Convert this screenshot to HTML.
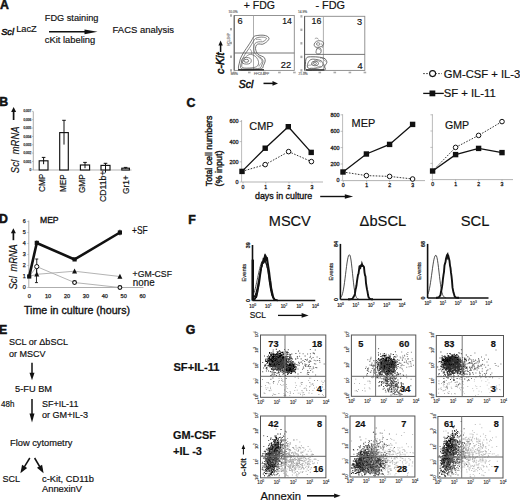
<!DOCTYPE html>
<html><head><meta charset="utf-8"><style>
html,body{margin:0;padding:0;background:#fff;}
svg{display:block;}
text{font-family:"Liberation Sans", sans-serif;}
</style></head><body>
<svg width="520" height="500" viewBox="0 0 520 500" font-family='"Liberation Sans", sans-serif' fill="#111">
<rect width="520" height="500" fill="#fff"/>
<text x="-0.1" y="8.6" font-size="12.3" font-weight="bold" stroke="#111" stroke-width="0.5">A</text>
<text x="1.2" y="34.5" font-size="9.6" font-style="italic" stroke="#111" stroke-width="0.5" textLength="12.8" lengthAdjust="spacingAndGlyphs">Scl</text>
<text x="16.2" y="32.0" font-size="9" stroke="#111" stroke-width="0.18" textLength="20.6" lengthAdjust="spacingAndGlyphs">LacZ</text>
<text x="44.8" y="20.9" font-size="9.2" stroke="#111" stroke-width="0.18" textLength="53.6" lengthAdjust="spacingAndGlyphs">FDG staining</text>
<line x1="49" y1="31.8" x2="85.0" y2="31.8" stroke="#111" stroke-width="1.4"/>
<path d="M97.5,31.8 L84.5,29.400000000000002 L84.5,34.2 Z" fill="#111" stroke="none" stroke-width="1"/>
<text x="44.8" y="42.5" font-size="9.2" stroke="#111" stroke-width="0.18" textLength="50.4" lengthAdjust="spacingAndGlyphs">cKit labeling</text>
<text x="112.6" y="33.0" font-size="9.3" stroke="#111" stroke-width="0.18" textLength="61.4" lengthAdjust="spacingAndGlyphs">FACS analysis</text>
<text x="243.8" y="8.6" font-size="10.6" stroke="#111" stroke-width="0.18" textLength="31.2" lengthAdjust="spacingAndGlyphs">+ FDG</text>
<text x="315.4" y="8.6" font-size="10.6" stroke="#111" stroke-width="0.18" textLength="29.6" lengthAdjust="spacingAndGlyphs">- FDG</text>
<rect x="234.2" y="15.5" width="60.10000000000002" height="54.900000000000006" fill="none" stroke="#888" stroke-width="0.9"/>
<line x1="234.2" y1="15.5" x2="234.2" y2="70.4" stroke="#555" stroke-width="0.9"/>
<line x1="253.5" y1="15.5" x2="253.5" y2="70.4" stroke="#999" stroke-width="0.8"/>
<line x1="234.2" y1="53.0" x2="294.3" y2="53.0" stroke="#666" stroke-width="0.9"/>
<rect x="230.0" y="69.2" width="2.0" height="2.4" fill="#aaa"/>
<rect x="233.0" y="71.7" width="2.6" height="1.6" fill="#aaa"/>
<rect x="230.0" y="55.5" width="2.0" height="2.4" fill="#aaa"/>
<rect x="248.0" y="71.7" width="2.6" height="1.6" fill="#aaa"/>
<rect x="230.0" y="41.8" width="2.0" height="2.4" fill="#aaa"/>
<rect x="263.1" y="71.7" width="2.6" height="1.6" fill="#aaa"/>
<rect x="230.0" y="28.0" width="2.0" height="2.4" fill="#aaa"/>
<rect x="278.1" y="71.7" width="2.6" height="1.6" fill="#aaa"/>
<rect x="230.0" y="14.3" width="2.0" height="2.4" fill="#aaa"/>
<rect x="293.1" y="71.7" width="2.6" height="1.6" fill="#aaa"/>
<rect x="304.6" y="16.3" width="60.19999999999999" height="54.10000000000001" fill="none" stroke="#888" stroke-width="0.9"/>
<line x1="304.6" y1="16.3" x2="304.6" y2="70.4" stroke="#555" stroke-width="0.9"/>
<line x1="323.4" y1="16.3" x2="323.4" y2="70.4" stroke="#999" stroke-width="0.8"/>
<line x1="304.6" y1="54.4" x2="364.8" y2="54.4" stroke="#666" stroke-width="0.9"/>
<rect x="300.40000000000003" y="69.2" width="2.0" height="2.4" fill="#aaa"/>
<rect x="303.4" y="71.7" width="2.6" height="1.6" fill="#aaa"/>
<rect x="300.40000000000003" y="55.7" width="2.0" height="2.4" fill="#aaa"/>
<rect x="318.5" y="71.7" width="2.6" height="1.6" fill="#aaa"/>
<rect x="300.40000000000003" y="42.1" width="2.0" height="2.4" fill="#aaa"/>
<rect x="333.5" y="71.7" width="2.6" height="1.6" fill="#aaa"/>
<rect x="300.40000000000003" y="28.6" width="2.0" height="2.4" fill="#aaa"/>
<rect x="348.6" y="71.7" width="2.6" height="1.6" fill="#aaa"/>
<rect x="300.40000000000003" y="15.1" width="2.0" height="2.4" fill="#aaa"/>
<rect x="363.6" y="71.7" width="2.6" height="1.6" fill="#aaa"/>
<text x="228.5" y="13.3" font-size="3.2" fill="#777" stroke="#777" stroke-width="0.18">10.0%</text>
<text x="230.8" y="74.5" font-size="3.2" fill="#777" stroke="#777" stroke-width="0.18">Ms%</text>
<text x="254" y="74.5" font-size="3.2" fill="#777" stroke="#777" stroke-width="0.18">FFC/LAPP</text>
<text x="298" y="13.3" font-size="3.2" fill="#777" stroke="#777" stroke-width="0.18">14.9%</text>
<text x="298.5" y="74.5" font-size="3.2" fill="#777" stroke="#777" stroke-width="0.18">21.0%</text>
<text transform="translate(229.8,46) rotate(-90)" font-size="3.2" fill="#777" stroke="#777" stroke-width="0.18">HCLSHP</text>
<text x="237.4" y="23.6" font-size="9.2" stroke="#111" stroke-width="0.18">6</text>
<text x="282.3" y="23.5" font-size="9.2" stroke="#111" stroke-width="0.18" textLength="9.6" lengthAdjust="spacingAndGlyphs">14</text>
<text x="280.7" y="68.2" font-size="9.2" stroke="#111" stroke-width="0.18" textLength="10.4" lengthAdjust="spacingAndGlyphs">22</text>
<text x="311.6" y="24.2" font-size="9.2" stroke="#111" stroke-width="0.18" textLength="9.8" lengthAdjust="spacingAndGlyphs">16</text>
<text x="357.0" y="24.6" font-size="9.2" stroke="#111" stroke-width="0.18">3</text>
<text x="357.5" y="68.9" font-size="9.2" stroke="#111" stroke-width="0.18">4</text>
<text transform="translate(224.3,74.0) rotate(-90)" font-size="10.2" font-style="italic" stroke="#111" stroke-width="0.55" textLength="21.5" lengthAdjust="spacingAndGlyphs">c-Kit</text>
<line x1="220.6" y1="52" x2="220.6" y2="45.0" stroke="#111" stroke-width="1.5"/>
<path d="M220.6,40.5 L218.4,45.5 L222.79999999999998,45.5 Z" fill="#111" stroke="none" stroke-width="1"/>
<text x="238.8" y="87.6" font-size="11" font-style="italic" stroke="#111" stroke-width="0.55" textLength="14.4" lengthAdjust="spacingAndGlyphs">Scl</text>
<line x1="263.5" y1="83.4" x2="273.0" y2="83.4" stroke="#111" stroke-width="1.5"/>
<path d="M278,83.4 L272.5,81.10000000000001 L272.5,85.7 Z" fill="#111" stroke="none" stroke-width="1"/>
<path d="M239.1,69.5 C237.4,68.2 239.2,64.1 239.6,62.0 C239.9,59.9 240.4,58.7 241.2,56.9 C242.0,55.1 243.5,52.8 244.6,51.0 C245.7,49.2 246.9,47.7 248.0,46.0 C249.1,44.3 250.3,42.4 251.3,40.9 C252.3,39.4 252.8,37.6 253.8,36.7 C254.8,35.8 255.6,35.8 257.2,35.5 C258.8,35.2 261.4,35.1 263.1,35.2 C264.8,35.3 266.3,35.8 267.3,36.3 C268.3,36.8 268.9,37.6 269.0,38.4 C269.1,39.2 268.3,40.2 267.7,40.9 C267.1,41.6 266.5,42.0 265.6,42.6 C264.7,43.2 263.4,44.1 262.3,44.3 C261.2,44.5 259.9,43.8 258.9,43.9 C257.9,44.0 257.0,44.3 256.4,45.1 C255.8,45.9 255.5,47.4 255.5,48.5 C255.5,49.6 256.0,50.8 256.4,51.8 C256.8,52.8 257.2,53.7 258.0,54.4 C258.8,55.1 260.3,55.5 261.4,56.0 C262.5,56.5 263.8,56.9 264.4,57.7 C265.0,58.6 265.3,59.8 265.2,61.1 C265.1,62.4 264.1,64.0 263.5,65.3 C262.9,66.6 263.6,67.9 261.4,68.7 C259.1,69.5 253.7,69.9 250.0,70.0 C246.3,70.1 240.8,70.8 239.1,69.5 Z" fill="none" stroke="#444" stroke-width="0.75"/>
<path d="M241.0,68.5 C239.6,67.4 241.1,63.9 241.5,62.0 C241.9,60.1 242.7,58.7 243.5,57.0 C244.3,55.3 245.4,53.7 246.5,52.0 C247.6,50.3 248.9,48.7 250.0,47.0 C251.1,45.3 252.1,43.4 253.0,42.0 C253.9,40.6 254.5,39.3 255.5,38.5 C256.5,37.7 257.7,37.5 259.0,37.3 C260.3,37.1 262.2,37.0 263.5,37.2 C264.8,37.4 266.2,37.8 266.5,38.3 C266.8,38.8 266.2,39.4 265.5,40.0 C264.8,40.6 263.7,41.5 262.5,41.8 C261.3,42.1 259.8,41.5 258.5,41.8 C257.2,42.1 255.8,42.5 255.0,43.5 C254.2,44.5 253.9,46.5 253.8,48.0 C253.7,49.5 254.0,51.2 254.5,52.5 C255.0,53.8 255.9,54.7 257.0,55.6 C258.1,56.5 260.0,56.9 261.0,57.8 C262.0,58.7 262.9,59.8 263.0,61.0 C263.1,62.2 262.4,63.8 261.8,65.0 C261.2,66.2 261.5,67.6 259.5,68.2 C257.5,68.8 253.1,68.8 250.0,68.8 C246.9,68.8 242.4,69.6 241.0,68.5 Z" fill="none" stroke="#555" stroke-width="0.7"/>
<path d="M242.3,67.5 C240.8,66.5 242.3,63.2 242.8,61.5 C243.3,59.8 244.4,58.4 245.5,57.2 C246.6,56.0 248.2,54.9 249.5,54.5 C250.8,54.1 251.8,54.5 253.0,55.0 C254.2,55.5 255.6,56.4 256.5,57.5 C257.4,58.6 258.3,60.1 258.5,61.5 C258.7,62.9 258.6,65.0 257.5,66.0 C256.4,67.0 254.5,67.5 252.0,67.8 C249.5,68.0 243.8,68.5 242.3,67.5 Z" fill="none" stroke="#555" stroke-width="0.7"/>
<ellipse cx="246.5" cy="60.8" rx="4.8" ry="3.3" fill="none" stroke="#555" stroke-width="0.7"/>
<ellipse cx="246.3" cy="60.8" rx="2.4" ry="1.5" fill="none" stroke="#444" stroke-width="0.7"/>
<path d="M238,69.8 L264,69.8" fill="none" stroke="#222" stroke-width="1.3"/>
<path d="M258.5,57.5 C260.5,58 262,59.5 262,61.5 C261.5,63.5 259.5,64.5 259,66.5 M250,49 C251.5,50.5 252,52.5 251.5,54 M256,39.5 C258,39 260,39.5 261.5,40" fill="none" stroke="#666" stroke-width="0.6"/>
<path d="M306.0,69.8 C304.4,68.6 305.4,65.0 305.5,63.0 C305.6,61.0 305.7,58.6 306.8,57.6 C307.9,56.6 309.9,56.9 312.0,56.8 C314.1,56.7 317.3,56.9 319.5,57.2 C321.7,57.5 323.8,57.9 325.0,58.8 C326.2,59.7 326.9,61.2 326.8,62.5 C326.7,63.8 324.8,65.3 324.5,66.5 C324.2,67.7 326.6,69.2 325.0,69.8 C323.4,70.4 318.2,70.2 315.0,70.2 C311.8,70.2 307.6,71.0 306.0,69.8 Z" fill="none" stroke="#333" stroke-width="0.75"/>
<path d="M308.0,68.0 C306.7,67.1 307.5,64.4 308.0,63.0 C308.5,61.6 309.5,60.1 311.0,59.5 C312.5,58.9 315.2,59.3 317.0,59.6 C318.8,59.9 321.1,60.4 322.0,61.5 C322.9,62.6 323.5,64.8 322.5,66.0 C321.5,67.2 318.4,68.1 316.0,68.4 C313.6,68.7 309.3,68.9 308.0,68.0 Z" fill="none" stroke="#444" stroke-width="0.7"/>
<ellipse cx="315" cy="63.5" rx="3.5" ry="2.3" fill="none" stroke="#444" stroke-width="0.7"/>
<ellipse cx="315" cy="63.5" rx="1.5" ry="1" fill="none" stroke="#444" stroke-width="0.6"/>
<path d="M314.2,44.0 C314.5,43.2 315.4,41.8 316.5,41.3 C317.6,40.8 319.3,40.5 320.5,40.8 C321.7,41.0 323.2,42.0 323.5,42.8 C323.8,43.6 323.2,45.1 322.5,45.8 C321.8,46.5 320.6,46.8 319.5,47.0 C318.4,47.2 316.8,47.5 316.0,47.3 C315.2,47.1 314.8,46.5 314.5,46.0 C314.2,45.5 313.9,44.8 314.2,44.0 Z" fill="none" stroke="#444" stroke-width="0.7"/>
<ellipse cx="318.2" cy="44" rx="1.8" ry="1.3" fill="none" stroke="#444" stroke-width="0.6"/>
<path d="M316.0,52.5 C315.9,51.6 316.5,49.2 317.2,48.5 C317.9,47.8 319.3,47.7 320.0,48.0 C320.7,48.3 321.1,49.6 321.2,50.5 C321.3,51.4 321.0,52.6 320.5,53.2 C320.0,53.8 318.8,54.1 318.0,54.0 C317.2,53.9 316.1,53.4 316.0,52.5 Z" fill="none" stroke="#444" stroke-width="0.7"/>
<path d="M306,69.8 L324,69.8" fill="none" stroke="#333" stroke-width="1.2"/>
<path d="M307,66.5 C309,64 310,66 312,64.5 C314,63 313,60.5 316,60.2 C318.5,60 319.5,62.5 321.5,62 M309.5,68.5 C311.5,67.5 313,68.8 315.5,67.8 C318,67 319,65.5 322,66.8 M320,58 C322.5,57.5 324,59.5 325.5,61.5 M323.5,64 C325,65 325.5,67.5 324,68.5" fill="none" stroke="#666" stroke-width="0.6"/>
<path d="M316,49.5 C317.5,48 319.5,48.5 320.5,50.5 M314.8,38.8 C316,37.5 318,38 318.5,39.5 M321,43.5 C322.5,44.5 323.5,46.5 322,48" fill="none" stroke="#666" stroke-width="0.6"/>
<text x="-0.7" y="106.2" font-size="12.3" font-weight="bold" stroke="#111" stroke-width="0.5">B</text>
<line x1="33.3" y1="111.5" x2="33.3" y2="170.2" stroke="#999" stroke-width="0.8"/>
<line x1="33.3" y1="170.0" x2="131.5" y2="170.0" stroke="#aaa" stroke-width="0.9"/>
<text x="31.4" y="170.9" font-size="3.2" text-anchor="end" fill="#444" stroke="#444" stroke-width="0.25">0</text>
<line x1="31.8" y1="169.8" x2="33.3" y2="169.8" stroke="#999" stroke-width="0.6"/>
<text x="31.4" y="162.55" font-size="3.2" text-anchor="end" fill="#444" stroke="#444" stroke-width="0.25">0.001</text>
<line x1="31.8" y1="161.45000000000002" x2="33.3" y2="161.45000000000002" stroke="#999" stroke-width="0.6"/>
<text x="31.4" y="154.20000000000002" font-size="3.2" text-anchor="end" fill="#444" stroke="#444" stroke-width="0.25">0.002</text>
<line x1="31.8" y1="153.10000000000002" x2="33.3" y2="153.10000000000002" stroke="#999" stroke-width="0.6"/>
<text x="31.4" y="145.85" font-size="3.2" text-anchor="end" fill="#444" stroke="#444" stroke-width="0.25">0.003</text>
<line x1="31.8" y1="144.75" x2="33.3" y2="144.75" stroke="#999" stroke-width="0.6"/>
<text x="31.4" y="137.5" font-size="3.2" text-anchor="end" fill="#444" stroke="#444" stroke-width="0.25">0.004</text>
<line x1="31.8" y1="136.4" x2="33.3" y2="136.4" stroke="#999" stroke-width="0.6"/>
<text x="31.4" y="129.15" font-size="3.2" text-anchor="end" fill="#444" stroke="#444" stroke-width="0.25">0.005</text>
<line x1="31.8" y1="128.05" x2="33.3" y2="128.05" stroke="#999" stroke-width="0.6"/>
<text x="31.4" y="120.80000000000001" font-size="3.2" text-anchor="end" fill="#444" stroke="#444" stroke-width="0.25">0.006</text>
<line x1="31.8" y1="119.70000000000002" x2="33.3" y2="119.70000000000002" stroke="#999" stroke-width="0.6"/>
<text x="31.4" y="112.45000000000002" font-size="3.2" text-anchor="end" fill="#444" stroke="#444" stroke-width="0.25">0.007</text>
<line x1="31.8" y1="111.35000000000002" x2="33.3" y2="111.35000000000002" stroke="#999" stroke-width="0.6"/>
<rect x="39.2" y="160.8" width="8.799999999999997" height="9.199999999999989" fill="#fff" stroke="#111" stroke-width="1.15"/>
<line x1="43.6" y1="157.4" x2="43.6" y2="164.2" stroke="#111" stroke-width="1.0"/>
<line x1="41.800000000000004" y1="157.4" x2="45.4" y2="157.4" stroke="#111" stroke-width="1.0"/>
<rect x="59.7" y="132.6" width="8.599999999999994" height="37.400000000000006" fill="#fff" stroke="#111" stroke-width="1.15"/>
<line x1="64.0" y1="120.3" x2="64.0" y2="144.6" stroke="#111" stroke-width="1.0"/>
<line x1="62.2" y1="120.3" x2="65.8" y2="120.3" stroke="#111" stroke-width="1.0"/>
<rect x="80.4" y="165.0" width="9.199999999999989" height="5.0" fill="#fff" stroke="#111" stroke-width="1.15"/>
<line x1="85.0" y1="162.4" x2="85.0" y2="168.2" stroke="#111" stroke-width="1.0"/>
<line x1="83.2" y1="162.4" x2="86.8" y2="162.4" stroke="#111" stroke-width="1.0"/>
<rect x="101.0" y="165.4" width="9.0" height="4.599999999999994" fill="#fff" stroke="#111" stroke-width="1.15"/>
<line x1="105.5" y1="163.3" x2="105.5" y2="172.6" stroke="#111" stroke-width="1.0"/>
<line x1="103.7" y1="163.3" x2="107.3" y2="163.3" stroke="#111" stroke-width="1.0"/>
<rect x="121.8" y="168.2" width="7.6000000000000085" height="1.8000000000000114" fill="#fff" stroke="#111" stroke-width="1.15"/>
<line x1="125.6" y1="167.4" x2="125.6" y2="168.6" stroke="#111" stroke-width="1.0"/>
<line x1="123.8" y1="167.4" x2="127.39999999999999" y2="167.4" stroke="#111" stroke-width="1.0"/>
<text transform="translate(19.3,173.2) rotate(-90)" font-size="10.8" font-style="italic" stroke="#111" stroke-width="0.18" textLength="13.2" lengthAdjust="spacingAndGlyphs">Scl</text>
<text transform="translate(19.3,154.2) rotate(-90)" font-size="10.5" font-style="italic" stroke="#111" stroke-width="0.18" textLength="27.6" lengthAdjust="spacingAndGlyphs">mRNA</text>
<line x1="13.6" y1="120.0" x2="13.6" y2="111.5" stroke="#111" stroke-width="1.7"/>
<path d="M13.6,107.0 L11.1,112.0 L16.1,112.0 Z" fill="#111" stroke="none" stroke-width="1"/>
<text transform="translate(44.9,173.8) rotate(-90)" font-size="8.3" text-anchor="end" stroke="#111" stroke-width="0.18" textLength="18.2" lengthAdjust="spacingAndGlyphs">CMP</text>
<text transform="translate(65.9,174.4) rotate(-90)" font-size="8.3" text-anchor="end" stroke="#111" stroke-width="0.18" textLength="17.6" lengthAdjust="spacingAndGlyphs">MEP</text>
<text transform="translate(85.3,174.4) rotate(-90)" font-size="8.3" text-anchor="end" stroke="#111" stroke-width="0.18" textLength="18.7" lengthAdjust="spacingAndGlyphs">GMP</text>
<text transform="translate(105.6,170.6) rotate(-90)" font-size="8.3" text-anchor="end" stroke="#111" stroke-width="0.18" textLength="31.4" lengthAdjust="spacingAndGlyphs">CD11b+</text>
<text transform="translate(129.0,175.3) rotate(-90)" font-size="8.3" text-anchor="end" stroke="#111" stroke-width="0.18" textLength="18.6" lengthAdjust="spacingAndGlyphs">Gr1+</text>
<text x="186.5" y="106.9" font-size="12.3" font-weight="bold" stroke="#111" stroke-width="0.5">C</text>
<text transform="translate(211.8,115.6) rotate(-90)" font-size="9.3" text-anchor="end" stroke="#111" stroke-width="0.4" textLength="70.6" lengthAdjust="spacingAndGlyphs">Total cell numbers</text>
<text transform="translate(222.2,150.4) rotate(-90)" font-size="9.3" text-anchor="end" stroke="#111" stroke-width="0.4" textLength="36.0" lengthAdjust="spacingAndGlyphs">(% input)</text>
<line x1="241.6" y1="120.0" x2="241.6" y2="182.0" stroke="#aaa" stroke-width="0.8"/>
<line x1="241.6" y1="182.0" x2="323" y2="182.0" stroke="#aaa" stroke-width="0.9"/>
<line x1="239.6" y1="121.4" x2="241.6" y2="121.4" stroke="#999" stroke-width="0.6"/>
<text x="238.4" y="123.30000000000001" font-size="5.4" text-anchor="end" fill="#222" stroke="#222" stroke-width="0.3">600</text>
<line x1="239.6" y1="141.6" x2="241.6" y2="141.6" stroke="#999" stroke-width="0.6"/>
<text x="238.4" y="143.5" font-size="5.4" text-anchor="end" fill="#222" stroke="#222" stroke-width="0.3">400</text>
<line x1="239.6" y1="161.8" x2="241.6" y2="161.8" stroke="#999" stroke-width="0.6"/>
<text x="238.4" y="163.70000000000002" font-size="5.4" text-anchor="end" fill="#222" stroke="#222" stroke-width="0.3">200</text>
<line x1="239.6" y1="182.0" x2="241.6" y2="182.0" stroke="#999" stroke-width="0.6"/>
<text x="238.4" y="183.9" font-size="5.4" text-anchor="end" fill="#222" stroke="#222" stroke-width="0.3">0</text>
<line x1="243" y1="182.0" x2="243" y2="183.5" stroke="#999" stroke-width="0.6"/>
<text x="243" y="188.6" font-size="5.2" text-anchor="middle" fill="#222" stroke="#222" stroke-width="0.3">0</text>
<line x1="265.8" y1="182.0" x2="265.8" y2="183.5" stroke="#999" stroke-width="0.6"/>
<text x="265.8" y="188.6" font-size="5.2" text-anchor="middle" fill="#222" stroke="#222" stroke-width="0.3">1</text>
<line x1="289" y1="182.0" x2="289" y2="183.5" stroke="#999" stroke-width="0.6"/>
<text x="289" y="188.6" font-size="5.2" text-anchor="middle" fill="#222" stroke="#222" stroke-width="0.3">2</text>
<line x1="312" y1="182.0" x2="312" y2="183.5" stroke="#999" stroke-width="0.6"/>
<text x="312" y="188.6" font-size="5.2" text-anchor="middle" fill="#222" stroke="#222" stroke-width="0.3">3</text>
<text x="249.3" y="130.4" font-size="11" stroke="#111" stroke-width="0.18" textLength="24.2" lengthAdjust="spacingAndGlyphs">CMP</text>
<path d="M242,171.4 L265.2,164.6 L288.6,151.6 L311.4,161.6" fill="none" stroke="#222" stroke-width="0.9" stroke-dasharray="1.6,1.4"/>
<path d="M242,171.4 L265.2,148.2 L288.3,126.7 L311.2,152.4" fill="none" stroke="#111" stroke-width="1.3"/>
<circle cx="265.2" cy="164.6" r="2.3" fill="#fff" stroke="#111" stroke-width="1.0"/>
<circle cx="288.6" cy="151.6" r="2.3" fill="#fff" stroke="#111" stroke-width="1.0"/>
<circle cx="311.4" cy="161.6" r="2.3" fill="#fff" stroke="#111" stroke-width="1.0"/>
<rect x="239.3" y="168.7" width="5.4" height="5.4" fill="#111"/>
<rect x="262.5" y="145.5" width="5.4" height="5.4" fill="#111"/>
<rect x="285.6" y="124.0" width="5.4" height="5.4" fill="#111"/>
<rect x="308.5" y="149.7" width="5.4" height="5.4" fill="#111"/>
<line x1="342.6" y1="114.2" x2="342.6" y2="180.6" stroke="#aaa" stroke-width="0.8"/>
<line x1="342.6" y1="180.6" x2="425" y2="180.6" stroke="#aaa" stroke-width="0.9"/>
<line x1="340.6" y1="114.8" x2="342.6" y2="114.8" stroke="#999" stroke-width="0.6"/>
<text x="339.40000000000003" y="116.7" font-size="5.4" text-anchor="end" fill="#222" stroke="#222" stroke-width="0.3">800</text>
<line x1="340.6" y1="131.3" x2="342.6" y2="131.3" stroke="#999" stroke-width="0.6"/>
<text x="339.40000000000003" y="133.20000000000002" font-size="5.4" text-anchor="end" fill="#222" stroke="#222" stroke-width="0.3">600</text>
<line x1="340.6" y1="147.6" x2="342.6" y2="147.6" stroke="#999" stroke-width="0.6"/>
<text x="339.40000000000003" y="149.5" font-size="5.4" text-anchor="end" fill="#222" stroke="#222" stroke-width="0.3">400</text>
<line x1="340.6" y1="164.0" x2="342.6" y2="164.0" stroke="#999" stroke-width="0.6"/>
<text x="339.40000000000003" y="165.9" font-size="5.4" text-anchor="end" fill="#222" stroke="#222" stroke-width="0.3">200</text>
<line x1="340.6" y1="180.4" x2="342.6" y2="180.4" stroke="#999" stroke-width="0.6"/>
<text x="339.40000000000003" y="182.3" font-size="5.4" text-anchor="end" fill="#222" stroke="#222" stroke-width="0.3">0</text>
<line x1="343.2" y1="180.6" x2="343.2" y2="182.1" stroke="#999" stroke-width="0.6"/>
<text x="343.2" y="187.2" font-size="5.2" text-anchor="middle" fill="#222" stroke="#222" stroke-width="0.3">0</text>
<line x1="366.6" y1="180.6" x2="366.6" y2="182.1" stroke="#999" stroke-width="0.6"/>
<text x="366.6" y="187.2" font-size="5.2" text-anchor="middle" fill="#222" stroke="#222" stroke-width="0.3">1</text>
<line x1="389.6" y1="180.6" x2="389.6" y2="182.1" stroke="#999" stroke-width="0.6"/>
<text x="389.6" y="187.2" font-size="5.2" text-anchor="middle" fill="#222" stroke="#222" stroke-width="0.3">2</text>
<line x1="412.6" y1="180.6" x2="412.6" y2="182.1" stroke="#999" stroke-width="0.6"/>
<text x="412.6" y="187.2" font-size="5.2" text-anchor="middle" fill="#222" stroke="#222" stroke-width="0.3">3</text>
<text x="351.6" y="126.8" font-size="11" stroke="#111" stroke-width="0.18" textLength="23.6" lengthAdjust="spacingAndGlyphs">MEP</text>
<path d="M343,172 L366.4,175.6 L389.6,176.4 L412.6,179" fill="none" stroke="#222" stroke-width="0.9" stroke-dasharray="1.6,1.4"/>
<path d="M343,172 L366.4,154 L389.6,144.4 L412.6,124.4" fill="none" stroke="#111" stroke-width="1.3"/>
<circle cx="366.4" cy="175.6" r="2.3" fill="#fff" stroke="#111" stroke-width="1.0"/>
<circle cx="389.6" cy="176.4" r="2.3" fill="#fff" stroke="#111" stroke-width="1.0"/>
<circle cx="412.6" cy="179" r="2.3" fill="#fff" stroke="#111" stroke-width="1.0"/>
<rect x="340.3" y="169.3" width="5.4" height="5.4" fill="#111"/>
<rect x="363.7" y="151.3" width="5.4" height="5.4" fill="#111"/>
<rect x="386.9" y="141.7" width="5.4" height="5.4" fill="#111"/>
<rect x="409.9" y="121.7" width="5.4" height="5.4" fill="#111"/>
<line x1="432.4" y1="114.2" x2="432.4" y2="179.6" stroke="#aaa" stroke-width="0.8"/>
<line x1="432.4" y1="179.6" x2="513" y2="179.6" stroke="#aaa" stroke-width="0.9"/>
<line x1="430.4" y1="114.8" x2="432.4" y2="114.8" stroke="#999" stroke-width="0.6"/>
<line x1="430.4" y1="131.0" x2="432.4" y2="131.0" stroke="#999" stroke-width="0.6"/>
<line x1="430.4" y1="147.4" x2="432.4" y2="147.4" stroke="#999" stroke-width="0.6"/>
<line x1="430.4" y1="163.4" x2="432.4" y2="163.4" stroke="#999" stroke-width="0.6"/>
<line x1="430.4" y1="179.6" x2="432.4" y2="179.6" stroke="#999" stroke-width="0.6"/>
<line x1="432.6" y1="179.6" x2="432.6" y2="181.1" stroke="#999" stroke-width="0.6"/>
<text x="432.6" y="186.2" font-size="5.2" text-anchor="middle" fill="#222" stroke="#222" stroke-width="0.3">0</text>
<line x1="455.6" y1="179.6" x2="455.6" y2="181.1" stroke="#999" stroke-width="0.6"/>
<text x="455.6" y="186.2" font-size="5.2" text-anchor="middle" fill="#222" stroke="#222" stroke-width="0.3">1</text>
<line x1="478.6" y1="179.6" x2="478.6" y2="181.1" stroke="#999" stroke-width="0.6"/>
<text x="478.6" y="186.2" font-size="5.2" text-anchor="middle" fill="#222" stroke="#222" stroke-width="0.3">2</text>
<line x1="502" y1="179.6" x2="502" y2="181.1" stroke="#999" stroke-width="0.6"/>
<text x="502" y="186.2" font-size="5.2" text-anchor="middle" fill="#222" stroke="#222" stroke-width="0.3">3</text>
<text x="444.9" y="129.2" font-size="11" stroke="#111" stroke-width="0.18" textLength="24.2" lengthAdjust="spacingAndGlyphs">GMP</text>
<path d="M432.6,171 L455.6,147.4 L478.6,135.4 L502,121.6" fill="none" stroke="#222" stroke-width="0.9" stroke-dasharray="1.6,1.4"/>
<path d="M432.6,171 L455.6,154.6 L478.6,148.4 L502,152.6" fill="none" stroke="#111" stroke-width="1.3"/>
<circle cx="455.6" cy="147.4" r="2.3" fill="#fff" stroke="#111" stroke-width="1.0"/>
<circle cx="478.6" cy="135.4" r="2.3" fill="#fff" stroke="#111" stroke-width="1.0"/>
<circle cx="502" cy="121.6" r="2.3" fill="#fff" stroke="#111" stroke-width="1.0"/>
<rect x="429.9" y="168.3" width="5.4" height="5.4" fill="#111"/>
<rect x="452.9" y="151.9" width="5.4" height="5.4" fill="#111"/>
<rect x="475.9" y="145.7" width="5.4" height="5.4" fill="#111"/>
<rect x="499.3" y="149.9" width="5.4" height="5.4" fill="#111"/>
<text x="255.0" y="198.6" font-size="9.4" stroke="#111" stroke-width="0.35" textLength="57.2" lengthAdjust="spacingAndGlyphs">days in culture</text>
<line x1="320.2" y1="196.5" x2="345.3" y2="196.5" stroke="#111" stroke-width="1.4"/>
<path d="M353.1,196.5 L344.8,194.2 L344.8,198.8 Z" fill="#111" stroke="none" stroke-width="1"/>
<path d="M423.2,73.6 L441.8,73.6" fill="none" stroke="#222" stroke-width="0.9" stroke-dasharray="1.6,1.4"/>
<circle cx="432.6" cy="73.6" r="3.0" fill="#fff" stroke="#111" stroke-width="1.1"/>
<text x="443.8" y="77.9" font-size="10.4" stroke="#111" stroke-width="0.18" textLength="76.5" lengthAdjust="spacingAndGlyphs">GM-CSF + IL-3</text>
<line x1="423.2" y1="93.4" x2="443.8" y2="93.4" stroke="#111" stroke-width="1.3"/>
<rect x="429.5" y="90.5" width="5.8" height="5.8" fill="#111"/>
<text x="443.8" y="97.0" font-size="10.4" stroke="#111" stroke-width="0.18" textLength="52.0" lengthAdjust="spacingAndGlyphs">SF + IL-11</text>
<text x="-0.9" y="222.8" font-size="12.3" font-weight="bold" stroke="#111" stroke-width="0.5">D</text>
<text x="40.0" y="223.4" font-size="9.4" stroke="#111" stroke-width="0.35" textLength="18.6" lengthAdjust="spacingAndGlyphs">MEP</text>
<line x1="28.8" y1="220.5" x2="28.8" y2="287.5" stroke="#999" stroke-width="0.8"/>
<line x1="28.8" y1="287.5" x2="143.5" y2="287.5" stroke="#999" stroke-width="0.8"/>
<text x="25.8" y="289.4" font-size="5.4" text-anchor="end" fill="#222" stroke="#222" stroke-width="0.25">0</text>
<line x1="27.3" y1="287.5" x2="28.8" y2="287.5" stroke="#999" stroke-width="0.6"/>
<text x="25.8" y="278.4" font-size="5.4" text-anchor="end" fill="#222" stroke="#222" stroke-width="0.25">1</text>
<line x1="27.3" y1="276.5" x2="28.8" y2="276.5" stroke="#999" stroke-width="0.6"/>
<text x="25.8" y="267.4" font-size="5.4" text-anchor="end" fill="#222" stroke="#222" stroke-width="0.25">2</text>
<line x1="27.3" y1="265.5" x2="28.8" y2="265.5" stroke="#999" stroke-width="0.6"/>
<text x="25.8" y="256.4" font-size="5.4" text-anchor="end" fill="#222" stroke="#222" stroke-width="0.25">3</text>
<line x1="27.3" y1="254.5" x2="28.8" y2="254.5" stroke="#999" stroke-width="0.6"/>
<text x="25.8" y="245.4" font-size="5.4" text-anchor="end" fill="#222" stroke="#222" stroke-width="0.25">4</text>
<line x1="27.3" y1="243.5" x2="28.8" y2="243.5" stroke="#999" stroke-width="0.6"/>
<text x="25.8" y="234.4" font-size="5.4" text-anchor="end" fill="#222" stroke="#222" stroke-width="0.25">5</text>
<line x1="27.3" y1="232.5" x2="28.8" y2="232.5" stroke="#999" stroke-width="0.6"/>
<text x="25.8" y="223.4" font-size="5.4" text-anchor="end" fill="#222" stroke="#222" stroke-width="0.25">6</text>
<line x1="27.3" y1="221.5" x2="28.8" y2="221.5" stroke="#999" stroke-width="0.6"/>
<text x="29.2" y="297.6" font-size="5.6" text-anchor="middle" fill="#222" stroke="#222" stroke-width="0.25">0</text>
<text x="48.099999999999994" y="297.6" font-size="5.6" text-anchor="middle" fill="#222" stroke="#222" stroke-width="0.25">10</text>
<text x="67.0" y="297.6" font-size="5.6" text-anchor="middle" fill="#222" stroke="#222" stroke-width="0.25">20</text>
<text x="85.89999999999999" y="297.6" font-size="5.6" text-anchor="middle" fill="#222" stroke="#222" stroke-width="0.25">30</text>
<text x="104.8" y="297.6" font-size="5.6" text-anchor="middle" fill="#222" stroke="#222" stroke-width="0.25">40</text>
<text x="123.7" y="297.6" font-size="5.6" text-anchor="middle" fill="#222" stroke="#222" stroke-width="0.25">50</text>
<text x="142.6" y="297.6" font-size="5.6" text-anchor="middle" fill="#222" stroke="#222" stroke-width="0.25">60</text>
<text transform="translate(17.0,289.6) rotate(-90)" font-size="10.6" font-style="italic" stroke="#111" stroke-width="0.18" textLength="13.4" lengthAdjust="spacingAndGlyphs">Scl</text>
<text transform="translate(17.0,271.4) rotate(-90)" font-size="10.4" font-style="italic" stroke="#111" stroke-width="0.18" textLength="27.0" lengthAdjust="spacingAndGlyphs">mRNA</text>
<line x1="13.4" y1="240.2" x2="13.4" y2="232.7" stroke="#111" stroke-width="1.7"/>
<path d="M13.4,228.2 L10.9,233.2 L15.9,233.2 Z" fill="#111" stroke="none" stroke-width="1"/>
<path d="M29.2,276.5 L36.76,266.6 L74.56,282.55 L119.92,287.5" fill="none" stroke="#aaa" stroke-width="0.9"/>
<path d="M29.2,276.5 L36.76,274.3 L74.56,271.22 L119.92,276.5" fill="none" stroke="#aaa" stroke-width="0.9"/>
<line x1="36.76" y1="259.0" x2="36.76" y2="274.0" stroke="#111" stroke-width="0.9"/>
<line x1="35.26" y1="259.0" x2="38.26" y2="259.0" stroke="#111" stroke-width="0.9"/>
<line x1="36.46" y1="269.0" x2="36.46" y2="282.6" stroke="#111" stroke-width="0.9"/>
<line x1="34.96" y1="282.6" x2="37.96" y2="282.6" stroke="#111" stroke-width="0.9"/>
<path d="M29.2,276.5 L36.76,242.95 L74.56,259.45 L119.92,232.5" fill="none" stroke="#111" stroke-width="2.6" stroke-linejoin="round"/>
<rect x="27.1" y="274.4" width="4.2" height="4.2" fill="#111"/>
<rect x="34.7" y="240.8" width="4.2" height="4.2" fill="#111"/>
<rect x="72.5" y="257.3" width="4.2" height="4.2" fill="#111"/>
<rect x="117.8" y="230.4" width="4.2" height="4.2" fill="#111"/>
<line x1="119.92" y1="229.7" x2="119.92" y2="235.3" stroke="#111" stroke-width="1.0"/>
<line x1="36.76" y1="240.54999999999998" x2="36.76" y2="245.35" stroke="#111" stroke-width="1.0"/>
<path d="M36.76,271.6 L39.3,276.6 L34.3,276.6 Z" fill="#111"/>
<path d="M74.56,268.5 L77.1,273.5 L72.1,273.5 Z" fill="#111"/>
<path d="M119.92,273.8 L122.4,278.8 L117.4,278.8 Z" fill="#111"/>
<circle cx="36.76" cy="266.6" r="2.1" fill="#fff" stroke="#111" stroke-width="1.0"/>
<circle cx="74.56" cy="282.55" r="1.9" fill="#fff" stroke="#111" stroke-width="1.1"/>
<circle cx="119.92" cy="287.5" r="1.9" fill="#fff" stroke="#111" stroke-width="1.1"/>
<text x="132.0" y="233.6" font-size="10.2" stroke="#111" stroke-width="0.18" textLength="15.6" lengthAdjust="spacingAndGlyphs">+SF</text>
<text x="132.6" y="276.6" font-size="9.6" stroke="#111" stroke-width="0.18" textLength="39.4" lengthAdjust="spacingAndGlyphs">+GM-CSF</text>
<text x="132.8" y="285.8" font-size="10.2" stroke="#111" stroke-width="0.18" textLength="21.8" lengthAdjust="spacingAndGlyphs">none</text>
<text x="24.0" y="313.6" font-size="10.4" stroke="#111" stroke-width="0.35" textLength="106.0" lengthAdjust="spacingAndGlyphs">Time in culture  (hours)</text>
<text x="-0.9" y="333.7" font-size="12.3" font-weight="bold" stroke="#111" stroke-width="0.5">E</text>
<text x="9.0" y="344.6" font-size="9.0" stroke="#111" stroke-width="0.18" textLength="59.0" lengthAdjust="spacingAndGlyphs">SCL or ΔbSCL</text>
<text x="9.0" y="356.6" font-size="9.0" stroke="#111" stroke-width="0.18" textLength="36.6" lengthAdjust="spacingAndGlyphs">or MSCV</text>
<line x1="32.0" y1="362.7" x2="32.0" y2="373.2" stroke="#111" stroke-width="1.5"/>
<path d="M32.0,380.2 L29.5,372.7 L34.5,372.7 Z" fill="#111" stroke="none" stroke-width="1"/>
<text x="15.0" y="391.6" font-size="9.0" stroke="#111" stroke-width="0.18" textLength="37.0" lengthAdjust="spacingAndGlyphs">5-FU BM</text>
<line x1="32.0" y1="398.9" x2="32.0" y2="413.9" stroke="#111" stroke-width="1.5"/>
<path d="M32.0,422.4 L29.5,413.4 L34.5,413.4 Z" fill="#111" stroke="none" stroke-width="1"/>
<text x="1.0" y="407.2" font-size="9.0" stroke="#111" stroke-width="0.18" textLength="13.4" lengthAdjust="spacingAndGlyphs">48h</text>
<text x="42.0" y="407.2" font-size="9.0" stroke="#111" stroke-width="0.18" textLength="36.4" lengthAdjust="spacingAndGlyphs">SF+IL-11</text>
<text x="42.0" y="417.6" font-size="9.0" stroke="#111" stroke-width="0.18" textLength="46.0" lengthAdjust="spacingAndGlyphs">or GM+IL-3</text>
<text x="10.0" y="446.4" font-size="9.2" stroke="#111" stroke-width="0.18" textLength="62.4" lengthAdjust="spacingAndGlyphs">Flow cytometry</text>
<line x1="29.8" y1="458.0" x2="24.344769767168604" y2="466.8212233552167" stroke="#111" stroke-width="1.5"/>
<path d="M20.40,473.20 L22.06,464.82 L27.16,467.97 Z" fill="#111" stroke="none" stroke-width="1"/>
<line x1="34.6" y1="458.0" x2="39.77880994999172" y2="466.7464345822082" stroke="#111" stroke-width="1.5"/>
<path d="M43.60,473.20 L36.94,467.84 L42.11,464.79 Z" fill="#111" stroke="none" stroke-width="1"/>
<text x="2.4" y="482.4" font-size="9.0" stroke="#111" stroke-width="0.18" textLength="17.6" lengthAdjust="spacingAndGlyphs">SCL</text>
<text x="42.0" y="482.2" font-size="9.0" stroke="#111" stroke-width="0.18" textLength="52.0" lengthAdjust="spacingAndGlyphs">c-Kit, CD11b</text>
<text x="42.0" y="492.4" font-size="9.0" stroke="#111" stroke-width="0.18" textLength="40.0" lengthAdjust="spacingAndGlyphs">AnnexinV</text>
<text x="188.2" y="223.5" font-size="12.3" font-weight="bold" stroke="#111" stroke-width="0.5">F</text>
<text x="268.8" y="226.3" font-size="14.5" stroke="#111" stroke-width="0.18" textLength="42.0" lengthAdjust="spacingAndGlyphs">MSCV</text>
<text x="359.6" y="226.3" font-size="14.5" stroke="#111" stroke-width="0.18" textLength="46.6" lengthAdjust="spacingAndGlyphs">ΔbSCL</text>
<text x="460.8" y="226.3" font-size="14.5" stroke="#111" stroke-width="0.18" textLength="28.6" lengthAdjust="spacingAndGlyphs">SCL</text>
<line x1="252.8" y1="259.6" x2="252.8" y2="300.5" stroke="#111" stroke-width="2.4"/>
<line x1="252.5" y1="245.0" x2="252.5" y2="300.5" stroke="#111" stroke-width="1.6"/>
<line x1="252.5" y1="300.5" x2="315.3" y2="300.5" stroke="#111" stroke-width="1.6"/>
<text transform="translate(250.1,248.2) rotate(-90)" font-size="5.4" font-weight="bold" fill="#222" stroke="#222" stroke-width="0.2">39</text>
<text transform="translate(250.1,302.1) rotate(-90)" font-size="5.4" font-weight="bold" fill="#222" stroke="#222" stroke-width="0.2">0</text>
<text transform="translate(245.5,281.75) rotate(-90)" font-size="5.2" fill="#222" stroke="#222" stroke-width="0.18" textLength="18" lengthAdjust="spacingAndGlyphs">Events</text>
<text x="251.7" y="307.7" font-size="5.0" text-anchor="middle" fill="#222" stroke="#222" stroke-width="0.2" textLength="4.8" lengthAdjust="spacingAndGlyphs">10</text>
<text x="255.1" y="305.7" font-size="3.4" text-anchor="middle" fill="#222" stroke="#222" stroke-width="0.12">0</text>
<text x="267.4" y="307.7" font-size="5.0" text-anchor="middle" fill="#222" stroke="#222" stroke-width="0.2" textLength="4.8" lengthAdjust="spacingAndGlyphs">10</text>
<text x="270.8" y="305.7" font-size="3.4" text-anchor="middle" fill="#222" stroke="#222" stroke-width="0.12">1</text>
<text x="283.09999999999997" y="307.7" font-size="5.0" text-anchor="middle" fill="#222" stroke="#222" stroke-width="0.2" textLength="4.8" lengthAdjust="spacingAndGlyphs">10</text>
<text x="286.5" y="305.7" font-size="3.4" text-anchor="middle" fill="#222" stroke="#222" stroke-width="0.12">2</text>
<text x="298.8" y="307.7" font-size="5.0" text-anchor="middle" fill="#222" stroke="#222" stroke-width="0.2" textLength="4.8" lengthAdjust="spacingAndGlyphs">10</text>
<text x="302.20000000000005" y="305.7" font-size="3.4" text-anchor="middle" fill="#222" stroke="#222" stroke-width="0.12">3</text>
<text x="314.5" y="307.7" font-size="5.0" text-anchor="middle" fill="#222" stroke="#222" stroke-width="0.2" textLength="4.8" lengthAdjust="spacingAndGlyphs">10</text>
<text x="317.90000000000003" y="305.7" font-size="3.4" text-anchor="middle" fill="#222" stroke="#222" stroke-width="0.12">4</text>
<path d="M253.2,294.8 L253.7,293.6 L254.2,292.1 L254.7,290.5 L255.2,288.7 L255.7,286.7 L256.2,284.5 L256.7,282.3 L257.2,279.9 L257.7,277.5 L258.2,275.2 L258.7,272.8 L259.2,270.6 L259.7,268.5 L260.2,266.6 L260.7,264.8 L261.2,263.4 L261.7,262.1 L262.2,261.2 L262.7,260.5 L263.2,260.0 L263.7,259.8 L264.2,259.7 L264.7,259.8 L265.2,260.2 L265.7,261.1 L266.2,262.6 L266.7,264.7 L267.2,267.2 L267.7,270.2 L268.2,273.6 L268.7,277.0 L269.2,280.6 L269.7,284.0 L270.2,287.1 L270.7,290.0 L271.2,292.4 L271.7,294.4 L272.2,296.0 L272.7,297.3 L273.2,298.2 L273.7,298.9 L274.2,299.4 L274.7,299.7 L275.2,299.9 L275.7,300.0" fill="none" stroke="#222" stroke-width="0.8"/>
<path d="M253.2,299.9 L253.7,299.7 L254.2,299.4 L254.7,299.0 L255.2,298.3 L255.7,296.8 L256.2,296.9 L256.7,295.4 L257.2,292.7 L257.7,290.5 L258.2,287.3 L258.7,285.3 L259.2,282.0 L259.7,278.7 L260.2,274.7 L260.7,271.6 L261.2,267.4 L261.7,266.4 L262.2,262.8 L262.7,262.2 L263.2,261.0 L263.7,257.9 L264.2,259.3 L264.7,256.9 L265.2,258.5 L265.7,256.3 L266.2,257.4 L266.7,259.7 L267.2,259.1 L267.7,262.6 L268.2,265.8 L268.7,269.2 L269.2,272.2 L269.7,276.6 L270.2,280.2 L270.7,283.1 L271.2,288.0 L271.7,289.9 L272.2,292.6 L272.7,294.8 L273.2,297.0 L273.7,298.0 L274.2,298.9 L274.7,299.5 L275.2,299.8 L275.7,300.0 L276.2,300.1 L276.7,300.1 L277.2,300.2 L277.7,300.2" fill="none" stroke="#111" stroke-width="1.9"/>
<path d="M253.2,298.5 L253.7,297.5 L254.2,297.2 L254.7,295.7 L255.2,295.5 L255.7,293.7 L256.2,292.2 L256.7,290.1 L257.2,288.1 L257.7,285.7 L258.2,282.6 L258.7,280.7 L259.2,277.1 L259.7,275.3 L260.2,271.9 L260.7,270.5 L261.2,269.1 L261.7,266.7 L262.2,264.9 L262.7,262.9 L263.2,262.5 L263.7,263.0 L264.2,262.2 L264.7,261.2 L265.2,261.2 L265.7,262.3 L266.2,263.9 L266.7,264.9 L267.2,267.5 L267.7,268.6 L268.2,271.8 L268.7,275.8 L269.2,279.7 L269.7,283.7 L270.2,285.9 L270.7,290.0 L271.2,291.4 L271.7,294.7 L272.2,295.8 L272.7,297.0 L273.2,298.2 L273.7,298.9 L274.2,299.4 L274.7,299.7 L275.2,299.9 L275.7,300.0 L276.2,300.1 L276.7,300.2" fill="none" stroke="#111" stroke-width="1.2"/>
<line x1="340.4" y1="243.9" x2="340.4" y2="299.5" stroke="#111" stroke-width="1.6"/>
<line x1="340.4" y1="299.5" x2="401.9" y2="299.5" stroke="#111" stroke-width="1.6"/>
<text transform="translate(338.0,247.1) rotate(-90)" font-size="5.4" font-weight="bold" fill="#222" stroke="#222" stroke-width="0.2">84</text>
<text transform="translate(338.0,301.1) rotate(-90)" font-size="5.4" font-weight="bold" fill="#222" stroke="#222" stroke-width="0.2">0</text>
<text transform="translate(333.4,280.7) rotate(-90)" font-size="5.2" fill="#222" stroke="#222" stroke-width="0.18" textLength="18" lengthAdjust="spacingAndGlyphs">Events</text>
<text x="339.59999999999997" y="306.7" font-size="5.0" text-anchor="middle" fill="#222" stroke="#222" stroke-width="0.2" textLength="4.8" lengthAdjust="spacingAndGlyphs">10</text>
<text x="343.0" y="304.7" font-size="3.4" text-anchor="middle" fill="#222" stroke="#222" stroke-width="0.12">0</text>
<text x="354.97499999999997" y="306.7" font-size="5.0" text-anchor="middle" fill="#222" stroke="#222" stroke-width="0.2" textLength="4.8" lengthAdjust="spacingAndGlyphs">10</text>
<text x="358.375" y="304.7" font-size="3.4" text-anchor="middle" fill="#222" stroke="#222" stroke-width="0.12">1</text>
<text x="370.34999999999997" y="306.7" font-size="5.0" text-anchor="middle" fill="#222" stroke="#222" stroke-width="0.2" textLength="4.8" lengthAdjust="spacingAndGlyphs">10</text>
<text x="373.75" y="304.7" font-size="3.4" text-anchor="middle" fill="#222" stroke="#222" stroke-width="0.12">2</text>
<text x="385.72499999999997" y="306.7" font-size="5.0" text-anchor="middle" fill="#222" stroke="#222" stroke-width="0.2" textLength="4.8" lengthAdjust="spacingAndGlyphs">10</text>
<text x="389.125" y="304.7" font-size="3.4" text-anchor="middle" fill="#222" stroke="#222" stroke-width="0.12">3</text>
<text x="401.09999999999997" y="306.7" font-size="5.0" text-anchor="middle" fill="#222" stroke="#222" stroke-width="0.2" textLength="4.8" lengthAdjust="spacingAndGlyphs">10</text>
<text x="404.5" y="304.7" font-size="3.4" text-anchor="middle" fill="#222" stroke="#222" stroke-width="0.12">4</text>
<path d="M341.0,297.4 L341.5,296.5 L342.0,295.3 L342.5,293.7 L343.0,291.7 L343.5,289.1 L344.0,286.1 L344.5,282.6 L345.0,278.8 L345.5,274.7 L346.0,270.6 L346.5,266.7 L347.0,263.0 L347.5,259.9 L348.0,257.5 L348.5,255.8 L349.0,255.0 L349.5,254.8 L350.0,255.4 L350.5,257.2 L351.0,260.0 L351.5,263.9 L352.0,268.4 L352.5,273.3 L353.0,278.2 L353.5,282.8 L354.0,286.9 L354.5,290.3 L355.0,293.0 L355.5,295.1 L356.0,296.6 L356.5,297.6 L357.0,298.3 L357.5,298.7 L358.0,298.9 L358.5,299.1 L359.0,299.1" fill="none" stroke="#222" stroke-width="0.8"/>
<path d="M348.0,299.2 L348.5,299.2 L349.0,299.2 L349.5,299.2 L350.0,299.2 L350.5,299.1 L351.0,299.1 L351.5,299.0 L352.0,298.8 L352.5,298.4 L353.0,297.9 L353.5,297.1 L354.0,296.1 L354.5,295.3 L355.0,293.4 L355.5,289.8 L356.0,287.7 L356.5,285.3 L357.0,281.1 L357.5,277.9 L358.0,274.9 L358.5,273.8 L359.0,270.2 L359.5,266.3 L360.0,266.0 L360.5,267.0 L361.0,264.7 L361.5,266.8 L362.0,264.3 L362.5,265.8 L363.0,265.8 L363.5,266.3 L364.0,267.1 L364.5,272.3 L365.0,275.2 L365.5,276.4 L366.0,283.2 L366.5,286.3 L367.0,289.4 L367.5,291.6 L368.0,294.8 L368.5,297.1 L369.0,297.8 L369.5,298.5 L370.0,298.9 L370.5,299.1 L371.0,299.1 L371.5,299.2 L372.0,299.2 L372.5,299.2 L373.0,299.2" fill="none" stroke="#111" stroke-width="1.9"/>
<line x1="427.6" y1="243.9" x2="427.6" y2="298.0" stroke="#111" stroke-width="1.6"/>
<line x1="427.6" y1="298.0" x2="488.5" y2="298.0" stroke="#111" stroke-width="1.6"/>
<text transform="translate(425.20000000000005,247.1) rotate(-90)" font-size="5.4" font-weight="bold" fill="#222" stroke="#222" stroke-width="0.2">68</text>
<text transform="translate(425.20000000000005,299.6) rotate(-90)" font-size="5.4" font-weight="bold" fill="#222" stroke="#222" stroke-width="0.2">0</text>
<text transform="translate(420.6,279.95) rotate(-90)" font-size="5.2" fill="#222" stroke="#222" stroke-width="0.18" textLength="18" lengthAdjust="spacingAndGlyphs">Events</text>
<text x="426.8" y="305.2" font-size="5.0" text-anchor="middle" fill="#222" stroke="#222" stroke-width="0.2" textLength="4.8" lengthAdjust="spacingAndGlyphs">10</text>
<text x="430.20000000000005" y="303.2" font-size="3.4" text-anchor="middle" fill="#222" stroke="#222" stroke-width="0.12">0</text>
<text x="442.02500000000003" y="305.2" font-size="5.0" text-anchor="middle" fill="#222" stroke="#222" stroke-width="0.2" textLength="4.8" lengthAdjust="spacingAndGlyphs">10</text>
<text x="445.42500000000007" y="303.2" font-size="3.4" text-anchor="middle" fill="#222" stroke="#222" stroke-width="0.12">1</text>
<text x="457.25" y="305.2" font-size="5.0" text-anchor="middle" fill="#222" stroke="#222" stroke-width="0.2" textLength="4.8" lengthAdjust="spacingAndGlyphs">10</text>
<text x="460.65000000000003" y="303.2" font-size="3.4" text-anchor="middle" fill="#222" stroke="#222" stroke-width="0.12">2</text>
<text x="472.47499999999997" y="305.2" font-size="5.0" text-anchor="middle" fill="#222" stroke="#222" stroke-width="0.2" textLength="4.8" lengthAdjust="spacingAndGlyphs">10</text>
<text x="475.875" y="303.2" font-size="3.4" text-anchor="middle" fill="#222" stroke="#222" stroke-width="0.12">3</text>
<text x="487.7" y="305.2" font-size="5.0" text-anchor="middle" fill="#222" stroke="#222" stroke-width="0.2" textLength="4.8" lengthAdjust="spacingAndGlyphs">10</text>
<text x="491.1" y="303.2" font-size="3.4" text-anchor="middle" fill="#222" stroke="#222" stroke-width="0.12">4</text>
<path d="M428.0,294.0 L428.5,292.5 L429.0,290.7 L429.5,288.4 L430.0,285.8 L430.5,282.7 L431.0,279.3 L431.5,275.7 L432.0,272.0 L432.5,268.3 L433.0,264.9 L433.5,261.8 L434.0,259.2 L434.5,257.3 L435.0,256.0 L435.5,255.4 L436.0,255.3 L436.5,256.0 L437.0,257.7 L437.5,260.3 L438.0,263.6 L438.5,267.6 L439.0,272.0 L439.5,276.4 L440.0,280.6 L440.5,284.5 L441.0,287.8 L441.5,290.6 L442.0,292.7 L442.5,294.4 L443.0,295.5 L443.5,296.4 L444.0,296.9 L444.5,297.2 L445.0,297.4 L445.5,297.6 L446.0,297.6" fill="none" stroke="#222" stroke-width="0.8"/>
<path d="M436.0,297.7 L436.5,297.7 L437.0,297.7 L437.5,297.6 L438.0,297.5 L438.5,297.4 L439.0,297.1 L439.5,296.5 L440.0,295.7 L440.5,294.9 L441.0,291.8 L441.5,289.8 L442.0,286.9 L442.5,283.4 L443.0,278.5 L443.5,274.9 L444.0,271.8 L444.5,265.5 L445.0,263.6 L445.5,262.1 L446.0,258.8 L446.5,256.9 L447.0,255.1 L447.5,254.4 L448.0,257.5 L448.5,256.7 L449.0,258.7 L449.5,260.8 L450.0,265.6 L450.5,267.9 L451.0,272.7 L451.5,276.2 L452.0,280.9 L452.5,287.4 L453.0,290.1 L453.5,292.6 L454.0,294.0 L454.5,295.9 L455.0,296.8 L455.5,297.2 L456.0,297.5 L456.5,297.6 L457.0,297.7 L457.5,297.7 L458.0,297.7 L458.5,297.7 L459.0,297.7" fill="none" stroke="#111" stroke-width="1.9"/>
<text x="249.8" y="317.6" font-size="8.4" stroke="#111" stroke-width="0.18" textLength="16.2" lengthAdjust="spacingAndGlyphs">SCL</text>
<line x1="278" y1="315.4" x2="302.1" y2="315.4" stroke="#111" stroke-width="1.3"/>
<path d="M308.6,315.4 L301.6,313.09999999999997 L301.6,317.7 Z" fill="#111" stroke="none" stroke-width="1"/>
<text x="185.8" y="333.9" font-size="12.3" font-weight="bold" stroke="#111" stroke-width="0.5">G</text>
<text x="173.4" y="371.3" font-size="10.8" font-weight="bold" stroke="#111" stroke-width="0.18" textLength="46.2" lengthAdjust="spacingAndGlyphs">SF+IL-11</text>
<text x="173.0" y="439.2" font-size="10.8" font-weight="bold" stroke="#111" stroke-width="0.18" textLength="43.0" lengthAdjust="spacingAndGlyphs">GM-CSF</text>
<text x="173.0" y="454.6" font-size="10.8" font-weight="bold" stroke="#111" stroke-width="0.18" textLength="29.0" lengthAdjust="spacingAndGlyphs">+IL -3</text>
<text transform="translate(246.4,476.2) rotate(-90)" font-size="8.0" stroke="#111" stroke-width="0.3" textLength="17.8" lengthAdjust="spacingAndGlyphs">c-Kit</text>
<line x1="243.4" y1="454.5" x2="243.4" y2="448.5" stroke="#111" stroke-width="1.0"/>
<path d="M243.4,444.5 L241.6,449.0 L245.20000000000002,449.0 Z" fill="#111" stroke="none" stroke-width="1"/>
<text x="260.6" y="499.6" font-size="10.6" stroke="#111" stroke-width="0.18" textLength="40.5" lengthAdjust="spacingAndGlyphs">Annexin</text>
<line x1="307" y1="495.8" x2="334.6" y2="495.8" stroke="#111" stroke-width="1.6"/>
<path d="M340.6,495.8 L334.1,493.5 L334.1,498.1 Z" fill="#111" stroke="none" stroke-width="1"/>
<path d="M276.3,362.2h1v1h-1zM276.5,359.4h1v1h-1zM273.3,359.8h1v1h-1zM282.5,361.9h1v1h-1zM282.2,361.3h1v1h-1zM279.3,361.1h1v1h-1zM270.0,363.4h1v1h-1zM279.8,362.2h1v1h-1zM269.9,354.6h1v1h-1zM273.5,358.9h1v1h-1zM278.9,360.3h1v1h-1zM279.8,358.3h1v1h-1zM278.9,361.8h1v1h-1zM274.5,366.3h1v1h-1zM280.0,364.6h1v1h-1zM274.7,358.0h1v1h-1zM276.0,360.1h1v1h-1zM280.3,361.3h1v1h-1zM275.5,357.2h1v1h-1zM275.2,364.7h1v1h-1zM273.9,361.3h1v1h-1zM279.4,355.4h1v1h-1zM277.7,364.9h1v1h-1zM268.4,359.4h1v1h-1zM277.0,357.7h1v1h-1zM279.7,360.3h1v1h-1zM270.9,363.3h1v1h-1zM280.5,363.7h1v1h-1zM284.0,361.7h1v1h-1zM278.0,356.1h1v1h-1zM280.3,358.4h1v1h-1zM275.5,356.2h1v1h-1zM273.1,358.7h1v1h-1zM283.3,353.6h1v1h-1zM270.9,361.3h1v1h-1zM284.0,362.5h1v1h-1zM269.0,351.9h1v1h-1zM279.1,358.0h1v1h-1zM272.5,363.8h1v1h-1zM282.5,361.0h1v1h-1zM278.6,362.0h1v1h-1zM284.7,362.6h1v1h-1zM279.8,362.4h1v1h-1zM270.4,364.9h1v1h-1zM281.8,362.3h1v1h-1zM268.6,358.3h1v1h-1zM281.3,354.3h1v1h-1zM276.7,364.0h1v1h-1zM271.6,366.0h1v1h-1zM280.0,360.0h1v1h-1zM279.0,362.7h1v1h-1zM278.0,364.4h1v1h-1zM274.5,359.1h1v1h-1zM282.2,360.6h1v1h-1zM273.5,363.7h1v1h-1zM284.1,359.0h1v1h-1zM271.3,360.0h1v1h-1zM276.8,359.5h1v1h-1zM283.8,357.0h1v1h-1zM283.2,356.2h1v1h-1zM274.0,362.6h1v1h-1zM282.6,363.4h1v1h-1zM279.1,361.0h1v1h-1zM278.2,362.5h1v1h-1zM276.7,361.4h1v1h-1zM280.1,360.5h1v1h-1zM280.9,362.4h1v1h-1zM286.5,361.6h1v1h-1zM275.6,359.2h1v1h-1zM277.4,363.6h1v1h-1zM276.0,361.8h1v1h-1zM285.8,351.8h1v1h-1zM272.4,361.3h1v1h-1zM279.3,361.3h1v1h-1zM275.6,362.7h1v1h-1zM278.8,358.7h1v1h-1zM288.4,361.7h1v1h-1zM275.0,360.2h1v1h-1zM276.5,360.3h1v1h-1zM265.2,358.8h1v1h-1zM282.0,356.5h1v1h-1zM277.2,363.7h1v1h-1zM281.4,365.6h1v1h-1zM269.8,359.3h1v1h-1zM276.0,362.6h1v1h-1zM282.4,351.4h1v1h-1zM282.4,355.6h1v1h-1zM280.6,355.4h1v1h-1zM278.3,364.6h1v1h-1zM276.8,361.1h1v1h-1zM281.1,361.0h1v1h-1zM277.1,365.7h1v1h-1zM282.2,359.5h1v1h-1zM289.9,356.6h1v1h-1zM281.6,359.6h1v1h-1zM278.1,362.9h1v1h-1zM278.5,362.7h1v1h-1zM270.6,355.4h1v1h-1zM280.3,357.2h1v1h-1zM272.9,355.5h1v1h-1zM283.2,363.0h1v1h-1zM284.1,357.3h1v1h-1zM277.5,356.6h1v1h-1zM280.9,365.9h1v1h-1zM273.5,365.8h1v1h-1zM281.9,359.9h1v1h-1zM268.6,365.3h1v1h-1zM277.1,358.5h1v1h-1zM279.3,361.9h1v1h-1zM284.2,357.0h1v1h-1zM282.6,365.6h1v1h-1zM284.0,359.9h1v1h-1zM274.2,364.0h1v1h-1zM278.0,360.9h1v1h-1zM283.9,359.6h1v1h-1zM267.2,359.2h1v1h-1zM269.2,363.3h1v1h-1zM278.9,358.4h1v1h-1zM277.5,363.3h1v1h-1zM277.9,365.0h1v1h-1zM277.2,364.0h1v1h-1zM284.2,366.0h1v1h-1zM274.5,363.5h1v1h-1zM269.1,356.8h1v1h-1zM268.7,364.1h1v1h-1zM272.0,360.5h1v1h-1zM276.6,360.4h1v1h-1zM274.8,361.3h1v1h-1zM285.6,360.7h1v1h-1zM279.9,363.9h1v1h-1zM276.6,356.2h1v1h-1zM275.0,364.2h1v1h-1zM270.1,358.5h1v1h-1zM282.0,363.2h1v1h-1zM277.5,363.2h1v1h-1zM278.2,356.5h1v1h-1zM270.5,358.3h1v1h-1zM281.7,358.6h1v1h-1zM273.4,357.9h1v1h-1zM270.6,360.1h1v1h-1zM272.2,361.7h1v1h-1zM266.9,361.6h1v1h-1zM274.6,353.9h1v1h-1zM280.8,359.6h1v1h-1zM267.5,357.5h1v1h-1zM278.8,358.9h1v1h-1zM281.0,363.0h1v1h-1zM280.5,361.6h1v1h-1zM283.5,362.7h1v1h-1zM279.5,353.4h1v1h-1zM281.5,365.0h1v1h-1zM276.2,358.9h1v1h-1zM286.2,354.5h1v1h-1zM279.6,368.7h1v1h-1zM273.3,362.8h1v1h-1zM286.0,360.1h1v1h-1zM280.0,363.6h1v1h-1zM273.4,360.2h1v1h-1zM278.8,363.3h1v1h-1zM277.3,359.8h1v1h-1zM272.9,359.3h1v1h-1zM281.5,360.8h1v1h-1zM273.7,357.6h1v1h-1zM289.5,364.4h1v1h-1zM280.4,351.7h1v1h-1zM280.3,362.1h1v1h-1zM285.1,362.0h1v1h-1zM277.2,362.3h1v1h-1zM268.8,364.0h1v1h-1zM279.0,358.1h1v1h-1zM283.5,366.7h1v1h-1zM271.2,358.2h1v1h-1zM278.8,361.1h1v1h-1zM275.7,357.2h1v1h-1zM287.0,364.0h1v1h-1zM272.1,355.9h1v1h-1zM285.2,363.9h1v1h-1zM285.7,363.3h1v1h-1zM273.6,361.4h1v1h-1zM267.8,358.0h1v1h-1zM277.2,362.3h1v1h-1zM274.2,360.1h1v1h-1zM279.6,361.8h1v1h-1zM280.4,361.2h1v1h-1zM276.0,363.2h1v1h-1zM277.7,357.7h1v1h-1zM274.7,360.5h1v1h-1zM277.0,361.0h1v1h-1zM277.5,361.1h1v1h-1zM276.9,356.2h1v1h-1zM279.4,364.1h1v1h-1zM279.5,359.9h1v1h-1zM279.5,357.2h1v1h-1zM269.0,360.7h1v1h-1zM273.3,363.0h1v1h-1zM272.6,351.6h1v1h-1zM272.8,365.9h1v1h-1zM275.8,355.8h1v1h-1zM274.1,362.3h1v1h-1zM279.7,361.1h1v1h-1zM284.2,362.9h1v1h-1zM277.4,362.5h1v1h-1zM284.9,363.8h1v1h-1zM282.1,356.8h1v1h-1zM276.8,363.0h1v1h-1zM276.2,364.1h1v1h-1zM280.2,363.6h1v1h-1zM276.5,369.2h1v1h-1zM283.1,359.8h1v1h-1zM277.9,369.3h1v1h-1zM276.0,363.5h1v1h-1zM281.9,360.5h1v1h-1zM272.2,361.1h1v1h-1zM279.1,364.3h1v1h-1zM281.0,360.6h1v1h-1zM281.3,362.3h1v1h-1zM278.4,360.7h1v1h-1zM276.4,362.8h1v1h-1zM272.8,358.4h1v1h-1zM277.5,355.5h1v1h-1zM275.5,353.7h1v1h-1zM274.4,362.4h1v1h-1zM280.0,360.3h1v1h-1zM276.5,355.7h1v1h-1zM285.7,362.3h1v1h-1zM282.4,357.5h1v1h-1zM276.7,354.3h1v1h-1zM281.0,363.7h1v1h-1zM269.0,360.3h1v1h-1zM280.3,354.5h1v1h-1zM269.3,356.9h1v1h-1zM274.7,355.7h1v1h-1zM277.6,361.3h1v1h-1zM280.4,362.9h1v1h-1zM284.3,364.5h1v1h-1zM271.6,358.8h1v1h-1zM272.7,356.8h1v1h-1zM277.1,360.5h1v1h-1zM279.7,355.1h1v1h-1zM271.9,360.4h1v1h-1zM276.6,359.4h1v1h-1zM277.2,357.9h1v1h-1zM280.7,361.7h1v1h-1zM277.1,358.2h1v1h-1zM276.7,351.2h1v1h-1zM273.1,360.6h1v1h-1zM270.7,361.2h1v1h-1zM278.2,355.8h1v1h-1zM276.4,359.4h1v1h-1zM279.6,362.6h1v1h-1zM277.3,357.6h1v1h-1zM276.9,360.3h1v1h-1zM280.8,361.5h1v1h-1zM274.2,355.9h1v1h-1zM275.8,358.0h1v1h-1zM272.5,360.1h1v1h-1zM275.3,360.9h1v1h-1zM279.9,359.1h1v1h-1zM288.0,359.4h1v1h-1zM282.5,360.9h1v1h-1zM282.5,352.4h1v1h-1zM274.1,361.3h1v1h-1zM280.2,368.4h1v1h-1zM279.0,364.9h1v1h-1zM280.9,363.7h1v1h-1zM279.8,360.0h1v1h-1zM279.8,356.8h1v1h-1zM282.8,357.0h1v1h-1zM278.6,367.7h1v1h-1zM276.5,360.6h1v1h-1zM282.7,360.6h1v1h-1zM273.9,361.4h1v1h-1zM280.1,362.9h1v1h-1zM274.0,366.5h1v1h-1zM285.0,360.6h1v1h-1zM278.7,359.0h1v1h-1zM283.9,358.1h1v1h-1zM280.5,358.9h1v1h-1zM274.4,362.9h1v1h-1zM283.5,360.5h1v1h-1zM274.5,363.3h1v1h-1zM277.3,361.6h1v1h-1zM284.4,364.3h1v1h-1zM275.2,368.3h1v1h-1zM277.5,363.2h1v1h-1zM274.6,360.3h1v1h-1zM269.6,366.6h1v1h-1zM283.6,356.4h1v1h-1zM270.7,355.0h1v1h-1zM282.8,358.9h1v1h-1zM277.2,359.4h1v1h-1zM277.0,356.8h1v1h-1zM277.6,355.6h1v1h-1zM277.2,361.5h1v1h-1zM279.6,359.7h1v1h-1zM273.4,361.0h1v1h-1zM275.3,365.8h1v1h-1zM281.0,360.1h1v1h-1zM275.4,358.1h1v1h-1zM273.3,359.3h1v1h-1zM278.8,362.3h1v1h-1zM280.1,367.6h1v1h-1zM274.3,360.5h1v1h-1zM290.1,354.2h1v1h-1zM275.2,361.1h1v1h-1zM278.2,361.9h1v1h-1zM276.4,361.7h1v1h-1zM277.7,363.1h1v1h-1zM269.0,357.5h1v1h-1zM277.5,357.0h1v1h-1zM272.8,362.6h1v1h-1zM274.6,362.7h1v1h-1zM280.9,361.5h1v1h-1zM279.8,360.1h1v1h-1zM271.2,360.4h1v1h-1zM279.5,358.7h1v1h-1zM277.1,363.0h1v1h-1zM273.5,362.7h1v1h-1zM285.9,358.6h1v1h-1zM278.2,360.0h1v1h-1zM284.4,361.6h1v1h-1zM281.5,358.2h1v1h-1zM277.4,360.5h1v1h-1zM269.5,365.4h1v1h-1zM281.5,354.6h1v1h-1zM280.8,360.1h1v1h-1zM279.5,361.7h1v1h-1zM270.8,359.8h1v1h-1zM284.2,358.5h1v1h-1zM272.9,355.9h1v1h-1zM272.0,361.6h1v1h-1zM285.1,362.0h1v1h-1zM278.6,368.1h1v1h-1zM275.2,358.2h1v1h-1zM279.9,362.4h1v1h-1zM272.9,356.5h1v1h-1zM278.8,361.3h1v1h-1zM271.6,359.8h1v1h-1zM275.1,362.1h1v1h-1zM277.0,360.2h1v1h-1zM275.9,364.1h1v1h-1zM283.8,359.3h1v1h-1zM281.3,357.9h1v1h-1zM277.8,363.0h1v1h-1zM284.3,359.2h1v1h-1zM277.2,361.2h1v1h-1zM270.8,360.6h1v1h-1zM274.5,361.8h1v1h-1zM272.4,353.8h1v1h-1zM277.7,361.4h1v1h-1zM275.0,363.5h1v1h-1zM276.3,358.4h1v1h-1zM279.6,355.2h1v1h-1zM274.5,360.4h1v1h-1zM281.3,359.9h1v1h-1zM278.9,358.3h1v1h-1zM278.9,366.2h1v1h-1zM274.4,368.5h1v1h-1zM274.6,360.6h1v1h-1zM278.3,364.0h1v1h-1zM271.9,353.4h1v1h-1zM280.2,363.2h1v1h-1zM280.3,369.4h1v1h-1zM278.4,361.4h1v1h-1zM281.7,361.8h1v1h-1zM285.0,356.3h1v1h-1zM275.8,348.8h1v1h-1zM281.2,359.2h1v1h-1zM281.7,367.8h1v1h-1zM277.5,359.6h1v1h-1zM275.3,357.7h1v1h-1zM274.7,362.7h1v1h-1zM277.7,360.7h1v1h-1zM276.7,363.6h1v1h-1zM279.7,360.0h1v1h-1zM280.5,360.0h1v1h-1zM272.3,365.4h1v1h-1zM279.6,357.2h1v1h-1zM282.4,361.7h1v1h-1zM270.5,366.0h1v1h-1zM279.0,363.5h1v1h-1zM278.4,360.0h1v1h-1zM270.5,363.8h1v1h-1zM277.6,359.5h1v1h-1zM279.1,360.8h1v1h-1zM280.5,359.2h1v1h-1zM277.3,353.2h1v1h-1zM275.6,362.8h1v1h-1zM283.5,359.3h1v1h-1zM277.0,365.9h1v1h-1zM276.0,363.0h1v1h-1zM285.1,360.6h1v1h-1zM283.0,358.1h1v1h-1zM278.4,360.2h1v1h-1zM278.0,364.3h1v1h-1zM288.3,358.2h1v1h-1zM274.9,362.2h1v1h-1zM272.8,362.2h1v1h-1zM280.1,359.6h1v1h-1zM279.9,355.2h1v1h-1zM280.9,355.2h1v1h-1zM274.4,358.6h1v1h-1zM275.7,363.4h1v1h-1zM277.9,359.1h1v1h-1zM279.9,365.9h1v1h-1zM277.5,361.7h1v1h-1zM283.1,361.4h1v1h-1zM271.7,369.0h1v1h-1zM287.4,353.8h1v1h-1zM277.3,361.9h1v1h-1zM281.8,362.8h1v1h-1zM276.3,356.9h1v1h-1zM278.0,364.0h1v1h-1zM272.6,357.0h1v1h-1zM277.4,353.9h1v1h-1zM276.3,359.0h1v1h-1zM279.5,358.1h1v1h-1zM273.5,359.2h1v1h-1zM277.3,358.2h1v1h-1zM277.6,363.1h1v1h-1zM282.8,366.3h1v1h-1zM274.0,359.1h1v1h-1zM266.3,367.0h1v1h-1zM274.2,360.4h1v1h-1zM279.9,355.9h1v1h-1zM279.6,360.4h1v1h-1zM269.3,361.5h1v1h-1zM282.9,354.1h1v1h-1zM281.1,361.2h1v1h-1zM279.6,362.0h1v1h-1zM283.4,359.7h1v1h-1zM281.4,359.1h1v1h-1zM280.8,357.7h1v1h-1zM277.0,366.4h1v1h-1zM279.5,360.0h1v1h-1zM272.3,357.8h1v1h-1zM278.4,363.7h1v1h-1zM279.4,362.3h1v1h-1zM277.3,365.1h1v1h-1zM275.7,358.6h1v1h-1zM281.5,360.7h1v1h-1zM276.2,358.5h1v1h-1zM276.3,362.6h1v1h-1zM279.1,356.4h1v1h-1zM279.4,361.1h1v1h-1zM273.0,363.1h1v1h-1zM276.2,359.4h1v1h-1zM281.1,365.0h1v1h-1zM274.4,362.0h1v1h-1zM273.6,368.4h1v1h-1zM275.3,364.6h1v1h-1zM274.6,363.3h1v1h-1zM287.5,351.9h1v1h-1zM275.5,362.2h1v1h-1zM277.1,358.2h1v1h-1zM287.2,360.8h1v1h-1zM270.1,363.4h1v1h-1zM269.8,364.4h1v1h-1zM274.9,361.0h1v1h-1zM283.2,360.9h1v1h-1zM271.2,354.7h1v1h-1zM282.8,363.0h1v1h-1zM273.8,363.4h1v1h-1zM279.7,362.7h1v1h-1zM267.3,359.5h1v1h-1zM281.6,363.0h1v1h-1zM281.5,352.1h1v1h-1zM278.3,362.2h1v1h-1zM289.0,357.3h1v1h-1zM276.0,360.6h1v1h-1zM281.5,359.0h1v1h-1zM282.7,357.8h1v1h-1zM278.7,358.7h1v1h-1zM278.2,358.2h1v1h-1zM270.3,364.2h1v1h-1zM278.9,358.6h1v1h-1zM278.4,363.9h1v1h-1zM273.1,360.1h1v1h-1zM279.9,362.3h1v1h-1zM276.0,353.3h1v1h-1zM283.1,361.6h1v1h-1zM277.6,359.6h1v1h-1zM278.7,359.1h1v1h-1zM272.9,358.0h1v1h-1zM274.8,358.4h1v1h-1zM272.3,362.7h1v1h-1zM271.6,362.7h1v1h-1zM272.9,361.7h1v1h-1zM283.7,361.2h1v1h-1zM274.2,360.7h1v1h-1zM278.2,354.6h1v1h-1zM274.8,361.1h1v1h-1zM275.4,360.8h1v1h-1zM280.8,363.1h1v1h-1zM281.6,362.5h1v1h-1zM276.2,360.4h1v1h-1zM276.3,359.4h1v1h-1zM276.7,354.6h1v1h-1zM276.0,360.4h1v1h-1zM273.1,360.4h1v1h-1zM279.8,359.9h1v1h-1zM286.8,351.6h1v1h-1zM276.6,354.3h1v1h-1zM281.9,369.5h1v1h-1zM266.2,360.9h1v1h-1zM279.8,359.5h1v1h-1zM280.0,352.9h1v1h-1zM281.3,361.8h1v1h-1zM277.6,358.5h1v1h-1zM280.4,358.8h1v1h-1zM278.5,358.8h1v1h-1zM267.4,360.4h1v1h-1zM278.4,363.1h1v1h-1zM273.6,360.4h1v1h-1zM280.3,361.0h1v1h-1zM283.1,367.3h1v1h-1zM273.4,354.0h1v1h-1zM281.4,365.7h1v1h-1zM281.7,363.3h1v1h-1zM274.7,358.1h1v1h-1zM281.5,357.4h1v1h-1zM269.3,357.1h1v1h-1zM288.7,367.0h1v1h-1zM274.4,358.0h1v1h-1zM278.5,358.0h1v1h-1zM283.4,360.2h1v1h-1zM272.6,365.0h1v1h-1zM274.9,361.3h1v1h-1zM277.4,359.4h1v1h-1zM279.0,358.1h1v1h-1zM269.2,353.0h1v1h-1zM271.8,357.9h1v1h-1zM277.4,360.7h1v1h-1zM280.0,360.9h1v1h-1zM273.9,358.1h1v1h-1zM268.0,359.9h1v1h-1zM279.7,362.3h1v1h-1zM277.0,359.9h1v1h-1zM281.7,360.6h1v1h-1zM280.8,362.5h1v1h-1zM278.5,364.9h1v1h-1zM274.9,359.3h1v1h-1zM273.9,357.8h1v1h-1zM284.5,366.5h1v1h-1zM277.6,362.4h1v1h-1zM282.8,363.2h1v1h-1zM282.9,356.2h1v1h-1zM274.6,362.0h1v1h-1zM284.0,360.9h1v1h-1zM273.6,359.3h1v1h-1zM274.5,357.6h1v1h-1zM284.3,358.4h1v1h-1zM277.6,367.9h1v1h-1zM282.8,361.6h1v1h-1zM274.7,361.9h1v1h-1zM284.8,362.6h1v1h-1zM283.2,360.8h1v1h-1zM279.8,359.8h1v1h-1zM279.4,364.9h1v1h-1zM271.1,360.3h1v1h-1zM278.6,358.6h1v1h-1zM276.1,363.2h1v1h-1zM286.5,362.6h1v1h-1zM279.0,355.2h1v1h-1zM286.2,360.8h1v1h-1zM277.3,356.7h1v1h-1zM277.2,356.8h1v1h-1zM277.8,362.1h1v1h-1zM277.6,361.5h1v1h-1zM273.7,365.4h1v1h-1zM274.6,354.3h1v1h-1zM276.7,357.9h1v1h-1zM273.0,359.3h1v1h-1zM278.8,356.5h1v1h-1zM276.9,365.4h1v1h-1zM280.6,360.0h1v1h-1zM278.1,360.1h1v1h-1zM277.3,363.0h1v1h-1zM277.1,352.3h1v1h-1zM277.4,357.5h1v1h-1zM280.4,358.4h1v1h-1zM278.2,367.9h1v1h-1zM272.8,356.7h1v1h-1zM271.1,352.4h1v1h-1zM269.0,361.7h1v1h-1zM274.6,354.1h1v1h-1zM270.8,362.6h1v1h-1zM274.0,359.3h1v1h-1zM279.0,365.1h1v1h-1zM286.2,364.0h1v1h-1zM278.1,361.1h1v1h-1zM285.6,365.4h1v1h-1zM276.1,362.1h1v1h-1zM278.8,360.7h1v1h-1zM275.2,356.0h1v1h-1zM275.1,355.2h1v1h-1zM283.0,362.3h1v1h-1zM272.1,365.2h1v1h-1zM281.5,354.0h1v1h-1zM285.8,363.3h1v1h-1zM286.8,356.3h1v1h-1zM279.9,361.9h1v1h-1zM278.4,361.1h1v1h-1zM282.2,355.4h1v1h-1zM271.9,355.8h1v1h-1zM275.0,358.4h1v1h-1zM279.2,361.4h1v1h-1zM277.6,358.2h1v1h-1zM275.5,363.7h1v1h-1zM280.9,360.8h1v1h-1zM276.0,365.8h1v1h-1zM274.8,362.7h1v1h-1zM282.7,359.6h1v1h-1zM281.2,356.7h1v1h-1zM282.1,361.2h1v1h-1zM270.4,362.8h1v1h-1zM273.5,364.9h1v1h-1zM274.4,359.9h1v1h-1zM278.8,359.4h1v1h-1zM278.7,358.6h1v1h-1zM280.5,360.5h1v1h-1zM278.4,351.1h1v1h-1zM282.7,360.6h1v1h-1zM269.5,360.8h1v1h-1zM279.6,364.1h1v1h-1zM272.6,365.8h1v1h-1zM276.8,368.6h1v1h-1zM276.8,362.8h1v1h-1zM275.9,356.7h1v1h-1zM282.4,363.6h1v1h-1zM284.4,363.4h1v1h-1zM274.9,354.8h1v1h-1zM274.6,358.2h1v1h-1zM273.8,362.5h1v1h-1zM279.0,359.6h1v1h-1zM278.3,360.0h1v1h-1zM278.5,363.1h1v1h-1zM281.8,358.2h1v1h-1zM270.7,365.4h1v1h-1zM278.0,364.3h1v1h-1zM270.1,359.4h1v1h-1zM277.6,355.6h1v1h-1zM275.2,363.0h1v1h-1zM282.4,365.9h1v1h-1zM273.6,355.7h1v1h-1zM279.8,363.7h1v1h-1zM278.4,356.1h1v1h-1zM281.0,363.2h1v1h-1zM280.0,358.8h1v1h-1zM278.9,363.2h1v1h-1zM275.0,354.2h1v1h-1zM279.0,362.1h1v1h-1zM277.6,363.5h1v1h-1zM274.9,360.2h1v1h-1zM276.1,362.4h1v1h-1zM284.7,359.6h1v1h-1zM286.7,365.7h1v1h-1zM281.1,362.5h1v1h-1zM285.5,359.9h1v1h-1zM277.0,356.9h1v1h-1zM279.6,365.1h1v1h-1zM279.9,361.9h1v1h-1zM276.6,361.1h1v1h-1zM271.1,364.1h1v1h-1zM275.7,356.7h1v1h-1zM274.1,357.7h1v1h-1zM281.3,364.1h1v1h-1zM271.4,363.6h1v1h-1zM281.5,358.5h1v1h-1zM270.8,358.0h1v1h-1zM274.6,361.7h1v1h-1zM275.9,353.6h1v1h-1zM278.6,355.3h1v1h-1zM281.6,356.4h1v1h-1zM274.4,357.6h1v1h-1zM275.1,364.9h1v1h-1zM281.3,362.5h1v1h-1zM278.9,355.2h1v1h-1zM275.2,358.6h1v1h-1zM273.1,362.2h1v1h-1zM274.2,358.1h1v1h-1zM272.8,353.5h1v1h-1zM280.2,365.0h1v1h-1zM278.3,357.2h1v1h-1zM265.3,361.1h1v1h-1zM283.0,361.5h1v1h-1zM281.7,365.5h1v1h-1zM282.6,359.0h1v1h-1zM282.2,363.1h1v1h-1zM270.6,359.1h1v1h-1zM271.1,360.1h1v1h-1zM280.1,356.9h1v1h-1zM268.2,364.9h1v1h-1zM279.2,365.5h1v1h-1zM271.5,364.1h1v1h-1zM286.8,367.3h1v1h-1zM276.6,361.4h1v1h-1zM276.8,363.9h1v1h-1zM282.2,360.8h1v1h-1zM271.4,363.0h1v1h-1zM275.4,362.6h1v1h-1zM278.7,366.0h1v1h-1zM282.6,359.0h1v1h-1zM279.1,366.5h1v1h-1zM275.1,362.0h1v1h-1zM282.9,364.8h1v1h-1zM279.8,356.0h1v1h-1zM271.8,361.3h1v1h-1zM279.2,369.2h1v1h-1zM273.6,364.4h1v1h-1zM281.0,354.8h1v1h-1zM273.8,361.1h1v1h-1zM275.3,360.0h1v1h-1zM279.6,357.7h1v1h-1zM279.6,358.3h1v1h-1zM275.0,362.3h1v1h-1zM274.9,361.5h1v1h-1zM284.7,360.6h1v1h-1zM276.8,363.0h1v1h-1zM275.9,364.2h1v1h-1zM271.7,362.6h1v1h-1zM275.2,357.8h1v1h-1zM285.5,357.6h1v1h-1zM285.4,362.7h1v1h-1zM284.0,357.2h1v1h-1zM282.9,365.5h1v1h-1zM277.0,360.1h1v1h-1zM288.6,361.1h1v1h-1zM275.6,358.4h1v1h-1zM279.5,361.6h1v1h-1zM278.3,366.4h1v1h-1zM276.0,362.1h1v1h-1zM284.1,357.1h1v1h-1zM282.2,366.7h1v1h-1zM271.4,356.8h1v1h-1zM272.8,354.2h1v1h-1zM279.5,354.2h1v1h-1zM279.7,365.4h1v1h-1zM270.2,359.4h1v1h-1zM268.9,363.1h1v1h-1zM274.2,359.6h1v1h-1zM277.7,362.4h1v1h-1zM275.9,360.6h1v1h-1zM275.0,360.9h1v1h-1zM272.2,360.7h1v1h-1zM268.8,358.8h1v1h-1zM286.1,360.8h1v1h-1zM271.8,361.4h1v1h-1zM273.1,354.9h1v1h-1zM274.2,363.0h1v1h-1zM279.2,360.2h1v1h-1zM273.3,356.8h1v1h-1zM283.6,361.3h1v1h-1zM273.2,353.3h1v1h-1zM271.3,368.9h1v1h-1zM272.3,360.2h1v1h-1zM278.4,360.0h1v1h-1zM276.2,355.8h1v1h-1zM272.8,366.2h1v1h-1zM274.1,363.4h1v1h-1zM269.9,359.6h1v1h-1zM278.7,364.0h1v1h-1zM272.4,362.5h1v1h-1zM279.2,358.0h1v1h-1zM279.6,357.4h1v1h-1zM273.9,360.4h1v1h-1zM265.3,360.1h1v1h-1zM273.0,355.5h1v1h-1zM275.6,363.1h1v1h-1zM275.7,364.8h1v1h-1zM272.3,356.0h1v1h-1zM284.5,361.9h1v1h-1zM281.8,357.7h1v1h-1zM281.1,361.4h1v1h-1zM280.4,360.6h1v1h-1zM282.9,358.3h1v1h-1zM273.2,355.5h1v1h-1zM282.7,358.0h1v1h-1zM272.8,357.3h1v1h-1zM275.5,356.2h1v1h-1zM276.2,358.4h1v1h-1zM275.0,357.2h1v1h-1zM277.7,358.9h1v1h-1zM278.0,361.3h1v1h-1zM279.0,353.1h1v1h-1zM275.1,357.8h1v1h-1zM281.0,355.1h1v1h-1zM274.3,359.5h1v1h-1zM276.0,363.9h1v1h-1zM275.5,363.8h1v1h-1zM270.9,354.3h1v1h-1zM283.0,362.0h1v1h-1zM279.7,360.9h1v1h-1zM279.7,356.4h1v1h-1zM281.8,358.7h1v1h-1zM281.9,360.8h1v1h-1zM268.6,356.1h1v1h-1zM282.6,360.0h1v1h-1zM275.7,361.3h1v1h-1zM275.6,358.6h1v1h-1zM278.0,361.0h1v1h-1zM284.3,360.7h1v1h-1zM286.0,366.6h1v1h-1zM285.2,364.1h1v1h-1zM278.1,361.0h1v1h-1zM276.9,358.0h1v1h-1zM277.2,358.3h1v1h-1zM284.9,362.3h1v1h-1zM275.5,354.0h1v1h-1zM277.3,359.1h1v1h-1zM272.6,356.6h1v1h-1zM267.4,362.4h1v1h-1zM277.2,369.3h1v1h-1zM277.4,360.0h1v1h-1zM284.0,361.0h1v1h-1zM278.3,359.2h1v1h-1zM274.8,365.6h1v1h-1zM282.0,366.3h1v1h-1zM275.9,360.6h1v1h-1zM273.5,363.8h1v1h-1zM271.2,362.4h1v1h-1zM282.4,365.3h1v1h-1zM273.3,364.2h1v1h-1zM274.3,357.9h1v1h-1zM271.5,364.4h1v1h-1zM284.9,358.5h1v1h-1zM274.1,359.3h1v1h-1zM288.8,363.9h1v1h-1zM275.1,354.4h1v1h-1zM274.5,364.5h1v1h-1zM285.9,359.6h1v1h-1zM274.4,358.8h1v1h-1zM269.0,363.6h1v1h-1zM272.6,364.1h1v1h-1zM269.8,356.2h1v1h-1zM278.8,357.9h1v1h-1zM281.0,360.5h1v1h-1zM272.2,362.6h1v1h-1zM281.3,354.0h1v1h-1zM285.7,362.2h1v1h-1zM280.9,354.2h1v1h-1zM274.3,359.3h1v1h-1zM282.3,355.5h1v1h-1zM273.5,353.6h1v1h-1zM276.4,361.7h1v1h-1zM269.9,358.5h1v1h-1zM279.8,365.9h1v1h-1zM280.5,359.5h1v1h-1zM272.2,357.3h1v1h-1zM274.5,361.0h1v1h-1zM277.3,366.2h1v1h-1zM278.8,356.9h1v1h-1zM284.4,363.7h1v1h-1zM278.0,358.0h1v1h-1zM269.1,357.0h1v1h-1zM281.6,357.8h1v1h-1zM271.6,361.2h1v1h-1zM278.6,362.6h1v1h-1zM280.4,365.3h1v1h-1zM273.7,363.8h1v1h-1zM273.1,362.9h1v1h-1zM278.3,361.3h1v1h-1zM281.9,360.4h1v1h-1zM282.5,363.5h1v1h-1zM278.1,358.6h1v1h-1zM274.1,358.7h1v1h-1zM276.6,360.4h1v1h-1zM290.9,362.7h1v1h-1zM281.0,357.6h1v1h-1zM274.3,359.4h1v1h-1zM278.4,357.0h1v1h-1zM284.8,358.6h1v1h-1zM282.4,352.6h1v1h-1zM277.5,361.4h1v1h-1zM278.4,362.5h1v1h-1zM278.8,361.1h1v1h-1zM269.0,358.1h1v1h-1zM267.0,362.6h1v1h-1zM278.9,359.8h1v1h-1zM273.8,358.5h1v1h-1zM285.8,366.4h1v1h-1zM277.2,364.9h1v1h-1zM270.4,353.9h1v1h-1zM275.3,357.5h1v1h-1zM275.0,361.1h1v1h-1zM291.1,358.3h1v1h-1zM277.7,361.4h1v1h-1zM277.3,363.7h1v1h-1zM285.5,356.3h1v1h-1zM278.2,359.6h1v1h-1zM279.1,355.3h1v1h-1zM269.6,352.6h1v1h-1zM279.9,361.2h1v1h-1zM277.8,352.5h1v1h-1zM275.8,357.9h1v1h-1zM271.1,357.4h1v1h-1zM280.6,362.4h1v1h-1zM277.4,362.2h1v1h-1zM274.8,360.7h1v1h-1zM277.7,362.4h1v1h-1z" fill="#000"/>
<path d="M288.8,367.2h1v1h-1zM288.6,366.0h1v1h-1zM295.3,368.7h1v1h-1zM290.2,372.8h1v1h-1zM292.9,363.9h1v1h-1zM290.9,369.4h1v1h-1zM294.3,370.5h1v1h-1zM291.2,364.8h1v1h-1zM286.6,368.1h1v1h-1zM290.4,365.2h1v1h-1zM287.9,366.6h1v1h-1zM289.2,368.3h1v1h-1zM288.2,364.7h1v1h-1zM292.5,371.2h1v1h-1zM288.7,369.9h1v1h-1zM290.2,369.0h1v1h-1zM290.3,365.7h1v1h-1zM290.6,369.8h1v1h-1zM286.5,372.0h1v1h-1zM294.9,371.7h1v1h-1zM294.6,369.2h1v1h-1zM288.1,366.1h1v1h-1zM286.7,367.8h1v1h-1zM288.9,369.0h1v1h-1zM283.3,372.8h1v1h-1zM295.4,367.4h1v1h-1zM290.9,368.6h1v1h-1zM289.8,367.0h1v1h-1zM288.7,365.6h1v1h-1zM289.5,367.4h1v1h-1zM289.9,365.5h1v1h-1zM289.1,367.6h1v1h-1zM290.7,365.1h1v1h-1zM290.2,369.8h1v1h-1zM290.7,366.7h1v1h-1zM287.6,367.0h1v1h-1zM291.0,371.1h1v1h-1zM288.6,366.0h1v1h-1zM290.1,368.0h1v1h-1zM286.5,365.8h1v1h-1zM288.7,369.0h1v1h-1zM285.7,365.2h1v1h-1zM290.4,364.7h1v1h-1zM289.3,368.3h1v1h-1zM288.7,365.2h1v1h-1zM288.8,366.7h1v1h-1zM289.9,365.6h1v1h-1zM292.1,363.6h1v1h-1zM288.5,367.5h1v1h-1zM291.7,366.1h1v1h-1zM290.5,366.2h1v1h-1zM291.1,371.5h1v1h-1zM287.9,368.5h1v1h-1zM286.4,369.7h1v1h-1zM292.4,367.6h1v1h-1zM285.8,368.4h1v1h-1zM292.2,370.0h1v1h-1zM291.3,363.3h1v1h-1zM287.1,370.8h1v1h-1zM285.6,370.1h1v1h-1zM294.3,369.3h1v1h-1zM292.1,366.7h1v1h-1zM285.6,367.3h1v1h-1zM288.4,367.4h1v1h-1zM291.0,367.2h1v1h-1zM289.5,368.5h1v1h-1zM289.0,371.7h1v1h-1zM290.2,367.7h1v1h-1zM288.4,366.1h1v1h-1zM292.8,367.8h1v1h-1zM286.0,366.2h1v1h-1zM288.6,366.5h1v1h-1zM292.0,364.8h1v1h-1zM290.4,367.8h1v1h-1zM285.7,367.6h1v1h-1zM288.7,368.7h1v1h-1zM287.7,368.2h1v1h-1zM284.3,365.0h1v1h-1zM291.2,369.9h1v1h-1zM289.0,366.1h1v1h-1zM292.0,362.7h1v1h-1zM286.8,369.0h1v1h-1zM290.8,365.1h1v1h-1zM283.7,370.8h1v1h-1zM289.4,365.4h1v1h-1zM289.2,369.6h1v1h-1zM281.7,370.1h1v1h-1zM291.1,362.7h1v1h-1zM291.2,363.4h1v1h-1zM292.2,368.4h1v1h-1zM295.3,366.1h1v1h-1zM289.0,369.9h1v1h-1zM287.2,365.9h1v1h-1zM288.0,367.3h1v1h-1zM286.0,368.6h1v1h-1zM290.5,367.7h1v1h-1zM293.8,366.7h1v1h-1zM292.7,366.2h1v1h-1zM291.1,363.0h1v1h-1zM289.6,367.1h1v1h-1zM287.6,366.1h1v1h-1zM288.0,365.8h1v1h-1zM282.9,366.1h1v1h-1zM287.5,366.3h1v1h-1zM286.0,367.2h1v1h-1zM291.2,366.9h1v1h-1zM287.6,370.6h1v1h-1zM291.7,369.6h1v1h-1zM292.2,366.7h1v1h-1zM288.6,370.1h1v1h-1zM287.4,367.2h1v1h-1zM290.1,368.4h1v1h-1zM288.2,369.8h1v1h-1zM288.5,369.2h1v1h-1zM292.0,369.0h1v1h-1zM291.1,364.8h1v1h-1zM285.3,366.1h1v1h-1zM290.3,371.0h1v1h-1zM285.6,368.2h1v1h-1zM286.6,365.8h1v1h-1zM288.2,369.1h1v1h-1zM289.6,370.2h1v1h-1zM286.2,369.5h1v1h-1zM291.6,367.7h1v1h-1zM290.3,366.2h1v1h-1zM285.9,366.6h1v1h-1zM287.2,374.1h1v1h-1zM287.6,371.3h1v1h-1zM289.6,368.2h1v1h-1zM291.1,365.7h1v1h-1zM291.6,368.4h1v1h-1zM284.8,368.9h1v1h-1zM290.5,368.5h1v1h-1zM293.4,366.5h1v1h-1zM290.4,369.2h1v1h-1zM286.5,370.3h1v1h-1zM284.9,364.5h1v1h-1zM290.5,365.0h1v1h-1zM288.7,363.7h1v1h-1zM289.2,364.9h1v1h-1zM290.0,364.0h1v1h-1zM290.3,366.9h1v1h-1zM289.2,367.3h1v1h-1zM289.4,364.5h1v1h-1zM281.8,367.6h1v1h-1zM286.4,366.5h1v1h-1zM290.2,362.9h1v1h-1zM286.9,366.1h1v1h-1zM286.0,368.3h1v1h-1zM288.6,365.6h1v1h-1zM286.2,369.4h1v1h-1zM287.2,368.8h1v1h-1zM290.3,363.1h1v1h-1zM286.0,367.5h1v1h-1zM290.0,369.3h1v1h-1zM291.2,369.9h1v1h-1zM288.0,367.0h1v1h-1zM291.2,366.5h1v1h-1zM292.0,363.8h1v1h-1zM290.8,367.1h1v1h-1zM283.5,369.8h1v1h-1zM289.9,367.5h1v1h-1zM286.0,366.4h1v1h-1zM293.2,365.6h1v1h-1zM279.3,365.5h1v1h-1zM285.6,367.2h1v1h-1zM287.9,365.4h1v1h-1zM286.6,369.9h1v1h-1zM285.0,372.0h1v1h-1zM287.5,365.0h1v1h-1zM291.2,368.8h1v1h-1zM286.1,369.2h1v1h-1zM283.8,365.4h1v1h-1zM292.2,366.9h1v1h-1zM285.4,368.7h1v1h-1zM291.6,367.4h1v1h-1zM283.9,366.7h1v1h-1zM290.2,369.3h1v1h-1zM294.2,366.9h1v1h-1zM287.6,367.4h1v1h-1zM292.4,365.3h1v1h-1zM292.7,361.2h1v1h-1zM291.2,365.9h1v1h-1zM290.3,369.1h1v1h-1zM285.7,367.3h1v1h-1zM289.7,368.9h1v1h-1zM286.4,365.2h1v1h-1zM283.6,373.3h1v1h-1zM288.5,367.0h1v1h-1zM284.8,369.6h1v1h-1zM287.5,370.8h1v1h-1zM291.4,367.5h1v1h-1zM291.0,364.9h1v1h-1zM288.1,366.2h1v1h-1zM285.4,367.5h1v1h-1zM288.6,370.8h1v1h-1zM279.6,366.0h1v1h-1zM286.4,366.4h1v1h-1zM290.2,368.4h1v1h-1zM289.1,366.4h1v1h-1zM290.4,368.3h1v1h-1zM283.8,366.9h1v1h-1zM285.2,364.8h1v1h-1zM289.4,367.6h1v1h-1zM289.3,365.5h1v1h-1zM288.4,365.4h1v1h-1zM290.1,369.1h1v1h-1zM293.9,370.4h1v1h-1zM286.7,366.4h1v1h-1zM286.4,368.2h1v1h-1zM294.5,369.1h1v1h-1zM282.8,364.6h1v1h-1zM285.4,368.7h1v1h-1zM289.0,368.2h1v1h-1zM294.0,365.6h1v1h-1zM286.6,372.0h1v1h-1zM290.0,365.7h1v1h-1zM283.3,364.0h1v1h-1zM282.2,367.7h1v1h-1zM289.1,369.8h1v1h-1zM288.6,365.9h1v1h-1zM286.9,371.9h1v1h-1zM284.1,367.9h1v1h-1zM289.1,368.9h1v1h-1zM287.9,368.6h1v1h-1zM291.3,367.2h1v1h-1zM287.7,367.1h1v1h-1zM286.3,367.0h1v1h-1zM288.2,368.0h1v1h-1zM292.7,370.5h1v1h-1zM287.8,368.9h1v1h-1zM289.8,369.3h1v1h-1zM289.1,368.1h1v1h-1zM287.7,365.7h1v1h-1zM291.4,370.5h1v1h-1zM290.9,368.5h1v1h-1zM289.7,366.5h1v1h-1zM284.0,369.0h1v1h-1zM289.6,366.2h1v1h-1zM286.3,370.4h1v1h-1zM283.9,371.6h1v1h-1zM290.8,373.0h1v1h-1zM287.0,367.4h1v1h-1zM287.6,367.9h1v1h-1zM288.4,365.8h1v1h-1zM292.0,365.7h1v1h-1zM287.6,368.8h1v1h-1zM287.5,366.5h1v1h-1zM290.0,366.7h1v1h-1zM285.5,367.3h1v1h-1zM288.4,371.4h1v1h-1zM285.9,369.7h1v1h-1zM286.8,366.7h1v1h-1zM288.1,368.1h1v1h-1zM291.4,371.5h1v1h-1zM287.2,370.6h1v1h-1zM291.8,369.4h1v1h-1zM286.9,369.6h1v1h-1zM288.7,368.3h1v1h-1zM288.2,369.0h1v1h-1zM292.1,370.1h1v1h-1zM288.4,369.8h1v1h-1zM293.1,365.3h1v1h-1zM293.1,364.4h1v1h-1zM290.5,368.9h1v1h-1zM293.2,368.1h1v1h-1zM287.7,365.7h1v1h-1zM285.5,369.3h1v1h-1zM288.3,365.8h1v1h-1zM290.5,365.7h1v1h-1zM287.8,366.4h1v1h-1zM293.6,370.9h1v1h-1zM288.6,363.9h1v1h-1zM289.8,367.7h1v1h-1zM290.0,368.8h1v1h-1zM288.1,369.6h1v1h-1zM291.3,368.0h1v1h-1zM287.9,366.4h1v1h-1zM290.9,365.0h1v1h-1zM288.6,365.8h1v1h-1zM285.1,368.9h1v1h-1zM288.9,367.6h1v1h-1zM291.4,364.1h1v1h-1zM288.8,368.2h1v1h-1zM291.3,365.0h1v1h-1zM291.0,368.0h1v1h-1zM292.8,370.1h1v1h-1zM290.5,372.4h1v1h-1zM289.0,366.5h1v1h-1zM288.0,365.3h1v1h-1zM288.9,363.2h1v1h-1zM288.8,368.5h1v1h-1zM291.8,366.7h1v1h-1zM292.9,366.0h1v1h-1zM288.6,363.2h1v1h-1zM286.9,365.7h1v1h-1zM293.1,368.7h1v1h-1zM286.0,368.7h1v1h-1zM290.3,367.0h1v1h-1zM289.1,366.8h1v1h-1z" fill="#000"/>
<path d="M276.8,354.5h1v1h-1zM280.3,370.9h1v1h-1zM292.2,362.5h1v1h-1zM275.2,362.9h1v1h-1zM288.0,365.9h1v1h-1zM276.4,365.9h1v1h-1zM279.4,366.8h1v1h-1zM277.8,356.1h1v1h-1zM281.5,368.1h1v1h-1zM272.4,363.4h1v1h-1zM287.8,362.0h1v1h-1zM275.9,374.9h1v1h-1zM287.5,369.5h1v1h-1zM273.6,372.7h1v1h-1zM268.1,361.2h1v1h-1zM286.8,371.1h1v1h-1zM273.8,360.4h1v1h-1zM282.5,353.7h1v1h-1zM286.0,367.0h1v1h-1zM277.5,366.9h1v1h-1zM287.0,365.7h1v1h-1zM285.1,372.1h1v1h-1zM277.3,364.9h1v1h-1zM276.9,369.5h1v1h-1zM277.8,366.5h1v1h-1zM282.1,364.4h1v1h-1zM294.3,363.5h1v1h-1zM292.0,368.4h1v1h-1zM291.2,363.1h1v1h-1zM288.2,368.0h1v1h-1zM276.2,365.4h1v1h-1zM280.0,363.8h1v1h-1zM291.1,360.2h1v1h-1zM268.0,354.7h1v1h-1zM277.5,360.6h1v1h-1zM281.1,367.0h1v1h-1zM294.6,365.6h1v1h-1zM284.6,360.1h1v1h-1zM285.5,371.2h1v1h-1zM291.3,353.6h1v1h-1zM287.9,372.4h1v1h-1zM287.4,356.1h1v1h-1zM278.6,367.1h1v1h-1zM284.2,359.7h1v1h-1zM274.1,369.1h1v1h-1zM270.7,371.6h1v1h-1zM281.2,365.6h1v1h-1zM270.7,360.8h1v1h-1zM286.3,356.2h1v1h-1zM296.9,356.6h1v1h-1zM271.6,364.2h1v1h-1zM284.7,367.9h1v1h-1zM278.1,362.9h1v1h-1zM279.2,361.0h1v1h-1zM282.9,364.8h1v1h-1zM276.2,365.3h1v1h-1zM280.9,363.6h1v1h-1zM289.5,354.9h1v1h-1zM282.9,358.4h1v1h-1zM278.6,371.9h1v1h-1zM272.7,363.5h1v1h-1zM276.5,369.0h1v1h-1zM273.5,355.1h1v1h-1zM284.9,362.1h1v1h-1zM278.5,369.7h1v1h-1zM274.2,362.0h1v1h-1zM282.1,366.2h1v1h-1zM277.0,369.5h1v1h-1zM298.2,361.8h1v1h-1zM295.4,352.9h1v1h-1zM291.8,362.2h1v1h-1zM282.1,362.2h1v1h-1zM276.1,357.3h1v1h-1zM278.0,370.8h1v1h-1zM289.8,362.2h1v1h-1zM276.9,360.3h1v1h-1zM271.8,373.5h1v1h-1zM286.1,364.6h1v1h-1zM277.2,358.6h1v1h-1zM291.1,368.1h1v1h-1zM273.7,369.2h1v1h-1zM272.5,367.4h1v1h-1zM273.6,361.8h1v1h-1zM284.8,366.3h1v1h-1zM288.8,359.6h1v1h-1zM293.1,371.1h1v1h-1zM280.9,366.5h1v1h-1zM275.0,363.2h1v1h-1zM270.9,364.5h1v1h-1zM282.5,371.1h1v1h-1zM288.3,368.3h1v1h-1zM278.2,362.8h1v1h-1zM278.4,365.2h1v1h-1zM266.2,368.1h1v1h-1zM269.0,361.3h1v1h-1zM281.2,361.3h1v1h-1zM293.8,363.5h1v1h-1zM293.1,370.2h1v1h-1zM277.2,366.1h1v1h-1zM291.0,362.2h1v1h-1zM281.7,361.1h1v1h-1zM281.5,362.1h1v1h-1zM281.6,369.3h1v1h-1zM291.7,364.7h1v1h-1zM282.6,368.5h1v1h-1zM278.8,358.4h1v1h-1zM289.5,359.1h1v1h-1zM288.1,358.9h1v1h-1zM295.1,358.5h1v1h-1zM287.5,371.9h1v1h-1zM273.6,371.8h1v1h-1zM274.7,354.7h1v1h-1zM286.5,367.7h1v1h-1zM279.4,350.7h1v1h-1zM280.6,362.4h1v1h-1zM278.1,362.5h1v1h-1zM267.3,361.0h1v1h-1zM294.8,372.2h1v1h-1zM278.2,360.2h1v1h-1zM284.0,369.6h1v1h-1zM286.6,357.8h1v1h-1zM282.2,364.7h1v1h-1zM292.0,370.3h1v1h-1zM285.0,370.4h1v1h-1zM278.0,372.1h1v1h-1zM277.7,366.1h1v1h-1zM288.1,359.2h1v1h-1zM275.6,354.7h1v1h-1zM282.3,363.7h1v1h-1zM278.5,366.6h1v1h-1zM264.7,363.9h1v1h-1zM281.7,362.6h1v1h-1zM287.1,373.3h1v1h-1zM277.6,359.0h1v1h-1zM276.4,364.5h1v1h-1zM285.5,359.5h1v1h-1zM288.7,358.6h1v1h-1zM287.4,366.3h1v1h-1zM284.6,375.4h1v1h-1zM279.0,363.1h1v1h-1zM284.7,368.6h1v1h-1zM270.7,365.5h1v1h-1zM275.3,367.3h1v1h-1zM291.5,364.3h1v1h-1zM280.2,365.0h1v1h-1zM285.3,364.9h1v1h-1zM278.0,360.1h1v1h-1zM279.6,370.4h1v1h-1zM280.2,371.1h1v1h-1zM283.1,363.9h1v1h-1zM268.3,360.5h1v1h-1zM290.6,357.2h1v1h-1zM273.4,358.2h1v1h-1zM276.8,367.4h1v1h-1zM285.6,353.3h1v1h-1zM292.2,360.9h1v1h-1zM276.5,372.8h1v1h-1zM280.4,357.5h1v1h-1zM276.1,360.2h1v1h-1zM273.2,362.2h1v1h-1zM287.7,365.8h1v1h-1zM270.4,378.7h1v1h-1zM273.4,364.6h1v1h-1zM281.2,368.0h1v1h-1zM278.5,366.4h1v1h-1zM297.2,364.5h1v1h-1zM272.7,365.7h1v1h-1zM274.8,362.0h1v1h-1zM282.4,365.8h1v1h-1zM278.8,368.5h1v1h-1zM279.5,357.1h1v1h-1zM287.7,362.1h1v1h-1zM290.3,360.5h1v1h-1zM285.4,365.7h1v1h-1zM272.4,371.4h1v1h-1zM266.5,368.8h1v1h-1zM289.4,366.6h1v1h-1zM286.2,361.4h1v1h-1zM280.9,365.2h1v1h-1zM284.2,367.7h1v1h-1zM279.4,360.3h1v1h-1zM276.7,366.2h1v1h-1zM268.2,357.4h1v1h-1zM277.8,361.1h1v1h-1zM278.9,349.9h1v1h-1zM278.4,362.7h1v1h-1zM287.0,353.5h1v1h-1zM278.6,366.5h1v1h-1zM284.8,370.3h1v1h-1zM289.1,358.5h1v1h-1zM285.9,362.2h1v1h-1zM274.8,372.1h1v1h-1zM276.2,359.5h1v1h-1zM277.9,359.5h1v1h-1zM288.7,366.0h1v1h-1zM291.8,366.2h1v1h-1zM276.3,369.5h1v1h-1zM276.0,361.6h1v1h-1zM279.7,364.2h1v1h-1zM290.2,360.8h1v1h-1zM283.7,363.9h1v1h-1zM271.3,358.2h1v1h-1zM279.3,366.1h1v1h-1zM283.5,366.5h1v1h-1zM281.4,361.6h1v1h-1zM284.3,358.7h1v1h-1zM270.7,362.2h1v1h-1zM270.0,361.3h1v1h-1zM275.2,361.1h1v1h-1zM280.7,359.8h1v1h-1zM277.7,354.9h1v1h-1zM282.1,359.3h1v1h-1zM284.1,349.0h1v1h-1zM274.8,365.3h1v1h-1zM262.2,362.1h1v1h-1zM281.7,364.5h1v1h-1zM269.5,365.2h1v1h-1zM282.1,358.8h1v1h-1zM286.7,363.7h1v1h-1zM281.1,361.6h1v1h-1zM285.2,364.5h1v1h-1zM289.8,366.4h1v1h-1zM276.2,362.8h1v1h-1zM288.1,362.1h1v1h-1zM284.0,366.8h1v1h-1zM279.6,351.6h1v1h-1zM282.0,365.1h1v1h-1zM282.0,360.0h1v1h-1zM290.3,363.3h1v1h-1zM276.2,360.2h1v1h-1zM283.8,358.2h1v1h-1zM273.3,374.6h1v1h-1zM291.1,369.6h1v1h-1zM291.6,367.2h1v1h-1zM268.0,370.4h1v1h-1zM290.6,366.6h1v1h-1zM265.9,370.6h1v1h-1zM291.6,361.4h1v1h-1zM282.0,368.1h1v1h-1zM280.3,369.8h1v1h-1zM281.6,367.7h1v1h-1zM281.7,356.1h1v1h-1zM273.3,380.9h1v1h-1zM283.2,371.0h1v1h-1zM289.8,373.1h1v1h-1zM285.3,360.8h1v1h-1zM281.1,353.8h1v1h-1zM279.5,368.8h1v1h-1zM264.2,365.0h1v1h-1zM287.4,371.1h1v1h-1zM273.8,360.5h1v1h-1zM266.4,358.6h1v1h-1zM285.1,375.0h1v1h-1zM272.1,371.4h1v1h-1zM284.3,361.4h1v1h-1zM298.0,350.5h1v1h-1zM280.5,365.2h1v1h-1zM297.5,373.6h1v1h-1zM298.6,364.7h1v1h-1zM288.6,371.3h1v1h-1zM285.0,365.9h1v1h-1zM279.6,361.8h1v1h-1zM271.4,374.4h1v1h-1zM277.5,352.9h1v1h-1zM283.1,363.8h1v1h-1zM282.4,373.7h1v1h-1zM280.2,362.6h1v1h-1zM275.2,363.9h1v1h-1zM277.6,365.1h1v1h-1zM305.3,366.1h1v1h-1zM274.3,374.3h1v1h-1zM287.7,368.4h1v1h-1zM286.6,368.4h1v1h-1zM286.3,371.5h1v1h-1zM288.8,371.2h1v1h-1zM277.1,364.0h1v1h-1zM275.3,369.1h1v1h-1zM287.5,361.5h1v1h-1zM285.6,378.1h1v1h-1zM290.6,358.0h1v1h-1zM280.3,367.4h1v1h-1zM280.7,366.1h1v1h-1zM290.2,365.8h1v1h-1zM272.5,367.8h1v1h-1zM280.2,364.6h1v1h-1zM276.6,356.6h1v1h-1zM271.3,362.1h1v1h-1zM272.7,349.5h1v1h-1zM289.9,357.8h1v1h-1zM275.4,366.8h1v1h-1zM262.2,371.2h1v1h-1zM275.0,367.5h1v1h-1zM277.2,365.6h1v1h-1zM281.8,364.0h1v1h-1zM266.8,356.1h1v1h-1zM280.7,371.6h1v1h-1zM276.7,366.9h1v1h-1zM282.3,366.6h1v1h-1zM288.7,356.0h1v1h-1zM283.1,363.0h1v1h-1zM278.6,359.4h1v1h-1zM274.9,358.5h1v1h-1zM272.4,377.4h1v1h-1zM294.2,364.1h1v1h-1zM286.8,358.8h1v1h-1zM282.1,371.7h1v1h-1zM280.7,358.6h1v1h-1zM279.1,358.7h1v1h-1zM270.1,362.8h1v1h-1zM277.9,359.6h1v1h-1zM274.1,359.0h1v1h-1zM282.8,371.5h1v1h-1zM279.4,376.0h1v1h-1zM268.4,365.5h1v1h-1zM272.0,363.1h1v1h-1zM281.8,367.0h1v1h-1zM289.8,361.0h1v1h-1zM271.3,363.0h1v1h-1zM283.3,360.3h1v1h-1zM288.0,373.0h1v1h-1zM269.9,365.9h1v1h-1zM288.9,353.7h1v1h-1zM282.6,362.8h1v1h-1zM269.9,371.1h1v1h-1zM282.7,361.4h1v1h-1zM284.5,367.4h1v1h-1zM287.0,367.1h1v1h-1zM284.2,357.7h1v1h-1zM277.7,364.7h1v1h-1zM278.0,358.3h1v1h-1zM266.8,365.3h1v1h-1zM281.3,360.9h1v1h-1zM277.8,359.2h1v1h-1zM275.2,363.5h1v1h-1zM276.0,367.6h1v1h-1zM279.9,364.7h1v1h-1zM284.2,370.8h1v1h-1zM285.7,365.2h1v1h-1zM279.7,359.7h1v1h-1zM278.3,367.7h1v1h-1zM282.8,361.9h1v1h-1zM270.6,355.8h1v1h-1zM283.5,369.5h1v1h-1zM283.9,356.6h1v1h-1zM279.3,365.2h1v1h-1zM273.8,365.9h1v1h-1zM279.4,359.5h1v1h-1zM271.3,368.3h1v1h-1zM283.8,359.2h1v1h-1zM273.1,368.8h1v1h-1zM285.6,362.4h1v1h-1zM293.4,362.4h1v1h-1zM272.8,369.9h1v1h-1zM279.5,365.9h1v1h-1zM281.3,358.6h1v1h-1zM271.7,363.0h1v1h-1zM292.0,358.6h1v1h-1zM291.6,365.2h1v1h-1zM272.3,365.4h1v1h-1zM285.4,359.2h1v1h-1zM264.4,365.9h1v1h-1zM272.4,366.4h1v1h-1zM266.1,363.2h1v1h-1zM274.7,356.1h1v1h-1zM279.1,364.9h1v1h-1zM276.7,357.7h1v1h-1zM282.7,354.6h1v1h-1zM285.2,366.6h1v1h-1zM294.1,368.7h1v1h-1zM283.8,365.4h1v1h-1zM281.2,356.9h1v1h-1zM292.4,366.8h1v1h-1zM278.8,357.9h1v1h-1zM292.5,366.8h1v1h-1zM271.8,367.6h1v1h-1zM295.7,363.9h1v1h-1zM284.1,361.8h1v1h-1zM276.1,369.7h1v1h-1zM304.9,364.6h1v1h-1zM280.0,368.2h1v1h-1zM278.6,367.9h1v1h-1zM287.4,358.6h1v1h-1zM272.7,363.6h1v1h-1zM287.5,365.5h1v1h-1zM290.6,356.6h1v1h-1zM284.8,360.7h1v1h-1zM281.8,365.7h1v1h-1zM273.5,362.8h1v1h-1zM272.0,365.4h1v1h-1zM274.4,361.4h1v1h-1zM282.7,360.5h1v1h-1zM289.9,360.6h1v1h-1zM287.6,365.5h1v1h-1zM273.0,362.8h1v1h-1zM274.5,362.1h1v1h-1zM278.9,373.7h1v1h-1zM277.7,372.4h1v1h-1zM284.5,357.0h1v1h-1zM263.1,367.6h1v1h-1zM265.6,367.8h1v1h-1zM289.0,366.1h1v1h-1zM279.4,362.7h1v1h-1zM283.0,362.4h1v1h-1zM276.9,362.0h1v1h-1zM290.1,360.7h1v1h-1zM283.9,357.9h1v1h-1zM275.5,356.7h1v1h-1zM279.5,367.6h1v1h-1zM283.4,361.4h1v1h-1zM285.7,362.2h1v1h-1zM283.9,365.5h1v1h-1zM285.2,350.8h1v1h-1zM270.9,368.1h1v1h-1zM280.2,375.9h1v1h-1zM279.2,361.1h1v1h-1zM292.6,367.0h1v1h-1zM295.7,366.7h1v1h-1zM279.4,367.9h1v1h-1zM274.9,361.6h1v1h-1zM276.7,362.8h1v1h-1zM287.0,361.4h1v1h-1zM283.5,361.3h1v1h-1zM287.8,349.3h1v1h-1zM279.4,364.9h1v1h-1zM272.7,369.4h1v1h-1zM282.7,370.8h1v1h-1zM288.4,367.4h1v1h-1zM279.8,358.2h1v1h-1zM279.3,361.6h1v1h-1zM282.9,361.5h1v1h-1zM304.6,355.5h1v1h-1zM290.1,361.5h1v1h-1zM279.1,368.9h1v1h-1zM281.0,357.6h1v1h-1zM284.2,363.0h1v1h-1zM265.1,365.1h1v1h-1zM272.8,360.0h1v1h-1zM284.7,365.6h1v1h-1zM278.8,375.5h1v1h-1zM284.2,360.7h1v1h-1zM282.8,363.4h1v1h-1zM264.0,355.6h1v1h-1zM270.3,375.0h1v1h-1zM279.6,362.5h1v1h-1z" fill="#444"/>
<path d="M303.2,367.7h1v1h-1zM307.2,371.9h1v1h-1zM312.3,371.5h1v1h-1zM306.2,364.2h1v1h-1zM304.1,361.0h1v1h-1zM295.3,358.6h1v1h-1zM300.6,358.2h1v1h-1zM315.2,363.5h1v1h-1zM315.3,367.0h1v1h-1zM313.2,367.8h1v1h-1zM302.9,366.6h1v1h-1zM304.8,358.9h1v1h-1zM315.1,374.5h1v1h-1zM300.4,372.0h1v1h-1zM312.6,357.1h1v1h-1zM308.8,364.1h1v1h-1zM309.5,359.9h1v1h-1zM298.3,362.2h1v1h-1zM312.8,366.5h1v1h-1zM311.5,368.4h1v1h-1zM300.3,361.8h1v1h-1zM309.3,367.8h1v1h-1zM308.1,365.0h1v1h-1zM307.9,374.1h1v1h-1zM292.3,361.9h1v1h-1zM323.7,363.4h1v1h-1zM294.6,362.8h1v1h-1zM297.3,358.1h1v1h-1zM308.5,371.9h1v1h-1zM310.1,365.9h1v1h-1zM313.9,363.2h1v1h-1zM301.2,361.4h1v1h-1zM309.3,360.4h1v1h-1zM302.5,359.9h1v1h-1zM296.9,356.1h1v1h-1zM306.4,359.9h1v1h-1zM307.3,370.1h1v1h-1zM309.0,361.8h1v1h-1zM299.1,355.8h1v1h-1zM309.5,357.0h1v1h-1zM309.9,355.8h1v1h-1zM307.9,361.6h1v1h-1zM313.7,359.7h1v1h-1zM304.5,363.4h1v1h-1zM307.4,371.8h1v1h-1zM305.3,358.9h1v1h-1zM304.8,364.7h1v1h-1zM308.6,366.0h1v1h-1zM297.7,376.3h1v1h-1zM319.4,361.8h1v1h-1zM298.9,362.9h1v1h-1zM309.8,349.1h1v1h-1zM307.1,353.5h1v1h-1zM310.1,370.0h1v1h-1zM314.0,353.3h1v1h-1zM316.3,367.2h1v1h-1zM304.6,364.9h1v1h-1zM317.2,360.1h1v1h-1zM306.9,358.8h1v1h-1zM314.8,349.6h1v1h-1zM316.6,356.4h1v1h-1zM313.2,352.6h1v1h-1zM300.7,358.5h1v1h-1zM312.6,352.6h1v1h-1zM311.1,358.3h1v1h-1zM315.4,360.2h1v1h-1zM310.3,361.0h1v1h-1zM319.1,359.9h1v1h-1zM306.8,373.5h1v1h-1zM307.5,366.0h1v1h-1zM302.0,363.2h1v1h-1zM291.7,362.6h1v1h-1zM302.6,353.3h1v1h-1zM297.5,368.6h1v1h-1zM309.9,353.2h1v1h-1zM319.2,358.0h1v1h-1zM304.5,363.4h1v1h-1zM299.3,352.7h1v1h-1zM302.0,368.8h1v1h-1zM313.4,352.9h1v1h-1z" fill="#666"/>
<path d="M261.3,386.3h.8v.8h-.8zM262.0,379.1h.8v.8h-.8zM313.0,385.0h.8v.8h-.8zM299.7,385.7h.8v.8h-.8zM282.5,381.1h.8v.8h-.8zM283.6,393.0h.8v.8h-.8zM300.6,382.6h.8v.8h-.8zM266.6,382.1h.8v.8h-.8zM305.9,385.4h.8v.8h-.8zM303.3,392.3h.8v.8h-.8zM268.7,390.0h.8v.8h-.8zM263.7,392.6h.8v.8h-.8zM272.8,382.2h.8v.8h-.8zM322.3,383.9h.8v.8h-.8zM275.3,393.9h.8v.8h-.8zM300.1,394.0h.8v.8h-.8zM286.2,386.5h.8v.8h-.8zM322.2,386.6h.8v.8h-.8zM324.3,380.6h.8v.8h-.8zM314.2,380.1h.8v.8h-.8zM294.7,377.0h.8v.8h-.8zM272.2,395.0h.8v.8h-.8zM290.1,392.4h.8v.8h-.8zM277.1,383.7h.8v.8h-.8zM267.5,387.5h.8v.8h-.8zM316.2,386.8h.8v.8h-.8zM285.1,394.6h.8v.8h-.8zM318.2,389.7h.8v.8h-.8zM265.9,388.9h.8v.8h-.8zM289.4,395.2h.8v.8h-.8zM284.2,389.6h.8v.8h-.8zM301.4,384.1h.8v.8h-.8zM294.4,389.9h.8v.8h-.8zM319.1,386.5h.8v.8h-.8zM284.3,395.5h.8v.8h-.8zM264.6,392.9h.8v.8h-.8zM304.7,387.6h.8v.8h-.8zM289.7,391.3h.8v.8h-.8zM318.0,390.8h.8v.8h-.8zM309.0,377.7h.8v.8h-.8zM281.8,379.6h.8v.8h-.8zM322.0,393.9h.8v.8h-.8zM270.2,388.2h.8v.8h-.8zM297.9,377.9h.8v.8h-.8zM286.1,391.2h.8v.8h-.8zM302.1,382.3h.8v.8h-.8zM309.8,382.5h.8v.8h-.8zM295.8,385.0h.8v.8h-.8zM323.6,389.3h.8v.8h-.8zM312.5,389.9h.8v.8h-.8zM285.4,395.3h.8v.8h-.8zM306.4,390.1h.8v.8h-.8zM278.8,380.1h.8v.8h-.8zM297.8,392.7h.8v.8h-.8zM311.8,383.6h.8v.8h-.8zM270.0,386.8h.8v.8h-.8zM317.2,380.1h.8v.8h-.8zM308.3,380.2h.8v.8h-.8zM281.0,378.0h.8v.8h-.8zM280.0,384.3h.8v.8h-.8zM322.9,395.3h.8v.8h-.8zM273.0,382.9h.8v.8h-.8zM321.4,380.7h.8v.8h-.8zM281.5,385.3h.8v.8h-.8zM267.9,381.9h.8v.8h-.8zM286.2,384.3h.8v.8h-.8zM322.7,382.1h.8v.8h-.8zM274.1,394.3h.8v.8h-.8zM289.8,392.9h.8v.8h-.8zM301.8,391.8h.8v.8h-.8zM281.1,379.9h.8v.8h-.8zM309.5,385.9h.8v.8h-.8zM296.8,389.7h.8v.8h-.8zM309.2,382.2h.8v.8h-.8zM284.2,394.4h.8v.8h-.8zM294.9,382.5h.8v.8h-.8zM301.3,381.9h.8v.8h-.8zM310.4,377.8h.8v.8h-.8zM313.9,387.8h.8v.8h-.8zM283.6,394.9h.8v.8h-.8zM278.0,381.6h.8v.8h-.8zM265.5,387.4h.8v.8h-.8zM309.2,389.9h.8v.8h-.8zM287.4,392.3h.8v.8h-.8zM268.1,382.8h.8v.8h-.8zM302.3,395.4h.8v.8h-.8zM301.6,390.1h.8v.8h-.8zM310.6,384.5h.8v.8h-.8zM321.2,391.1h.8v.8h-.8zM282.9,384.5h.8v.8h-.8zM312.6,383.6h.8v.8h-.8zM272.9,393.6h.8v.8h-.8zM295.0,386.9h.8v.8h-.8zM303.8,394.1h.8v.8h-.8zM269.5,383.4h.8v.8h-.8zM265.2,384.9h.8v.8h-.8zM293.1,393.2h.8v.8h-.8zM303.7,388.0h.8v.8h-.8zM286.8,387.9h.8v.8h-.8zM278.5,393.1h.8v.8h-.8zM311.5,392.9h.8v.8h-.8zM270.7,389.8h.8v.8h-.8zM309.3,386.5h.8v.8h-.8zM318.5,394.1h.8v.8h-.8zM308.6,392.6h.8v.8h-.8zM302.5,393.7h.8v.8h-.8zM269.4,390.4h.8v.8h-.8zM306.0,388.6h.8v.8h-.8zM278.6,378.3h.8v.8h-.8zM299.6,392.7h.8v.8h-.8z" fill="#888"/>
<rect x="260.5" y="335.0" width="65.30000000000001" height="62.30000000000001" fill="none" stroke="#555" stroke-width="1.0"/>
<line x1="285.0" y1="335.0" x2="285.0" y2="397.3" stroke="#777" stroke-width="1.0"/>
<line x1="260.5" y1="376.3" x2="325.8" y2="376.3" stroke="#666" stroke-width="1.0"/>
<text x="273.4" y="347.3" font-size="9.2" font-weight="bold" text-anchor="middle" stroke="#111" stroke-width="0.2">73</text>
<text x="317.0" y="347.3" font-size="9.2" font-weight="bold" text-anchor="middle" stroke="#111" stroke-width="0.2">18</text>
<text x="319.2" y="391.8" font-size="9.2" font-weight="bold" text-anchor="middle" stroke="#111" stroke-width="0.2">4</text>
<text transform="translate(258.3,399.5) rotate(-90)" font-size="4.4" fill="#333" stroke="#333" stroke-width="0.15">10</text>
<text transform="translate(255.9,395.3) rotate(-90)" font-size="3.0" fill="#333" stroke="#333" stroke-width="0.1">0</text>
<text x="259.9" y="403.7" font-size="4.6" text-anchor="middle" fill="#333" stroke="#333" stroke-width="0.15">10</text>
<text x="263.1" y="401.7" font-size="3.2" text-anchor="middle" fill="#333" stroke="#333" stroke-width="0.1">0</text>
<text transform="translate(258.3,383.925) rotate(-90)" font-size="4.4" fill="#333" stroke="#333" stroke-width="0.15">10</text>
<text transform="translate(255.9,379.725) rotate(-90)" font-size="3.0" fill="#333" stroke="#333" stroke-width="0.1">1</text>
<text x="276.22499999999997" y="403.7" font-size="4.6" text-anchor="middle" fill="#333" stroke="#333" stroke-width="0.15">10</text>
<text x="279.425" y="401.7" font-size="3.2" text-anchor="middle" fill="#333" stroke="#333" stroke-width="0.1">1</text>
<text transform="translate(258.3,368.34999999999997) rotate(-90)" font-size="4.4" fill="#333" stroke="#333" stroke-width="0.15">10</text>
<text transform="translate(255.9,364.15) rotate(-90)" font-size="3.0" fill="#333" stroke="#333" stroke-width="0.1">2</text>
<text x="292.54999999999995" y="403.7" font-size="4.6" text-anchor="middle" fill="#333" stroke="#333" stroke-width="0.15">10</text>
<text x="295.75" y="401.7" font-size="3.2" text-anchor="middle" fill="#333" stroke="#333" stroke-width="0.1">2</text>
<text transform="translate(258.3,352.775) rotate(-90)" font-size="4.4" fill="#333" stroke="#333" stroke-width="0.15">10</text>
<text transform="translate(255.9,348.575) rotate(-90)" font-size="3.0" fill="#333" stroke="#333" stroke-width="0.1">3</text>
<text x="308.875" y="403.7" font-size="4.6" text-anchor="middle" fill="#333" stroke="#333" stroke-width="0.15">10</text>
<text x="312.07500000000005" y="401.7" font-size="3.2" text-anchor="middle" fill="#333" stroke="#333" stroke-width="0.1">3</text>
<text transform="translate(258.3,337.2) rotate(-90)" font-size="4.4" fill="#333" stroke="#333" stroke-width="0.15">10</text>
<text transform="translate(255.9,333.0) rotate(-90)" font-size="3.0" fill="#333" stroke="#333" stroke-width="0.1">4</text>
<text x="325.2" y="403.7" font-size="4.6" text-anchor="middle" fill="#333" stroke="#333" stroke-width="0.15">10</text>
<text x="328.40000000000003" y="401.7" font-size="3.2" text-anchor="middle" fill="#333" stroke="#333" stroke-width="0.1">4</text>
<path d="M386.1,367.1h1v1h-1zM386.8,366.2h1v1h-1zM381.9,355.3h1v1h-1zM387.7,361.1h1v1h-1zM386.0,363.1h1v1h-1zM388.3,361.6h1v1h-1zM391.9,364.6h1v1h-1zM388.5,366.8h1v1h-1zM390.3,366.0h1v1h-1zM380.0,362.2h1v1h-1zM393.4,366.3h1v1h-1zM388.6,366.2h1v1h-1zM384.1,362.0h1v1h-1zM384.1,368.8h1v1h-1zM387.9,371.1h1v1h-1zM388.4,371.5h1v1h-1zM388.2,360.1h1v1h-1zM393.0,365.8h1v1h-1zM390.9,365.3h1v1h-1zM385.3,365.1h1v1h-1zM382.3,360.1h1v1h-1zM383.2,362.5h1v1h-1zM381.4,364.1h1v1h-1zM387.6,372.1h1v1h-1zM393.4,364.3h1v1h-1zM389.8,363.7h1v1h-1zM388.0,364.4h1v1h-1zM384.5,364.8h1v1h-1zM381.0,366.1h1v1h-1zM385.4,360.5h1v1h-1zM385.2,366.6h1v1h-1zM384.0,366.3h1v1h-1zM388.6,370.3h1v1h-1zM382.4,364.1h1v1h-1zM388.4,370.1h1v1h-1zM387.5,367.3h1v1h-1zM381.0,362.3h1v1h-1zM392.7,363.4h1v1h-1zM394.6,361.8h1v1h-1zM385.5,358.5h1v1h-1zM388.9,365.5h1v1h-1zM394.1,365.1h1v1h-1zM385.6,359.2h1v1h-1zM386.2,368.0h1v1h-1zM389.3,369.1h1v1h-1zM389.7,364.3h1v1h-1zM388.8,365.1h1v1h-1zM381.5,370.9h1v1h-1zM387.9,360.6h1v1h-1zM387.9,365.6h1v1h-1zM390.2,369.9h1v1h-1zM375.1,366.6h1v1h-1zM392.2,360.9h1v1h-1zM379.5,365.5h1v1h-1zM387.8,365.8h1v1h-1zM382.3,362.7h1v1h-1zM387.2,367.3h1v1h-1zM394.7,365.6h1v1h-1zM384.2,355.6h1v1h-1zM390.5,364.0h1v1h-1zM386.1,360.8h1v1h-1zM389.3,357.8h1v1h-1zM386.9,365.0h1v1h-1zM387.6,369.4h1v1h-1zM386.1,364.9h1v1h-1zM389.7,358.7h1v1h-1zM385.4,364.8h1v1h-1zM390.1,361.5h1v1h-1zM389.5,365.9h1v1h-1zM380.9,358.9h1v1h-1zM381.1,365.0h1v1h-1zM387.3,367.2h1v1h-1zM389.6,362.4h1v1h-1zM390.5,367.6h1v1h-1zM388.3,366.3h1v1h-1zM381.6,365.9h1v1h-1zM382.6,360.0h1v1h-1zM385.2,365.0h1v1h-1zM386.3,363.3h1v1h-1zM382.7,365.2h1v1h-1zM383.7,359.2h1v1h-1zM386.9,370.0h1v1h-1zM385.0,360.5h1v1h-1zM391.7,371.0h1v1h-1zM385.4,363.7h1v1h-1zM387.3,375.7h1v1h-1zM387.0,368.3h1v1h-1zM388.2,357.6h1v1h-1zM382.3,359.8h1v1h-1zM388.1,364.9h1v1h-1zM393.3,363.5h1v1h-1zM387.7,364.8h1v1h-1zM387.0,373.3h1v1h-1zM387.6,370.1h1v1h-1zM391.4,362.2h1v1h-1zM389.1,363.1h1v1h-1zM386.9,365.1h1v1h-1zM386.6,362.7h1v1h-1zM392.4,363.5h1v1h-1zM389.2,370.9h1v1h-1zM388.9,368.4h1v1h-1zM391.8,368.6h1v1h-1zM393.0,359.1h1v1h-1zM393.9,364.6h1v1h-1zM379.9,362.1h1v1h-1zM381.2,364.4h1v1h-1zM380.9,360.7h1v1h-1zM387.6,365.1h1v1h-1zM383.5,363.6h1v1h-1zM386.1,364.8h1v1h-1zM386.5,363.7h1v1h-1zM389.8,358.4h1v1h-1zM384.6,365.0h1v1h-1zM385.0,362.4h1v1h-1zM384.8,365.3h1v1h-1zM391.2,363.8h1v1h-1zM385.5,365.9h1v1h-1zM385.6,357.2h1v1h-1zM387.5,363.1h1v1h-1zM384.3,366.9h1v1h-1zM386.7,362.4h1v1h-1zM378.2,358.0h1v1h-1zM386.6,364.1h1v1h-1zM388.2,365.3h1v1h-1zM384.7,359.7h1v1h-1zM382.3,364.0h1v1h-1zM382.1,367.4h1v1h-1zM381.5,357.7h1v1h-1zM385.8,357.8h1v1h-1zM392.7,360.7h1v1h-1zM386.3,363.6h1v1h-1zM383.4,357.8h1v1h-1zM379.4,367.8h1v1h-1zM390.4,372.7h1v1h-1zM380.9,366.6h1v1h-1zM386.4,367.7h1v1h-1zM384.5,367.2h1v1h-1zM389.9,366.8h1v1h-1zM392.0,363.8h1v1h-1zM392.4,361.8h1v1h-1zM392.8,354.1h1v1h-1zM386.6,361.5h1v1h-1zM386.5,368.4h1v1h-1zM389.2,364.9h1v1h-1zM393.0,358.9h1v1h-1zM383.4,370.2h1v1h-1zM387.7,356.6h1v1h-1zM387.8,360.0h1v1h-1zM392.1,368.8h1v1h-1zM384.4,369.4h1v1h-1zM383.3,368.0h1v1h-1zM388.7,364.0h1v1h-1zM381.1,363.4h1v1h-1zM377.8,362.4h1v1h-1zM379.5,369.1h1v1h-1zM382.8,355.3h1v1h-1zM388.7,365.9h1v1h-1zM384.6,372.5h1v1h-1zM389.4,364.8h1v1h-1zM384.0,353.3h1v1h-1zM388.3,368.1h1v1h-1zM384.3,359.1h1v1h-1zM386.3,358.1h1v1h-1zM386.5,367.4h1v1h-1zM392.2,365.5h1v1h-1zM387.2,367.3h1v1h-1zM391.8,363.3h1v1h-1zM381.8,361.5h1v1h-1zM381.7,361.1h1v1h-1zM386.0,365.8h1v1h-1zM387.1,364.8h1v1h-1zM385.1,366.1h1v1h-1zM389.9,367.4h1v1h-1zM392.2,363.4h1v1h-1zM385.5,370.9h1v1h-1zM387.3,366.1h1v1h-1zM385.2,368.2h1v1h-1zM385.0,360.7h1v1h-1zM386.3,362.8h1v1h-1zM389.7,363.1h1v1h-1zM387.0,363.7h1v1h-1zM387.8,362.1h1v1h-1zM390.7,359.1h1v1h-1zM385.0,361.8h1v1h-1zM389.0,364.7h1v1h-1zM388.3,363.2h1v1h-1zM383.8,360.2h1v1h-1zM385.2,362.5h1v1h-1zM387.6,365.8h1v1h-1zM390.2,364.1h1v1h-1zM383.7,360.5h1v1h-1zM386.7,365.9h1v1h-1zM393.9,365.2h1v1h-1zM393.2,371.6h1v1h-1zM382.5,369.1h1v1h-1zM390.8,369.6h1v1h-1zM386.5,368.1h1v1h-1zM384.7,364.2h1v1h-1zM386.6,371.3h1v1h-1zM385.7,368.1h1v1h-1zM386.8,361.8h1v1h-1zM387.4,367.0h1v1h-1zM383.8,366.9h1v1h-1zM383.8,361.2h1v1h-1zM387.3,363.6h1v1h-1zM382.8,358.3h1v1h-1zM386.6,365.4h1v1h-1zM384.8,365.2h1v1h-1zM380.7,366.0h1v1h-1zM388.1,365.6h1v1h-1zM384.2,364.8h1v1h-1zM387.0,368.6h1v1h-1zM387.5,365.5h1v1h-1zM383.8,367.8h1v1h-1zM391.0,362.6h1v1h-1zM388.9,365.7h1v1h-1zM386.3,359.6h1v1h-1zM393.2,357.4h1v1h-1zM387.7,363.1h1v1h-1zM390.8,362.9h1v1h-1zM386.6,366.8h1v1h-1zM388.2,362.5h1v1h-1zM389.1,366.0h1v1h-1zM390.3,362.6h1v1h-1zM386.3,363.0h1v1h-1zM383.3,365.5h1v1h-1zM388.1,369.9h1v1h-1zM385.3,366.0h1v1h-1zM390.8,364.1h1v1h-1zM386.7,365.0h1v1h-1zM383.9,360.8h1v1h-1zM390.7,365.2h1v1h-1zM386.2,359.8h1v1h-1zM386.9,368.9h1v1h-1zM382.1,361.1h1v1h-1zM390.7,369.9h1v1h-1zM392.4,362.4h1v1h-1zM388.8,361.7h1v1h-1zM388.5,363.1h1v1h-1zM387.2,369.6h1v1h-1zM387.8,363.6h1v1h-1zM386.7,365.5h1v1h-1zM384.6,365.3h1v1h-1zM388.8,370.4h1v1h-1zM378.7,360.0h1v1h-1zM381.8,367.8h1v1h-1zM395.7,365.2h1v1h-1zM387.0,368.8h1v1h-1zM377.3,363.8h1v1h-1zM374.7,365.1h1v1h-1zM384.6,362.7h1v1h-1zM387.8,362.3h1v1h-1zM390.7,364.5h1v1h-1zM387.9,374.1h1v1h-1zM384.8,368.0h1v1h-1zM383.4,369.2h1v1h-1zM390.1,365.0h1v1h-1zM390.2,370.6h1v1h-1zM391.7,364.5h1v1h-1zM386.3,368.7h1v1h-1zM381.0,362.2h1v1h-1zM388.3,366.6h1v1h-1zM393.5,371.1h1v1h-1zM387.7,366.2h1v1h-1zM381.5,363.8h1v1h-1zM387.5,363.6h1v1h-1zM386.7,366.8h1v1h-1zM382.9,362.4h1v1h-1zM379.8,368.8h1v1h-1zM382.5,358.1h1v1h-1zM389.4,363.7h1v1h-1zM390.1,363.1h1v1h-1zM394.5,367.2h1v1h-1zM387.1,364.9h1v1h-1zM385.7,367.5h1v1h-1zM394.0,362.9h1v1h-1zM382.4,366.7h1v1h-1zM390.5,358.9h1v1h-1zM383.9,360.8h1v1h-1zM388.6,366.4h1v1h-1zM383.7,360.3h1v1h-1zM389.1,356.8h1v1h-1zM388.9,363.9h1v1h-1zM393.7,368.2h1v1h-1zM384.3,363.5h1v1h-1zM385.5,361.8h1v1h-1zM386.8,368.1h1v1h-1zM380.8,363.6h1v1h-1zM392.1,367.3h1v1h-1zM383.5,361.5h1v1h-1zM383.3,358.5h1v1h-1zM390.8,364.8h1v1h-1zM383.9,359.1h1v1h-1zM385.1,362.6h1v1h-1zM392.9,362.8h1v1h-1zM386.9,368.5h1v1h-1zM389.0,363.8h1v1h-1zM378.3,369.7h1v1h-1zM388.7,362.9h1v1h-1zM386.2,360.9h1v1h-1zM383.1,359.0h1v1h-1zM388.4,366.4h1v1h-1zM387.2,367.4h1v1h-1zM388.5,365.0h1v1h-1zM383.2,366.7h1v1h-1zM390.9,366.9h1v1h-1zM391.2,362.7h1v1h-1zM382.8,369.2h1v1h-1zM384.3,365.4h1v1h-1zM385.8,364.6h1v1h-1zM385.5,362.5h1v1h-1zM379.8,371.6h1v1h-1zM387.3,357.3h1v1h-1zM383.1,360.3h1v1h-1zM383.7,355.0h1v1h-1zM388.6,370.6h1v1h-1zM385.6,367.3h1v1h-1zM388.7,359.9h1v1h-1zM391.0,358.2h1v1h-1zM384.4,363.2h1v1h-1zM391.2,364.9h1v1h-1zM386.0,361.5h1v1h-1zM386.8,364.7h1v1h-1zM389.2,369.7h1v1h-1zM389.2,364.6h1v1h-1zM385.9,370.5h1v1h-1zM387.2,364.4h1v1h-1zM393.2,370.3h1v1h-1zM388.6,364.1h1v1h-1zM384.1,368.5h1v1h-1zM384.8,368.1h1v1h-1zM383.6,364.9h1v1h-1zM388.0,365.0h1v1h-1zM387.4,365.9h1v1h-1zM382.3,360.4h1v1h-1zM386.0,371.2h1v1h-1zM386.0,361.1h1v1h-1zM384.0,364.6h1v1h-1zM390.9,362.4h1v1h-1zM388.6,365.2h1v1h-1zM385.2,361.0h1v1h-1zM385.9,361.8h1v1h-1zM388.5,358.0h1v1h-1zM390.7,367.3h1v1h-1zM388.6,370.1h1v1h-1zM388.7,358.2h1v1h-1zM386.7,366.2h1v1h-1zM384.0,360.3h1v1h-1zM388.1,366.4h1v1h-1zM384.9,363.6h1v1h-1zM384.6,362.4h1v1h-1zM386.3,368.5h1v1h-1zM380.5,363.2h1v1h-1zM392.5,365.7h1v1h-1zM387.1,367.6h1v1h-1zM382.8,360.0h1v1h-1zM380.3,359.1h1v1h-1zM387.4,367.6h1v1h-1zM385.0,362.0h1v1h-1zM388.0,366.8h1v1h-1zM387.5,357.4h1v1h-1zM384.5,355.1h1v1h-1zM387.4,361.4h1v1h-1zM384.1,370.1h1v1h-1zM391.4,366.3h1v1h-1zM387.5,365.1h1v1h-1zM384.3,364.3h1v1h-1zM393.6,361.3h1v1h-1zM384.1,365.1h1v1h-1zM389.8,367.6h1v1h-1zM382.9,364.0h1v1h-1zM385.5,359.9h1v1h-1zM386.8,362.7h1v1h-1zM389.9,366.1h1v1h-1zM383.6,364.8h1v1h-1zM385.2,362.2h1v1h-1zM384.7,368.4h1v1h-1zM385.0,358.2h1v1h-1zM383.6,367.5h1v1h-1zM394.5,360.6h1v1h-1zM385.2,363.3h1v1h-1zM381.3,366.0h1v1h-1zM386.3,365.5h1v1h-1zM394.8,363.5h1v1h-1zM389.4,367.6h1v1h-1zM384.2,362.3h1v1h-1zM392.3,367.1h1v1h-1zM387.0,360.5h1v1h-1zM389.8,366.4h1v1h-1zM394.6,369.9h1v1h-1zM389.5,365.5h1v1h-1zM386.7,362.5h1v1h-1zM387.6,365.4h1v1h-1zM388.9,368.5h1v1h-1zM387.7,362.5h1v1h-1zM389.5,370.2h1v1h-1zM383.4,366.1h1v1h-1zM388.5,366.5h1v1h-1zM388.4,364.2h1v1h-1zM386.1,370.7h1v1h-1zM392.9,359.3h1v1h-1zM377.1,366.1h1v1h-1zM384.0,362.6h1v1h-1zM380.6,365.8h1v1h-1zM386.3,362.5h1v1h-1zM389.8,373.5h1v1h-1zM391.9,368.8h1v1h-1zM385.0,366.9h1v1h-1zM386.4,368.8h1v1h-1zM388.7,364.4h1v1h-1zM388.5,361.9h1v1h-1zM389.4,370.1h1v1h-1zM385.2,366.6h1v1h-1zM380.4,368.0h1v1h-1zM389.7,360.7h1v1h-1zM392.9,364.9h1v1h-1zM380.1,359.4h1v1h-1zM389.7,363.5h1v1h-1zM390.6,358.8h1v1h-1zM386.1,368.1h1v1h-1zM384.0,367.0h1v1h-1zM385.2,365.8h1v1h-1zM387.7,372.7h1v1h-1zM381.9,367.4h1v1h-1zM391.3,360.4h1v1h-1zM386.8,373.0h1v1h-1zM390.4,353.6h1v1h-1zM385.6,358.2h1v1h-1zM387.6,361.8h1v1h-1zM384.4,361.4h1v1h-1zM387.6,362.8h1v1h-1zM383.2,363.7h1v1h-1zM388.0,361.3h1v1h-1zM390.6,358.4h1v1h-1zM388.0,363.1h1v1h-1zM392.3,362.1h1v1h-1zM384.1,359.5h1v1h-1zM393.8,366.8h1v1h-1zM382.5,363.3h1v1h-1zM383.0,370.1h1v1h-1zM388.0,357.0h1v1h-1zM387.3,367.9h1v1h-1zM386.5,366.2h1v1h-1zM386.1,365.3h1v1h-1zM387.3,361.9h1v1h-1zM387.8,365.1h1v1h-1zM386.4,362.0h1v1h-1zM382.8,365.4h1v1h-1zM389.5,355.6h1v1h-1zM384.5,369.5h1v1h-1zM389.9,361.9h1v1h-1zM391.5,360.9h1v1h-1zM383.6,371.7h1v1h-1zM384.9,363.7h1v1h-1zM380.4,360.8h1v1h-1zM382.2,364.0h1v1h-1zM379.7,368.4h1v1h-1zM385.2,362.3h1v1h-1zM384.2,367.2h1v1h-1zM392.2,363.0h1v1h-1zM392.5,370.5h1v1h-1zM391.5,365.6h1v1h-1zM381.0,367.0h1v1h-1zM385.0,365.2h1v1h-1zM379.5,363.5h1v1h-1zM387.4,361.0h1v1h-1zM387.6,370.7h1v1h-1zM387.4,362.0h1v1h-1zM395.3,356.5h1v1h-1zM383.1,366.0h1v1h-1zM384.3,356.0h1v1h-1zM387.5,367.6h1v1h-1zM383.6,369.9h1v1h-1zM388.3,368.9h1v1h-1zM380.9,364.5h1v1h-1zM392.4,372.0h1v1h-1zM391.4,364.5h1v1h-1zM387.2,362.2h1v1h-1zM390.6,361.9h1v1h-1zM387.0,356.9h1v1h-1zM380.9,371.1h1v1h-1zM386.7,365.3h1v1h-1zM378.4,364.4h1v1h-1zM394.2,359.0h1v1h-1zM377.7,363.9h1v1h-1zM384.5,363.7h1v1h-1zM381.8,359.5h1v1h-1zM381.9,366.9h1v1h-1zM386.3,367.5h1v1h-1zM382.5,366.7h1v1h-1zM384.9,364.8h1v1h-1zM390.0,364.6h1v1h-1zM385.2,358.3h1v1h-1zM386.7,367.4h1v1h-1zM384.2,364.3h1v1h-1zM379.9,359.5h1v1h-1zM388.0,369.3h1v1h-1zM385.3,358.3h1v1h-1zM385.1,358.7h1v1h-1zM385.5,371.7h1v1h-1zM387.6,363.9h1v1h-1zM390.4,363.1h1v1h-1zM387.7,365.2h1v1h-1zM388.2,359.0h1v1h-1zM389.1,367.8h1v1h-1zM378.0,354.4h1v1h-1zM383.2,370.1h1v1h-1zM386.6,367.0h1v1h-1zM388.6,367.8h1v1h-1zM384.1,362.3h1v1h-1zM387.9,366.8h1v1h-1zM388.6,365.8h1v1h-1zM384.7,368.6h1v1h-1zM388.3,368.5h1v1h-1zM377.0,368.3h1v1h-1zM377.4,365.3h1v1h-1zM384.0,365.0h1v1h-1zM384.7,363.3h1v1h-1zM387.2,365.8h1v1h-1zM383.5,355.0h1v1h-1zM383.6,366.5h1v1h-1zM383.3,366.1h1v1h-1zM385.1,361.0h1v1h-1zM390.9,370.7h1v1h-1zM386.1,364.3h1v1h-1zM390.1,359.5h1v1h-1zM383.2,368.7h1v1h-1zM389.9,362.6h1v1h-1zM383.6,365.8h1v1h-1zM381.2,362.6h1v1h-1zM385.6,355.3h1v1h-1zM388.7,367.4h1v1h-1zM390.5,359.1h1v1h-1zM381.7,361.4h1v1h-1zM381.6,372.2h1v1h-1zM382.8,363.3h1v1h-1zM387.3,366.2h1v1h-1zM392.0,360.4h1v1h-1zM389.8,365.1h1v1h-1zM382.1,365.1h1v1h-1zM381.2,370.6h1v1h-1zM383.8,368.3h1v1h-1zM391.4,362.2h1v1h-1zM383.1,365.0h1v1h-1zM382.5,367.9h1v1h-1zM387.2,361.6h1v1h-1zM383.9,367.2h1v1h-1zM381.0,370.9h1v1h-1zM383.5,363.8h1v1h-1zM383.0,370.6h1v1h-1zM389.6,369.4h1v1h-1zM389.0,364.8h1v1h-1zM392.9,367.0h1v1h-1zM388.1,366.7h1v1h-1zM389.3,365.6h1v1h-1zM385.9,358.5h1v1h-1zM394.3,359.6h1v1h-1zM378.4,361.8h1v1h-1zM393.8,369.1h1v1h-1zM384.2,365.5h1v1h-1zM386.4,357.0h1v1h-1zM385.2,365.6h1v1h-1zM390.9,359.9h1v1h-1zM378.0,358.5h1v1h-1zM387.8,364.8h1v1h-1zM387.1,365.1h1v1h-1zM385.1,359.3h1v1h-1zM388.2,366.0h1v1h-1zM388.7,369.2h1v1h-1zM381.8,355.6h1v1h-1zM379.7,372.6h1v1h-1zM383.0,366.0h1v1h-1zM386.4,367.3h1v1h-1zM398.7,362.5h1v1h-1zM385.9,362.2h1v1h-1zM387.4,366.5h1v1h-1zM382.8,369.5h1v1h-1zM390.9,366.2h1v1h-1zM386.1,363.6h1v1h-1zM380.3,367.0h1v1h-1zM382.8,362.6h1v1h-1zM390.3,361.0h1v1h-1zM384.5,367.8h1v1h-1zM393.6,361.9h1v1h-1zM390.7,362.0h1v1h-1zM388.0,366.3h1v1h-1zM382.2,368.4h1v1h-1zM393.3,364.7h1v1h-1zM387.5,360.0h1v1h-1zM393.3,364.7h1v1h-1zM381.7,367.4h1v1h-1zM380.9,361.9h1v1h-1zM378.4,369.7h1v1h-1zM394.9,362.1h1v1h-1zM384.0,362.3h1v1h-1zM384.4,366.6h1v1h-1zM392.0,360.7h1v1h-1zM388.2,357.6h1v1h-1zM392.3,364.2h1v1h-1zM383.8,370.3h1v1h-1z" fill="#000"/>
<path d="M385.3,374.2h1v1h-1zM393.0,375.9h1v1h-1zM380.8,366.3h1v1h-1zM388.4,364.8h1v1h-1zM395.9,361.7h1v1h-1zM392.5,374.2h1v1h-1zM373.3,360.2h1v1h-1zM380.1,362.7h1v1h-1zM388.5,365.0h1v1h-1zM386.5,363.2h1v1h-1zM385.5,368.9h1v1h-1zM390.8,361.3h1v1h-1zM385.3,361.4h1v1h-1zM384.8,357.4h1v1h-1zM392.2,370.0h1v1h-1zM385.2,361.9h1v1h-1zM383.0,362.0h1v1h-1zM376.0,375.8h1v1h-1zM407.4,358.6h1v1h-1zM378.4,369.5h1v1h-1zM389.9,356.6h1v1h-1zM373.5,369.3h1v1h-1zM373.1,374.5h1v1h-1zM382.8,366.5h1v1h-1zM386.0,362.6h1v1h-1zM385.1,364.2h1v1h-1zM394.1,365.4h1v1h-1zM385.8,362.8h1v1h-1zM381.9,361.6h1v1h-1zM386.1,377.0h1v1h-1zM393.2,367.4h1v1h-1zM396.8,372.1h1v1h-1zM387.3,365.0h1v1h-1zM378.9,367.5h1v1h-1zM383.9,356.5h1v1h-1zM377.6,377.6h1v1h-1zM387.4,369.0h1v1h-1zM387.3,363.2h1v1h-1zM389.0,372.5h1v1h-1zM384.0,369.1h1v1h-1zM392.7,363.1h1v1h-1zM387.1,361.6h1v1h-1zM389.9,363.8h1v1h-1zM393.5,361.4h1v1h-1zM397.0,364.1h1v1h-1zM380.5,360.6h1v1h-1zM390.3,360.9h1v1h-1zM397.7,373.7h1v1h-1zM389.4,357.5h1v1h-1zM385.8,361.6h1v1h-1zM374.2,368.6h1v1h-1zM400.3,362.8h1v1h-1zM391.3,373.7h1v1h-1zM379.8,364.0h1v1h-1zM387.7,368.8h1v1h-1zM378.6,367.3h1v1h-1zM385.3,371.7h1v1h-1zM375.6,362.6h1v1h-1zM382.7,364.1h1v1h-1zM390.7,362.2h1v1h-1zM403.8,361.8h1v1h-1zM391.5,372.1h1v1h-1zM392.3,364.8h1v1h-1zM380.6,364.5h1v1h-1zM390.3,366.7h1v1h-1zM389.8,369.4h1v1h-1zM380.3,360.4h1v1h-1zM395.4,363.1h1v1h-1zM375.7,377.2h1v1h-1zM380.6,360.4h1v1h-1zM392.3,359.2h1v1h-1zM380.3,372.3h1v1h-1zM380.7,381.0h1v1h-1zM386.6,382.1h1v1h-1zM386.8,366.3h1v1h-1zM381.8,364.7h1v1h-1zM382.7,365.9h1v1h-1zM391.0,358.4h1v1h-1zM380.0,353.4h1v1h-1zM395.8,365.6h1v1h-1zM385.9,365.7h1v1h-1zM392.5,367.9h1v1h-1zM391.5,365.0h1v1h-1zM385.2,365.7h1v1h-1zM373.9,372.5h1v1h-1zM375.7,360.0h1v1h-1zM390.4,366.3h1v1h-1zM391.3,376.2h1v1h-1zM398.1,374.3h1v1h-1zM384.5,378.3h1v1h-1zM380.3,365.5h1v1h-1zM392.5,364.7h1v1h-1zM385.2,363.9h1v1h-1zM394.9,351.2h1v1h-1zM394.3,372.4h1v1h-1zM385.5,369.4h1v1h-1zM379.7,372.7h1v1h-1zM405.9,360.5h1v1h-1zM395.1,365.7h1v1h-1zM383.8,363.1h1v1h-1zM384.8,358.5h1v1h-1zM377.2,376.0h1v1h-1zM385.9,369.3h1v1h-1zM388.0,368.9h1v1h-1zM376.1,360.3h1v1h-1zM390.1,372.0h1v1h-1zM378.6,362.5h1v1h-1zM379.1,369.9h1v1h-1zM388.2,366.2h1v1h-1zM381.8,368.1h1v1h-1zM386.2,361.5h1v1h-1zM388.2,362.0h1v1h-1zM392.2,369.8h1v1h-1zM381.5,369.5h1v1h-1zM386.4,361.8h1v1h-1zM380.1,356.0h1v1h-1zM378.7,368.1h1v1h-1zM393.8,362.2h1v1h-1zM387.0,368.1h1v1h-1zM391.1,368.7h1v1h-1zM394.0,370.6h1v1h-1zM381.0,368.4h1v1h-1zM370.8,364.9h1v1h-1zM386.1,369.5h1v1h-1zM384.0,371.0h1v1h-1zM394.6,361.0h1v1h-1zM382.5,367.6h1v1h-1zM389.2,366.9h1v1h-1zM391.4,358.9h1v1h-1zM391.0,373.0h1v1h-1zM393.2,368.6h1v1h-1zM384.5,368.4h1v1h-1zM385.5,356.5h1v1h-1zM382.1,365.8h1v1h-1zM382.6,360.4h1v1h-1zM384.5,363.8h1v1h-1zM386.4,365.7h1v1h-1zM387.1,372.0h1v1h-1zM386.9,368.4h1v1h-1zM378.1,348.3h1v1h-1zM383.4,370.1h1v1h-1zM383.8,362.3h1v1h-1zM377.9,371.4h1v1h-1zM382.6,367.5h1v1h-1zM393.4,369.2h1v1h-1zM400.6,365.2h1v1h-1zM392.2,370.2h1v1h-1zM381.7,366.3h1v1h-1zM382.3,359.9h1v1h-1zM387.9,361.4h1v1h-1zM396.9,361.6h1v1h-1zM382.5,366.5h1v1h-1zM382.6,366.3h1v1h-1zM382.0,357.5h1v1h-1zM370.3,358.3h1v1h-1zM395.9,368.7h1v1h-1zM387.0,363.2h1v1h-1zM385.1,367.8h1v1h-1zM377.0,361.2h1v1h-1zM380.2,373.6h1v1h-1zM379.1,373.0h1v1h-1zM383.0,382.4h1v1h-1zM385.5,366.2h1v1h-1zM394.8,371.2h1v1h-1zM392.1,359.6h1v1h-1zM393.4,376.1h1v1h-1zM385.3,363.1h1v1h-1zM378.9,372.1h1v1h-1zM387.9,366.0h1v1h-1zM378.0,375.7h1v1h-1zM391.7,365.9h1v1h-1zM395.6,360.3h1v1h-1zM391.7,360.0h1v1h-1zM395.2,364.3h1v1h-1zM393.9,363.5h1v1h-1zM388.6,372.9h1v1h-1zM380.1,366.6h1v1h-1zM380.6,371.1h1v1h-1zM382.1,363.8h1v1h-1zM384.7,373.0h1v1h-1zM379.2,365.8h1v1h-1zM383.9,362.7h1v1h-1zM380.9,365.0h1v1h-1zM387.3,356.7h1v1h-1zM387.5,358.9h1v1h-1zM386.1,379.7h1v1h-1zM379.7,365.6h1v1h-1zM384.3,371.9h1v1h-1zM382.9,355.3h1v1h-1zM375.5,367.1h1v1h-1zM387.6,372.4h1v1h-1zM382.5,370.0h1v1h-1zM379.1,373.8h1v1h-1zM385.5,361.9h1v1h-1zM387.2,376.5h1v1h-1zM380.5,358.6h1v1h-1zM379.4,359.1h1v1h-1zM385.7,368.1h1v1h-1zM384.9,367.2h1v1h-1zM393.7,364.3h1v1h-1zM377.9,352.3h1v1h-1zM387.6,361.9h1v1h-1zM384.4,368.5h1v1h-1zM389.0,356.6h1v1h-1zM379.8,366.4h1v1h-1zM385.1,372.9h1v1h-1zM382.7,353.6h1v1h-1zM393.6,356.2h1v1h-1zM379.7,368.3h1v1h-1zM379.1,380.9h1v1h-1zM387.5,369.2h1v1h-1zM383.2,379.3h1v1h-1zM389.5,361.7h1v1h-1zM394.2,355.9h1v1h-1zM382.2,367.7h1v1h-1zM386.9,360.2h1v1h-1zM396.3,374.8h1v1h-1zM379.9,368.2h1v1h-1zM381.9,363.4h1v1h-1zM392.4,366.8h1v1h-1zM385.3,366.6h1v1h-1zM378.4,373.3h1v1h-1zM381.1,373.9h1v1h-1zM383.0,363.3h1v1h-1zM395.7,367.1h1v1h-1zM381.8,362.8h1v1h-1zM389.9,377.2h1v1h-1zM390.0,363.6h1v1h-1zM378.7,362.0h1v1h-1zM385.2,367.5h1v1h-1zM381.7,373.7h1v1h-1zM379.8,361.7h1v1h-1zM389.2,368.9h1v1h-1zM383.5,371.8h1v1h-1zM376.8,375.8h1v1h-1zM400.2,377.7h1v1h-1zM386.8,377.8h1v1h-1zM386.3,374.0h1v1h-1zM384.7,367.2h1v1h-1zM389.4,355.5h1v1h-1zM384.6,376.3h1v1h-1zM367.0,368.3h1v1h-1zM392.0,368.0h1v1h-1zM387.3,374.3h1v1h-1zM388.2,354.6h1v1h-1zM379.9,364.2h1v1h-1zM386.9,363.3h1v1h-1zM385.3,376.0h1v1h-1zM366.9,372.9h1v1h-1zM392.1,369.6h1v1h-1zM386.1,366.4h1v1h-1zM388.4,367.5h1v1h-1zM381.3,370.7h1v1h-1zM380.6,365.8h1v1h-1zM383.7,359.1h1v1h-1zM389.9,365.6h1v1h-1zM378.4,365.5h1v1h-1zM377.1,374.6h1v1h-1zM389.4,377.9h1v1h-1zM382.3,370.2h1v1h-1zM379.7,360.9h1v1h-1zM385.4,368.5h1v1h-1zM392.0,364.4h1v1h-1zM393.2,371.8h1v1h-1zM380.3,364.9h1v1h-1zM380.1,376.2h1v1h-1zM382.4,371.3h1v1h-1zM391.9,364.5h1v1h-1zM382.8,368.1h1v1h-1zM381.0,358.4h1v1h-1zM379.7,368.0h1v1h-1zM387.2,376.5h1v1h-1zM374.2,369.0h1v1h-1zM378.5,372.9h1v1h-1zM390.5,366.8h1v1h-1zM395.5,363.8h1v1h-1zM382.6,359.7h1v1h-1zM381.8,366.7h1v1h-1zM390.4,373.6h1v1h-1zM384.3,361.6h1v1h-1zM383.8,363.4h1v1h-1zM383.0,363.6h1v1h-1zM380.4,365.7h1v1h-1zM382.7,365.0h1v1h-1zM377.0,366.9h1v1h-1zM389.7,369.9h1v1h-1zM382.5,359.2h1v1h-1zM377.6,359.0h1v1h-1zM381.8,364.2h1v1h-1zM374.6,370.0h1v1h-1zM376.1,361.9h1v1h-1zM381.3,370.9h1v1h-1zM397.9,363.9h1v1h-1zM384.2,363.7h1v1h-1zM384.7,365.0h1v1h-1zM401.9,359.5h1v1h-1zM385.3,361.3h1v1h-1zM388.3,362.9h1v1h-1zM389.7,359.6h1v1h-1zM399.6,367.2h1v1h-1zM374.6,370.2h1v1h-1zM383.0,359.1h1v1h-1zM388.8,362.9h1v1h-1zM390.8,362.8h1v1h-1zM391.8,366.9h1v1h-1zM388.3,366.9h1v1h-1zM383.7,363.9h1v1h-1zM388.9,370.2h1v1h-1zM383.4,379.3h1v1h-1zM396.9,359.2h1v1h-1zM393.0,365.6h1v1h-1zM387.5,361.3h1v1h-1zM396.6,361.1h1v1h-1zM385.5,361.7h1v1h-1zM398.4,373.4h1v1h-1zM377.5,363.3h1v1h-1zM388.3,363.5h1v1h-1zM383.7,359.6h1v1h-1zM387.6,359.5h1v1h-1zM391.3,380.2h1v1h-1zM383.9,375.7h1v1h-1zM388.4,362.0h1v1h-1zM383.8,360.3h1v1h-1zM386.7,370.1h1v1h-1zM392.0,364.4h1v1h-1zM378.3,365.6h1v1h-1zM396.7,367.7h1v1h-1zM385.6,353.7h1v1h-1zM383.2,369.2h1v1h-1zM379.9,374.0h1v1h-1zM382.4,360.9h1v1h-1zM382.3,365.5h1v1h-1zM392.4,362.7h1v1h-1zM374.6,365.5h1v1h-1zM389.3,375.1h1v1h-1zM378.8,374.7h1v1h-1zM390.3,368.7h1v1h-1zM381.1,360.8h1v1h-1zM379.9,371.5h1v1h-1zM387.4,372.3h1v1h-1zM397.6,366.1h1v1h-1zM385.7,377.3h1v1h-1zM377.7,363.4h1v1h-1zM383.6,363.8h1v1h-1zM386.9,361.1h1v1h-1zM393.4,358.0h1v1h-1zM380.8,356.1h1v1h-1zM377.0,369.5h1v1h-1zM390.0,364.9h1v1h-1zM391.4,369.7h1v1h-1z" fill="#444"/>
<path d="M387.6,381.2h1v1h-1zM388.4,384.1h1v1h-1zM394.2,392.2h1v1h-1zM393.5,390.9h1v1h-1zM384.7,378.4h1v1h-1zM379.6,377.4h1v1h-1zM404.8,391.0h1v1h-1zM391.5,384.9h1v1h-1zM391.9,375.1h1v1h-1zM386.9,380.0h1v1h-1zM392.0,378.1h1v1h-1zM390.4,378.1h1v1h-1zM383.2,375.3h1v1h-1zM386.3,386.1h1v1h-1zM398.9,390.4h1v1h-1zM389.8,379.0h1v1h-1zM381.7,375.4h1v1h-1zM400.2,394.6h1v1h-1zM392.3,382.1h1v1h-1zM391.0,385.7h1v1h-1zM391.0,385.7h1v1h-1zM386.5,381.2h1v1h-1zM388.9,388.8h1v1h-1zM383.7,387.8h1v1h-1zM390.5,379.7h1v1h-1zM391.1,383.9h1v1h-1zM389.6,385.1h1v1h-1zM387.6,370.9h1v1h-1zM395.1,384.8h1v1h-1zM400.8,390.0h1v1h-1zM379.2,385.3h1v1h-1zM386.9,384.6h1v1h-1zM384.6,379.5h1v1h-1zM381.5,382.8h1v1h-1zM394.3,378.2h1v1h-1zM393.7,390.1h1v1h-1zM395.8,381.1h1v1h-1zM386.9,374.1h1v1h-1zM383.4,381.5h1v1h-1zM391.2,391.3h1v1h-1zM392.6,381.8h1v1h-1zM382.6,388.8h1v1h-1zM392.0,383.3h1v1h-1zM385.1,373.7h1v1h-1zM394.7,378.7h1v1h-1zM394.4,388.6h1v1h-1zM388.8,371.9h1v1h-1zM393.4,393.0h1v1h-1zM386.1,372.9h1v1h-1zM397.4,386.9h1v1h-1zM387.3,389.0h1v1h-1zM389.4,385.1h1v1h-1zM388.6,377.3h1v1h-1zM392.3,378.3h1v1h-1zM380.5,374.8h1v1h-1zM398.3,393.3h1v1h-1zM400.5,389.1h1v1h-1zM388.4,384.8h1v1h-1zM385.4,385.0h1v1h-1zM388.4,383.4h1v1h-1zM386.0,379.9h1v1h-1zM396.8,384.4h1v1h-1zM387.0,383.0h1v1h-1zM396.2,384.3h1v1h-1zM384.1,370.1h1v1h-1zM383.1,386.0h1v1h-1zM390.5,385.8h1v1h-1zM397.3,387.8h1v1h-1zM393.8,381.2h1v1h-1zM381.5,382.6h1v1h-1zM390.4,386.4h1v1h-1zM384.7,379.3h1v1h-1zM402.9,383.4h1v1h-1zM391.6,391.5h1v1h-1zM389.6,383.2h1v1h-1zM378.5,382.0h1v1h-1zM388.4,389.8h1v1h-1zM390.5,380.5h1v1h-1zM393.6,382.8h1v1h-1zM388.0,391.2h1v1h-1zM396.8,386.5h1v1h-1zM395.8,390.4h1v1h-1zM394.4,385.0h1v1h-1zM391.4,385.8h1v1h-1zM394.3,386.8h1v1h-1zM387.8,381.1h1v1h-1zM393.7,378.2h1v1h-1zM390.9,387.7h1v1h-1zM392.0,381.8h1v1h-1zM390.9,380.0h1v1h-1zM396.8,383.5h1v1h-1zM381.2,371.1h1v1h-1zM392.8,385.2h1v1h-1zM388.2,373.7h1v1h-1zM390.1,377.5h1v1h-1zM387.1,381.3h1v1h-1zM386.5,382.9h1v1h-1zM386.7,378.2h1v1h-1zM389.7,391.5h1v1h-1zM400.3,393.2h1v1h-1zM386.7,381.1h1v1h-1zM396.4,390.6h1v1h-1zM381.4,378.3h1v1h-1zM386.7,385.7h1v1h-1zM394.7,381.5h1v1h-1zM403.6,387.3h1v1h-1zM405.3,388.8h1v1h-1zM390.5,394.5h1v1h-1zM387.9,378.8h1v1h-1zM399.7,386.9h1v1h-1zM393.8,376.7h1v1h-1zM401.5,394.0h1v1h-1zM393.1,388.4h1v1h-1zM388.1,378.8h1v1h-1zM381.8,381.1h1v1h-1zM398.3,391.7h1v1h-1zM396.4,390.0h1v1h-1zM385.6,372.6h1v1h-1zM394.8,385.9h1v1h-1zM396.8,384.1h1v1h-1zM385.8,383.4h1v1h-1zM387.7,371.5h1v1h-1zM387.4,376.1h1v1h-1zM384.5,376.7h1v1h-1zM401.1,385.3h1v1h-1zM397.7,385.8h1v1h-1zM393.4,380.1h1v1h-1zM390.6,372.6h1v1h-1zM401.5,383.3h1v1h-1zM394.4,381.1h1v1h-1zM392.6,376.7h1v1h-1zM388.8,387.7h1v1h-1zM394.5,372.9h1v1h-1zM396.0,377.4h1v1h-1zM392.7,387.1h1v1h-1zM387.2,379.4h1v1h-1zM389.6,384.9h1v1h-1zM396.4,393.9h1v1h-1zM385.4,391.4h1v1h-1zM389.5,387.1h1v1h-1zM390.3,383.3h1v1h-1zM385.6,383.0h1v1h-1zM402.9,389.6h1v1h-1zM390.9,383.1h1v1h-1zM395.2,383.8h1v1h-1zM391.0,384.4h1v1h-1zM398.7,392.5h1v1h-1zM384.8,376.4h1v1h-1zM391.1,388.3h1v1h-1zM396.7,384.5h1v1h-1zM403.5,387.9h1v1h-1zM400.4,388.7h1v1h-1zM394.4,375.4h1v1h-1zM380.5,374.5h1v1h-1zM395.2,391.6h1v1h-1zM390.4,389.2h1v1h-1zM394.4,394.0h1v1h-1zM381.7,373.7h1v1h-1zM385.4,374.1h1v1h-1zM400.7,382.0h1v1h-1zM386.1,378.4h1v1h-1zM396.2,382.7h1v1h-1zM395.3,388.5h1v1h-1zM387.2,367.0h1v1h-1zM385.6,373.0h1v1h-1zM400.6,383.2h1v1h-1zM384.7,382.5h1v1h-1zM391.3,377.5h1v1h-1zM397.4,391.7h1v1h-1zM392.6,379.2h1v1h-1zM385.9,368.2h1v1h-1zM393.3,386.5h1v1h-1zM385.6,380.7h1v1h-1zM410.3,385.2h1v1h-1zM381.0,382.1h1v1h-1zM388.5,378.9h1v1h-1zM394.7,384.0h1v1h-1zM396.8,389.0h1v1h-1zM397.8,387.0h1v1h-1zM378.3,385.4h1v1h-1zM381.0,384.8h1v1h-1zM392.5,375.3h1v1h-1zM391.4,388.6h1v1h-1zM385.0,380.5h1v1h-1zM386.7,374.9h1v1h-1zM387.4,389.2h1v1h-1zM395.0,384.8h1v1h-1zM390.5,383.6h1v1h-1zM392.7,385.0h1v1h-1zM380.9,384.0h1v1h-1zM386.0,364.9h1v1h-1zM395.1,377.7h1v1h-1zM390.2,382.1h1v1h-1zM387.5,384.7h1v1h-1zM389.4,380.6h1v1h-1zM385.4,378.7h1v1h-1zM384.9,380.5h1v1h-1zM398.8,392.9h1v1h-1zM393.5,375.9h1v1h-1zM397.1,391.6h1v1h-1zM403.1,375.0h1v1h-1zM391.1,381.1h1v1h-1zM397.4,379.4h1v1h-1zM396.9,373.6h1v1h-1zM391.1,391.5h1v1h-1zM387.4,385.0h1v1h-1zM391.6,374.4h1v1h-1zM387.3,388.3h1v1h-1zM398.0,382.6h1v1h-1zM397.6,381.8h1v1h-1zM392.5,383.6h1v1h-1zM383.6,381.6h1v1h-1zM388.7,365.2h1v1h-1zM386.1,375.6h1v1h-1zM386.1,374.8h1v1h-1zM386.9,366.2h1v1h-1zM396.3,385.9h1v1h-1zM392.5,382.1h1v1h-1zM391.4,381.6h1v1h-1zM384.6,370.8h1v1h-1zM391.4,389.5h1v1h-1zM392.4,393.6h1v1h-1zM382.9,377.7h1v1h-1zM387.4,388.9h1v1h-1zM401.0,384.5h1v1h-1zM395.3,383.6h1v1h-1zM385.1,379.6h1v1h-1zM384.9,389.7h1v1h-1zM394.5,391.9h1v1h-1zM393.1,369.1h1v1h-1zM395.7,385.8h1v1h-1zM376.9,377.1h1v1h-1zM385.0,385.0h1v1h-1zM393.0,382.9h1v1h-1zM389.3,385.5h1v1h-1zM394.4,388.7h1v1h-1zM388.6,373.8h1v1h-1zM398.8,394.6h1v1h-1zM387.7,381.3h1v1h-1zM395.8,374.5h1v1h-1zM392.6,379.4h1v1h-1zM403.1,388.7h1v1h-1zM392.3,381.0h1v1h-1zM392.1,372.5h1v1h-1zM383.4,370.4h1v1h-1zM396.3,384.9h1v1h-1zM397.8,373.7h1v1h-1zM387.5,390.3h1v1h-1zM386.3,369.4h1v1h-1zM386.6,378.8h1v1h-1zM390.9,391.0h1v1h-1z" fill="#444"/>
<path d="M375.6,375.4h1v1h-1zM373.0,365.6h1v1h-1zM369.3,360.9h1v1h-1zM375.4,374.0h1v1h-1zM371.3,363.7h1v1h-1zM373.3,370.4h1v1h-1zM371.5,362.4h1v1h-1zM371.8,365.3h1v1h-1zM373.5,370.9h1v1h-1zM372.5,366.0h1v1h-1zM376.2,371.7h1v1h-1zM375.4,372.0h1v1h-1zM373.3,369.9h1v1h-1zM367.3,359.3h1v1h-1zM367.8,371.0h1v1h-1zM374.1,368.9h1v1h-1zM371.3,376.8h1v1h-1zM369.6,359.5h1v1h-1zM365.7,366.5h1v1h-1zM373.4,371.5h1v1h-1zM370.2,371.9h1v1h-1zM370.8,364.5h1v1h-1zM369.7,371.6h1v1h-1zM374.3,362.6h1v1h-1zM367.6,368.6h1v1h-1zM378.3,362.4h1v1h-1zM366.7,370.0h1v1h-1zM372.7,365.1h1v1h-1zM370.9,370.3h1v1h-1zM365.0,367.9h1v1h-1zM373.1,372.4h1v1h-1zM375.0,367.7h1v1h-1zM366.1,374.4h1v1h-1zM373.6,365.0h1v1h-1zM374.6,373.0h1v1h-1zM370.5,356.7h1v1h-1zM369.4,364.4h1v1h-1zM368.1,367.6h1v1h-1zM367.3,369.9h1v1h-1zM377.5,362.3h1v1h-1zM374.6,365.5h1v1h-1zM372.9,367.4h1v1h-1zM375.4,364.6h1v1h-1zM373.5,364.3h1v1h-1zM371.8,367.9h1v1h-1zM374.7,360.4h1v1h-1zM366.4,374.7h1v1h-1zM372.3,376.1h1v1h-1zM367.5,369.0h1v1h-1zM373.1,376.5h1v1h-1z" fill="#777"/>
<path d="M404.7,358.6h1v1h-1zM408.5,361.2h1v1h-1zM401.3,367.8h1v1h-1zM395.7,354.2h1v1h-1zM411.7,358.2h1v1h-1zM403.4,364.9h1v1h-1zM410.5,366.1h1v1h-1zM400.3,357.6h1v1h-1zM410.1,361.1h1v1h-1zM401.9,368.7h1v1h-1zM410.6,378.7h1v1h-1zM399.7,356.6h1v1h-1zM401.6,364.7h1v1h-1zM402.7,370.6h1v1h-1zM391.9,369.4h1v1h-1zM401.9,359.9h1v1h-1zM407.8,363.6h1v1h-1zM400.1,373.5h1v1h-1zM407.8,358.2h1v1h-1zM406.0,353.5h1v1h-1zM399.0,359.7h1v1h-1zM406.8,362.8h1v1h-1zM401.2,351.4h1v1h-1zM396.8,374.3h1v1h-1zM406.8,355.9h1v1h-1zM410.8,366.1h1v1h-1zM403.0,357.3h1v1h-1zM410.6,364.5h1v1h-1zM413.0,364.8h1v1h-1zM402.1,357.4h1v1h-1zM401.6,363.9h1v1h-1zM406.2,366.7h1v1h-1zM407.2,353.9h1v1h-1zM404.0,354.8h1v1h-1zM407.4,351.9h1v1h-1zM402.2,355.4h1v1h-1zM402.0,360.0h1v1h-1zM412.4,360.0h1v1h-1zM398.0,359.7h1v1h-1zM408.6,366.2h1v1h-1zM406.2,377.3h1v1h-1zM410.4,362.7h1v1h-1zM410.9,351.7h1v1h-1zM404.2,355.4h1v1h-1zM405.9,374.4h1v1h-1zM402.6,374.2h1v1h-1zM400.0,372.9h1v1h-1zM396.8,355.5h1v1h-1zM409.9,361.3h1v1h-1zM405.7,361.9h1v1h-1z" fill="#888"/>
<path d="M372.2,377.5h.8v.8h-.8zM364.5,384.0h.8v.8h-.8zM369.7,382.7h.8v.8h-.8zM356.8,391.1h.8v.8h-.8zM364.7,390.6h.8v.8h-.8zM363.3,377.7h.8v.8h-.8zM369.7,380.9h.8v.8h-.8zM362.9,377.0h.8v.8h-.8zM358.0,389.0h.8v.8h-.8zM369.6,388.5h.8v.8h-.8zM362.2,390.2h.8v.8h-.8zM367.4,380.7h.8v.8h-.8zM364.3,387.8h.8v.8h-.8zM368.8,380.6h.8v.8h-.8zM359.1,383.2h.8v.8h-.8zM354.2,383.3h.8v.8h-.8zM368.8,387.4h.8v.8h-.8zM356.0,390.2h.8v.8h-.8zM354.7,390.5h.8v.8h-.8zM355.4,378.7h.8v.8h-.8z" fill="#888"/>
<rect x="351.4" y="335.0" width="64.40000000000003" height="61.30000000000001" fill="none" stroke="#555" stroke-width="1.0"/>
<line x1="375.6" y1="335.0" x2="375.6" y2="396.3" stroke="#777" stroke-width="1.0"/>
<line x1="351.4" y1="376.3" x2="415.8" y2="376.3" stroke="#666" stroke-width="1.0"/>
<text x="360.8" y="347.3" font-size="9.2" font-weight="bold" text-anchor="middle" stroke="#111" stroke-width="0.2">5</text>
<text x="404.2" y="347.3" font-size="9.2" font-weight="bold" text-anchor="middle" stroke="#111" stroke-width="0.2">60</text>
<text x="405.2" y="391.8" font-size="9.2" font-weight="bold" text-anchor="middle" stroke="#111" stroke-width="0.2">34</text>
<text transform="translate(349.2,398.5) rotate(-90)" font-size="4.4" fill="#333" stroke="#333" stroke-width="0.15">10</text>
<text transform="translate(346.79999999999995,394.3) rotate(-90)" font-size="3.0" fill="#333" stroke="#333" stroke-width="0.1">0</text>
<text x="350.79999999999995" y="402.7" font-size="4.6" text-anchor="middle" fill="#333" stroke="#333" stroke-width="0.15">10</text>
<text x="354.0" y="400.7" font-size="3.2" text-anchor="middle" fill="#333" stroke="#333" stroke-width="0.1">0</text>
<text transform="translate(349.2,383.175) rotate(-90)" font-size="4.4" fill="#333" stroke="#333" stroke-width="0.15">10</text>
<text transform="translate(346.79999999999995,378.975) rotate(-90)" font-size="3.0" fill="#333" stroke="#333" stroke-width="0.1">1</text>
<text x="366.9" y="402.7" font-size="4.6" text-anchor="middle" fill="#333" stroke="#333" stroke-width="0.15">10</text>
<text x="370.1" y="400.7" font-size="3.2" text-anchor="middle" fill="#333" stroke="#333" stroke-width="0.1">1</text>
<text transform="translate(349.2,367.84999999999997) rotate(-90)" font-size="4.4" fill="#333" stroke="#333" stroke-width="0.15">10</text>
<text transform="translate(346.79999999999995,363.65) rotate(-90)" font-size="3.0" fill="#333" stroke="#333" stroke-width="0.1">2</text>
<text x="383.0" y="402.7" font-size="4.6" text-anchor="middle" fill="#333" stroke="#333" stroke-width="0.15">10</text>
<text x="386.20000000000005" y="400.7" font-size="3.2" text-anchor="middle" fill="#333" stroke="#333" stroke-width="0.1">2</text>
<text transform="translate(349.2,352.525) rotate(-90)" font-size="4.4" fill="#333" stroke="#333" stroke-width="0.15">10</text>
<text transform="translate(346.79999999999995,348.325) rotate(-90)" font-size="3.0" fill="#333" stroke="#333" stroke-width="0.1">3</text>
<text x="399.09999999999997" y="402.7" font-size="4.6" text-anchor="middle" fill="#333" stroke="#333" stroke-width="0.15">10</text>
<text x="402.3" y="400.7" font-size="3.2" text-anchor="middle" fill="#333" stroke="#333" stroke-width="0.1">3</text>
<text transform="translate(349.2,337.2) rotate(-90)" font-size="4.4" fill="#333" stroke="#333" stroke-width="0.15">10</text>
<text transform="translate(346.79999999999995,333.0) rotate(-90)" font-size="3.0" fill="#333" stroke="#333" stroke-width="0.1">4</text>
<text x="415.2" y="402.7" font-size="4.6" text-anchor="middle" fill="#333" stroke="#333" stroke-width="0.15">10</text>
<text x="418.40000000000003" y="400.7" font-size="3.2" text-anchor="middle" fill="#333" stroke="#333" stroke-width="0.1">4</text>
<path d="M450.5,365.8h1v1h-1zM449.6,368.6h1v1h-1zM453.2,361.0h1v1h-1zM450.5,357.1h1v1h-1zM447.9,361.1h1v1h-1zM459.1,359.5h1v1h-1zM453.7,362.2h1v1h-1zM449.5,363.9h1v1h-1zM443.5,364.9h1v1h-1zM457.3,362.9h1v1h-1zM450.3,362.5h1v1h-1zM452.8,360.5h1v1h-1zM450.9,363.5h1v1h-1zM449.3,363.2h1v1h-1zM451.7,364.2h1v1h-1zM447.1,360.4h1v1h-1zM449.0,365.7h1v1h-1zM451.4,356.9h1v1h-1zM446.0,368.0h1v1h-1zM451.7,358.0h1v1h-1zM447.3,362.4h1v1h-1zM455.5,367.0h1v1h-1zM449.2,361.1h1v1h-1zM457.2,359.0h1v1h-1zM456.0,363.0h1v1h-1zM450.8,366.0h1v1h-1zM452.2,359.4h1v1h-1zM445.2,362.0h1v1h-1zM452.3,366.2h1v1h-1zM441.4,366.1h1v1h-1zM452.7,366.7h1v1h-1zM453.3,362.7h1v1h-1zM452.0,363.2h1v1h-1zM448.3,361.7h1v1h-1zM450.9,360.6h1v1h-1zM445.4,357.6h1v1h-1zM452.3,363.6h1v1h-1zM450.9,358.4h1v1h-1zM453.5,360.8h1v1h-1zM443.2,366.8h1v1h-1zM445.3,368.9h1v1h-1zM452.4,360.6h1v1h-1zM442.3,359.8h1v1h-1zM455.7,366.2h1v1h-1zM451.4,356.7h1v1h-1zM449.2,361.1h1v1h-1zM452.1,361.6h1v1h-1zM451.7,357.0h1v1h-1zM448.3,366.4h1v1h-1zM445.4,364.8h1v1h-1zM458.6,364.0h1v1h-1zM445.6,365.8h1v1h-1zM444.0,363.0h1v1h-1zM449.1,365.8h1v1h-1zM454.6,362.6h1v1h-1zM456.8,365.0h1v1h-1zM448.8,359.0h1v1h-1zM459.1,360.8h1v1h-1zM451.9,361.6h1v1h-1zM448.8,357.1h1v1h-1zM450.0,361.6h1v1h-1zM453.9,360.4h1v1h-1zM445.0,358.7h1v1h-1zM450.4,362.8h1v1h-1zM453.0,360.8h1v1h-1zM452.4,362.4h1v1h-1zM456.4,361.8h1v1h-1zM451.0,363.7h1v1h-1zM454.8,359.2h1v1h-1zM448.8,361.2h1v1h-1zM443.0,366.0h1v1h-1zM454.3,362.1h1v1h-1zM462.3,365.9h1v1h-1zM457.6,366.8h1v1h-1zM453.7,357.6h1v1h-1zM455.9,363.3h1v1h-1zM446.3,362.2h1v1h-1zM453.1,365.0h1v1h-1zM451.1,360.4h1v1h-1zM453.2,359.7h1v1h-1zM450.2,364.4h1v1h-1zM445.5,363.2h1v1h-1zM443.7,359.1h1v1h-1zM446.2,361.7h1v1h-1zM453.0,361.8h1v1h-1zM453.7,362.3h1v1h-1zM449.8,363.5h1v1h-1zM449.7,362.4h1v1h-1zM454.1,360.2h1v1h-1zM454.5,358.6h1v1h-1zM449.7,356.6h1v1h-1zM448.6,366.9h1v1h-1zM451.7,365.9h1v1h-1zM445.4,358.9h1v1h-1zM452.1,364.6h1v1h-1zM453.4,356.8h1v1h-1zM452.3,361.8h1v1h-1zM450.9,363.5h1v1h-1zM449.5,356.8h1v1h-1zM446.8,357.5h1v1h-1zM445.9,361.6h1v1h-1zM455.1,359.8h1v1h-1zM447.8,358.5h1v1h-1zM444.5,362.2h1v1h-1zM448.8,361.3h1v1h-1zM447.1,363.5h1v1h-1zM446.3,363.7h1v1h-1zM448.2,364.4h1v1h-1zM447.4,363.4h1v1h-1zM452.0,361.8h1v1h-1zM456.2,362.5h1v1h-1zM447.4,364.1h1v1h-1zM447.6,360.3h1v1h-1zM450.5,362.6h1v1h-1zM456.5,356.6h1v1h-1zM449.6,365.5h1v1h-1zM449.9,363.0h1v1h-1zM455.9,358.2h1v1h-1zM450.7,364.5h1v1h-1zM448.4,356.6h1v1h-1zM447.0,362.6h1v1h-1zM451.2,367.7h1v1h-1zM455.2,357.2h1v1h-1zM454.1,364.8h1v1h-1zM456.2,361.5h1v1h-1zM448.5,362.5h1v1h-1zM455.9,363.9h1v1h-1zM456.5,364.4h1v1h-1zM448.4,358.9h1v1h-1zM457.0,357.3h1v1h-1zM449.3,361.0h1v1h-1zM447.3,360.2h1v1h-1zM450.5,369.4h1v1h-1zM450.3,360.4h1v1h-1zM450.9,364.9h1v1h-1zM447.6,360.7h1v1h-1zM444.4,364.2h1v1h-1zM452.9,366.6h1v1h-1zM446.3,368.7h1v1h-1zM453.6,361.1h1v1h-1zM449.1,361.0h1v1h-1zM446.2,364.4h1v1h-1zM448.4,359.8h1v1h-1zM452.3,362.3h1v1h-1zM448.5,361.3h1v1h-1zM448.8,366.2h1v1h-1zM454.0,359.8h1v1h-1zM450.4,366.2h1v1h-1zM449.5,367.5h1v1h-1zM452.1,364.1h1v1h-1zM443.2,364.6h1v1h-1zM451.7,363.8h1v1h-1zM452.2,363.6h1v1h-1zM448.7,364.8h1v1h-1zM450.7,358.8h1v1h-1zM446.9,362.5h1v1h-1zM451.7,355.2h1v1h-1zM443.3,365.3h1v1h-1zM450.5,370.8h1v1h-1zM445.1,361.2h1v1h-1zM448.4,363.7h1v1h-1zM455.4,367.0h1v1h-1zM447.0,365.8h1v1h-1zM446.2,363.0h1v1h-1zM451.1,363.9h1v1h-1zM447.7,366.1h1v1h-1zM450.3,361.9h1v1h-1zM449.6,358.7h1v1h-1zM453.0,363.0h1v1h-1zM452.1,367.8h1v1h-1zM447.5,361.1h1v1h-1zM450.5,364.7h1v1h-1zM449.9,364.9h1v1h-1zM452.1,356.5h1v1h-1zM448.1,355.7h1v1h-1zM449.5,360.7h1v1h-1zM452.6,362.5h1v1h-1zM450.3,365.9h1v1h-1zM452.6,358.2h1v1h-1zM448.1,363.0h1v1h-1zM456.5,361.4h1v1h-1zM449.9,362.8h1v1h-1zM453.3,361.7h1v1h-1zM451.5,360.7h1v1h-1zM448.6,359.5h1v1h-1zM452.8,360.3h1v1h-1zM452.4,363.3h1v1h-1zM453.9,353.7h1v1h-1zM447.1,358.2h1v1h-1zM449.9,364.5h1v1h-1zM459.4,366.8h1v1h-1zM455.3,363.2h1v1h-1zM449.1,363.7h1v1h-1zM442.8,364.9h1v1h-1zM450.5,363.9h1v1h-1zM446.9,358.6h1v1h-1zM448.2,361.9h1v1h-1zM451.7,360.9h1v1h-1zM451.7,364.1h1v1h-1zM446.4,361.7h1v1h-1zM445.0,360.3h1v1h-1zM453.7,359.8h1v1h-1zM457.1,363.6h1v1h-1zM453.6,362.3h1v1h-1zM453.5,365.4h1v1h-1zM450.9,360.4h1v1h-1zM448.6,368.0h1v1h-1zM449.9,360.6h1v1h-1zM448.0,356.8h1v1h-1zM448.7,363.0h1v1h-1zM448.8,359.6h1v1h-1zM451.9,363.4h1v1h-1zM449.0,363.0h1v1h-1zM447.1,364.7h1v1h-1zM447.0,361.0h1v1h-1zM451.0,360.7h1v1h-1zM446.5,368.5h1v1h-1zM455.8,356.6h1v1h-1zM450.9,358.1h1v1h-1zM451.6,357.9h1v1h-1zM452.5,363.7h1v1h-1zM456.5,365.8h1v1h-1zM448.9,364.9h1v1h-1zM448.9,361.6h1v1h-1zM448.7,356.5h1v1h-1zM452.6,355.7h1v1h-1zM449.7,363.6h1v1h-1zM450.9,357.1h1v1h-1zM448.2,364.1h1v1h-1zM454.4,367.0h1v1h-1zM444.1,363.4h1v1h-1zM448.8,364.4h1v1h-1zM444.6,361.6h1v1h-1zM453.0,360.0h1v1h-1zM449.2,358.9h1v1h-1zM454.4,357.9h1v1h-1zM447.3,361.0h1v1h-1zM449.4,368.6h1v1h-1zM451.5,359.4h1v1h-1zM452.5,363.1h1v1h-1zM451.5,361.8h1v1h-1zM452.1,358.3h1v1h-1zM446.3,360.7h1v1h-1zM446.6,364.2h1v1h-1zM457.3,365.9h1v1h-1zM452.1,363.1h1v1h-1zM448.1,358.0h1v1h-1zM452.4,357.4h1v1h-1zM451.6,361.6h1v1h-1zM453.1,362.2h1v1h-1zM450.9,360.2h1v1h-1zM444.4,360.9h1v1h-1zM452.9,365.3h1v1h-1zM455.3,358.9h1v1h-1zM447.2,364.2h1v1h-1zM448.9,370.0h1v1h-1zM451.6,357.3h1v1h-1zM448.5,366.9h1v1h-1zM444.1,362.5h1v1h-1zM445.6,367.0h1v1h-1zM448.9,358.8h1v1h-1zM444.5,359.8h1v1h-1zM441.5,360.5h1v1h-1zM458.2,362.3h1v1h-1zM449.6,358.4h1v1h-1zM451.7,360.5h1v1h-1zM447.5,366.3h1v1h-1zM452.0,359.2h1v1h-1zM455.7,361.8h1v1h-1zM452.3,362.5h1v1h-1zM454.6,363.9h1v1h-1zM449.3,364.2h1v1h-1zM449.1,362.4h1v1h-1zM456.3,358.7h1v1h-1zM446.9,360.8h1v1h-1zM448.7,366.1h1v1h-1zM444.9,369.2h1v1h-1zM456.1,360.6h1v1h-1zM451.2,360.9h1v1h-1zM452.9,364.1h1v1h-1zM453.1,364.4h1v1h-1zM457.3,361.5h1v1h-1zM453.0,361.4h1v1h-1zM450.6,362.7h1v1h-1zM450.3,363.1h1v1h-1zM447.5,361.5h1v1h-1zM448.4,358.4h1v1h-1zM448.0,360.4h1v1h-1zM450.0,357.1h1v1h-1zM449.6,358.5h1v1h-1zM447.6,362.6h1v1h-1zM454.4,362.9h1v1h-1zM448.8,360.6h1v1h-1zM455.2,356.9h1v1h-1zM454.5,357.3h1v1h-1zM448.3,362.1h1v1h-1zM449.7,367.2h1v1h-1zM452.2,361.9h1v1h-1zM453.9,362.1h1v1h-1zM447.7,365.5h1v1h-1zM455.8,366.0h1v1h-1zM446.4,368.0h1v1h-1zM449.0,364.4h1v1h-1zM454.7,369.4h1v1h-1zM444.8,358.8h1v1h-1zM454.7,363.5h1v1h-1zM449.4,352.9h1v1h-1zM452.1,361.4h1v1h-1zM441.3,370.4h1v1h-1zM441.7,360.3h1v1h-1zM450.5,362.7h1v1h-1zM453.2,361.2h1v1h-1zM447.3,360.9h1v1h-1zM443.1,358.5h1v1h-1zM457.5,359.9h1v1h-1zM450.2,367.9h1v1h-1zM454.2,362.4h1v1h-1zM453.1,361.2h1v1h-1zM447.3,365.1h1v1h-1zM451.0,367.0h1v1h-1zM449.6,360.8h1v1h-1zM451.7,361.4h1v1h-1zM449.4,359.2h1v1h-1zM451.4,363.0h1v1h-1zM457.0,361.9h1v1h-1zM444.3,363.5h1v1h-1zM458.6,360.6h1v1h-1zM447.7,361.5h1v1h-1zM440.4,361.0h1v1h-1zM449.8,357.3h1v1h-1zM452.5,359.3h1v1h-1zM444.0,359.7h1v1h-1zM452.7,368.0h1v1h-1zM454.9,362.6h1v1h-1zM448.7,361.2h1v1h-1zM453.9,360.4h1v1h-1zM452.0,365.0h1v1h-1zM447.3,360.2h1v1h-1zM452.1,362.0h1v1h-1zM450.1,360.3h1v1h-1zM450.3,367.8h1v1h-1zM455.3,356.9h1v1h-1zM450.7,362.3h1v1h-1zM450.6,357.7h1v1h-1zM450.0,362.5h1v1h-1zM448.1,363.0h1v1h-1zM441.9,357.3h1v1h-1zM450.9,363.2h1v1h-1zM449.9,360.6h1v1h-1zM451.2,365.4h1v1h-1zM453.7,361.8h1v1h-1zM448.9,365.3h1v1h-1zM452.4,364.8h1v1h-1zM449.5,359.3h1v1h-1zM451.2,360.0h1v1h-1zM454.6,364.7h1v1h-1zM442.8,364.1h1v1h-1zM455.2,365.3h1v1h-1zM448.8,359.3h1v1h-1zM453.9,365.2h1v1h-1zM450.7,358.4h1v1h-1zM445.1,362.8h1v1h-1zM447.6,359.9h1v1h-1zM452.1,365.3h1v1h-1zM443.2,359.9h1v1h-1zM455.1,361.9h1v1h-1zM449.3,364.0h1v1h-1zM446.5,358.2h1v1h-1zM450.6,366.9h1v1h-1zM454.1,362.0h1v1h-1zM454.1,360.7h1v1h-1zM446.3,356.8h1v1h-1zM451.5,364.8h1v1h-1zM451.8,361.9h1v1h-1zM449.1,365.4h1v1h-1zM450.3,357.5h1v1h-1zM455.3,360.0h1v1h-1zM451.9,362.0h1v1h-1zM454.2,362.8h1v1h-1zM454.8,362.7h1v1h-1zM448.9,360.4h1v1h-1zM452.8,359.4h1v1h-1zM453.8,361.2h1v1h-1zM447.2,359.3h1v1h-1zM450.0,367.5h1v1h-1zM453.2,362.1h1v1h-1zM447.3,368.0h1v1h-1zM449.5,362.0h1v1h-1zM449.0,366.2h1v1h-1zM451.1,360.6h1v1h-1zM451.2,358.9h1v1h-1zM446.8,361.5h1v1h-1zM440.3,365.7h1v1h-1zM457.5,358.5h1v1h-1zM450.0,357.1h1v1h-1zM451.1,362.7h1v1h-1zM453.1,357.8h1v1h-1zM448.4,360.0h1v1h-1zM449.6,369.2h1v1h-1zM449.8,361.9h1v1h-1zM448.7,364.5h1v1h-1zM459.6,365.6h1v1h-1zM455.9,358.6h1v1h-1zM454.2,362.1h1v1h-1zM454.9,365.3h1v1h-1zM452.8,356.7h1v1h-1zM451.0,360.4h1v1h-1zM452.1,362.1h1v1h-1zM454.2,357.0h1v1h-1zM447.9,361.8h1v1h-1zM451.6,360.7h1v1h-1zM450.4,362.2h1v1h-1zM454.2,361.6h1v1h-1zM451.4,356.3h1v1h-1zM441.2,357.4h1v1h-1zM451.8,354.8h1v1h-1zM452.0,361.7h1v1h-1zM450.5,359.7h1v1h-1zM449.0,364.6h1v1h-1zM451.8,361.9h1v1h-1zM448.8,362.7h1v1h-1zM454.7,361.9h1v1h-1zM449.2,358.3h1v1h-1zM450.9,359.1h1v1h-1zM445.4,364.7h1v1h-1zM448.3,355.6h1v1h-1zM448.0,367.8h1v1h-1zM450.1,357.8h1v1h-1zM446.6,364.3h1v1h-1zM451.9,362.7h1v1h-1zM449.8,363.5h1v1h-1zM456.0,363.5h1v1h-1zM449.9,357.6h1v1h-1zM452.1,366.9h1v1h-1zM452.8,358.0h1v1h-1zM451.2,366.1h1v1h-1zM448.3,363.6h1v1h-1zM454.8,367.1h1v1h-1zM444.9,356.5h1v1h-1zM451.8,364.2h1v1h-1zM449.2,361.9h1v1h-1zM449.1,365.8h1v1h-1zM442.7,362.8h1v1h-1zM446.0,359.9h1v1h-1zM445.1,359.1h1v1h-1zM450.4,362.1h1v1h-1zM456.8,361.3h1v1h-1zM451.7,363.1h1v1h-1zM451.4,366.6h1v1h-1zM451.0,362.5h1v1h-1zM450.1,362.0h1v1h-1zM450.3,365.1h1v1h-1zM450.6,362.2h1v1h-1zM450.3,364.4h1v1h-1zM448.8,365.0h1v1h-1zM448.5,364.2h1v1h-1zM457.3,362.7h1v1h-1zM450.2,358.3h1v1h-1zM453.1,362.0h1v1h-1zM453.7,359.9h1v1h-1zM452.3,367.7h1v1h-1zM451.9,361.0h1v1h-1zM445.9,362.0h1v1h-1zM452.8,363.9h1v1h-1zM446.5,358.8h1v1h-1zM447.0,358.8h1v1h-1zM449.5,362.8h1v1h-1zM457.3,362.6h1v1h-1zM455.7,356.8h1v1h-1zM456.0,364.5h1v1h-1zM452.1,364.6h1v1h-1zM452.7,368.0h1v1h-1zM453.4,356.5h1v1h-1zM444.3,367.1h1v1h-1zM450.2,366.2h1v1h-1zM449.3,359.9h1v1h-1zM449.3,363.0h1v1h-1zM451.2,360.0h1v1h-1zM452.4,363.9h1v1h-1zM447.2,358.5h1v1h-1zM443.5,361.0h1v1h-1zM450.5,359.8h1v1h-1zM448.4,361.6h1v1h-1zM450.6,363.8h1v1h-1zM453.5,363.4h1v1h-1zM454.5,358.9h1v1h-1zM452.7,363.2h1v1h-1zM446.8,359.9h1v1h-1zM452.1,362.2h1v1h-1zM446.0,360.3h1v1h-1zM455.9,364.7h1v1h-1zM450.8,366.3h1v1h-1zM447.3,361.5h1v1h-1zM453.9,360.9h1v1h-1zM446.5,363.9h1v1h-1zM456.2,354.0h1v1h-1zM451.0,358.0h1v1h-1zM449.4,357.5h1v1h-1zM459.8,359.8h1v1h-1zM450.7,359.8h1v1h-1zM447.0,360.6h1v1h-1zM451.2,367.5h1v1h-1zM451.5,367.0h1v1h-1zM446.7,362.2h1v1h-1zM448.9,357.0h1v1h-1zM463.8,361.2h1v1h-1zM451.4,359.6h1v1h-1zM448.5,358.7h1v1h-1zM454.1,360.7h1v1h-1zM450.0,362.6h1v1h-1zM446.1,362.7h1v1h-1zM449.9,363.4h1v1h-1zM449.1,362.1h1v1h-1zM452.3,365.1h1v1h-1zM448.0,365.1h1v1h-1zM447.0,361.4h1v1h-1zM451.0,362.5h1v1h-1zM441.6,358.9h1v1h-1zM449.8,364.9h1v1h-1zM448.0,366.8h1v1h-1zM444.1,362.2h1v1h-1zM452.4,362.1h1v1h-1zM451.4,365.0h1v1h-1zM447.6,363.9h1v1h-1zM454.3,361.3h1v1h-1zM442.3,358.2h1v1h-1zM447.5,358.7h1v1h-1zM452.0,359.5h1v1h-1zM459.3,363.8h1v1h-1zM445.9,361.1h1v1h-1zM455.9,364.2h1v1h-1zM446.9,365.3h1v1h-1zM448.8,369.0h1v1h-1zM448.5,363.9h1v1h-1zM452.5,360.6h1v1h-1zM450.0,365.7h1v1h-1zM452.3,361.8h1v1h-1zM452.1,367.5h1v1h-1zM453.8,363.5h1v1h-1zM451.7,357.1h1v1h-1zM451.0,360.5h1v1h-1zM453.1,360.1h1v1h-1zM452.1,358.7h1v1h-1zM453.7,359.7h1v1h-1zM450.4,363.8h1v1h-1zM449.3,362.0h1v1h-1zM454.3,367.6h1v1h-1zM444.1,359.1h1v1h-1zM452.9,365.0h1v1h-1zM448.8,362.3h1v1h-1zM449.8,369.2h1v1h-1zM449.8,358.2h1v1h-1zM445.0,358.0h1v1h-1zM455.1,360.8h1v1h-1zM457.4,364.0h1v1h-1zM451.9,364.0h1v1h-1zM453.3,364.9h1v1h-1zM447.0,360.2h1v1h-1zM448.6,362.3h1v1h-1zM449.6,358.1h1v1h-1zM448.0,367.6h1v1h-1zM458.0,359.3h1v1h-1zM451.9,361.9h1v1h-1zM447.5,364.3h1v1h-1zM450.3,367.3h1v1h-1zM452.1,361.0h1v1h-1zM441.1,361.7h1v1h-1zM453.5,359.7h1v1h-1zM453.6,364.2h1v1h-1zM444.2,361.4h1v1h-1zM451.6,364.4h1v1h-1zM451.1,362.0h1v1h-1zM449.3,361.1h1v1h-1zM450.5,358.6h1v1h-1zM452.8,361.0h1v1h-1zM452.4,360.4h1v1h-1zM452.0,362.4h1v1h-1zM453.7,363.5h1v1h-1zM453.8,361.5h1v1h-1zM450.3,361.2h1v1h-1zM446.0,361.6h1v1h-1zM454.4,364.4h1v1h-1zM447.5,362.9h1v1h-1zM453.2,357.7h1v1h-1zM451.7,363.0h1v1h-1zM453.2,362.8h1v1h-1zM444.3,355.6h1v1h-1zM457.6,360.8h1v1h-1zM455.0,366.0h1v1h-1zM450.8,358.4h1v1h-1zM455.4,361.9h1v1h-1zM452.3,363.5h1v1h-1zM453.9,365.2h1v1h-1zM445.4,357.6h1v1h-1zM451.0,362.0h1v1h-1zM453.3,361.6h1v1h-1zM449.9,368.4h1v1h-1zM455.4,365.7h1v1h-1zM454.2,359.5h1v1h-1zM450.2,361.8h1v1h-1zM446.6,359.3h1v1h-1zM451.1,358.2h1v1h-1zM452.4,363.5h1v1h-1zM449.7,360.9h1v1h-1zM452.6,363.5h1v1h-1zM451.8,358.1h1v1h-1zM444.7,368.5h1v1h-1zM448.2,360.8h1v1h-1zM444.0,359.5h1v1h-1zM447.9,364.5h1v1h-1zM441.1,357.6h1v1h-1zM449.0,360.5h1v1h-1zM447.7,360.6h1v1h-1zM444.9,362.8h1v1h-1zM454.8,362.5h1v1h-1zM448.6,366.0h1v1h-1zM452.2,358.8h1v1h-1zM448.5,360.1h1v1h-1zM450.3,365.8h1v1h-1zM448.0,361.5h1v1h-1zM450.9,358.3h1v1h-1zM448.8,363.9h1v1h-1zM454.5,356.1h1v1h-1zM453.0,361.1h1v1h-1zM455.1,364.0h1v1h-1zM457.5,363.0h1v1h-1zM449.1,359.4h1v1h-1zM445.4,363.7h1v1h-1zM452.3,364.6h1v1h-1zM451.7,357.3h1v1h-1zM449.1,361.2h1v1h-1zM451.1,364.4h1v1h-1zM455.5,362.9h1v1h-1zM443.2,358.8h1v1h-1zM442.9,359.6h1v1h-1zM446.2,362.8h1v1h-1zM449.7,365.5h1v1h-1zM454.3,360.6h1v1h-1zM453.9,362.0h1v1h-1zM452.1,366.2h1v1h-1zM446.4,361.8h1v1h-1zM456.0,359.6h1v1h-1zM451.3,362.4h1v1h-1zM449.0,357.9h1v1h-1zM448.1,358.9h1v1h-1zM454.3,362.8h1v1h-1zM453.0,358.3h1v1h-1zM452.3,362.5h1v1h-1zM454.2,359.7h1v1h-1zM453.4,366.3h1v1h-1zM456.9,359.1h1v1h-1zM446.5,357.4h1v1h-1zM453.9,363.9h1v1h-1zM451.7,359.3h1v1h-1zM455.0,367.0h1v1h-1zM450.4,361.6h1v1h-1zM454.7,363.6h1v1h-1zM455.3,360.7h1v1h-1zM451.7,360.9h1v1h-1zM448.5,361.1h1v1h-1zM449.5,363.6h1v1h-1zM449.4,362.2h1v1h-1zM447.6,358.2h1v1h-1zM455.6,358.9h1v1h-1zM457.0,364.9h1v1h-1zM442.4,360.0h1v1h-1zM449.0,362.1h1v1h-1zM449.9,360.1h1v1h-1zM455.0,361.6h1v1h-1zM453.9,359.9h1v1h-1zM448.0,366.2h1v1h-1zM449.5,358.6h1v1h-1zM449.9,365.3h1v1h-1zM449.9,359.8h1v1h-1zM452.8,365.1h1v1h-1zM449.8,361.0h1v1h-1zM449.2,370.5h1v1h-1zM449.8,367.5h1v1h-1zM450.0,363.3h1v1h-1zM443.3,362.6h1v1h-1zM450.7,361.0h1v1h-1zM449.1,357.7h1v1h-1zM445.2,362.5h1v1h-1zM448.2,361.7h1v1h-1zM449.9,360.4h1v1h-1zM447.9,367.8h1v1h-1zM446.6,360.4h1v1h-1zM449.5,358.4h1v1h-1zM447.1,364.7h1v1h-1zM453.8,362.4h1v1h-1zM462.0,364.6h1v1h-1zM454.9,359.5h1v1h-1zM454.4,367.3h1v1h-1zM449.2,367.7h1v1h-1zM447.6,358.5h1v1h-1zM450.3,359.5h1v1h-1zM452.8,358.5h1v1h-1zM450.8,355.9h1v1h-1zM450.4,365.3h1v1h-1zM449.6,363.0h1v1h-1zM454.4,358.6h1v1h-1zM446.0,362.3h1v1h-1zM451.5,361.2h1v1h-1zM447.1,365.8h1v1h-1zM446.4,361.2h1v1h-1zM450.4,364.3h1v1h-1zM448.9,359.4h1v1h-1zM457.7,359.4h1v1h-1zM453.3,361.5h1v1h-1zM448.8,361.9h1v1h-1zM449.6,363.0h1v1h-1zM441.5,361.9h1v1h-1zM450.8,359.0h1v1h-1zM449.1,369.3h1v1h-1zM457.1,364.0h1v1h-1zM451.3,361.0h1v1h-1zM455.4,360.6h1v1h-1zM447.6,364.2h1v1h-1zM447.1,359.5h1v1h-1zM455.7,357.0h1v1h-1zM450.3,362.4h1v1h-1zM451.4,357.5h1v1h-1zM449.7,361.0h1v1h-1zM457.3,365.1h1v1h-1zM447.8,364.7h1v1h-1zM452.8,361.6h1v1h-1zM449.7,361.1h1v1h-1zM445.0,360.0h1v1h-1zM453.8,366.5h1v1h-1zM457.1,360.8h1v1h-1zM452.7,354.5h1v1h-1zM449.6,358.1h1v1h-1zM453.4,356.8h1v1h-1zM446.8,358.6h1v1h-1zM451.9,364.6h1v1h-1zM447.2,367.6h1v1h-1zM451.1,359.4h1v1h-1zM451.8,362.0h1v1h-1zM453.5,363.1h1v1h-1zM458.3,365.7h1v1h-1zM448.2,364.5h1v1h-1zM453.2,358.9h1v1h-1zM447.9,359.5h1v1h-1zM441.7,364.0h1v1h-1zM449.7,365.8h1v1h-1zM448.5,362.2h1v1h-1zM453.1,365.0h1v1h-1zM451.7,358.8h1v1h-1zM458.3,364.7h1v1h-1zM455.4,367.1h1v1h-1zM455.5,363.3h1v1h-1zM452.2,364.0h1v1h-1zM445.2,364.5h1v1h-1zM447.1,363.3h1v1h-1zM446.9,364.2h1v1h-1zM448.8,369.8h1v1h-1zM451.2,363.6h1v1h-1zM447.3,361.1h1v1h-1zM450.3,361.1h1v1h-1zM449.0,359.3h1v1h-1zM453.2,360.8h1v1h-1zM447.6,363.1h1v1h-1zM447.6,361.5h1v1h-1zM448.7,359.1h1v1h-1zM449.7,359.4h1v1h-1zM446.1,363.1h1v1h-1zM449.5,357.4h1v1h-1zM449.1,362.6h1v1h-1zM452.0,363.2h1v1h-1zM451.4,363.9h1v1h-1zM448.8,359.5h1v1h-1zM452.7,360.7h1v1h-1zM450.6,364.0h1v1h-1zM453.9,365.8h1v1h-1zM448.1,360.8h1v1h-1zM452.5,357.5h1v1h-1zM446.1,363.9h1v1h-1zM448.4,359.1h1v1h-1zM453.4,363.7h1v1h-1zM453.8,361.0h1v1h-1zM449.5,360.9h1v1h-1zM451.6,355.7h1v1h-1zM448.1,364.2h1v1h-1zM447.8,361.8h1v1h-1zM451.0,363.6h1v1h-1zM448.8,358.5h1v1h-1zM459.4,359.8h1v1h-1zM456.6,356.5h1v1h-1zM450.9,361.4h1v1h-1zM457.2,368.4h1v1h-1zM454.0,358.8h1v1h-1zM447.7,359.7h1v1h-1zM448.7,362.8h1v1h-1zM447.7,361.2h1v1h-1zM455.7,366.5h1v1h-1zM443.9,359.0h1v1h-1zM449.2,366.0h1v1h-1zM449.4,367.9h1v1h-1zM451.8,366.5h1v1h-1zM447.5,361.0h1v1h-1zM454.1,363.8h1v1h-1zM443.9,361.1h1v1h-1zM451.2,364.0h1v1h-1zM448.3,367.4h1v1h-1zM451.1,366.5h1v1h-1zM452.0,362.3h1v1h-1zM449.4,358.4h1v1h-1zM453.6,364.4h1v1h-1zM453.8,360.8h1v1h-1zM447.0,360.8h1v1h-1zM449.4,362.0h1v1h-1zM454.0,359.2h1v1h-1zM448.8,364.1h1v1h-1zM453.7,368.9h1v1h-1zM452.4,359.4h1v1h-1zM446.9,359.6h1v1h-1zM450.8,362.8h1v1h-1zM450.3,360.1h1v1h-1zM449.9,361.8h1v1h-1zM452.6,362.3h1v1h-1zM447.7,358.4h1v1h-1zM455.8,361.7h1v1h-1zM449.9,361.9h1v1h-1zM454.5,361.0h1v1h-1zM451.2,361.3h1v1h-1zM452.6,358.9h1v1h-1zM451.3,365.2h1v1h-1zM454.7,363.9h1v1h-1zM451.6,366.9h1v1h-1zM453.0,366.3h1v1h-1zM446.3,358.6h1v1h-1zM453.4,361.2h1v1h-1zM449.0,359.1h1v1h-1zM455.8,358.3h1v1h-1zM450.9,357.7h1v1h-1zM449.9,369.0h1v1h-1zM459.1,360.5h1v1h-1zM447.0,367.1h1v1h-1zM447.5,356.5h1v1h-1zM451.8,358.7h1v1h-1zM445.4,365.5h1v1h-1zM448.0,358.7h1v1h-1zM451.1,361.4h1v1h-1zM454.5,362.3h1v1h-1zM456.2,365.5h1v1h-1zM456.8,365.5h1v1h-1zM450.8,363.7h1v1h-1zM450.6,357.2h1v1h-1zM446.4,364.3h1v1h-1zM442.2,359.4h1v1h-1zM446.0,361.8h1v1h-1zM446.9,362.8h1v1h-1zM449.9,360.6h1v1h-1zM447.6,355.1h1v1h-1zM450.8,358.0h1v1h-1zM449.5,363.2h1v1h-1zM454.2,364.2h1v1h-1zM455.8,357.6h1v1h-1zM452.9,366.9h1v1h-1zM451.9,358.6h1v1h-1zM452.0,360.4h1v1h-1zM448.3,365.3h1v1h-1zM449.9,358.5h1v1h-1zM448.2,368.1h1v1h-1zM447.6,364.1h1v1h-1zM451.2,365.6h1v1h-1zM449.6,359.1h1v1h-1zM448.3,358.8h1v1h-1zM459.7,362.6h1v1h-1zM449.4,365.9h1v1h-1zM452.9,361.4h1v1h-1zM452.7,362.8h1v1h-1zM454.5,367.1h1v1h-1zM449.5,361.9h1v1h-1zM449.9,365.8h1v1h-1zM451.9,364.4h1v1h-1zM453.7,360.0h1v1h-1zM451.0,366.3h1v1h-1zM453.8,364.5h1v1h-1zM449.6,360.9h1v1h-1zM447.5,361.2h1v1h-1zM450.3,357.6h1v1h-1zM454.6,359.6h1v1h-1zM451.4,363.9h1v1h-1zM448.6,356.4h1v1h-1zM454.0,363.3h1v1h-1zM449.7,365.5h1v1h-1zM453.7,359.1h1v1h-1zM450.3,356.6h1v1h-1zM449.6,366.4h1v1h-1zM447.6,364.6h1v1h-1zM445.3,361.1h1v1h-1zM453.9,367.3h1v1h-1zM452.2,364.4h1v1h-1zM456.6,354.5h1v1h-1zM444.6,367.9h1v1h-1zM459.2,363.9h1v1h-1zM450.8,362.8h1v1h-1zM450.7,360.1h1v1h-1zM450.5,361.6h1v1h-1z" fill="#000"/>
<path d="M458.4,369.6h1v1h-1zM460.3,369.1h1v1h-1zM448.0,373.4h1v1h-1zM437.2,366.6h1v1h-1zM456.2,363.2h1v1h-1zM466.0,360.2h1v1h-1zM446.7,363.3h1v1h-1zM456.8,370.2h1v1h-1zM454.8,369.6h1v1h-1zM449.7,362.8h1v1h-1zM454.9,358.9h1v1h-1zM455.3,363.9h1v1h-1zM458.4,360.6h1v1h-1zM450.8,363.0h1v1h-1zM451.8,360.7h1v1h-1zM452.5,358.8h1v1h-1zM457.5,369.6h1v1h-1zM454.0,365.0h1v1h-1zM448.5,360.9h1v1h-1zM452.7,361.2h1v1h-1zM446.7,366.9h1v1h-1zM454.0,363.9h1v1h-1zM449.0,365.7h1v1h-1zM449.7,363.7h1v1h-1zM455.3,369.8h1v1h-1zM458.9,362.8h1v1h-1zM461.7,359.9h1v1h-1zM453.0,372.9h1v1h-1zM469.1,366.7h1v1h-1zM451.8,364.0h1v1h-1zM446.5,365.2h1v1h-1zM451.4,362.0h1v1h-1zM461.7,361.9h1v1h-1zM464.8,370.5h1v1h-1zM458.1,362.9h1v1h-1zM450.9,355.4h1v1h-1zM455.8,364.6h1v1h-1zM456.5,362.4h1v1h-1zM457.2,358.1h1v1h-1zM440.3,368.5h1v1h-1zM460.9,349.3h1v1h-1zM462.2,364.2h1v1h-1zM453.1,357.8h1v1h-1zM447.8,369.8h1v1h-1zM449.5,365.8h1v1h-1zM453.1,376.6h1v1h-1zM459.7,359.0h1v1h-1zM451.1,359.9h1v1h-1zM445.4,362.4h1v1h-1zM461.0,366.3h1v1h-1zM458.3,365.3h1v1h-1zM451.4,366.4h1v1h-1zM453.6,376.2h1v1h-1zM465.4,368.0h1v1h-1zM457.9,355.4h1v1h-1zM453.3,378.7h1v1h-1zM449.1,370.3h1v1h-1zM461.8,363.9h1v1h-1zM452.7,363.6h1v1h-1zM459.1,366.1h1v1h-1zM463.5,372.3h1v1h-1zM454.0,379.8h1v1h-1zM452.2,362.8h1v1h-1zM452.6,361.3h1v1h-1zM451.5,365.6h1v1h-1zM459.7,357.6h1v1h-1zM445.3,361.9h1v1h-1zM452.2,368.4h1v1h-1zM449.1,374.0h1v1h-1zM450.8,364.9h1v1h-1zM454.4,372.2h1v1h-1zM456.0,366.2h1v1h-1zM450.7,366.9h1v1h-1zM456.6,364.1h1v1h-1zM453.9,356.2h1v1h-1zM450.8,372.3h1v1h-1zM463.0,365.6h1v1h-1zM440.5,375.8h1v1h-1zM453.0,379.7h1v1h-1zM451.5,371.4h1v1h-1zM450.2,373.3h1v1h-1zM461.3,360.3h1v1h-1zM462.2,381.2h1v1h-1zM452.7,359.6h1v1h-1zM455.8,363.9h1v1h-1zM444.7,360.4h1v1h-1zM455.6,357.9h1v1h-1zM460.9,368.4h1v1h-1zM453.0,373.5h1v1h-1zM448.3,369.7h1v1h-1zM445.6,364.3h1v1h-1zM458.1,363.2h1v1h-1zM453.4,369.5h1v1h-1zM463.6,373.0h1v1h-1zM456.9,364.6h1v1h-1zM445.0,375.2h1v1h-1zM465.8,354.5h1v1h-1zM459.5,365.8h1v1h-1zM458.5,367.7h1v1h-1zM452.9,366.0h1v1h-1zM453.8,372.2h1v1h-1zM452.4,363.1h1v1h-1zM458.2,369.4h1v1h-1zM456.8,367.5h1v1h-1zM463.3,372.0h1v1h-1zM455.4,364.9h1v1h-1zM458.2,356.0h1v1h-1zM450.8,362.2h1v1h-1zM455.1,363.9h1v1h-1zM469.5,369.9h1v1h-1zM456.6,378.0h1v1h-1zM454.1,364.3h1v1h-1zM461.8,370.4h1v1h-1zM459.9,372.5h1v1h-1zM451.8,362.5h1v1h-1zM449.6,366.6h1v1h-1zM460.3,360.4h1v1h-1zM450.7,358.9h1v1h-1zM466.6,370.3h1v1h-1zM455.4,359.5h1v1h-1zM447.6,362.6h1v1h-1zM454.3,359.2h1v1h-1zM452.6,372.5h1v1h-1zM454.1,366.5h1v1h-1zM441.0,364.5h1v1h-1zM453.1,362.3h1v1h-1zM445.4,365.6h1v1h-1zM447.7,363.1h1v1h-1zM444.1,365.5h1v1h-1zM459.7,361.5h1v1h-1zM456.1,357.9h1v1h-1zM457.7,368.9h1v1h-1zM451.6,370.7h1v1h-1zM448.6,366.3h1v1h-1zM464.6,365.9h1v1h-1zM447.0,372.2h1v1h-1zM457.4,364.5h1v1h-1zM442.7,355.9h1v1h-1zM444.6,374.0h1v1h-1zM455.9,361.4h1v1h-1zM461.3,373.9h1v1h-1zM448.8,368.6h1v1h-1zM443.8,368.0h1v1h-1zM465.4,358.4h1v1h-1zM454.4,362.6h1v1h-1zM453.5,366.5h1v1h-1zM455.8,370.8h1v1h-1zM457.3,371.6h1v1h-1zM460.4,371.9h1v1h-1zM449.8,368.2h1v1h-1zM451.7,361.5h1v1h-1zM466.3,367.6h1v1h-1zM454.3,354.7h1v1h-1zM452.6,370.1h1v1h-1zM452.8,363.1h1v1h-1zM463.3,364.3h1v1h-1zM452.0,365.5h1v1h-1zM452.6,371.6h1v1h-1zM457.6,365.6h1v1h-1zM451.8,364.8h1v1h-1zM464.6,364.4h1v1h-1zM458.1,357.5h1v1h-1zM456.1,369.7h1v1h-1zM462.0,367.7h1v1h-1zM457.7,367.7h1v1h-1zM460.7,377.0h1v1h-1zM455.3,361.6h1v1h-1zM457.8,365.4h1v1h-1zM458.0,370.2h1v1h-1zM455.0,363.6h1v1h-1zM456.0,359.3h1v1h-1zM455.8,361.2h1v1h-1zM456.9,366.7h1v1h-1zM452.7,359.6h1v1h-1zM454.4,362.4h1v1h-1zM453.2,369.7h1v1h-1zM460.0,359.1h1v1h-1zM459.9,373.3h1v1h-1zM461.1,367.5h1v1h-1zM453.5,375.3h1v1h-1zM452.1,357.8h1v1h-1zM454.6,367.5h1v1h-1zM447.6,359.5h1v1h-1zM466.4,366.6h1v1h-1zM458.9,362.9h1v1h-1zM444.6,365.0h1v1h-1zM462.4,362.4h1v1h-1zM442.9,365.1h1v1h-1zM452.3,366.1h1v1h-1zM447.6,364.3h1v1h-1zM450.7,370.7h1v1h-1zM455.0,370.7h1v1h-1zM453.8,354.6h1v1h-1zM441.9,368.9h1v1h-1zM459.5,370.7h1v1h-1zM453.6,356.4h1v1h-1zM451.0,368.2h1v1h-1zM462.6,364.2h1v1h-1zM450.6,361.8h1v1h-1zM460.4,370.7h1v1h-1zM442.7,372.5h1v1h-1zM448.3,358.1h1v1h-1zM444.2,362.1h1v1h-1zM468.5,379.7h1v1h-1zM446.3,362.4h1v1h-1zM455.1,368.2h1v1h-1zM451.1,357.5h1v1h-1zM451.5,362.3h1v1h-1zM442.9,366.8h1v1h-1zM445.0,356.7h1v1h-1zM463.5,371.1h1v1h-1zM463.1,366.6h1v1h-1zM451.5,365.5h1v1h-1zM445.6,370.0h1v1h-1zM455.8,364.4h1v1h-1zM442.4,365.4h1v1h-1zM464.2,373.8h1v1h-1zM459.5,364.1h1v1h-1zM454.9,369.0h1v1h-1zM455.3,371.6h1v1h-1zM449.9,353.5h1v1h-1zM439.0,361.1h1v1h-1zM445.5,369.6h1v1h-1zM460.8,366.0h1v1h-1zM457.4,366.4h1v1h-1zM455.2,363.5h1v1h-1zM451.6,372.4h1v1h-1zM452.4,365.8h1v1h-1zM461.5,371.3h1v1h-1zM451.6,367.4h1v1h-1zM447.8,366.7h1v1h-1zM456.0,366.0h1v1h-1zM455.1,368.0h1v1h-1zM438.3,361.6h1v1h-1zM454.5,363.4h1v1h-1zM448.1,364.7h1v1h-1zM464.1,364.8h1v1h-1zM450.0,363.4h1v1h-1zM446.7,368.6h1v1h-1zM447.9,370.9h1v1h-1zM459.7,369.1h1v1h-1zM460.5,365.5h1v1h-1zM443.1,365.7h1v1h-1zM458.1,357.7h1v1h-1zM446.5,371.9h1v1h-1zM456.8,373.2h1v1h-1zM458.2,366.4h1v1h-1zM456.7,370.6h1v1h-1zM453.9,364.9h1v1h-1zM456.0,364.3h1v1h-1zM469.1,361.9h1v1h-1zM444.6,359.1h1v1h-1zM460.6,363.8h1v1h-1zM455.1,364.8h1v1h-1zM455.8,358.2h1v1h-1zM454.6,362.9h1v1h-1zM460.9,369.3h1v1h-1zM446.2,360.8h1v1h-1zM457.6,372.4h1v1h-1zM458.9,365.2h1v1h-1zM461.0,353.3h1v1h-1zM450.7,360.8h1v1h-1zM447.6,369.0h1v1h-1zM455.8,367.5h1v1h-1zM453.3,369.3h1v1h-1zM459.0,362.9h1v1h-1zM459.9,361.0h1v1h-1zM465.1,359.0h1v1h-1zM452.3,360.2h1v1h-1zM454.3,373.1h1v1h-1zM449.4,375.6h1v1h-1zM462.9,368.1h1v1h-1zM450.4,370.9h1v1h-1zM460.1,365.8h1v1h-1zM469.7,362.4h1v1h-1zM445.7,364.8h1v1h-1zM457.7,375.2h1v1h-1zM443.0,366.9h1v1h-1zM462.0,362.4h1v1h-1zM451.2,359.5h1v1h-1zM458.9,370.5h1v1h-1zM457.8,367.3h1v1h-1zM460.3,365.3h1v1h-1zM458.6,370.4h1v1h-1zM462.3,368.8h1v1h-1zM454.6,369.8h1v1h-1zM444.3,356.5h1v1h-1zM464.3,366.7h1v1h-1zM447.5,362.9h1v1h-1zM453.1,366.4h1v1h-1zM449.3,371.4h1v1h-1zM443.4,381.1h1v1h-1zM447.3,375.0h1v1h-1zM458.3,356.9h1v1h-1zM446.4,366.3h1v1h-1zM455.8,363.7h1v1h-1zM454.2,366.9h1v1h-1zM446.9,366.3h1v1h-1zM468.4,362.5h1v1h-1zM447.7,369.6h1v1h-1zM462.6,371.6h1v1h-1zM450.1,365.6h1v1h-1zM455.4,364.9h1v1h-1zM456.6,371.9h1v1h-1zM457.6,365.9h1v1h-1zM452.8,375.7h1v1h-1zM446.3,376.8h1v1h-1zM458.8,366.5h1v1h-1zM449.4,375.9h1v1h-1zM461.8,370.9h1v1h-1zM467.3,356.3h1v1h-1zM454.7,364.3h1v1h-1zM449.5,366.4h1v1h-1zM457.5,368.8h1v1h-1zM453.2,358.8h1v1h-1zM457.6,369.3h1v1h-1zM467.6,371.1h1v1h-1zM454.2,359.8h1v1h-1zM471.4,362.3h1v1h-1zM455.3,370.1h1v1h-1zM457.3,373.2h1v1h-1zM447.5,362.3h1v1h-1zM455.2,359.3h1v1h-1zM450.2,373.5h1v1h-1zM456.0,365.4h1v1h-1zM450.4,366.3h1v1h-1zM453.9,360.2h1v1h-1zM459.1,359.1h1v1h-1zM462.3,364.2h1v1h-1zM439.5,357.6h1v1h-1zM455.9,361.3h1v1h-1zM465.7,373.5h1v1h-1zM467.6,370.9h1v1h-1zM462.7,362.7h1v1h-1zM462.4,363.6h1v1h-1zM453.8,358.6h1v1h-1zM454.5,368.2h1v1h-1zM453.7,360.0h1v1h-1zM459.9,371.0h1v1h-1zM453.5,370.3h1v1h-1zM460.4,360.6h1v1h-1zM453.9,355.9h1v1h-1zM447.4,368.3h1v1h-1zM448.4,368.1h1v1h-1zM456.4,354.8h1v1h-1zM451.0,374.3h1v1h-1zM454.2,366.7h1v1h-1zM449.5,357.3h1v1h-1zM443.8,381.7h1v1h-1zM452.9,361.3h1v1h-1zM454.8,355.4h1v1h-1zM463.1,375.4h1v1h-1zM449.2,367.8h1v1h-1zM448.3,370.7h1v1h-1zM448.7,365.2h1v1h-1zM462.5,368.9h1v1h-1zM452.0,357.7h1v1h-1zM443.8,372.6h1v1h-1zM457.4,366.3h1v1h-1zM462.2,366.8h1v1h-1zM449.4,365.4h1v1h-1zM453.5,365.9h1v1h-1zM470.2,369.2h1v1h-1zM455.9,364.6h1v1h-1zM449.7,360.6h1v1h-1zM441.9,363.5h1v1h-1zM444.2,355.9h1v1h-1zM448.0,354.9h1v1h-1zM463.0,372.8h1v1h-1zM447.8,377.2h1v1h-1zM458.4,352.2h1v1h-1zM454.2,360.5h1v1h-1zM442.8,364.6h1v1h-1zM461.6,368.4h1v1h-1zM444.6,362.4h1v1h-1zM449.1,372.3h1v1h-1zM453.4,360.6h1v1h-1zM448.1,355.2h1v1h-1zM448.6,370.9h1v1h-1zM441.6,367.1h1v1h-1zM453.3,370.5h1v1h-1zM446.6,371.0h1v1h-1zM464.2,378.6h1v1h-1zM443.5,365.8h1v1h-1zM452.7,366.7h1v1h-1zM447.6,370.7h1v1h-1zM469.3,374.3h1v1h-1zM447.8,362.8h1v1h-1zM458.8,366.7h1v1h-1zM449.1,372.8h1v1h-1zM457.4,371.6h1v1h-1zM452.9,373.0h1v1h-1zM451.0,359.9h1v1h-1zM454.0,358.3h1v1h-1zM462.2,370.0h1v1h-1zM443.1,366.9h1v1h-1zM459.6,364.0h1v1h-1zM456.8,362.8h1v1h-1zM453.6,365.5h1v1h-1zM457.2,360.7h1v1h-1zM446.7,367.8h1v1h-1zM450.7,368.9h1v1h-1zM450.8,358.8h1v1h-1zM458.9,367.5h1v1h-1zM458.8,364.1h1v1h-1zM451.7,373.0h1v1h-1zM443.0,375.6h1v1h-1zM457.4,365.7h1v1h-1zM454.6,369.3h1v1h-1zM449.0,367.5h1v1h-1zM447.8,355.8h1v1h-1zM455.3,366.5h1v1h-1zM458.3,369.1h1v1h-1zM458.6,370.4h1v1h-1zM447.1,372.7h1v1h-1zM471.5,362.9h1v1h-1zM445.8,369.8h1v1h-1zM460.0,371.6h1v1h-1zM464.1,358.4h1v1h-1zM456.5,368.6h1v1h-1zM462.2,361.1h1v1h-1zM454.2,364.0h1v1h-1zM453.0,365.2h1v1h-1zM453.0,356.2h1v1h-1zM453.8,366.4h1v1h-1zM451.5,346.4h1v1h-1zM449.5,362.4h1v1h-1zM448.3,374.8h1v1h-1zM460.1,365.0h1v1h-1zM458.0,384.2h1v1h-1zM447.7,368.6h1v1h-1zM450.1,374.2h1v1h-1zM461.3,365.3h1v1h-1zM458.0,361.6h1v1h-1zM443.7,370.7h1v1h-1zM464.7,364.3h1v1h-1zM450.6,356.1h1v1h-1zM468.1,359.4h1v1h-1zM447.7,364.9h1v1h-1zM461.9,366.3h1v1h-1zM453.9,366.1h1v1h-1zM459.6,365.8h1v1h-1zM455.1,365.6h1v1h-1zM446.8,373.4h1v1h-1zM449.5,358.7h1v1h-1zM451.2,366.2h1v1h-1zM459.4,357.9h1v1h-1zM445.7,367.0h1v1h-1zM456.5,359.9h1v1h-1zM446.6,367.0h1v1h-1zM453.1,357.1h1v1h-1zM448.3,374.2h1v1h-1zM447.1,371.8h1v1h-1zM444.0,374.2h1v1h-1zM464.5,362.5h1v1h-1zM449.6,369.5h1v1h-1zM445.9,369.0h1v1h-1zM462.0,367.5h1v1h-1zM456.1,365.1h1v1h-1zM460.6,361.5h1v1h-1zM464.4,365.9h1v1h-1zM451.9,357.0h1v1h-1zM451.1,367.3h1v1h-1zM462.1,357.1h1v1h-1zM453.2,362.2h1v1h-1zM446.2,366.0h1v1h-1zM449.0,370.8h1v1h-1zM441.6,355.2h1v1h-1zM457.4,364.1h1v1h-1zM454.8,360.7h1v1h-1zM447.2,361.9h1v1h-1zM453.6,361.4h1v1h-1zM451.3,361.2h1v1h-1zM455.5,359.7h1v1h-1zM440.4,351.5h1v1h-1zM453.9,366.5h1v1h-1zM460.3,361.9h1v1h-1zM446.6,357.8h1v1h-1zM459.0,362.5h1v1h-1zM460.4,365.6h1v1h-1zM452.2,355.7h1v1h-1zM449.6,370.4h1v1h-1zM450.0,369.7h1v1h-1zM443.3,371.6h1v1h-1zM472.2,372.2h1v1h-1zM456.1,359.2h1v1h-1zM450.6,362.4h1v1h-1zM455.2,354.9h1v1h-1zM448.4,370.4h1v1h-1zM455.0,370.1h1v1h-1zM459.6,359.7h1v1h-1zM445.2,368.6h1v1h-1zM454.2,366.4h1v1h-1zM448.7,371.6h1v1h-1zM457.2,372.3h1v1h-1zM451.7,369.8h1v1h-1zM453.6,360.8h1v1h-1zM453.5,356.9h1v1h-1zM452.8,367.0h1v1h-1zM458.5,360.2h1v1h-1zM445.3,362.0h1v1h-1zM440.5,362.4h1v1h-1zM471.1,366.8h1v1h-1zM449.0,362.2h1v1h-1zM465.5,359.6h1v1h-1zM453.3,365.6h1v1h-1zM449.2,362.0h1v1h-1zM443.1,361.4h1v1h-1zM462.5,373.8h1v1h-1zM452.2,369.9h1v1h-1zM457.0,366.6h1v1h-1zM453.1,372.7h1v1h-1zM457.7,364.8h1v1h-1zM452.5,371.2h1v1h-1zM450.1,362.0h1v1h-1zM452.2,363.3h1v1h-1zM462.2,368.0h1v1h-1zM453.4,363.1h1v1h-1zM463.2,368.4h1v1h-1zM467.6,371.0h1v1h-1zM452.6,363.0h1v1h-1zM452.1,367.0h1v1h-1zM459.2,368.7h1v1h-1zM464.2,357.6h1v1h-1zM454.2,358.2h1v1h-1zM447.3,362.7h1v1h-1zM449.8,360.6h1v1h-1zM444.1,372.3h1v1h-1zM451.9,371.3h1v1h-1zM446.8,353.2h1v1h-1zM450.1,370.9h1v1h-1zM450.4,368.2h1v1h-1zM447.0,373.7h1v1h-1zM456.8,371.8h1v1h-1zM452.2,373.1h1v1h-1zM454.5,363.3h1v1h-1zM449.8,366.3h1v1h-1zM448.1,359.4h1v1h-1zM454.8,369.9h1v1h-1zM452.1,370.6h1v1h-1zM464.3,359.0h1v1h-1zM455.7,360.7h1v1h-1zM449.8,367.0h1v1h-1zM438.5,369.3h1v1h-1zM459.5,369.0h1v1h-1zM458.2,376.0h1v1h-1zM451.6,372.0h1v1h-1zM463.4,368.7h1v1h-1zM442.4,365.1h1v1h-1zM452.1,357.1h1v1h-1zM453.6,370.2h1v1h-1zM452.3,365.0h1v1h-1zM463.6,362.6h1v1h-1zM447.8,366.2h1v1h-1zM461.3,369.3h1v1h-1zM454.5,363.3h1v1h-1zM462.0,370.9h1v1h-1zM442.7,367.8h1v1h-1zM438.3,374.2h1v1h-1zM458.0,362.5h1v1h-1zM445.6,364.3h1v1h-1zM442.6,369.1h1v1h-1zM450.7,356.2h1v1h-1zM453.9,372.5h1v1h-1zM445.7,364.0h1v1h-1zM465.8,367.0h1v1h-1zM450.4,367.0h1v1h-1zM459.1,360.5h1v1h-1zM453.4,357.0h1v1h-1zM443.7,357.5h1v1h-1zM459.5,367.7h1v1h-1zM458.8,372.7h1v1h-1zM454.3,367.3h1v1h-1zM456.6,368.6h1v1h-1zM447.1,364.5h1v1h-1zM453.0,366.2h1v1h-1zM449.1,365.3h1v1h-1zM455.9,367.0h1v1h-1zM457.8,370.5h1v1h-1zM457.6,371.3h1v1h-1zM459.5,373.7h1v1h-1zM458.1,362.6h1v1h-1zM469.2,372.2h1v1h-1zM462.1,370.0h1v1h-1zM454.3,359.7h1v1h-1zM456.8,364.0h1v1h-1zM451.4,354.2h1v1h-1zM464.1,359.6h1v1h-1zM446.8,368.6h1v1h-1zM457.7,361.6h1v1h-1zM453.9,367.4h1v1h-1zM455.0,368.9h1v1h-1zM459.0,364.0h1v1h-1zM443.4,377.9h1v1h-1zM451.5,360.5h1v1h-1zM458.9,369.2h1v1h-1zM450.0,379.0h1v1h-1zM438.7,373.1h1v1h-1z" fill="#333"/>
<path d="M474.6,368.9h1v1h-1zM478.2,365.6h1v1h-1zM478.2,359.2h1v1h-1zM471.0,378.1h1v1h-1zM449.1,374.4h1v1h-1zM452.6,361.9h1v1h-1zM483.8,364.5h1v1h-1zM469.2,358.0h1v1h-1zM473.8,365.9h1v1h-1zM468.6,357.6h1v1h-1zM476.6,369.5h1v1h-1zM486.4,370.1h1v1h-1zM490.2,374.2h1v1h-1zM446.7,377.0h1v1h-1zM473.9,360.7h1v1h-1zM479.3,372.8h1v1h-1zM459.5,359.6h1v1h-1zM481.9,363.7h1v1h-1zM489.6,368.3h1v1h-1zM469.5,359.0h1v1h-1zM481.0,356.6h1v1h-1zM461.9,359.1h1v1h-1zM492.1,377.3h1v1h-1zM472.8,364.7h1v1h-1zM482.0,374.5h1v1h-1zM466.9,380.2h1v1h-1zM472.9,373.8h1v1h-1zM451.3,366.7h1v1h-1zM468.0,378.9h1v1h-1zM472.8,359.3h1v1h-1zM494.6,362.9h1v1h-1zM475.0,359.5h1v1h-1zM481.8,368.2h1v1h-1zM472.1,364.6h1v1h-1zM469.3,362.7h1v1h-1zM460.9,374.3h1v1h-1zM484.0,358.6h1v1h-1zM463.3,369.4h1v1h-1zM497.7,365.8h1v1h-1zM471.8,365.5h1v1h-1zM477.5,365.9h1v1h-1zM485.9,372.9h1v1h-1zM480.5,376.5h1v1h-1zM472.7,363.7h1v1h-1zM459.3,352.8h1v1h-1zM478.6,360.6h1v1h-1zM485.6,354.4h1v1h-1zM473.6,364.6h1v1h-1zM464.1,373.7h1v1h-1zM471.0,369.7h1v1h-1zM469.7,367.9h1v1h-1zM470.5,367.4h1v1h-1zM474.0,362.9h1v1h-1zM479.4,365.9h1v1h-1zM465.3,360.7h1v1h-1zM479.4,375.0h1v1h-1zM461.8,364.5h1v1h-1zM479.5,373.3h1v1h-1zM482.1,359.9h1v1h-1zM475.4,372.4h1v1h-1zM477.4,365.6h1v1h-1zM463.1,368.0h1v1h-1zM474.3,367.2h1v1h-1zM490.1,374.1h1v1h-1zM467.0,368.4h1v1h-1zM471.9,367.6h1v1h-1zM491.4,372.5h1v1h-1zM475.4,363.0h1v1h-1zM473.4,369.2h1v1h-1zM470.0,373.6h1v1h-1zM475.2,359.9h1v1h-1zM495.5,349.5h1v1h-1zM472.3,366.3h1v1h-1zM484.9,373.7h1v1h-1zM489.6,376.4h1v1h-1zM478.2,367.7h1v1h-1zM485.2,366.8h1v1h-1zM462.3,364.3h1v1h-1zM481.7,370.7h1v1h-1zM463.9,374.2h1v1h-1zM478.1,357.9h1v1h-1zM479.7,373.1h1v1h-1zM480.3,365.1h1v1h-1zM466.9,373.7h1v1h-1zM477.3,367.0h1v1h-1zM471.0,360.8h1v1h-1zM456.2,364.9h1v1h-1zM486.1,371.6h1v1h-1zM468.1,376.2h1v1h-1zM472.7,360.9h1v1h-1zM484.8,375.3h1v1h-1zM471.1,359.6h1v1h-1zM474.4,352.4h1v1h-1zM475.5,376.2h1v1h-1zM477.7,362.6h1v1h-1zM482.1,364.0h1v1h-1zM487.7,364.8h1v1h-1zM495.5,364.9h1v1h-1zM476.9,361.3h1v1h-1zM462.2,369.1h1v1h-1zM478.5,361.1h1v1h-1zM480.6,364.5h1v1h-1zM469.4,366.6h1v1h-1zM479.0,371.4h1v1h-1zM487.4,369.3h1v1h-1zM467.7,362.9h1v1h-1zM478.7,359.8h1v1h-1zM473.3,364.7h1v1h-1zM474.0,368.1h1v1h-1zM485.4,376.9h1v1h-1zM483.9,373.1h1v1h-1zM464.3,373.2h1v1h-1zM488.0,358.8h1v1h-1zM500.4,363.6h1v1h-1zM451.1,377.6h1v1h-1zM475.6,362.2h1v1h-1zM469.2,373.4h1v1h-1zM477.6,364.7h1v1h-1zM486.5,361.4h1v1h-1zM466.5,363.6h1v1h-1zM467.5,371.1h1v1h-1zM472.7,360.7h1v1h-1zM470.4,355.1h1v1h-1zM476.7,367.6h1v1h-1zM481.1,365.6h1v1h-1zM479.0,361.4h1v1h-1zM475.2,367.9h1v1h-1zM462.8,370.5h1v1h-1zM476.4,367.3h1v1h-1z" fill="#777"/>
<path d="M444.2,392.9h.8v.8h-.8zM455.8,381.6h.8v.8h-.8zM447.1,384.5h.8v.8h-.8zM454.7,382.1h.8v.8h-.8zM445.9,386.1h.8v.8h-.8zM442.9,384.7h.8v.8h-.8zM455.7,386.1h.8v.8h-.8zM438.4,383.3h.8v.8h-.8zM451.3,381.2h.8v.8h-.8zM446.7,387.1h.8v.8h-.8zM446.1,380.3h.8v.8h-.8zM458.9,378.2h.8v.8h-.8zM459.7,378.7h.8v.8h-.8zM450.8,386.8h.8v.8h-.8zM447.2,388.3h.8v.8h-.8zM459.1,382.7h.8v.8h-.8zM438.5,380.6h.8v.8h-.8zM459.0,387.8h.8v.8h-.8zM455.9,384.0h.8v.8h-.8zM445.1,389.4h.8v.8h-.8zM451.2,393.4h.8v.8h-.8zM441.0,383.2h.8v.8h-.8zM454.3,393.3h.8v.8h-.8zM448.7,391.2h.8v.8h-.8zM439.7,388.5h.8v.8h-.8zM445.2,389.5h.8v.8h-.8zM444.4,380.4h.8v.8h-.8zM443.7,390.0h.8v.8h-.8zM454.8,393.4h.8v.8h-.8zM447.3,378.2h.8v.8h-.8zM457.2,381.6h.8v.8h-.8zM454.9,385.8h.8v.8h-.8zM448.1,377.6h.8v.8h-.8zM442.7,390.5h.8v.8h-.8zM448.5,392.9h.8v.8h-.8zM457.2,386.6h.8v.8h-.8zM461.6,377.0h.8v.8h-.8zM447.0,386.6h.8v.8h-.8zM438.3,392.7h.8v.8h-.8zM440.7,387.4h.8v.8h-.8zM443.8,383.9h.8v.8h-.8zM448.6,382.2h.8v.8h-.8zM441.3,389.0h.8v.8h-.8zM452.7,378.5h.8v.8h-.8zM461.3,378.9h.8v.8h-.8zM442.6,382.1h.8v.8h-.8zM446.1,385.8h.8v.8h-.8zM459.6,378.8h.8v.8h-.8zM451.4,388.2h.8v.8h-.8zM443.4,383.4h.8v.8h-.8zM448.1,393.0h.8v.8h-.8zM456.4,385.6h.8v.8h-.8zM438.7,383.4h.8v.8h-.8zM457.4,384.8h.8v.8h-.8zM446.8,388.5h.8v.8h-.8zM438.0,388.7h.8v.8h-.8zM454.1,379.0h.8v.8h-.8zM447.4,392.4h.8v.8h-.8zM443.6,386.5h.8v.8h-.8zM445.6,386.9h.8v.8h-.8zM446.8,383.2h.8v.8h-.8zM460.1,389.5h.8v.8h-.8zM462.0,383.0h.8v.8h-.8zM448.7,383.6h.8v.8h-.8zM458.7,383.6h.8v.8h-.8zM454.0,380.2h.8v.8h-.8zM450.6,381.9h.8v.8h-.8zM459.8,383.6h.8v.8h-.8zM460.8,387.2h.8v.8h-.8zM445.5,386.9h.8v.8h-.8z" fill="#888"/>
<path d="M500.2,389.5h.8v.8h-.8zM495.8,387.2h.8v.8h-.8zM487.4,379.5h.8v.8h-.8zM496.1,388.5h.8v.8h-.8zM488.6,382.5h.8v.8h-.8zM493.3,386.5h.8v.8h-.8zM475.1,394.9h.8v.8h-.8zM493.7,389.2h.8v.8h-.8zM496.4,389.5h.8v.8h-.8zM477.8,394.2h.8v.8h-.8zM499.1,389.1h.8v.8h-.8zM479.8,386.0h.8v.8h-.8zM463.9,393.0h.8v.8h-.8zM496.1,387.7h.8v.8h-.8zM481.1,391.5h.8v.8h-.8zM462.9,384.2h.8v.8h-.8zM472.3,387.9h.8v.8h-.8zM476.5,387.9h.8v.8h-.8zM498.8,384.4h.8v.8h-.8zM466.7,377.2h.8v.8h-.8zM496.3,385.4h.8v.8h-.8zM480.1,377.5h.8v.8h-.8zM466.2,377.0h.8v.8h-.8zM498.7,377.9h.8v.8h-.8zM475.2,385.5h.8v.8h-.8zM485.5,381.0h.8v.8h-.8zM488.5,388.5h.8v.8h-.8zM502.4,378.7h.8v.8h-.8zM474.1,378.9h.8v.8h-.8zM473.9,380.8h.8v.8h-.8zM463.2,391.5h.8v.8h-.8zM473.3,390.4h.8v.8h-.8zM495.4,391.3h.8v.8h-.8zM463.0,387.6h.8v.8h-.8zM496.9,388.4h.8v.8h-.8zM486.8,384.7h.8v.8h-.8zM495.7,386.6h.8v.8h-.8zM476.4,385.9h.8v.8h-.8zM481.3,380.4h.8v.8h-.8zM489.6,392.0h.8v.8h-.8zM488.8,377.2h.8v.8h-.8zM478.6,390.8h.8v.8h-.8zM467.4,386.1h.8v.8h-.8zM490.0,386.6h.8v.8h-.8zM475.5,377.3h.8v.8h-.8z" fill="#aaa"/>
<rect x="436.3" y="335.5" width="67.19999999999999" height="61.10000000000002" fill="none" stroke="#555" stroke-width="1.0"/>
<line x1="462.2" y1="335.5" x2="462.2" y2="396.6" stroke="#777" stroke-width="1.0"/>
<line x1="436.3" y1="376.6" x2="503.5" y2="376.6" stroke="#666" stroke-width="1.0"/>
<text x="449.3" y="347.3" font-size="9.2" font-weight="bold" text-anchor="middle" stroke="#111" stroke-width="0.2">83</text>
<text x="493.4" y="347.3" font-size="9.2" font-weight="bold" text-anchor="middle" stroke="#111" stroke-width="0.2">8</text>
<text x="493.4" y="391.8" font-size="9.2" font-weight="bold" text-anchor="middle" stroke="#111" stroke-width="0.2">3</text>
<text transform="translate(434.1,398.8) rotate(-90)" font-size="4.4" fill="#333" stroke="#333" stroke-width="0.15">10</text>
<text transform="translate(431.7,394.6) rotate(-90)" font-size="3.0" fill="#333" stroke="#333" stroke-width="0.1">0</text>
<text x="435.7" y="403.0" font-size="4.6" text-anchor="middle" fill="#333" stroke="#333" stroke-width="0.15">10</text>
<text x="438.90000000000003" y="401.0" font-size="3.2" text-anchor="middle" fill="#333" stroke="#333" stroke-width="0.1">0</text>
<text transform="translate(434.1,383.52500000000003) rotate(-90)" font-size="4.4" fill="#333" stroke="#333" stroke-width="0.15">10</text>
<text transform="translate(431.7,379.32500000000005) rotate(-90)" font-size="3.0" fill="#333" stroke="#333" stroke-width="0.1">1</text>
<text x="452.5" y="403.0" font-size="4.6" text-anchor="middle" fill="#333" stroke="#333" stroke-width="0.15">10</text>
<text x="455.70000000000005" y="401.0" font-size="3.2" text-anchor="middle" fill="#333" stroke="#333" stroke-width="0.1">1</text>
<text transform="translate(434.1,368.25) rotate(-90)" font-size="4.4" fill="#333" stroke="#333" stroke-width="0.15">10</text>
<text transform="translate(431.7,364.05) rotate(-90)" font-size="3.0" fill="#333" stroke="#333" stroke-width="0.1">2</text>
<text x="469.29999999999995" y="403.0" font-size="4.6" text-anchor="middle" fill="#333" stroke="#333" stroke-width="0.15">10</text>
<text x="472.5" y="401.0" font-size="3.2" text-anchor="middle" fill="#333" stroke="#333" stroke-width="0.1">2</text>
<text transform="translate(434.1,352.97499999999997) rotate(-90)" font-size="4.4" fill="#333" stroke="#333" stroke-width="0.15">10</text>
<text transform="translate(431.7,348.775) rotate(-90)" font-size="3.0" fill="#333" stroke="#333" stroke-width="0.1">3</text>
<text x="486.09999999999997" y="403.0" font-size="4.6" text-anchor="middle" fill="#333" stroke="#333" stroke-width="0.15">10</text>
<text x="489.3" y="401.0" font-size="3.2" text-anchor="middle" fill="#333" stroke="#333" stroke-width="0.1">3</text>
<text transform="translate(434.1,337.7) rotate(-90)" font-size="4.4" fill="#333" stroke="#333" stroke-width="0.15">10</text>
<text transform="translate(431.7,333.5) rotate(-90)" font-size="3.0" fill="#333" stroke="#333" stroke-width="0.1">4</text>
<text x="502.9" y="403.0" font-size="4.6" text-anchor="middle" fill="#333" stroke="#333" stroke-width="0.15">10</text>
<text x="506.1" y="401.0" font-size="3.2" text-anchor="middle" fill="#333" stroke="#333" stroke-width="0.1">4</text>
<path d="M271.9,452.7h1v1h-1zM269.2,454.9h1v1h-1zM272.2,453.0h1v1h-1zM278.1,447.6h1v1h-1zM274.0,451.0h1v1h-1zM271.9,450.1h1v1h-1zM270.9,447.7h1v1h-1zM265.6,473.3h1v1h-1zM269.0,463.1h1v1h-1zM272.1,452.6h1v1h-1zM274.9,449.4h1v1h-1zM273.9,451.8h1v1h-1zM275.7,458.7h1v1h-1zM272.7,463.2h1v1h-1zM274.2,464.6h1v1h-1zM272.1,446.0h1v1h-1zM273.2,456.8h1v1h-1zM271.3,456.0h1v1h-1zM271.6,448.5h1v1h-1zM278.2,444.0h1v1h-1zM268.9,449.5h1v1h-1zM269.7,459.0h1v1h-1zM277.4,454.3h1v1h-1zM270.1,450.4h1v1h-1zM268.8,459.8h1v1h-1zM275.4,449.3h1v1h-1zM277.8,462.8h1v1h-1zM273.0,440.7h1v1h-1zM276.1,451.1h1v1h-1zM274.7,460.1h1v1h-1zM269.1,460.4h1v1h-1zM273.1,450.2h1v1h-1zM274.8,452.4h1v1h-1zM271.1,470.3h1v1h-1zM273.0,466.4h1v1h-1zM272.0,463.6h1v1h-1zM270.0,459.9h1v1h-1zM276.1,437.0h1v1h-1zM274.3,452.0h1v1h-1zM276.1,452.9h1v1h-1zM272.2,447.6h1v1h-1zM282.3,439.5h1v1h-1zM271.4,452.4h1v1h-1zM271.5,458.7h1v1h-1zM268.0,468.4h1v1h-1zM271.6,461.1h1v1h-1zM265.5,460.7h1v1h-1zM271.5,454.5h1v1h-1zM270.3,460.7h1v1h-1zM273.8,447.7h1v1h-1zM266.0,468.6h1v1h-1zM271.4,464.5h1v1h-1zM275.4,451.9h1v1h-1zM267.7,459.1h1v1h-1zM270.1,467.3h1v1h-1zM266.9,468.8h1v1h-1zM267.4,458.1h1v1h-1zM267.8,456.8h1v1h-1zM271.0,460.2h1v1h-1zM270.5,463.0h1v1h-1zM278.3,450.2h1v1h-1zM268.7,459.3h1v1h-1zM272.1,454.0h1v1h-1zM276.3,459.3h1v1h-1zM279.1,451.7h1v1h-1zM263.6,465.5h1v1h-1zM274.7,447.9h1v1h-1zM270.5,464.5h1v1h-1zM273.0,447.8h1v1h-1zM270.5,437.4h1v1h-1zM272.5,447.7h1v1h-1zM272.3,448.2h1v1h-1zM269.4,456.1h1v1h-1zM281.7,437.1h1v1h-1zM268.5,457.0h1v1h-1zM276.0,457.3h1v1h-1zM274.8,451.1h1v1h-1zM272.9,450.3h1v1h-1zM271.9,451.2h1v1h-1zM267.7,454.9h1v1h-1zM278.9,451.2h1v1h-1zM270.0,458.2h1v1h-1zM271.0,466.0h1v1h-1zM272.4,451.8h1v1h-1zM274.7,455.5h1v1h-1zM270.2,453.4h1v1h-1zM272.9,444.3h1v1h-1zM269.4,466.4h1v1h-1zM275.3,460.2h1v1h-1zM271.0,453.7h1v1h-1zM271.6,453.8h1v1h-1zM276.7,449.5h1v1h-1zM277.0,445.9h1v1h-1zM273.7,465.5h1v1h-1zM270.0,454.5h1v1h-1zM270.5,447.4h1v1h-1zM271.5,452.8h1v1h-1zM279.8,444.2h1v1h-1zM265.4,470.7h1v1h-1zM275.6,452.1h1v1h-1zM273.4,459.8h1v1h-1zM270.6,458.5h1v1h-1zM272.9,466.7h1v1h-1zM277.1,451.6h1v1h-1zM268.0,467.2h1v1h-1zM272.3,464.1h1v1h-1zM272.6,457.0h1v1h-1zM274.6,448.5h1v1h-1zM270.3,474.1h1v1h-1zM269.6,465.7h1v1h-1zM274.7,458.9h1v1h-1zM277.0,441.6h1v1h-1zM275.6,438.3h1v1h-1zM272.6,458.1h1v1h-1zM275.9,459.4h1v1h-1zM269.4,457.8h1v1h-1zM271.9,451.9h1v1h-1zM269.7,454.7h1v1h-1zM276.3,460.8h1v1h-1zM274.9,464.5h1v1h-1zM272.8,448.3h1v1h-1zM270.3,459.9h1v1h-1zM275.9,460.3h1v1h-1zM269.5,466.0h1v1h-1zM270.7,462.1h1v1h-1zM275.5,462.5h1v1h-1zM270.7,459.7h1v1h-1zM273.9,451.5h1v1h-1zM272.8,459.7h1v1h-1zM267.0,458.1h1v1h-1zM280.1,450.1h1v1h-1zM270.6,445.7h1v1h-1zM269.3,463.3h1v1h-1zM274.7,456.4h1v1h-1zM274.4,449.6h1v1h-1zM277.7,442.2h1v1h-1zM274.1,452.2h1v1h-1zM266.8,468.8h1v1h-1zM271.5,461.9h1v1h-1zM276.7,452.2h1v1h-1zM270.3,457.1h1v1h-1zM272.2,466.1h1v1h-1zM275.3,463.5h1v1h-1zM275.0,447.9h1v1h-1zM275.5,459.0h1v1h-1zM272.1,459.7h1v1h-1zM271.4,448.7h1v1h-1zM272.2,461.6h1v1h-1zM271.3,442.2h1v1h-1zM269.8,466.5h1v1h-1zM273.2,462.8h1v1h-1zM270.0,456.1h1v1h-1zM269.1,454.6h1v1h-1zM274.1,455.0h1v1h-1zM270.9,460.0h1v1h-1zM268.1,458.5h1v1h-1zM267.5,451.7h1v1h-1zM268.0,453.9h1v1h-1zM277.7,459.3h1v1h-1zM276.6,447.2h1v1h-1zM274.5,445.9h1v1h-1zM270.7,459.8h1v1h-1zM267.2,463.6h1v1h-1zM274.5,439.6h1v1h-1zM264.4,463.7h1v1h-1zM272.0,457.5h1v1h-1zM268.7,464.3h1v1h-1zM272.9,450.6h1v1h-1zM277.9,451.4h1v1h-1zM274.9,465.8h1v1h-1zM270.8,456.5h1v1h-1zM266.7,461.3h1v1h-1zM273.9,471.4h1v1h-1zM274.3,455.2h1v1h-1zM268.3,455.2h1v1h-1zM266.3,453.9h1v1h-1zM272.8,457.7h1v1h-1zM269.4,458.1h1v1h-1zM269.8,463.4h1v1h-1zM274.6,449.8h1v1h-1zM270.9,449.5h1v1h-1zM270.9,472.8h1v1h-1zM272.4,462.0h1v1h-1zM274.4,463.9h1v1h-1zM271.4,451.1h1v1h-1zM275.9,458.3h1v1h-1zM270.3,466.1h1v1h-1zM272.4,455.8h1v1h-1zM278.5,452.5h1v1h-1zM273.5,452.7h1v1h-1zM273.1,462.5h1v1h-1zM274.0,449.1h1v1h-1zM273.9,453.5h1v1h-1zM273.5,453.5h1v1h-1zM265.2,453.5h1v1h-1zM271.2,442.5h1v1h-1zM267.5,475.8h1v1h-1zM274.7,450.2h1v1h-1zM273.5,439.5h1v1h-1zM273.3,461.8h1v1h-1zM273.1,446.4h1v1h-1zM275.7,448.6h1v1h-1zM270.6,459.6h1v1h-1zM271.4,471.2h1v1h-1zM272.0,471.3h1v1h-1zM273.9,445.8h1v1h-1zM272.4,456.4h1v1h-1zM277.2,459.2h1v1h-1zM280.9,441.5h1v1h-1zM271.0,473.8h1v1h-1zM269.5,462.0h1v1h-1zM277.8,442.8h1v1h-1zM271.3,452.3h1v1h-1zM274.2,456.8h1v1h-1zM272.3,460.7h1v1h-1zM269.8,456.5h1v1h-1zM274.0,468.1h1v1h-1zM272.3,456.6h1v1h-1zM276.8,451.5h1v1h-1zM276.8,452.6h1v1h-1zM276.3,452.8h1v1h-1zM269.4,453.8h1v1h-1zM273.9,467.3h1v1h-1zM278.6,446.6h1v1h-1zM280.8,438.6h1v1h-1zM269.6,465.8h1v1h-1zM267.4,468.3h1v1h-1zM273.7,458.9h1v1h-1zM268.4,463.4h1v1h-1zM275.6,452.0h1v1h-1zM275.9,452.2h1v1h-1zM273.6,452.5h1v1h-1zM267.9,460.3h1v1h-1zM274.1,448.9h1v1h-1zM265.9,453.0h1v1h-1zM276.8,449.4h1v1h-1zM269.9,467.6h1v1h-1zM271.9,446.4h1v1h-1zM271.0,451.7h1v1h-1zM271.8,450.5h1v1h-1zM272.7,459.0h1v1h-1zM270.5,456.9h1v1h-1zM271.9,462.4h1v1h-1zM270.1,464.1h1v1h-1zM276.6,449.8h1v1h-1zM269.2,457.7h1v1h-1zM266.5,459.3h1v1h-1zM268.5,459.6h1v1h-1zM271.2,461.1h1v1h-1zM272.8,458.5h1v1h-1zM272.3,458.2h1v1h-1zM268.7,465.1h1v1h-1zM276.8,458.6h1v1h-1zM268.0,464.2h1v1h-1zM267.0,467.7h1v1h-1zM271.8,453.7h1v1h-1zM270.0,457.3h1v1h-1zM272.4,449.4h1v1h-1zM272.6,457.6h1v1h-1zM274.2,453.7h1v1h-1zM272.4,472.1h1v1h-1zM275.8,454.3h1v1h-1zM267.8,465.8h1v1h-1zM274.4,435.4h1v1h-1zM271.9,459.3h1v1h-1zM272.6,456.6h1v1h-1zM271.9,466.2h1v1h-1zM273.7,452.6h1v1h-1zM271.7,471.4h1v1h-1zM269.6,455.8h1v1h-1zM273.5,455.8h1v1h-1zM273.5,464.3h1v1h-1zM276.3,454.5h1v1h-1zM272.6,455.5h1v1h-1zM271.7,463.9h1v1h-1zM268.2,453.8h1v1h-1zM270.9,451.2h1v1h-1zM270.0,467.2h1v1h-1zM264.9,468.9h1v1h-1zM268.1,459.5h1v1h-1zM270.5,451.4h1v1h-1zM267.5,462.4h1v1h-1zM262.5,453.0h1v1h-1zM271.1,465.2h1v1h-1zM278.7,446.7h1v1h-1zM269.8,457.2h1v1h-1zM274.0,460.7h1v1h-1zM269.3,463.1h1v1h-1zM272.4,464.1h1v1h-1zM271.1,456.2h1v1h-1zM269.6,450.2h1v1h-1zM273.4,459.9h1v1h-1zM276.2,453.5h1v1h-1zM270.9,451.5h1v1h-1zM268.6,455.6h1v1h-1zM273.6,455.4h1v1h-1zM264.8,464.4h1v1h-1zM271.5,449.9h1v1h-1zM272.4,459.8h1v1h-1zM269.0,450.8h1v1h-1zM271.4,459.1h1v1h-1zM271.6,467.8h1v1h-1zM273.0,448.5h1v1h-1zM275.1,448.5h1v1h-1zM274.8,454.0h1v1h-1zM276.6,444.3h1v1h-1zM274.9,456.1h1v1h-1zM269.4,464.5h1v1h-1zM280.1,449.6h1v1h-1zM269.9,458.0h1v1h-1zM276.8,452.7h1v1h-1zM277.4,445.7h1v1h-1zM276.9,439.9h1v1h-1zM271.9,454.7h1v1h-1zM270.8,466.5h1v1h-1zM270.4,460.9h1v1h-1zM278.7,454.4h1v1h-1zM271.1,452.6h1v1h-1zM265.7,466.6h1v1h-1zM275.5,460.2h1v1h-1zM273.3,470.0h1v1h-1zM275.1,437.0h1v1h-1zM269.5,465.1h1v1h-1zM271.1,463.4h1v1h-1zM281.1,440.6h1v1h-1zM279.9,446.7h1v1h-1zM267.5,462.5h1v1h-1zM275.5,448.4h1v1h-1zM277.8,443.7h1v1h-1zM271.8,463.2h1v1h-1zM271.8,453.0h1v1h-1zM272.4,460.6h1v1h-1zM278.3,458.6h1v1h-1zM278.8,448.4h1v1h-1zM266.9,462.3h1v1h-1zM271.1,450.8h1v1h-1zM270.7,457.6h1v1h-1zM272.7,462.2h1v1h-1zM269.4,467.6h1v1h-1zM272.6,460.9h1v1h-1zM276.7,442.5h1v1h-1zM277.9,444.7h1v1h-1zM273.8,462.0h1v1h-1zM275.6,441.5h1v1h-1zM273.0,463.3h1v1h-1zM272.1,456.0h1v1h-1zM272.7,467.1h1v1h-1zM270.6,451.6h1v1h-1zM268.7,456.8h1v1h-1zM271.7,459.4h1v1h-1zM272.2,444.4h1v1h-1zM267.2,467.0h1v1h-1zM274.9,443.7h1v1h-1zM275.7,435.4h1v1h-1zM280.4,450.8h1v1h-1zM266.9,466.2h1v1h-1zM272.4,453.0h1v1h-1zM271.2,455.9h1v1h-1zM272.1,450.2h1v1h-1zM270.6,462.2h1v1h-1zM274.3,444.7h1v1h-1zM270.8,468.8h1v1h-1zM274.9,464.6h1v1h-1zM267.9,454.2h1v1h-1zM265.1,451.2h1v1h-1zM271.2,450.2h1v1h-1zM268.8,455.5h1v1h-1zM271.9,462.5h1v1h-1zM274.4,441.6h1v1h-1zM277.6,447.8h1v1h-1zM269.1,459.8h1v1h-1zM271.1,448.0h1v1h-1zM277.8,445.8h1v1h-1zM270.5,462.1h1v1h-1zM278.2,452.7h1v1h-1zM269.4,462.6h1v1h-1zM276.3,454.2h1v1h-1zM274.7,450.1h1v1h-1zM272.3,444.6h1v1h-1zM270.1,451.0h1v1h-1zM272.5,466.4h1v1h-1zM264.8,455.8h1v1h-1zM269.3,459.1h1v1h-1zM276.5,446.0h1v1h-1zM269.8,467.6h1v1h-1zM273.8,458.2h1v1h-1zM275.3,447.5h1v1h-1zM273.3,450.5h1v1h-1zM270.0,459.8h1v1h-1zM274.0,445.4h1v1h-1zM269.9,463.3h1v1h-1zM273.1,460.0h1v1h-1zM271.4,451.7h1v1h-1zM275.2,457.0h1v1h-1zM262.8,473.4h1v1h-1zM269.9,463.7h1v1h-1zM277.8,447.8h1v1h-1zM269.2,461.7h1v1h-1zM272.8,459.6h1v1h-1zM267.7,463.3h1v1h-1zM275.5,457.3h1v1h-1zM274.6,461.8h1v1h-1zM269.7,467.8h1v1h-1zM273.2,448.3h1v1h-1zM271.5,459.1h1v1h-1zM273.6,464.1h1v1h-1zM273.1,451.7h1v1h-1zM280.0,444.9h1v1h-1zM269.7,465.8h1v1h-1zM271.1,452.2h1v1h-1zM268.9,468.5h1v1h-1zM268.9,461.0h1v1h-1zM270.9,456.5h1v1h-1zM269.7,460.3h1v1h-1zM274.6,460.9h1v1h-1zM271.3,449.4h1v1h-1zM267.4,462.0h1v1h-1zM264.0,475.2h1v1h-1zM272.6,456.8h1v1h-1zM267.7,457.1h1v1h-1zM270.0,463.7h1v1h-1zM271.1,462.0h1v1h-1zM274.3,440.6h1v1h-1zM271.7,465.7h1v1h-1zM270.8,459.0h1v1h-1zM272.1,448.0h1v1h-1zM279.9,446.3h1v1h-1zM274.7,450.4h1v1h-1zM277.3,458.4h1v1h-1zM276.5,457.9h1v1h-1zM274.9,462.8h1v1h-1zM273.9,455.4h1v1h-1zM275.3,446.6h1v1h-1zM263.8,471.9h1v1h-1zM273.0,450.5h1v1h-1zM271.6,450.5h1v1h-1zM269.6,460.7h1v1h-1zM272.9,461.3h1v1h-1zM272.2,460.8h1v1h-1zM274.8,448.4h1v1h-1zM266.7,458.1h1v1h-1zM271.6,453.4h1v1h-1zM280.0,442.5h1v1h-1zM274.1,448.9h1v1h-1zM274.9,444.5h1v1h-1zM275.7,453.5h1v1h-1zM271.1,449.4h1v1h-1zM278.2,445.4h1v1h-1zM277.4,433.6h1v1h-1zM268.4,473.4h1v1h-1zM278.6,449.0h1v1h-1zM275.9,456.3h1v1h-1zM271.3,458.4h1v1h-1zM268.6,451.4h1v1h-1zM272.9,460.6h1v1h-1zM273.0,446.9h1v1h-1zM275.4,453.3h1v1h-1zM275.1,451.1h1v1h-1zM271.6,464.4h1v1h-1zM277.2,442.2h1v1h-1zM268.7,467.2h1v1h-1zM273.7,455.0h1v1h-1zM269.2,467.0h1v1h-1zM273.1,456.8h1v1h-1zM273.8,450.9h1v1h-1zM273.9,455.4h1v1h-1zM275.0,455.8h1v1h-1zM268.1,456.3h1v1h-1zM271.6,465.2h1v1h-1zM270.3,466.5h1v1h-1zM276.2,457.8h1v1h-1zM280.2,447.0h1v1h-1zM273.6,463.2h1v1h-1zM273.9,461.3h1v1h-1zM272.1,466.4h1v1h-1zM273.7,441.4h1v1h-1zM276.2,450.4h1v1h-1zM269.5,457.6h1v1h-1zM271.5,465.1h1v1h-1zM273.6,454.3h1v1h-1zM272.4,449.9h1v1h-1zM270.3,455.4h1v1h-1zM271.7,449.0h1v1h-1zM271.1,464.6h1v1h-1zM274.0,454.3h1v1h-1zM273.7,453.0h1v1h-1zM268.5,466.9h1v1h-1zM280.2,450.6h1v1h-1zM274.8,470.3h1v1h-1zM268.4,464.6h1v1h-1zM271.3,455.6h1v1h-1zM266.8,462.2h1v1h-1zM273.9,443.5h1v1h-1zM271.7,453.6h1v1h-1zM269.1,464.5h1v1h-1zM278.1,452.4h1v1h-1zM276.0,457.2h1v1h-1zM272.3,460.4h1v1h-1zM277.0,447.8h1v1h-1zM272.0,447.2h1v1h-1zM266.2,457.9h1v1h-1zM275.6,455.0h1v1h-1zM273.4,464.1h1v1h-1zM266.5,472.7h1v1h-1zM272.8,461.1h1v1h-1zM277.2,445.0h1v1h-1zM269.5,462.4h1v1h-1zM272.3,452.3h1v1h-1zM272.1,451.6h1v1h-1zM273.0,452.9h1v1h-1zM278.3,442.1h1v1h-1zM274.5,454.3h1v1h-1zM277.9,443.1h1v1h-1zM270.9,469.9h1v1h-1zM270.3,456.1h1v1h-1zM271.2,450.9h1v1h-1zM276.7,461.6h1v1h-1zM272.0,451.5h1v1h-1zM267.9,466.1h1v1h-1zM270.7,462.0h1v1h-1zM264.3,462.9h1v1h-1zM274.6,456.4h1v1h-1zM262.7,469.6h1v1h-1zM272.9,455.4h1v1h-1zM271.3,454.4h1v1h-1zM273.0,459.0h1v1h-1zM261.7,468.7h1v1h-1zM275.7,450.8h1v1h-1zM276.7,444.8h1v1h-1zM279.0,455.0h1v1h-1zM277.4,461.2h1v1h-1zM268.4,460.1h1v1h-1zM274.1,461.4h1v1h-1zM272.8,446.9h1v1h-1zM276.7,450.0h1v1h-1zM274.0,452.1h1v1h-1zM272.1,447.1h1v1h-1zM274.8,449.1h1v1h-1zM266.4,466.0h1v1h-1zM272.4,462.8h1v1h-1zM275.3,444.5h1v1h-1zM271.9,456.8h1v1h-1zM272.8,448.5h1v1h-1zM272.8,462.5h1v1h-1zM276.7,461.1h1v1h-1zM275.1,435.7h1v1h-1zM271.6,453.4h1v1h-1zM275.6,452.4h1v1h-1zM273.7,458.0h1v1h-1zM271.8,466.4h1v1h-1zM278.7,454.4h1v1h-1zM270.6,460.0h1v1h-1zM275.8,457.1h1v1h-1zM270.2,465.4h1v1h-1zM275.0,457.2h1v1h-1zM271.1,457.6h1v1h-1zM266.0,463.5h1v1h-1zM271.0,455.8h1v1h-1zM271.5,455.0h1v1h-1zM272.8,456.4h1v1h-1zM270.4,457.6h1v1h-1zM272.2,459.8h1v1h-1zM274.0,451.9h1v1h-1zM269.7,448.2h1v1h-1zM268.2,463.9h1v1h-1zM269.4,470.8h1v1h-1zM272.0,454.1h1v1h-1zM272.0,453.0h1v1h-1zM270.4,459.1h1v1h-1zM267.6,462.8h1v1h-1zM272.2,450.3h1v1h-1zM276.0,454.4h1v1h-1zM276.2,447.2h1v1h-1zM268.3,452.9h1v1h-1zM267.1,449.4h1v1h-1zM277.8,446.5h1v1h-1zM273.2,451.6h1v1h-1zM272.0,467.4h1v1h-1zM266.6,456.3h1v1h-1zM273.0,449.3h1v1h-1zM274.9,462.2h1v1h-1zM275.5,457.6h1v1h-1zM271.9,463.6h1v1h-1zM269.8,451.1h1v1h-1zM271.6,455.4h1v1h-1zM276.7,444.4h1v1h-1zM276.4,446.1h1v1h-1zM268.2,449.5h1v1h-1zM272.4,446.3h1v1h-1zM273.2,455.5h1v1h-1zM271.1,444.5h1v1h-1zM270.7,461.2h1v1h-1zM266.4,467.9h1v1h-1zM272.6,452.3h1v1h-1zM273.2,459.7h1v1h-1zM272.4,450.8h1v1h-1zM275.2,448.3h1v1h-1zM273.7,461.3h1v1h-1zM277.0,461.7h1v1h-1zM276.0,452.9h1v1h-1zM271.8,458.1h1v1h-1zM274.3,474.4h1v1h-1zM274.7,447.7h1v1h-1zM277.7,439.1h1v1h-1zM275.9,443.3h1v1h-1zM268.8,457.0h1v1h-1zM271.5,448.0h1v1h-1zM274.6,452.8h1v1h-1zM277.1,443.7h1v1h-1zM266.3,468.0h1v1h-1zM271.7,463.6h1v1h-1zM264.5,456.9h1v1h-1zM272.8,469.1h1v1h-1zM268.3,447.9h1v1h-1zM271.0,467.5h1v1h-1zM277.9,440.4h1v1h-1zM270.4,445.9h1v1h-1zM269.6,452.8h1v1h-1zM274.0,462.1h1v1h-1zM280.6,444.0h1v1h-1zM275.3,454.3h1v1h-1zM272.9,468.8h1v1h-1zM274.9,463.9h1v1h-1zM273.5,460.7h1v1h-1zM274.2,453.3h1v1h-1zM270.1,456.1h1v1h-1zM272.5,453.4h1v1h-1zM271.3,452.6h1v1h-1zM275.4,450.9h1v1h-1zM272.1,455.0h1v1h-1zM277.0,447.1h1v1h-1zM277.3,444.5h1v1h-1zM277.7,454.1h1v1h-1zM270.8,461.1h1v1h-1zM276.4,444.9h1v1h-1zM271.7,459.1h1v1h-1zM271.8,454.9h1v1h-1zM272.6,458.1h1v1h-1zM275.1,463.0h1v1h-1zM271.4,469.5h1v1h-1zM272.1,446.6h1v1h-1zM271.0,455.4h1v1h-1zM276.1,437.9h1v1h-1zM270.4,457.7h1v1h-1zM274.7,456.1h1v1h-1zM275.4,451.5h1v1h-1zM271.7,465.2h1v1h-1zM278.4,451.7h1v1h-1zM273.0,449.5h1v1h-1zM279.7,450.3h1v1h-1zM274.6,442.6h1v1h-1zM274.6,470.2h1v1h-1zM272.0,455.3h1v1h-1zM277.7,448.6h1v1h-1zM275.4,466.0h1v1h-1zM268.5,455.0h1v1h-1zM274.8,454.1h1v1h-1zM272.6,454.7h1v1h-1zM272.9,457.9h1v1h-1zM270.9,456.0h1v1h-1zM273.3,447.6h1v1h-1zM274.0,439.2h1v1h-1zM274.7,452.6h1v1h-1zM268.5,469.9h1v1h-1zM268.5,474.9h1v1h-1zM270.0,467.2h1v1h-1zM272.3,467.3h1v1h-1zM271.8,464.0h1v1h-1zM271.4,444.4h1v1h-1zM273.8,457.7h1v1h-1zM273.9,465.9h1v1h-1zM270.0,449.1h1v1h-1zM273.4,450.2h1v1h-1zM272.2,456.4h1v1h-1zM269.7,466.8h1v1h-1zM272.1,468.8h1v1h-1zM273.4,462.3h1v1h-1zM271.5,452.7h1v1h-1zM270.7,452.1h1v1h-1zM274.0,455.2h1v1h-1zM268.9,449.8h1v1h-1zM269.6,446.9h1v1h-1zM269.5,449.1h1v1h-1zM274.9,445.2h1v1h-1zM270.5,457.5h1v1h-1zM272.6,458.8h1v1h-1zM275.1,457.4h1v1h-1zM271.4,466.0h1v1h-1zM273.8,449.7h1v1h-1zM277.6,441.9h1v1h-1zM274.1,462.7h1v1h-1zM272.9,457.9h1v1h-1zM272.9,460.1h1v1h-1zM273.3,455.2h1v1h-1zM274.9,440.2h1v1h-1zM273.4,452.9h1v1h-1zM279.1,450.2h1v1h-1zM270.3,463.1h1v1h-1zM271.2,449.4h1v1h-1zM271.6,460.6h1v1h-1zM276.5,458.5h1v1h-1zM273.3,454.0h1v1h-1zM273.2,463.5h1v1h-1zM272.1,464.5h1v1h-1zM269.8,459.1h1v1h-1zM275.1,457.8h1v1h-1zM273.2,451.7h1v1h-1zM266.5,460.1h1v1h-1zM269.7,456.6h1v1h-1zM277.8,444.5h1v1h-1zM275.4,452.5h1v1h-1zM268.8,461.1h1v1h-1zM275.0,444.9h1v1h-1zM268.6,458.0h1v1h-1zM275.0,449.0h1v1h-1zM273.9,457.5h1v1h-1zM272.6,459.0h1v1h-1zM276.8,449.7h1v1h-1zM273.6,447.4h1v1h-1zM270.1,458.2h1v1h-1zM275.2,448.2h1v1h-1zM267.9,467.8h1v1h-1zM280.5,429.0h1v1h-1zM269.0,461.0h1v1h-1zM274.1,447.6h1v1h-1zM273.6,462.2h1v1h-1zM271.6,462.1h1v1h-1zM272.9,449.1h1v1h-1zM270.5,454.2h1v1h-1zM277.0,458.7h1v1h-1zM273.3,444.3h1v1h-1zM270.9,455.2h1v1h-1zM266.1,463.4h1v1h-1zM273.5,445.8h1v1h-1zM271.1,454.6h1v1h-1zM278.7,453.3h1v1h-1zM275.1,453.6h1v1h-1zM268.2,467.4h1v1h-1zM270.3,445.5h1v1h-1zM274.9,450.8h1v1h-1zM272.5,459.5h1v1h-1zM271.7,459.7h1v1h-1zM276.8,448.7h1v1h-1zM271.3,457.5h1v1h-1zM274.7,450.7h1v1h-1zM272.8,451.0h1v1h-1zM272.3,460.0h1v1h-1zM269.8,458.0h1v1h-1zM267.6,456.9h1v1h-1zM272.8,459.3h1v1h-1zM269.1,459.3h1v1h-1zM269.4,461.8h1v1h-1zM273.4,458.0h1v1h-1zM271.8,447.1h1v1h-1zM270.7,449.0h1v1h-1zM270.3,458.3h1v1h-1zM276.1,447.4h1v1h-1zM269.9,460.4h1v1h-1zM267.4,469.0h1v1h-1zM275.8,458.8h1v1h-1zM272.2,461.4h1v1h-1zM271.4,463.9h1v1h-1zM270.3,453.0h1v1h-1zM273.8,451.4h1v1h-1zM274.7,447.5h1v1h-1zM273.4,448.2h1v1h-1zM272.2,471.1h1v1h-1zM268.9,451.8h1v1h-1zM267.2,460.7h1v1h-1zM277.9,446.6h1v1h-1zM275.6,451.1h1v1h-1zM270.4,472.2h1v1h-1zM276.1,439.2h1v1h-1zM269.3,462.6h1v1h-1zM274.7,451.9h1v1h-1zM273.5,458.4h1v1h-1zM271.4,464.2h1v1h-1zM269.7,464.5h1v1h-1zM275.5,453.8h1v1h-1zM271.4,457.2h1v1h-1zM265.2,466.4h1v1h-1zM267.8,447.8h1v1h-1zM275.0,446.8h1v1h-1zM273.7,454.9h1v1h-1zM266.7,456.7h1v1h-1zM271.6,460.2h1v1h-1zM272.7,447.1h1v1h-1zM270.8,458.8h1v1h-1zM268.3,457.9h1v1h-1zM270.7,443.6h1v1h-1zM278.2,455.3h1v1h-1zM271.0,464.3h1v1h-1zM269.1,470.5h1v1h-1zM271.3,458.4h1v1h-1zM270.6,458.9h1v1h-1zM273.6,454.9h1v1h-1zM269.8,464.4h1v1h-1zM274.3,453.8h1v1h-1zM276.0,446.9h1v1h-1zM276.7,450.0h1v1h-1zM277.5,447.1h1v1h-1zM271.7,458.4h1v1h-1zM276.1,461.6h1v1h-1zM271.0,452.8h1v1h-1zM275.0,461.5h1v1h-1zM274.8,451.0h1v1h-1zM276.7,450.9h1v1h-1zM273.1,459.6h1v1h-1zM270.6,442.8h1v1h-1zM273.2,460.0h1v1h-1zM273.9,458.0h1v1h-1zM273.0,462.5h1v1h-1zM272.9,465.7h1v1h-1zM272.7,461.2h1v1h-1zM270.7,460.2h1v1h-1zM273.9,455.3h1v1h-1zM277.6,450.3h1v1h-1zM276.2,454.1h1v1h-1zM276.1,445.6h1v1h-1zM271.3,464.0h1v1h-1zM269.8,461.8h1v1h-1zM274.4,455.1h1v1h-1zM273.9,458.0h1v1h-1zM271.7,459.7h1v1h-1zM270.8,454.9h1v1h-1zM267.3,461.4h1v1h-1zM266.9,462.8h1v1h-1zM273.2,447.8h1v1h-1zM272.7,457.7h1v1h-1zM271.4,451.1h1v1h-1zM272.1,459.2h1v1h-1zM275.6,465.6h1v1h-1zM266.0,466.0h1v1h-1zM273.9,450.0h1v1h-1zM273.6,469.0h1v1h-1zM272.9,464.9h1v1h-1zM276.0,448.9h1v1h-1zM264.9,472.9h1v1h-1zM277.6,438.0h1v1h-1zM271.9,452.0h1v1h-1zM273.2,455.6h1v1h-1zM276.3,447.5h1v1h-1zM278.8,436.9h1v1h-1zM273.2,473.5h1v1h-1zM272.2,460.7h1v1h-1zM275.4,450.1h1v1h-1zM266.2,464.9h1v1h-1zM274.9,439.2h1v1h-1zM270.9,461.7h1v1h-1zM264.6,464.0h1v1h-1zM267.3,453.0h1v1h-1zM273.8,462.2h1v1h-1zM276.3,447.0h1v1h-1zM274.2,441.9h1v1h-1zM267.6,465.5h1v1h-1zM271.2,450.6h1v1h-1zM266.4,461.6h1v1h-1zM279.9,433.6h1v1h-1zM269.1,467.7h1v1h-1zM266.2,459.2h1v1h-1zM272.7,463.5h1v1h-1zM272.3,468.8h1v1h-1zM272.4,455.4h1v1h-1zM274.0,456.7h1v1h-1zM267.6,455.3h1v1h-1zM271.7,459.2h1v1h-1zM268.5,455.9h1v1h-1zM270.1,461.2h1v1h-1zM271.1,461.8h1v1h-1zM273.8,448.2h1v1h-1zM271.5,448.6h1v1h-1zM272.9,461.1h1v1h-1zM269.2,447.7h1v1h-1zM274.2,452.0h1v1h-1zM272.4,459.3h1v1h-1zM273.8,460.9h1v1h-1zM271.0,442.7h1v1h-1zM270.9,455.8h1v1h-1zM271.1,460.3h1v1h-1zM271.7,465.9h1v1h-1zM270.4,458.4h1v1h-1zM271.3,471.9h1v1h-1zM269.4,452.8h1v1h-1zM271.2,462.7h1v1h-1zM272.5,454.7h1v1h-1zM267.7,447.4h1v1h-1zM271.8,455.2h1v1h-1zM278.3,451.7h1v1h-1zM273.9,461.0h1v1h-1zM269.5,451.0h1v1h-1zM271.3,467.6h1v1h-1zM275.8,448.1h1v1h-1zM268.4,467.2h1v1h-1zM276.1,444.2h1v1h-1zM277.8,444.4h1v1h-1zM275.0,451.7h1v1h-1zM271.4,453.1h1v1h-1zM274.8,457.6h1v1h-1zM275.2,450.9h1v1h-1zM269.7,474.1h1v1h-1zM278.2,448.0h1v1h-1zM268.7,470.8h1v1h-1zM272.9,455.9h1v1h-1zM275.3,455.1h1v1h-1zM272.9,469.3h1v1h-1zM266.2,467.8h1v1h-1zM269.2,460.4h1v1h-1zM271.9,458.5h1v1h-1zM264.5,470.2h1v1h-1zM280.3,444.0h1v1h-1zM275.5,456.8h1v1h-1zM273.5,451.4h1v1h-1zM274.6,455.4h1v1h-1zM277.3,456.1h1v1h-1zM270.1,438.7h1v1h-1zM277.5,453.5h1v1h-1zM273.1,451.1h1v1h-1zM280.9,455.4h1v1h-1zM272.8,453.1h1v1h-1zM274.4,463.1h1v1h-1zM274.2,460.5h1v1h-1zM273.4,457.4h1v1h-1zM268.3,461.8h1v1h-1zM272.7,455.3h1v1h-1zM271.7,459.1h1v1h-1zM270.6,456.9h1v1h-1zM269.5,451.2h1v1h-1zM270.7,455.2h1v1h-1zM268.9,443.4h1v1h-1zM278.0,456.6h1v1h-1zM271.2,461.4h1v1h-1zM268.8,449.2h1v1h-1zM273.6,458.7h1v1h-1zM270.2,458.7h1v1h-1zM262.2,467.2h1v1h-1zM276.0,453.0h1v1h-1zM273.1,459.3h1v1h-1zM265.5,455.3h1v1h-1zM268.2,462.7h1v1h-1zM270.4,445.5h1v1h-1zM275.5,451.2h1v1h-1zM275.8,465.9h1v1h-1zM266.9,453.7h1v1h-1zM276.1,461.5h1v1h-1zM273.8,456.9h1v1h-1zM274.8,457.8h1v1h-1zM268.2,466.2h1v1h-1zM275.8,449.3h1v1h-1zM269.4,456.2h1v1h-1zM270.5,462.0h1v1h-1zM275.1,453.1h1v1h-1zM271.5,445.0h1v1h-1zM271.1,450.8h1v1h-1zM270.6,460.6h1v1h-1zM269.6,455.8h1v1h-1zM268.6,458.8h1v1h-1zM271.5,464.1h1v1h-1zM265.9,470.0h1v1h-1zM274.7,449.8h1v1h-1zM270.2,460.1h1v1h-1zM274.3,452.8h1v1h-1zM272.0,456.7h1v1h-1zM268.8,462.2h1v1h-1zM274.4,454.1h1v1h-1zM268.6,460.5h1v1h-1zM272.1,458.6h1v1h-1zM271.1,463.4h1v1h-1zM276.2,457.4h1v1h-1zM273.3,463.5h1v1h-1zM272.4,455.0h1v1h-1zM267.7,461.8h1v1h-1zM276.6,444.6h1v1h-1zM275.1,444.2h1v1h-1zM273.5,467.4h1v1h-1zM272.6,447.8h1v1h-1zM273.5,453.9h1v1h-1zM275.2,449.3h1v1h-1zM266.6,459.6h1v1h-1zM274.5,460.7h1v1h-1zM273.4,455.1h1v1h-1zM274.8,452.0h1v1h-1zM271.0,459.4h1v1h-1zM276.2,448.3h1v1h-1zM274.2,449.7h1v1h-1zM270.0,460.1h1v1h-1zM268.0,455.5h1v1h-1zM268.5,456.7h1v1h-1zM269.4,475.5h1v1h-1zM274.5,454.1h1v1h-1zM268.0,445.2h1v1h-1zM274.0,450.0h1v1h-1zM276.0,449.2h1v1h-1zM268.1,456.9h1v1h-1z" fill="#111"/>
<path d="M265.9,449.2h1v1h-1zM279.2,450.7h1v1h-1zM279.1,450.5h1v1h-1zM273.6,453.0h1v1h-1zM271.7,453.0h1v1h-1zM283.9,452.6h1v1h-1zM282.4,463.1h1v1h-1zM274.3,456.0h1v1h-1zM272.1,459.4h1v1h-1zM277.8,455.8h1v1h-1zM270.1,451.1h1v1h-1zM284.9,466.7h1v1h-1zM267.6,455.0h1v1h-1zM274.7,462.1h1v1h-1zM274.3,459.4h1v1h-1zM277.1,465.6h1v1h-1zM267.2,469.7h1v1h-1zM277.6,460.4h1v1h-1zM265.9,459.2h1v1h-1zM273.4,463.1h1v1h-1zM279.0,461.0h1v1h-1zM267.2,471.0h1v1h-1zM275.3,464.7h1v1h-1zM274.9,451.2h1v1h-1zM290.6,455.5h1v1h-1zM279.5,451.1h1v1h-1zM273.6,466.9h1v1h-1zM277.6,470.4h1v1h-1zM282.1,444.9h1v1h-1zM265.7,470.9h1v1h-1zM278.5,453.3h1v1h-1zM273.2,453.2h1v1h-1zM285.7,450.9h1v1h-1zM266.7,468.3h1v1h-1zM274.4,460.3h1v1h-1zM272.6,457.8h1v1h-1zM263.7,466.6h1v1h-1zM270.8,455.7h1v1h-1zM276.8,466.8h1v1h-1zM262.0,461.7h1v1h-1zM278.2,464.0h1v1h-1zM269.5,462.2h1v1h-1zM277.3,463.7h1v1h-1zM271.2,457.2h1v1h-1zM271.9,467.9h1v1h-1zM281.4,450.5h1v1h-1zM274.1,459.3h1v1h-1zM269.5,458.6h1v1h-1zM280.1,461.2h1v1h-1zM270.8,453.5h1v1h-1zM274.2,445.3h1v1h-1zM276.8,457.3h1v1h-1zM266.9,458.8h1v1h-1zM270.9,456.7h1v1h-1zM269.7,470.7h1v1h-1zM269.1,466.0h1v1h-1zM276.1,468.5h1v1h-1zM274.6,457.3h1v1h-1zM275.3,441.4h1v1h-1zM289.3,448.9h1v1h-1zM273.0,448.7h1v1h-1zM274.1,470.7h1v1h-1zM270.4,462.8h1v1h-1zM281.1,462.1h1v1h-1zM272.5,443.9h1v1h-1zM277.3,460.7h1v1h-1zM272.9,454.5h1v1h-1zM285.4,439.4h1v1h-1zM271.8,453.5h1v1h-1zM265.5,455.7h1v1h-1zM270.1,469.5h1v1h-1zM264.4,450.6h1v1h-1zM276.5,443.7h1v1h-1zM262.9,457.4h1v1h-1zM267.7,452.4h1v1h-1zM273.9,461.3h1v1h-1zM271.0,456.6h1v1h-1zM279.2,454.0h1v1h-1zM279.3,450.4h1v1h-1zM277.8,466.2h1v1h-1zM273.0,455.3h1v1h-1zM273.9,461.4h1v1h-1zM267.7,460.7h1v1h-1zM271.4,470.4h1v1h-1zM264.6,467.1h1v1h-1zM273.0,451.9h1v1h-1zM275.7,454.8h1v1h-1zM275.1,459.0h1v1h-1zM282.1,450.6h1v1h-1zM284.9,430.7h1v1h-1zM285.8,462.2h1v1h-1zM284.2,454.6h1v1h-1zM276.6,448.1h1v1h-1zM282.9,444.1h1v1h-1zM270.1,459.3h1v1h-1zM276.3,459.3h1v1h-1zM267.9,457.5h1v1h-1zM277.8,465.5h1v1h-1zM279.5,458.5h1v1h-1zM273.3,453.5h1v1h-1zM271.8,457.8h1v1h-1zM278.1,451.6h1v1h-1zM287.2,443.5h1v1h-1zM279.8,453.3h1v1h-1zM274.0,454.5h1v1h-1zM284.1,450.6h1v1h-1zM278.2,456.6h1v1h-1zM279.4,459.9h1v1h-1zM284.8,446.8h1v1h-1zM270.0,473.1h1v1h-1zM282.5,454.3h1v1h-1zM273.2,460.0h1v1h-1zM282.7,447.4h1v1h-1zM283.6,452.8h1v1h-1zM272.7,454.9h1v1h-1zM262.4,465.4h1v1h-1zM267.0,456.2h1v1h-1zM269.5,461.5h1v1h-1zM279.2,455.6h1v1h-1zM276.0,460.0h1v1h-1zM284.5,457.5h1v1h-1zM284.3,452.4h1v1h-1zM277.0,451.0h1v1h-1zM278.4,448.6h1v1h-1zM277.7,450.8h1v1h-1zM272.8,468.0h1v1h-1zM275.8,463.2h1v1h-1zM273.5,442.7h1v1h-1zM283.7,451.8h1v1h-1zM271.0,466.6h1v1h-1zM268.1,454.2h1v1h-1zM281.7,448.5h1v1h-1zM281.6,451.7h1v1h-1zM273.6,458.3h1v1h-1zM271.9,467.2h1v1h-1zM281.4,454.8h1v1h-1zM278.5,459.9h1v1h-1zM285.0,439.8h1v1h-1zM281.0,461.8h1v1h-1zM273.0,458.1h1v1h-1zM272.8,468.1h1v1h-1zM268.1,465.2h1v1h-1zM282.6,458.4h1v1h-1zM272.0,454.8h1v1h-1zM262.2,454.6h1v1h-1zM281.4,446.6h1v1h-1zM265.1,459.6h1v1h-1zM266.0,464.9h1v1h-1zM269.7,467.2h1v1h-1zM274.2,446.0h1v1h-1zM270.3,454.0h1v1h-1zM269.8,469.5h1v1h-1zM268.9,462.8h1v1h-1zM271.4,463.5h1v1h-1zM266.3,448.4h1v1h-1zM277.9,467.4h1v1h-1zM266.6,458.4h1v1h-1zM271.9,451.0h1v1h-1zM280.7,455.0h1v1h-1zM266.6,459.2h1v1h-1zM282.9,447.9h1v1h-1zM271.8,451.9h1v1h-1zM275.9,452.3h1v1h-1zM280.2,448.1h1v1h-1zM266.2,464.8h1v1h-1zM276.6,458.4h1v1h-1zM271.4,455.2h1v1h-1zM270.1,457.9h1v1h-1zM272.2,462.9h1v1h-1zM275.0,461.6h1v1h-1zM284.7,450.6h1v1h-1zM273.2,461.0h1v1h-1zM287.5,448.6h1v1h-1zM285.0,462.2h1v1h-1zM269.0,463.0h1v1h-1zM282.9,454.1h1v1h-1zM275.9,474.3h1v1h-1zM277.0,473.6h1v1h-1zM269.5,472.9h1v1h-1zM271.9,438.9h1v1h-1zM269.9,455.6h1v1h-1zM274.6,463.4h1v1h-1zM279.0,459.6h1v1h-1zM270.4,473.6h1v1h-1zM282.1,454.3h1v1h-1zM271.5,458.3h1v1h-1zM273.6,452.2h1v1h-1zM274.8,451.8h1v1h-1zM278.8,450.2h1v1h-1zM277.8,458.5h1v1h-1zM275.9,461.0h1v1h-1zM270.8,465.0h1v1h-1zM275.0,453.6h1v1h-1zM285.3,461.4h1v1h-1zM273.3,462.5h1v1h-1zM279.0,468.1h1v1h-1zM281.0,453.1h1v1h-1zM273.4,448.4h1v1h-1zM276.5,463.5h1v1h-1zM272.6,463.6h1v1h-1zM275.7,453.1h1v1h-1zM267.6,469.5h1v1h-1zM290.1,454.8h1v1h-1zM268.5,451.7h1v1h-1zM276.4,461.8h1v1h-1zM284.0,433.5h1v1h-1zM286.0,453.5h1v1h-1zM275.7,459.9h1v1h-1zM272.8,455.8h1v1h-1zM281.2,440.3h1v1h-1zM274.2,462.0h1v1h-1zM265.1,460.3h1v1h-1zM284.1,456.1h1v1h-1zM279.2,461.0h1v1h-1zM276.3,459.5h1v1h-1zM270.1,457.7h1v1h-1zM286.0,442.2h1v1h-1zM273.9,447.3h1v1h-1zM271.7,452.3h1v1h-1zM267.6,462.4h1v1h-1zM269.3,464.0h1v1h-1zM285.8,431.5h1v1h-1zM273.9,440.6h1v1h-1zM274.2,460.5h1v1h-1zM276.2,466.4h1v1h-1zM275.9,442.7h1v1h-1zM284.0,445.4h1v1h-1zM274.4,460.0h1v1h-1zM269.7,460.3h1v1h-1zM283.9,439.4h1v1h-1zM265.0,458.0h1v1h-1zM273.9,447.2h1v1h-1zM277.3,445.3h1v1h-1zM278.4,455.1h1v1h-1zM275.9,445.8h1v1h-1zM273.6,461.6h1v1h-1zM264.4,453.3h1v1h-1zM280.8,470.8h1v1h-1zM278.9,454.8h1v1h-1zM268.5,456.7h1v1h-1zM273.4,461.4h1v1h-1zM282.9,435.6h1v1h-1zM267.9,460.3h1v1h-1zM280.9,457.8h1v1h-1zM283.1,458.3h1v1h-1zM290.3,456.7h1v1h-1zM277.7,468.4h1v1h-1zM272.3,453.9h1v1h-1zM268.9,461.9h1v1h-1zM277.6,463.6h1v1h-1zM283.7,458.3h1v1h-1zM282.4,451.7h1v1h-1zM269.2,465.7h1v1h-1zM281.1,465.3h1v1h-1zM274.0,453.7h1v1h-1zM272.8,461.0h1v1h-1zM274.7,455.7h1v1h-1zM276.5,454.0h1v1h-1zM277.0,451.3h1v1h-1zM265.7,458.7h1v1h-1zM286.3,445.3h1v1h-1zM280.5,465.7h1v1h-1zM271.7,460.7h1v1h-1zM284.2,454.5h1v1h-1zM263.0,457.7h1v1h-1zM270.5,460.0h1v1h-1zM276.7,452.9h1v1h-1zM273.1,451.2h1v1h-1zM278.4,457.2h1v1h-1zM277.1,452.0h1v1h-1zM278.0,453.3h1v1h-1zM276.8,455.0h1v1h-1zM271.0,449.9h1v1h-1zM263.8,450.9h1v1h-1zM265.1,454.8h1v1h-1zM273.8,448.0h1v1h-1zM277.5,473.1h1v1h-1zM282.4,444.1h1v1h-1zM274.4,452.2h1v1h-1zM279.6,443.0h1v1h-1zM276.9,458.0h1v1h-1zM278.4,459.1h1v1h-1zM275.9,442.0h1v1h-1zM273.0,450.1h1v1h-1zM278.2,453.7h1v1h-1zM275.9,465.8h1v1h-1zM274.3,471.3h1v1h-1zM280.0,442.5h1v1h-1zM271.5,468.7h1v1h-1zM272.0,468.3h1v1h-1zM271.6,457.6h1v1h-1zM281.2,441.2h1v1h-1zM275.5,453.1h1v1h-1zM276.0,470.8h1v1h-1zM277.9,444.5h1v1h-1zM280.8,450.7h1v1h-1zM276.0,466.2h1v1h-1zM273.1,465.8h1v1h-1zM276.1,449.1h1v1h-1zM273.1,446.6h1v1h-1zM282.1,455.2h1v1h-1zM280.8,445.2h1v1h-1zM280.1,444.9h1v1h-1zM276.7,456.2h1v1h-1zM271.4,461.2h1v1h-1zM275.2,449.7h1v1h-1zM270.5,448.2h1v1h-1zM283.2,454.6h1v1h-1zM272.8,463.7h1v1h-1zM269.8,449.7h1v1h-1zM277.1,469.2h1v1h-1zM276.8,457.5h1v1h-1zM285.5,439.5h1v1h-1zM293.4,439.6h1v1h-1zM274.6,446.1h1v1h-1zM267.7,458.3h1v1h-1zM289.7,442.6h1v1h-1zM271.3,460.9h1v1h-1zM268.9,457.6h1v1h-1zM279.9,436.7h1v1h-1zM273.2,455.4h1v1h-1zM271.9,457.4h1v1h-1zM264.2,458.2h1v1h-1zM271.9,449.9h1v1h-1zM282.6,470.2h1v1h-1zM279.8,447.7h1v1h-1zM283.5,457.3h1v1h-1zM270.1,464.2h1v1h-1zM271.5,463.3h1v1h-1zM280.5,464.1h1v1h-1zM268.7,458.8h1v1h-1zM275.0,446.8h1v1h-1zM277.5,461.6h1v1h-1zM266.7,456.2h1v1h-1zM268.4,449.4h1v1h-1zM268.6,471.3h1v1h-1zM271.0,455.5h1v1h-1zM280.9,462.9h1v1h-1zM283.4,435.9h1v1h-1zM279.5,440.4h1v1h-1zM271.2,455.3h1v1h-1zM271.6,474.9h1v1h-1zM274.0,467.2h1v1h-1zM273.9,457.0h1v1h-1zM278.1,459.3h1v1h-1zM278.0,441.2h1v1h-1zM278.0,458.3h1v1h-1zM278.6,454.9h1v1h-1zM277.5,445.0h1v1h-1zM281.8,443.8h1v1h-1zM283.4,461.7h1v1h-1zM274.6,454.7h1v1h-1zM279.7,452.4h1v1h-1zM267.9,462.5h1v1h-1zM267.7,456.5h1v1h-1zM285.8,458.9h1v1h-1zM272.3,457.6h1v1h-1zM271.1,458.7h1v1h-1zM266.3,466.6h1v1h-1zM275.1,451.9h1v1h-1zM272.3,454.2h1v1h-1zM271.5,454.5h1v1h-1zM282.9,459.1h1v1h-1zM277.5,458.9h1v1h-1zM268.2,439.9h1v1h-1zM284.1,458.9h1v1h-1zM276.3,458.7h1v1h-1zM276.2,456.6h1v1h-1zM273.4,439.1h1v1h-1zM278.4,455.9h1v1h-1zM280.9,456.9h1v1h-1zM273.3,462.8h1v1h-1zM276.1,452.8h1v1h-1zM272.7,454.5h1v1h-1zM273.2,454.1h1v1h-1zM274.3,466.7h1v1h-1zM263.2,435.3h1v1h-1zM272.2,457.0h1v1h-1zM270.5,447.6h1v1h-1zM269.9,455.0h1v1h-1zM275.9,453.8h1v1h-1zM267.8,457.1h1v1h-1zM284.1,445.6h1v1h-1zM275.4,465.2h1v1h-1zM270.2,454.4h1v1h-1zM292.4,459.5h1v1h-1zM271.8,459.8h1v1h-1zM275.6,458.0h1v1h-1zM277.8,453.2h1v1h-1zM261.7,455.0h1v1h-1zM275.9,445.2h1v1h-1zM273.1,470.4h1v1h-1zM276.4,450.9h1v1h-1zM275.8,465.4h1v1h-1zM264.7,451.2h1v1h-1zM271.0,455.1h1v1h-1zM274.5,452.4h1v1h-1zM275.6,457.4h1v1h-1zM268.0,454.9h1v1h-1zM267.6,462.7h1v1h-1zM276.6,461.8h1v1h-1zM269.7,454.9h1v1h-1zM261.7,463.1h1v1h-1zM265.3,464.3h1v1h-1zM281.5,457.8h1v1h-1zM278.8,457.2h1v1h-1zM277.2,463.8h1v1h-1zM282.6,470.4h1v1h-1zM273.4,464.7h1v1h-1zM280.2,458.2h1v1h-1zM276.6,445.7h1v1h-1zM281.5,446.7h1v1h-1zM271.1,451.6h1v1h-1zM278.4,447.4h1v1h-1zM277.7,460.5h1v1h-1zM275.6,453.9h1v1h-1zM278.6,466.3h1v1h-1zM272.2,449.5h1v1h-1zM271.4,451.3h1v1h-1zM273.6,456.4h1v1h-1zM270.1,455.6h1v1h-1zM263.3,445.9h1v1h-1zM268.9,461.6h1v1h-1zM280.1,439.6h1v1h-1zM276.3,469.0h1v1h-1zM273.3,465.4h1v1h-1zM276.9,448.5h1v1h-1zM280.9,449.2h1v1h-1zM277.1,452.7h1v1h-1zM273.7,458.9h1v1h-1zM282.9,439.4h1v1h-1zM268.3,460.9h1v1h-1zM280.8,452.8h1v1h-1zM273.9,461.9h1v1h-1zM284.4,445.2h1v1h-1zM265.4,459.0h1v1h-1zM279.6,444.0h1v1h-1zM281.7,461.8h1v1h-1zM279.7,447.8h1v1h-1zM267.3,465.9h1v1h-1zM276.6,462.0h1v1h-1zM266.9,436.0h1v1h-1zM281.7,462.3h1v1h-1zM273.3,457.7h1v1h-1zM277.7,462.0h1v1h-1zM273.9,453.2h1v1h-1zM269.2,468.2h1v1h-1zM275.6,428.4h1v1h-1zM277.1,451.3h1v1h-1zM267.4,456.2h1v1h-1zM267.3,456.7h1v1h-1zM271.7,462.7h1v1h-1zM268.9,444.6h1v1h-1zM271.4,447.2h1v1h-1zM279.4,453.3h1v1h-1zM265.0,454.2h1v1h-1zM274.8,456.7h1v1h-1zM264.0,460.9h1v1h-1zM276.8,464.4h1v1h-1zM281.6,453.0h1v1h-1zM267.2,457.4h1v1h-1zM278.9,447.6h1v1h-1zM282.5,445.6h1v1h-1zM268.3,466.9h1v1h-1zM274.4,459.9h1v1h-1zM273.2,458.1h1v1h-1zM271.5,474.3h1v1h-1zM278.9,454.2h1v1h-1zM277.8,462.7h1v1h-1zM271.8,459.9h1v1h-1zM276.2,451.7h1v1h-1zM270.4,457.4h1v1h-1zM273.2,454.4h1v1h-1zM263.4,462.9h1v1h-1zM278.9,455.8h1v1h-1zM285.3,459.5h1v1h-1zM272.9,452.3h1v1h-1zM278.0,452.5h1v1h-1zM265.3,462.4h1v1h-1zM273.2,455.9h1v1h-1zM278.7,457.0h1v1h-1zM287.1,445.4h1v1h-1zM274.4,459.8h1v1h-1zM272.4,453.9h1v1h-1z" fill="#555"/>
<path d="M309.4,448.8h1v1h-1zM295.5,446.4h1v1h-1zM295.4,445.1h1v1h-1zM280.4,468.8h1v1h-1zM307.4,461.0h1v1h-1zM264.9,467.8h1v1h-1zM294.4,451.4h1v1h-1zM288.5,449.8h1v1h-1zM291.1,459.3h1v1h-1zM293.2,466.1h1v1h-1zM285.6,442.9h1v1h-1zM280.3,450.3h1v1h-1zM288.3,456.6h1v1h-1zM291.6,470.6h1v1h-1zM292.3,451.7h1v1h-1zM288.9,453.2h1v1h-1zM289.6,464.5h1v1h-1zM280.7,465.4h1v1h-1zM309.8,471.7h1v1h-1zM308.2,460.7h1v1h-1zM278.5,475.5h1v1h-1zM291.5,461.8h1v1h-1zM288.4,452.7h1v1h-1zM298.2,449.2h1v1h-1zM278.3,464.3h1v1h-1zM288.3,453.5h1v1h-1zM296.9,471.0h1v1h-1zM289.2,458.9h1v1h-1zM297.6,467.2h1v1h-1zM302.3,465.2h1v1h-1zM285.4,464.1h1v1h-1zM292.1,446.9h1v1h-1zM304.3,464.4h1v1h-1zM305.6,459.5h1v1h-1zM299.2,459.4h1v1h-1zM293.6,467.0h1v1h-1zM292.6,464.7h1v1h-1zM291.6,469.4h1v1h-1zM298.5,447.3h1v1h-1zM308.5,463.4h1v1h-1zM286.9,455.2h1v1h-1zM311.8,460.7h1v1h-1zM297.1,464.6h1v1h-1zM286.0,473.5h1v1h-1zM312.9,454.0h1v1h-1zM303.3,447.5h1v1h-1zM288.7,460.5h1v1h-1zM292.5,464.4h1v1h-1zM296.0,462.9h1v1h-1zM290.6,462.3h1v1h-1zM286.5,475.1h1v1h-1zM292.6,469.5h1v1h-1zM293.0,458.9h1v1h-1zM290.2,450.1h1v1h-1zM312.7,463.2h1v1h-1zM293.3,456.4h1v1h-1zM304.7,457.5h1v1h-1zM287.4,455.9h1v1h-1zM307.3,462.4h1v1h-1zM290.6,455.1h1v1h-1zM304.8,462.2h1v1h-1zM288.7,466.9h1v1h-1zM300.7,452.4h1v1h-1zM303.4,468.4h1v1h-1zM289.6,449.8h1v1h-1zM302.9,457.4h1v1h-1zM290.0,457.8h1v1h-1zM289.3,466.4h1v1h-1zM281.2,464.1h1v1h-1zM303.5,468.1h1v1h-1zM299.2,462.0h1v1h-1zM290.1,459.1h1v1h-1zM283.4,472.8h1v1h-1zM290.9,452.3h1v1h-1zM300.3,471.6h1v1h-1zM294.8,457.6h1v1h-1zM281.0,464.9h1v1h-1zM289.6,455.0h1v1h-1zM298.0,450.1h1v1h-1zM299.3,441.4h1v1h-1zM285.9,449.1h1v1h-1zM289.7,466.1h1v1h-1zM279.2,470.4h1v1h-1zM285.3,456.3h1v1h-1zM301.9,454.5h1v1h-1zM306.4,458.5h1v1h-1zM291.1,452.7h1v1h-1zM303.4,459.5h1v1h-1zM287.3,452.8h1v1h-1zM285.8,459.3h1v1h-1zM285.0,466.1h1v1h-1zM291.7,455.3h1v1h-1zM296.6,470.9h1v1h-1zM271.6,462.7h1v1h-1zM302.7,461.1h1v1h-1zM300.2,448.3h1v1h-1zM284.7,467.7h1v1h-1zM291.2,460.5h1v1h-1zM298.3,462.8h1v1h-1zM296.5,456.2h1v1h-1zM289.2,470.0h1v1h-1zM287.3,449.1h1v1h-1zM288.7,466.8h1v1h-1zM309.7,461.2h1v1h-1zM286.0,464.6h1v1h-1zM295.1,469.0h1v1h-1zM297.2,465.7h1v1h-1zM297.1,463.2h1v1h-1zM283.2,458.8h1v1h-1zM307.8,470.1h1v1h-1zM301.6,463.0h1v1h-1zM291.1,462.7h1v1h-1zM288.9,468.3h1v1h-1zM289.1,454.3h1v1h-1zM276.4,471.8h1v1h-1zM284.8,453.5h1v1h-1zM296.1,473.6h1v1h-1zM298.7,457.5h1v1h-1zM297.7,453.8h1v1h-1zM289.7,460.2h1v1h-1zM292.3,465.9h1v1h-1zM297.5,474.3h1v1h-1zM300.3,457.9h1v1h-1zM294.7,453.6h1v1h-1zM286.3,457.4h1v1h-1zM302.1,454.8h1v1h-1zM277.0,452.4h1v1h-1zM280.5,458.6h1v1h-1zM289.3,451.2h1v1h-1zM284.5,456.9h1v1h-1zM296.1,464.7h1v1h-1zM305.1,458.1h1v1h-1zM298.4,460.6h1v1h-1zM281.6,455.2h1v1h-1zM313.6,458.8h1v1h-1zM308.3,466.3h1v1h-1zM308.5,458.6h1v1h-1zM301.4,457.7h1v1h-1zM281.5,451.2h1v1h-1zM296.6,447.8h1v1h-1zM295.9,453.4h1v1h-1zM295.8,449.6h1v1h-1zM300.6,458.3h1v1h-1zM277.5,449.1h1v1h-1zM293.0,447.7h1v1h-1zM295.5,463.7h1v1h-1zM286.0,470.6h1v1h-1zM306.4,462.4h1v1h-1zM296.8,463.6h1v1h-1zM289.8,469.9h1v1h-1zM287.2,441.0h1v1h-1zM292.6,463.4h1v1h-1zM300.4,451.7h1v1h-1zM305.8,453.8h1v1h-1zM298.5,465.5h1v1h-1zM294.1,468.6h1v1h-1zM287.6,475.5h1v1h-1zM297.1,456.8h1v1h-1zM317.6,460.0h1v1h-1zM276.7,470.7h1v1h-1zM307.4,455.7h1v1h-1zM282.8,468.5h1v1h-1zM293.0,452.8h1v1h-1zM287.7,460.5h1v1h-1zM301.9,471.9h1v1h-1zM286.4,471.6h1v1h-1zM277.8,465.4h1v1h-1zM291.1,463.3h1v1h-1zM288.2,454.6h1v1h-1zM295.1,468.6h1v1h-1zM271.0,460.4h1v1h-1zM288.5,451.9h1v1h-1zM279.4,463.9h1v1h-1zM297.8,464.9h1v1h-1zM273.2,448.5h1v1h-1zM286.5,456.7h1v1h-1zM309.5,457.1h1v1h-1zM293.6,467.6h1v1h-1zM308.6,462.8h1v1h-1zM295.7,474.7h1v1h-1zM288.5,446.4h1v1h-1zM285.1,457.6h1v1h-1zM305.1,462.4h1v1h-1zM304.1,460.8h1v1h-1zM292.8,455.7h1v1h-1zM280.5,463.9h1v1h-1zM295.9,464.4h1v1h-1zM287.3,456.8h1v1h-1zM296.1,464.6h1v1h-1zM311.7,453.4h1v1h-1zM302.0,466.7h1v1h-1zM289.9,461.1h1v1h-1zM291.9,471.6h1v1h-1zM317.0,462.5h1v1h-1zM290.0,467.2h1v1h-1zM297.2,458.6h1v1h-1zM299.7,466.6h1v1h-1zM288.6,466.5h1v1h-1zM270.7,450.3h1v1h-1zM289.4,461.2h1v1h-1zM278.3,471.2h1v1h-1zM288.8,461.2h1v1h-1zM292.0,465.7h1v1h-1zM286.8,465.6h1v1h-1zM284.4,448.8h1v1h-1zM297.4,461.2h1v1h-1zM300.9,445.3h1v1h-1zM293.5,455.1h1v1h-1zM290.6,457.0h1v1h-1zM288.8,455.0h1v1h-1zM302.3,447.0h1v1h-1zM276.3,462.6h1v1h-1zM311.9,454.2h1v1h-1zM283.7,451.2h1v1h-1zM282.6,469.5h1v1h-1zM299.0,466.8h1v1h-1zM295.8,461.8h1v1h-1zM286.8,452.7h1v1h-1zM288.9,469.6h1v1h-1zM285.6,460.3h1v1h-1zM308.8,459.5h1v1h-1zM298.6,455.8h1v1h-1zM310.6,450.7h1v1h-1zM297.8,458.2h1v1h-1zM294.3,462.8h1v1h-1zM305.1,466.7h1v1h-1zM302.6,462.8h1v1h-1zM282.1,470.2h1v1h-1zM307.3,463.7h1v1h-1zM300.1,458.3h1v1h-1zM278.5,467.5h1v1h-1zM285.4,474.6h1v1h-1zM299.1,459.9h1v1h-1zM286.5,460.8h1v1h-1zM282.7,457.2h1v1h-1zM307.9,457.8h1v1h-1zM310.2,459.3h1v1h-1zM296.4,453.0h1v1h-1zM289.5,456.6h1v1h-1zM279.0,474.7h1v1h-1zM298.1,459.4h1v1h-1zM281.8,460.3h1v1h-1zM282.2,452.6h1v1h-1zM275.6,464.3h1v1h-1zM287.1,437.9h1v1h-1zM278.7,459.0h1v1h-1zM293.0,454.3h1v1h-1zM309.6,464.1h1v1h-1zM286.3,447.5h1v1h-1zM294.1,454.9h1v1h-1zM302.3,452.1h1v1h-1zM304.0,456.5h1v1h-1zM294.3,458.0h1v1h-1zM298.4,468.8h1v1h-1zM287.1,453.1h1v1h-1zM310.7,467.3h1v1h-1zM310.9,467.3h1v1h-1zM293.7,472.4h1v1h-1zM285.9,456.8h1v1h-1zM288.5,465.2h1v1h-1zM284.1,458.7h1v1h-1zM284.2,458.2h1v1h-1zM303.2,468.5h1v1h-1zM285.5,463.5h1v1h-1zM287.7,443.1h1v1h-1zM280.8,469.5h1v1h-1zM291.2,462.1h1v1h-1zM304.5,460.2h1v1h-1zM286.2,455.4h1v1h-1zM283.2,464.2h1v1h-1zM287.8,463.9h1v1h-1zM277.8,456.7h1v1h-1zM312.3,462.8h1v1h-1zM291.3,469.1h1v1h-1zM295.0,471.7h1v1h-1zM281.0,465.9h1v1h-1zM282.0,465.2h1v1h-1zM316.2,471.7h1v1h-1zM284.0,463.2h1v1h-1zM296.8,454.5h1v1h-1zM294.7,451.9h1v1h-1zM301.7,467.0h1v1h-1zM290.7,465.3h1v1h-1zM315.5,458.8h1v1h-1zM274.1,462.6h1v1h-1zM287.9,454.0h1v1h-1zM301.1,467.7h1v1h-1zM298.1,472.5h1v1h-1zM286.2,456.8h1v1h-1zM296.4,439.3h1v1h-1zM265.7,462.6h1v1h-1zM290.2,460.5h1v1h-1zM282.9,461.8h1v1h-1zM302.6,455.2h1v1h-1zM297.8,458.8h1v1h-1zM290.7,460.9h1v1h-1zM306.9,464.0h1v1h-1zM298.9,461.2h1v1h-1zM271.4,467.2h1v1h-1zM292.1,460.8h1v1h-1zM287.3,448.2h1v1h-1zM306.8,474.0h1v1h-1zM307.6,445.9h1v1h-1zM297.6,451.0h1v1h-1zM290.4,456.1h1v1h-1zM286.2,454.1h1v1h-1zM287.6,466.0h1v1h-1zM307.9,467.1h1v1h-1zM292.1,458.9h1v1h-1zM289.9,459.9h1v1h-1zM286.2,458.6h1v1h-1zM300.5,458.3h1v1h-1zM284.3,459.1h1v1h-1zM293.1,459.4h1v1h-1zM289.7,465.4h1v1h-1zM291.8,452.3h1v1h-1zM297.8,454.6h1v1h-1zM299.7,466.3h1v1h-1zM296.9,462.4h1v1h-1zM279.1,458.5h1v1h-1zM293.4,464.9h1v1h-1zM281.2,458.8h1v1h-1zM277.2,461.4h1v1h-1zM293.0,461.0h1v1h-1zM308.3,465.6h1v1h-1zM290.3,455.6h1v1h-1zM287.8,466.0h1v1h-1zM301.1,456.2h1v1h-1zM291.1,456.7h1v1h-1zM298.9,461.5h1v1h-1zM285.1,453.2h1v1h-1zM304.9,449.3h1v1h-1zM274.5,436.5h1v1h-1zM312.1,455.9h1v1h-1zM300.6,464.3h1v1h-1zM300.4,468.7h1v1h-1zM287.6,459.9h1v1h-1zM301.8,464.3h1v1h-1zM284.8,454.2h1v1h-1zM278.0,462.0h1v1h-1zM287.0,448.1h1v1h-1zM286.7,462.5h1v1h-1zM294.0,458.3h1v1h-1zM293.8,465.0h1v1h-1zM280.4,453.8h1v1h-1zM301.7,465.6h1v1h-1zM278.4,454.5h1v1h-1zM306.4,465.8h1v1h-1zM290.8,467.8h1v1h-1zM305.6,470.8h1v1h-1zM278.5,450.1h1v1h-1zM287.2,459.6h1v1h-1zM288.7,461.9h1v1h-1zM306.7,468.4h1v1h-1zM301.9,460.0h1v1h-1zM308.4,463.5h1v1h-1zM294.6,459.9h1v1h-1zM292.0,466.9h1v1h-1zM314.5,458.6h1v1h-1zM280.7,467.8h1v1h-1zM294.6,452.8h1v1h-1zM301.7,460.1h1v1h-1zM282.9,440.7h1v1h-1zM282.4,462.9h1v1h-1zM282.0,467.4h1v1h-1zM313.9,462.5h1v1h-1zM294.4,459.4h1v1h-1zM300.7,460.3h1v1h-1zM302.4,470.9h1v1h-1zM300.6,452.7h1v1h-1zM298.8,458.0h1v1h-1zM295.3,467.4h1v1h-1zM285.7,461.6h1v1h-1zM306.7,453.7h1v1h-1zM290.3,465.6h1v1h-1zM289.9,467.8h1v1h-1zM282.2,448.6h1v1h-1zM295.9,459.0h1v1h-1zM295.3,467.4h1v1h-1zM302.6,457.4h1v1h-1zM288.4,445.2h1v1h-1zM282.6,461.9h1v1h-1zM294.3,448.7h1v1h-1zM299.9,459.7h1v1h-1zM303.1,457.3h1v1h-1zM301.7,451.6h1v1h-1zM273.9,453.9h1v1h-1zM299.1,463.1h1v1h-1zM273.5,461.2h1v1h-1zM298.8,472.8h1v1h-1zM299.9,463.9h1v1h-1zM276.6,462.9h1v1h-1zM272.7,457.8h1v1h-1zM288.5,452.6h1v1h-1zM282.2,459.0h1v1h-1zM297.9,455.1h1v1h-1zM295.2,465.4h1v1h-1zM291.9,474.6h1v1h-1zM289.1,454.5h1v1h-1zM273.4,468.2h1v1h-1zM298.9,458.6h1v1h-1zM295.3,459.0h1v1h-1zM300.8,459.9h1v1h-1zM294.4,459.4h1v1h-1zM283.4,443.2h1v1h-1zM297.6,450.6h1v1h-1zM296.1,464.9h1v1h-1zM310.8,454.4h1v1h-1zM293.7,467.2h1v1h-1zM285.6,455.6h1v1h-1zM296.6,475.7h1v1h-1zM302.8,467.3h1v1h-1zM282.6,465.0h1v1h-1zM303.4,450.4h1v1h-1zM292.3,458.6h1v1h-1zM298.6,446.8h1v1h-1zM299.2,460.0h1v1h-1zM289.5,444.0h1v1h-1zM271.7,455.9h1v1h-1zM298.6,463.2h1v1h-1zM299.6,447.1h1v1h-1zM294.2,470.2h1v1h-1zM276.8,465.0h1v1h-1zM285.0,464.2h1v1h-1zM293.2,447.7h1v1h-1zM281.8,469.7h1v1h-1zM291.1,469.4h1v1h-1zM295.5,466.8h1v1h-1zM288.3,461.7h1v1h-1zM288.5,466.9h1v1h-1zM286.5,468.4h1v1h-1zM307.7,450.8h1v1h-1zM290.5,464.1h1v1h-1zM309.7,468.7h1v1h-1zM293.0,446.9h1v1h-1zM300.5,455.6h1v1h-1zM294.1,463.1h1v1h-1zM278.2,468.1h1v1h-1zM301.2,464.4h1v1h-1zM298.1,462.7h1v1h-1zM278.3,456.2h1v1h-1zM300.2,457.5h1v1h-1zM292.4,462.8h1v1h-1zM293.0,462.0h1v1h-1zM296.9,460.0h1v1h-1z" fill="#aaa"/>
<rect x="260.5" y="416.0" width="65.39999999999998" height="61.80000000000001" fill="none" stroke="#555" stroke-width="1.0"/>
<line x1="285.0" y1="416.0" x2="285.0" y2="477.8" stroke="#777" stroke-width="1.0"/>
<line x1="260.5" y1="456.3" x2="325.9" y2="456.3" stroke="#666" stroke-width="1.0"/>
<text x="273.4" y="427.4" font-size="9.2" font-weight="bold" text-anchor="middle" stroke="#111" stroke-width="0.2">42</text>
<text x="319.5" y="427.4" font-size="9.2" font-weight="bold" text-anchor="middle" stroke="#111" stroke-width="0.2">8</text>
<text x="318.3" y="471.9" font-size="9.2" font-weight="bold" text-anchor="middle" stroke="#111" stroke-width="0.2">16</text>
<text transform="translate(258.3,480.0) rotate(-90)" font-size="4.4" fill="#333" stroke="#333" stroke-width="0.15">10</text>
<text transform="translate(255.9,475.8) rotate(-90)" font-size="3.0" fill="#333" stroke="#333" stroke-width="0.1">0</text>
<text x="259.9" y="484.2" font-size="4.6" text-anchor="middle" fill="#333" stroke="#333" stroke-width="0.15">10</text>
<text x="263.1" y="482.2" font-size="3.2" text-anchor="middle" fill="#333" stroke="#333" stroke-width="0.1">0</text>
<text transform="translate(258.3,464.55) rotate(-90)" font-size="4.4" fill="#333" stroke="#333" stroke-width="0.15">10</text>
<text transform="translate(255.9,460.35) rotate(-90)" font-size="3.0" fill="#333" stroke="#333" stroke-width="0.1">1</text>
<text x="276.25" y="484.2" font-size="4.6" text-anchor="middle" fill="#333" stroke="#333" stroke-width="0.15">10</text>
<text x="279.45000000000005" y="482.2" font-size="3.2" text-anchor="middle" fill="#333" stroke="#333" stroke-width="0.1">1</text>
<text transform="translate(258.3,449.09999999999997) rotate(-90)" font-size="4.4" fill="#333" stroke="#333" stroke-width="0.15">10</text>
<text transform="translate(255.9,444.9) rotate(-90)" font-size="3.0" fill="#333" stroke="#333" stroke-width="0.1">2</text>
<text x="292.59999999999997" y="484.2" font-size="4.6" text-anchor="middle" fill="#333" stroke="#333" stroke-width="0.15">10</text>
<text x="295.8" y="482.2" font-size="3.2" text-anchor="middle" fill="#333" stroke="#333" stroke-width="0.1">2</text>
<text transform="translate(258.3,433.65) rotate(-90)" font-size="4.4" fill="#333" stroke="#333" stroke-width="0.15">10</text>
<text transform="translate(255.9,429.45) rotate(-90)" font-size="3.0" fill="#333" stroke="#333" stroke-width="0.1">3</text>
<text x="308.94999999999993" y="484.2" font-size="4.6" text-anchor="middle" fill="#333" stroke="#333" stroke-width="0.15">10</text>
<text x="312.15" y="482.2" font-size="3.2" text-anchor="middle" fill="#333" stroke="#333" stroke-width="0.1">3</text>
<text transform="translate(258.3,418.2) rotate(-90)" font-size="4.4" fill="#333" stroke="#333" stroke-width="0.15">10</text>
<text transform="translate(255.9,414.0) rotate(-90)" font-size="3.0" fill="#333" stroke="#333" stroke-width="0.1">4</text>
<text x="325.29999999999995" y="484.2" font-size="4.6" text-anchor="middle" fill="#333" stroke="#333" stroke-width="0.15">10</text>
<text x="328.5" y="482.2" font-size="3.2" text-anchor="middle" fill="#333" stroke="#333" stroke-width="0.1">4</text>
<path d="M358.1,461.5h1v1h-1zM369.3,455.6h1v1h-1zM366.6,461.8h1v1h-1zM359.3,447.3h1v1h-1zM364.0,456.8h1v1h-1zM360.7,467.2h1v1h-1zM359.9,464.2h1v1h-1zM364.7,461.9h1v1h-1zM374.9,446.8h1v1h-1zM369.3,458.5h1v1h-1zM362.6,457.9h1v1h-1zM364.3,461.2h1v1h-1zM359.1,471.5h1v1h-1zM360.0,461.6h1v1h-1zM357.2,464.1h1v1h-1zM366.0,466.2h1v1h-1zM369.4,456.5h1v1h-1zM372.8,457.6h1v1h-1zM372.5,467.5h1v1h-1zM361.9,455.9h1v1h-1zM367.0,467.8h1v1h-1zM366.2,466.2h1v1h-1zM367.3,464.7h1v1h-1zM371.3,457.0h1v1h-1zM356.4,462.9h1v1h-1zM359.8,456.0h1v1h-1zM363.2,465.1h1v1h-1zM354.1,456.1h1v1h-1zM368.4,454.8h1v1h-1zM362.0,469.0h1v1h-1zM370.2,460.9h1v1h-1zM367.0,445.4h1v1h-1zM367.1,462.1h1v1h-1zM356.5,464.4h1v1h-1zM366.6,459.6h1v1h-1zM368.4,464.3h1v1h-1zM364.4,459.6h1v1h-1zM357.7,469.2h1v1h-1zM361.0,463.7h1v1h-1zM372.4,462.4h1v1h-1zM357.2,462.8h1v1h-1zM360.2,453.4h1v1h-1zM359.7,465.6h1v1h-1zM365.9,459.3h1v1h-1zM365.0,454.4h1v1h-1zM359.9,461.4h1v1h-1zM368.4,457.9h1v1h-1zM363.2,463.1h1v1h-1zM372.0,451.6h1v1h-1zM367.0,461.0h1v1h-1zM363.7,462.4h1v1h-1zM353.3,464.7h1v1h-1zM362.8,454.8h1v1h-1zM368.6,458.8h1v1h-1zM362.2,465.7h1v1h-1zM359.1,458.8h1v1h-1zM368.5,464.2h1v1h-1zM375.0,454.9h1v1h-1zM356.2,455.6h1v1h-1zM357.6,463.7h1v1h-1zM362.8,457.8h1v1h-1zM358.6,459.0h1v1h-1zM362.1,468.0h1v1h-1zM367.5,467.3h1v1h-1zM368.5,463.6h1v1h-1zM370.4,461.3h1v1h-1zM372.4,464.4h1v1h-1zM373.9,458.9h1v1h-1zM362.5,464.3h1v1h-1zM362.0,457.9h1v1h-1zM366.4,454.2h1v1h-1zM363.2,468.9h1v1h-1zM364.7,465.2h1v1h-1zM367.5,461.9h1v1h-1zM364.6,464.1h1v1h-1zM358.8,465.8h1v1h-1zM358.2,458.8h1v1h-1zM360.9,454.8h1v1h-1zM353.4,466.5h1v1h-1zM366.8,463.7h1v1h-1zM376.0,458.0h1v1h-1zM368.1,455.6h1v1h-1zM367.9,453.6h1v1h-1zM374.7,452.3h1v1h-1zM361.8,465.7h1v1h-1zM352.1,472.1h1v1h-1zM358.9,463.8h1v1h-1zM369.4,460.1h1v1h-1zM369.1,456.6h1v1h-1zM367.3,448.2h1v1h-1zM372.2,454.7h1v1h-1zM359.4,462.6h1v1h-1zM373.3,454.2h1v1h-1zM363.9,459.1h1v1h-1zM359.0,455.6h1v1h-1zM367.2,463.8h1v1h-1zM360.0,463.6h1v1h-1zM366.5,462.2h1v1h-1zM363.1,461.5h1v1h-1zM365.5,454.8h1v1h-1zM363.2,465.5h1v1h-1zM361.0,469.1h1v1h-1zM362.7,455.5h1v1h-1zM362.4,454.2h1v1h-1zM367.3,451.3h1v1h-1zM364.1,459.7h1v1h-1zM362.4,463.8h1v1h-1zM365.6,457.5h1v1h-1zM368.5,457.1h1v1h-1zM368.9,466.6h1v1h-1zM366.1,465.3h1v1h-1zM356.8,466.4h1v1h-1zM355.9,462.7h1v1h-1zM367.8,445.3h1v1h-1zM359.8,458.2h1v1h-1zM358.9,462.8h1v1h-1zM367.5,453.6h1v1h-1zM360.6,452.1h1v1h-1zM360.2,451.0h1v1h-1zM355.9,466.2h1v1h-1zM368.8,455.1h1v1h-1zM365.9,456.2h1v1h-1zM369.8,468.5h1v1h-1zM360.5,459.6h1v1h-1zM372.5,466.7h1v1h-1zM363.9,464.5h1v1h-1zM355.4,462.2h1v1h-1zM362.5,460.7h1v1h-1zM365.6,452.1h1v1h-1zM358.4,474.4h1v1h-1zM354.6,464.4h1v1h-1zM368.0,462.4h1v1h-1zM364.3,452.2h1v1h-1zM361.5,453.4h1v1h-1zM374.7,459.5h1v1h-1zM368.0,460.8h1v1h-1zM361.9,468.1h1v1h-1zM368.8,462.9h1v1h-1zM367.2,463.9h1v1h-1zM362.5,463.8h1v1h-1zM364.4,459.5h1v1h-1zM367.5,471.4h1v1h-1zM353.0,472.3h1v1h-1zM361.6,468.2h1v1h-1zM358.5,461.8h1v1h-1zM369.6,458.8h1v1h-1zM365.9,453.9h1v1h-1zM357.8,472.0h1v1h-1zM364.9,460.3h1v1h-1zM356.5,457.9h1v1h-1zM358.4,462.6h1v1h-1zM363.4,457.9h1v1h-1zM360.4,462.8h1v1h-1zM370.4,451.4h1v1h-1zM356.3,469.6h1v1h-1zM356.3,461.3h1v1h-1zM364.6,470.6h1v1h-1zM352.9,449.0h1v1h-1zM363.6,466.9h1v1h-1zM364.8,456.4h1v1h-1zM365.0,449.6h1v1h-1zM368.5,467.5h1v1h-1zM362.9,465.8h1v1h-1zM358.3,470.8h1v1h-1zM360.5,457.8h1v1h-1zM359.9,452.8h1v1h-1zM367.7,470.6h1v1h-1zM356.3,462.5h1v1h-1zM366.4,457.2h1v1h-1zM355.5,465.6h1v1h-1zM369.5,459.8h1v1h-1zM358.2,461.3h1v1h-1zM353.5,464.1h1v1h-1zM370.6,464.8h1v1h-1zM363.5,463.5h1v1h-1zM361.2,462.6h1v1h-1zM360.8,462.9h1v1h-1zM361.2,463.0h1v1h-1zM367.8,459.7h1v1h-1zM357.0,466.0h1v1h-1zM362.7,458.8h1v1h-1zM367.1,455.5h1v1h-1zM369.1,462.4h1v1h-1zM360.3,458.5h1v1h-1zM363.3,456.3h1v1h-1zM369.1,447.1h1v1h-1zM364.8,458.9h1v1h-1zM358.1,466.4h1v1h-1zM361.4,464.3h1v1h-1zM361.6,460.3h1v1h-1zM366.8,465.2h1v1h-1zM369.4,459.1h1v1h-1zM372.0,456.5h1v1h-1zM356.6,453.3h1v1h-1zM356.2,458.9h1v1h-1zM354.3,465.9h1v1h-1zM364.2,460.8h1v1h-1zM365.3,460.0h1v1h-1zM362.6,459.7h1v1h-1zM364.2,454.8h1v1h-1zM370.9,467.1h1v1h-1zM364.2,473.2h1v1h-1zM358.8,467.6h1v1h-1zM355.2,467.1h1v1h-1zM360.0,467.8h1v1h-1zM364.6,465.9h1v1h-1zM367.3,462.8h1v1h-1zM362.5,470.1h1v1h-1zM365.9,463.0h1v1h-1zM371.8,457.1h1v1h-1zM373.4,463.8h1v1h-1zM364.4,453.0h1v1h-1zM370.6,457.2h1v1h-1zM364.5,461.5h1v1h-1zM369.2,462.7h1v1h-1zM354.2,460.7h1v1h-1zM365.9,461.3h1v1h-1zM368.3,462.7h1v1h-1zM372.8,454.2h1v1h-1zM371.1,460.8h1v1h-1zM365.6,464.2h1v1h-1zM362.2,465.5h1v1h-1zM362.9,465.3h1v1h-1zM359.9,468.7h1v1h-1zM355.8,460.1h1v1h-1zM363.8,462.4h1v1h-1zM359.7,460.2h1v1h-1zM365.4,466.2h1v1h-1zM371.0,456.1h1v1h-1zM363.7,459.4h1v1h-1zM355.8,461.3h1v1h-1zM370.1,451.7h1v1h-1zM379.5,461.2h1v1h-1zM373.4,458.9h1v1h-1zM351.6,467.5h1v1h-1zM372.6,455.1h1v1h-1zM370.9,462.9h1v1h-1zM368.3,463.7h1v1h-1zM367.2,463.5h1v1h-1zM370.5,461.2h1v1h-1zM367.4,462.2h1v1h-1zM364.8,456.0h1v1h-1zM354.3,458.7h1v1h-1zM357.3,455.2h1v1h-1zM367.8,458.0h1v1h-1zM368.2,457.1h1v1h-1zM366.1,459.2h1v1h-1zM365.6,471.8h1v1h-1zM372.7,465.1h1v1h-1zM365.6,470.2h1v1h-1zM368.5,464.4h1v1h-1zM357.7,459.8h1v1h-1zM365.0,459.5h1v1h-1zM361.2,451.1h1v1h-1zM360.0,461.7h1v1h-1zM365.7,454.6h1v1h-1zM363.3,471.1h1v1h-1zM364.9,450.1h1v1h-1zM363.0,461.4h1v1h-1zM370.9,459.8h1v1h-1zM371.5,460.4h1v1h-1zM370.4,466.3h1v1h-1zM372.4,459.4h1v1h-1zM357.5,464.2h1v1h-1zM366.6,456.3h1v1h-1zM368.5,458.7h1v1h-1zM368.3,460.6h1v1h-1zM359.0,468.3h1v1h-1zM374.9,462.5h1v1h-1zM365.6,451.2h1v1h-1zM365.8,460.3h1v1h-1zM359.8,452.0h1v1h-1zM366.5,465.5h1v1h-1zM367.9,472.1h1v1h-1zM353.8,466.3h1v1h-1zM363.9,468.8h1v1h-1zM363.9,455.8h1v1h-1zM363.7,463.5h1v1h-1zM360.1,458.0h1v1h-1zM365.5,465.3h1v1h-1zM362.8,464.1h1v1h-1zM361.3,460.0h1v1h-1zM365.1,465.9h1v1h-1zM372.6,457.5h1v1h-1zM366.5,470.9h1v1h-1zM368.6,457.6h1v1h-1zM366.3,452.5h1v1h-1zM352.8,460.6h1v1h-1zM360.2,455.0h1v1h-1zM369.6,456.7h1v1h-1zM364.5,461.3h1v1h-1zM363.0,455.0h1v1h-1zM374.5,446.8h1v1h-1zM363.9,464.9h1v1h-1zM363.0,460.8h1v1h-1zM365.7,461.8h1v1h-1zM362.3,467.5h1v1h-1zM366.8,468.3h1v1h-1zM364.6,450.0h1v1h-1zM355.2,461.1h1v1h-1zM366.5,451.3h1v1h-1zM361.0,468.8h1v1h-1zM365.9,456.5h1v1h-1zM363.5,461.8h1v1h-1zM361.8,460.0h1v1h-1zM360.7,463.3h1v1h-1zM372.6,466.2h1v1h-1zM363.4,453.6h1v1h-1zM356.1,464.4h1v1h-1zM365.3,457.1h1v1h-1zM359.8,461.2h1v1h-1zM365.5,464.2h1v1h-1zM367.1,447.1h1v1h-1zM360.9,463.5h1v1h-1zM366.1,464.7h1v1h-1zM356.1,472.2h1v1h-1zM357.7,462.0h1v1h-1zM361.6,459.2h1v1h-1zM359.9,466.8h1v1h-1zM368.3,461.5h1v1h-1zM357.3,459.8h1v1h-1zM363.8,463.3h1v1h-1zM361.1,460.5h1v1h-1zM378.1,456.7h1v1h-1zM362.5,448.1h1v1h-1zM360.1,471.2h1v1h-1zM368.6,453.0h1v1h-1zM368.3,460.6h1v1h-1zM359.8,466.7h1v1h-1zM360.8,460.4h1v1h-1zM364.2,462.1h1v1h-1zM361.8,463.4h1v1h-1zM364.1,462.1h1v1h-1zM366.2,456.9h1v1h-1zM356.8,463.0h1v1h-1zM370.7,460.7h1v1h-1zM365.3,456.6h1v1h-1zM358.0,456.2h1v1h-1zM359.2,460.6h1v1h-1zM355.9,463.0h1v1h-1zM355.7,467.3h1v1h-1zM364.0,451.5h1v1h-1zM361.2,463.2h1v1h-1zM366.1,464.6h1v1h-1zM362.2,460.8h1v1h-1zM362.8,464.4h1v1h-1zM360.4,461.3h1v1h-1zM364.9,458.9h1v1h-1zM358.3,470.3h1v1h-1zM366.8,455.2h1v1h-1zM374.6,453.4h1v1h-1zM359.5,460.5h1v1h-1zM367.0,468.2h1v1h-1zM371.4,461.6h1v1h-1zM364.5,464.5h1v1h-1zM359.9,458.5h1v1h-1zM366.9,461.2h1v1h-1zM365.4,455.1h1v1h-1zM365.4,452.7h1v1h-1zM369.0,459.5h1v1h-1zM360.7,459.6h1v1h-1zM378.9,473.2h1v1h-1zM360.4,469.7h1v1h-1zM364.2,462.4h1v1h-1zM359.0,455.5h1v1h-1zM365.4,458.2h1v1h-1zM366.8,465.9h1v1h-1zM363.5,464.1h1v1h-1zM365.0,462.0h1v1h-1zM361.3,463.2h1v1h-1zM366.4,460.7h1v1h-1zM361.7,453.9h1v1h-1zM358.4,471.4h1v1h-1zM369.5,460.9h1v1h-1zM365.7,459.7h1v1h-1zM367.7,465.1h1v1h-1zM362.8,463.1h1v1h-1zM369.2,450.7h1v1h-1zM359.1,459.5h1v1h-1zM357.9,460.6h1v1h-1zM359.6,460.3h1v1h-1zM366.6,453.8h1v1h-1zM364.6,468.4h1v1h-1zM365.1,454.0h1v1h-1zM360.9,468.4h1v1h-1zM362.7,458.0h1v1h-1zM368.3,455.8h1v1h-1zM358.2,466.3h1v1h-1zM364.2,457.4h1v1h-1zM366.6,466.2h1v1h-1zM369.8,459.7h1v1h-1zM366.5,462.9h1v1h-1zM356.2,472.7h1v1h-1zM360.6,459.1h1v1h-1zM359.7,457.2h1v1h-1zM369.9,459.1h1v1h-1zM361.0,452.0h1v1h-1zM365.0,460.4h1v1h-1zM358.6,462.3h1v1h-1zM354.4,467.7h1v1h-1zM357.6,465.8h1v1h-1zM364.6,449.3h1v1h-1zM358.2,459.4h1v1h-1zM368.3,462.9h1v1h-1zM367.5,469.0h1v1h-1zM362.6,458.7h1v1h-1zM354.2,458.6h1v1h-1zM367.1,455.5h1v1h-1zM359.5,467.7h1v1h-1zM351.0,472.9h1v1h-1zM370.9,449.0h1v1h-1zM366.6,460.1h1v1h-1zM368.9,457.6h1v1h-1zM363.5,468.9h1v1h-1zM361.0,464.3h1v1h-1zM367.5,459.3h1v1h-1zM368.7,462.3h1v1h-1zM368.5,450.3h1v1h-1zM358.6,464.4h1v1h-1zM370.3,466.8h1v1h-1zM364.2,456.9h1v1h-1zM358.3,452.3h1v1h-1zM361.5,465.0h1v1h-1zM363.7,453.1h1v1h-1zM363.6,461.5h1v1h-1zM360.2,470.2h1v1h-1zM366.4,466.3h1v1h-1zM364.6,455.5h1v1h-1zM369.8,465.2h1v1h-1zM361.0,454.8h1v1h-1zM368.4,456.5h1v1h-1zM358.0,462.6h1v1h-1zM367.0,456.0h1v1h-1zM364.3,466.4h1v1h-1zM368.1,451.2h1v1h-1zM367.9,469.5h1v1h-1zM369.0,459.0h1v1h-1zM366.1,451.8h1v1h-1zM361.0,459.2h1v1h-1zM375.1,457.4h1v1h-1zM359.0,471.9h1v1h-1zM370.6,449.9h1v1h-1zM363.1,452.1h1v1h-1zM369.6,446.8h1v1h-1zM373.9,452.1h1v1h-1zM358.6,474.4h1v1h-1zM366.9,462.0h1v1h-1zM368.6,454.1h1v1h-1zM368.7,458.0h1v1h-1zM366.9,461.4h1v1h-1zM371.4,451.6h1v1h-1zM356.8,467.0h1v1h-1zM376.6,459.9h1v1h-1zM363.2,465.0h1v1h-1zM357.7,463.6h1v1h-1zM355.3,464.6h1v1h-1zM367.9,469.1h1v1h-1zM361.5,467.0h1v1h-1zM371.2,453.0h1v1h-1zM362.7,451.4h1v1h-1zM359.5,464.9h1v1h-1zM353.4,462.9h1v1h-1zM367.9,467.6h1v1h-1zM350.9,467.4h1v1h-1zM360.9,449.5h1v1h-1zM358.8,466.0h1v1h-1zM364.0,464.9h1v1h-1zM362.5,465.1h1v1h-1zM359.0,457.4h1v1h-1zM363.3,451.7h1v1h-1zM370.6,457.5h1v1h-1zM359.0,458.0h1v1h-1zM359.0,463.4h1v1h-1zM362.2,466.4h1v1h-1zM358.0,462.6h1v1h-1zM356.2,461.1h1v1h-1zM371.3,458.0h1v1h-1zM368.8,459.2h1v1h-1zM358.4,458.1h1v1h-1zM358.2,464.8h1v1h-1zM372.9,462.8h1v1h-1zM359.0,463.3h1v1h-1zM360.3,468.7h1v1h-1zM357.0,467.5h1v1h-1zM357.7,460.6h1v1h-1zM365.0,461.5h1v1h-1zM363.8,460.8h1v1h-1zM359.6,461.9h1v1h-1zM363.7,456.0h1v1h-1zM367.1,461.0h1v1h-1zM360.1,469.5h1v1h-1zM361.1,451.6h1v1h-1zM370.7,456.8h1v1h-1zM371.8,460.9h1v1h-1zM359.4,468.7h1v1h-1zM366.5,465.3h1v1h-1zM364.3,469.5h1v1h-1zM369.0,457.6h1v1h-1zM356.2,463.4h1v1h-1zM364.5,455.5h1v1h-1zM363.1,469.6h1v1h-1zM361.6,468.0h1v1h-1zM359.2,457.3h1v1h-1zM369.0,458.5h1v1h-1zM365.2,466.3h1v1h-1zM372.7,451.4h1v1h-1zM367.2,461.3h1v1h-1zM364.8,470.6h1v1h-1zM362.8,458.2h1v1h-1zM366.7,449.0h1v1h-1zM366.0,455.5h1v1h-1zM365.8,456.4h1v1h-1zM366.8,458.8h1v1h-1zM360.3,465.2h1v1h-1zM368.0,450.9h1v1h-1zM357.3,461.8h1v1h-1zM362.1,469.0h1v1h-1zM372.4,460.9h1v1h-1zM369.8,457.3h1v1h-1zM356.9,465.0h1v1h-1zM354.8,473.0h1v1h-1zM365.4,467.0h1v1h-1zM360.7,453.2h1v1h-1zM363.0,464.1h1v1h-1zM362.9,458.6h1v1h-1zM364.5,459.8h1v1h-1zM371.4,451.4h1v1h-1zM352.4,464.3h1v1h-1zM365.5,452.1h1v1h-1zM363.9,463.5h1v1h-1zM365.8,462.1h1v1h-1zM360.1,454.3h1v1h-1zM369.1,457.4h1v1h-1zM356.9,471.9h1v1h-1zM368.0,444.3h1v1h-1zM377.7,457.4h1v1h-1zM355.6,469.1h1v1h-1zM365.8,467.3h1v1h-1zM364.1,451.8h1v1h-1zM363.2,458.9h1v1h-1zM365.6,459.5h1v1h-1zM367.0,453.3h1v1h-1zM361.2,459.1h1v1h-1zM366.2,450.9h1v1h-1zM364.1,474.2h1v1h-1zM354.6,469.8h1v1h-1zM364.6,466.3h1v1h-1zM364.3,462.4h1v1h-1zM366.0,462.9h1v1h-1zM357.7,462.4h1v1h-1zM373.7,465.7h1v1h-1zM359.6,457.3h1v1h-1zM363.1,467.2h1v1h-1zM368.9,456.2h1v1h-1zM351.6,464.8h1v1h-1zM355.3,470.5h1v1h-1zM371.9,462.2h1v1h-1zM367.2,463.1h1v1h-1zM373.8,463.8h1v1h-1zM371.7,452.2h1v1h-1zM361.3,461.9h1v1h-1zM352.3,463.3h1v1h-1zM363.9,460.7h1v1h-1zM377.4,455.5h1v1h-1zM363.0,460.7h1v1h-1zM362.2,453.8h1v1h-1zM370.0,459.2h1v1h-1zM366.0,460.6h1v1h-1zM359.9,453.5h1v1h-1zM362.5,464.5h1v1h-1zM363.4,465.3h1v1h-1zM359.9,460.8h1v1h-1zM364.8,460.2h1v1h-1zM365.0,468.6h1v1h-1zM361.8,462.5h1v1h-1zM360.6,465.1h1v1h-1zM365.2,456.6h1v1h-1zM358.7,456.1h1v1h-1zM362.5,462.3h1v1h-1zM361.4,461.2h1v1h-1zM364.7,473.8h1v1h-1zM370.3,471.8h1v1h-1zM364.8,462.0h1v1h-1zM374.3,459.8h1v1h-1zM367.5,457.1h1v1h-1zM361.2,466.2h1v1h-1zM360.9,458.4h1v1h-1zM356.2,465.2h1v1h-1zM363.5,464.2h1v1h-1zM359.5,455.7h1v1h-1zM369.9,459.2h1v1h-1zM368.2,453.3h1v1h-1zM357.2,449.3h1v1h-1zM365.6,466.0h1v1h-1zM371.0,468.5h1v1h-1zM354.4,458.1h1v1h-1zM361.2,457.5h1v1h-1zM362.9,456.9h1v1h-1zM356.3,463.3h1v1h-1zM364.7,456.5h1v1h-1zM364.2,453.8h1v1h-1zM362.3,459.7h1v1h-1zM361.6,461.4h1v1h-1zM357.3,455.8h1v1h-1zM359.6,466.5h1v1h-1zM359.0,457.5h1v1h-1zM374.5,456.2h1v1h-1zM362.0,456.8h1v1h-1zM371.8,461.4h1v1h-1zM365.4,469.4h1v1h-1zM357.7,453.8h1v1h-1zM369.9,461.5h1v1h-1zM361.3,466.3h1v1h-1zM363.5,472.0h1v1h-1zM357.3,465.2h1v1h-1zM369.2,464.2h1v1h-1zM362.1,459.4h1v1h-1zM361.7,465.6h1v1h-1zM361.9,460.9h1v1h-1zM369.4,458.6h1v1h-1zM365.3,459.9h1v1h-1zM364.1,448.7h1v1h-1zM359.0,464.7h1v1h-1zM360.6,458.7h1v1h-1zM364.3,473.6h1v1h-1zM360.0,457.0h1v1h-1zM354.5,466.7h1v1h-1zM363.7,456.5h1v1h-1zM361.8,467.1h1v1h-1zM369.4,461.3h1v1h-1zM370.1,464.6h1v1h-1zM361.6,466.2h1v1h-1zM364.8,465.0h1v1h-1zM365.5,472.3h1v1h-1zM357.4,465.2h1v1h-1zM361.3,459.9h1v1h-1zM363.9,460.8h1v1h-1zM373.0,457.8h1v1h-1zM365.3,466.5h1v1h-1zM372.0,453.1h1v1h-1zM365.6,453.1h1v1h-1zM366.6,468.0h1v1h-1zM361.2,460.4h1v1h-1zM370.3,461.4h1v1h-1zM368.3,457.1h1v1h-1zM362.3,459.5h1v1h-1zM372.3,450.0h1v1h-1zM361.3,470.6h1v1h-1zM363.6,455.1h1v1h-1zM365.2,459.4h1v1h-1zM363.4,464.0h1v1h-1zM368.2,451.3h1v1h-1zM365.1,469.0h1v1h-1zM356.9,462.8h1v1h-1zM357.8,466.7h1v1h-1zM359.5,460.6h1v1h-1zM361.8,464.3h1v1h-1zM357.1,455.5h1v1h-1zM365.0,468.2h1v1h-1zM361.3,464.2h1v1h-1zM365.4,461.1h1v1h-1zM363.9,458.0h1v1h-1zM362.7,468.1h1v1h-1zM366.3,467.4h1v1h-1zM360.1,462.9h1v1h-1zM360.6,454.7h1v1h-1zM368.7,457.9h1v1h-1zM365.3,452.7h1v1h-1zM362.6,460.8h1v1h-1zM361.9,467.3h1v1h-1zM366.4,461.0h1v1h-1zM365.2,458.1h1v1h-1zM360.2,460.7h1v1h-1zM358.6,461.8h1v1h-1zM363.4,467.5h1v1h-1zM361.7,475.3h1v1h-1zM361.2,462.6h1v1h-1zM363.8,457.6h1v1h-1zM363.6,451.2h1v1h-1zM369.9,455.8h1v1h-1zM363.8,450.9h1v1h-1zM367.0,452.9h1v1h-1zM371.2,452.8h1v1h-1zM360.1,466.0h1v1h-1zM370.7,447.7h1v1h-1zM355.1,473.0h1v1h-1zM366.3,451.7h1v1h-1zM361.7,465.7h1v1h-1zM361.9,470.1h1v1h-1zM360.2,463.2h1v1h-1zM370.1,467.3h1v1h-1zM365.2,463.9h1v1h-1zM362.2,461.2h1v1h-1zM360.9,464.2h1v1h-1zM368.4,453.9h1v1h-1zM357.8,463.3h1v1h-1zM374.5,458.8h1v1h-1zM364.7,460.5h1v1h-1zM355.1,459.9h1v1h-1zM371.9,446.6h1v1h-1zM373.4,451.2h1v1h-1zM374.7,472.2h1v1h-1zM371.9,457.6h1v1h-1zM367.1,456.9h1v1h-1zM361.6,462.9h1v1h-1zM362.3,455.5h1v1h-1zM362.5,465.1h1v1h-1zM359.9,464.4h1v1h-1zM356.9,463.9h1v1h-1zM357.9,467.3h1v1h-1zM358.5,466.3h1v1h-1zM353.5,465.4h1v1h-1zM369.8,454.5h1v1h-1zM364.2,456.1h1v1h-1zM366.5,464.4h1v1h-1zM370.0,466.5h1v1h-1zM370.8,454.7h1v1h-1zM364.6,463.8h1v1h-1zM365.0,453.3h1v1h-1zM374.6,471.9h1v1h-1zM364.3,446.2h1v1h-1zM373.6,456.8h1v1h-1zM375.9,451.2h1v1h-1zM366.7,464.6h1v1h-1zM356.4,461.6h1v1h-1zM366.5,463.9h1v1h-1zM366.0,445.6h1v1h-1zM351.4,467.2h1v1h-1zM372.4,449.6h1v1h-1zM366.0,465.6h1v1h-1zM358.8,453.7h1v1h-1zM365.4,458.0h1v1h-1zM363.4,460.0h1v1h-1zM363.3,463.0h1v1h-1zM361.2,461.7h1v1h-1zM361.0,457.1h1v1h-1zM365.8,455.7h1v1h-1zM366.8,459.9h1v1h-1zM369.6,462.5h1v1h-1zM353.4,464.3h1v1h-1zM367.4,460.5h1v1h-1zM364.2,467.0h1v1h-1zM367.5,452.2h1v1h-1zM364.4,466.5h1v1h-1zM364.8,453.5h1v1h-1zM368.0,463.1h1v1h-1zM370.0,460.0h1v1h-1zM364.5,465.6h1v1h-1zM358.1,472.6h1v1h-1zM366.1,461.6h1v1h-1zM367.9,464.2h1v1h-1zM352.3,470.1h1v1h-1zM363.4,456.7h1v1h-1zM368.7,464.8h1v1h-1zM365.9,456.8h1v1h-1zM364.5,455.4h1v1h-1zM377.2,452.9h1v1h-1zM368.6,468.7h1v1h-1zM359.4,459.4h1v1h-1zM352.1,463.5h1v1h-1zM357.0,464.2h1v1h-1zM362.8,461.4h1v1h-1zM364.1,458.3h1v1h-1zM364.5,460.4h1v1h-1zM360.2,460.4h1v1h-1zM360.9,454.6h1v1h-1zM363.8,450.5h1v1h-1zM366.7,459.9h1v1h-1zM364.8,467.3h1v1h-1zM369.0,456.9h1v1h-1zM365.8,467.2h1v1h-1zM363.1,463.4h1v1h-1zM366.1,454.4h1v1h-1zM365.4,458.3h1v1h-1zM362.6,463.9h1v1h-1zM367.4,454.8h1v1h-1zM362.6,460.3h1v1h-1zM358.9,464.7h1v1h-1zM362.9,457.3h1v1h-1zM368.9,458.9h1v1h-1zM357.8,462.5h1v1h-1zM363.0,463.0h1v1h-1zM375.8,460.2h1v1h-1zM371.5,457.5h1v1h-1zM366.4,463.0h1v1h-1zM363.4,462.6h1v1h-1zM361.6,465.7h1v1h-1zM359.2,472.3h1v1h-1zM363.3,463.3h1v1h-1z" fill="#222"/>
<path d="M376.6,456.8h1v1h-1zM377.8,460.0h1v1h-1zM376.8,462.1h1v1h-1zM374.8,457.2h1v1h-1zM370.3,461.5h1v1h-1zM371.4,465.1h1v1h-1zM369.9,465.0h1v1h-1zM378.3,460.7h1v1h-1zM371.8,462.4h1v1h-1zM379.3,470.2h1v1h-1zM385.2,464.4h1v1h-1zM378.6,464.8h1v1h-1zM375.9,459.2h1v1h-1zM374.4,469.0h1v1h-1zM381.9,461.3h1v1h-1zM369.0,472.4h1v1h-1zM376.1,466.0h1v1h-1zM375.2,455.9h1v1h-1zM377.3,459.7h1v1h-1zM374.7,461.2h1v1h-1zM374.8,474.7h1v1h-1zM382.4,455.3h1v1h-1zM369.3,461.7h1v1h-1zM373.1,467.4h1v1h-1zM382.7,460.7h1v1h-1zM378.4,463.0h1v1h-1zM367.4,469.2h1v1h-1zM383.5,460.3h1v1h-1zM378.7,461.7h1v1h-1zM375.5,461.9h1v1h-1zM375.3,464.2h1v1h-1zM373.3,465.2h1v1h-1zM370.4,467.6h1v1h-1zM371.8,455.7h1v1h-1zM379.5,462.4h1v1h-1zM373.6,468.1h1v1h-1zM375.8,472.7h1v1h-1zM377.8,457.6h1v1h-1zM373.8,461.0h1v1h-1zM374.7,471.5h1v1h-1zM387.7,471.6h1v1h-1zM377.9,466.4h1v1h-1zM376.7,454.1h1v1h-1zM381.9,472.9h1v1h-1zM373.7,463.9h1v1h-1zM372.9,463.1h1v1h-1zM372.2,458.9h1v1h-1zM381.1,455.3h1v1h-1zM380.4,458.9h1v1h-1zM374.8,455.0h1v1h-1zM378.7,459.5h1v1h-1zM386.7,459.8h1v1h-1zM377.0,466.9h1v1h-1zM371.7,460.3h1v1h-1zM371.3,466.5h1v1h-1zM377.2,468.5h1v1h-1zM369.7,459.8h1v1h-1zM375.4,462.0h1v1h-1zM377.3,469.0h1v1h-1zM376.5,460.4h1v1h-1zM375.8,460.8h1v1h-1zM373.1,472.3h1v1h-1zM378.9,472.1h1v1h-1zM375.0,463.7h1v1h-1zM370.5,465.0h1v1h-1zM379.1,467.1h1v1h-1zM370.9,464.5h1v1h-1zM379.9,461.9h1v1h-1zM379.0,461.7h1v1h-1zM375.9,461.4h1v1h-1zM369.5,460.3h1v1h-1zM376.7,462.7h1v1h-1zM375.9,461.4h1v1h-1zM379.7,463.2h1v1h-1zM377.6,461.9h1v1h-1zM381.6,463.5h1v1h-1zM377.8,473.8h1v1h-1zM377.8,457.0h1v1h-1zM373.1,465.4h1v1h-1zM370.3,457.4h1v1h-1zM375.4,456.9h1v1h-1zM380.6,465.9h1v1h-1zM374.6,469.4h1v1h-1zM373.0,458.7h1v1h-1zM379.9,464.1h1v1h-1zM375.0,468.6h1v1h-1zM375.4,466.9h1v1h-1zM376.9,469.2h1v1h-1zM378.3,461.9h1v1h-1zM382.4,462.4h1v1h-1zM383.4,458.3h1v1h-1zM376.2,454.0h1v1h-1zM378.2,470.0h1v1h-1zM374.3,466.1h1v1h-1zM375.0,470.4h1v1h-1zM377.4,465.6h1v1h-1zM380.7,457.2h1v1h-1zM378.9,464.6h1v1h-1zM381.5,464.1h1v1h-1zM378.6,463.7h1v1h-1zM371.7,461.7h1v1h-1zM375.2,458.1h1v1h-1zM375.8,461.9h1v1h-1zM383.8,462.9h1v1h-1zM376.5,464.4h1v1h-1zM379.0,456.8h1v1h-1zM368.4,471.1h1v1h-1zM372.4,460.0h1v1h-1zM381.0,465.3h1v1h-1zM372.5,467.3h1v1h-1zM371.1,471.2h1v1h-1zM374.6,465.5h1v1h-1zM375.9,472.6h1v1h-1zM371.8,463.6h1v1h-1zM385.2,454.9h1v1h-1zM373.9,465.2h1v1h-1zM375.0,466.0h1v1h-1zM381.0,458.9h1v1h-1zM373.2,469.9h1v1h-1zM384.4,452.1h1v1h-1zM378.3,468.4h1v1h-1zM373.1,460.1h1v1h-1zM371.1,463.1h1v1h-1zM371.0,467.2h1v1h-1zM373.0,466.3h1v1h-1zM369.2,467.9h1v1h-1zM378.9,468.2h1v1h-1zM377.2,474.3h1v1h-1zM380.2,464.2h1v1h-1zM382.9,462.4h1v1h-1zM376.7,471.3h1v1h-1zM374.0,464.0h1v1h-1zM377.1,464.8h1v1h-1zM375.0,468.5h1v1h-1zM385.3,462.3h1v1h-1zM369.7,461.9h1v1h-1zM370.0,458.3h1v1h-1zM371.5,468.7h1v1h-1zM376.7,467.2h1v1h-1zM375.5,468.6h1v1h-1zM374.2,469.8h1v1h-1zM379.8,465.0h1v1h-1zM369.7,459.1h1v1h-1zM377.1,459.4h1v1h-1zM375.3,463.3h1v1h-1zM381.9,461.0h1v1h-1zM376.6,461.9h1v1h-1zM372.8,466.0h1v1h-1zM380.2,457.6h1v1h-1zM382.5,473.9h1v1h-1zM376.7,466.3h1v1h-1zM371.5,462.2h1v1h-1zM377.3,463.6h1v1h-1zM381.9,460.1h1v1h-1zM374.9,466.4h1v1h-1zM375.7,462.9h1v1h-1zM375.5,465.8h1v1h-1zM379.2,459.3h1v1h-1zM372.1,459.0h1v1h-1zM377.9,455.7h1v1h-1zM386.6,461.6h1v1h-1zM370.0,473.2h1v1h-1zM376.0,466.2h1v1h-1zM375.2,462.9h1v1h-1zM384.9,455.2h1v1h-1zM377.1,460.7h1v1h-1zM374.5,463.7h1v1h-1zM368.1,466.8h1v1h-1zM376.9,466.5h1v1h-1zM373.4,467.3h1v1h-1zM374.0,467.4h1v1h-1zM381.8,466.8h1v1h-1zM369.8,464.3h1v1h-1zM371.6,472.7h1v1h-1zM376.9,458.3h1v1h-1zM369.5,469.9h1v1h-1zM371.7,465.8h1v1h-1zM374.6,463.4h1v1h-1zM374.1,464.0h1v1h-1zM383.0,460.1h1v1h-1zM378.2,466.1h1v1h-1zM373.1,459.2h1v1h-1zM372.2,466.6h1v1h-1zM376.7,468.6h1v1h-1zM377.6,464.5h1v1h-1zM376.1,465.0h1v1h-1zM376.2,467.0h1v1h-1zM372.3,468.8h1v1h-1zM383.0,463.6h1v1h-1zM378.5,458.8h1v1h-1zM376.5,457.7h1v1h-1zM380.3,464.2h1v1h-1zM380.7,469.0h1v1h-1zM372.9,467.6h1v1h-1zM382.7,473.8h1v1h-1zM375.6,466.4h1v1h-1zM373.3,466.8h1v1h-1zM378.6,470.4h1v1h-1zM375.4,464.3h1v1h-1zM378.2,463.3h1v1h-1zM384.9,454.2h1v1h-1zM368.7,461.8h1v1h-1zM379.0,464.1h1v1h-1zM377.8,457.3h1v1h-1zM378.6,466.4h1v1h-1zM383.1,467.7h1v1h-1zM373.4,460.8h1v1h-1zM371.1,461.9h1v1h-1zM375.6,469.6h1v1h-1zM383.2,464.3h1v1h-1zM378.6,463.3h1v1h-1zM370.4,466.4h1v1h-1zM372.9,456.9h1v1h-1zM372.4,470.6h1v1h-1zM371.0,470.0h1v1h-1zM370.1,463.7h1v1h-1zM378.2,462.3h1v1h-1zM371.9,464.0h1v1h-1zM383.2,466.9h1v1h-1zM376.9,466.6h1v1h-1zM381.1,469.9h1v1h-1zM374.9,460.1h1v1h-1zM371.8,464.3h1v1h-1zM374.7,464.1h1v1h-1zM373.4,475.0h1v1h-1zM373.0,470.3h1v1h-1zM372.3,460.6h1v1h-1zM371.0,459.2h1v1h-1zM369.0,460.4h1v1h-1zM375.0,467.1h1v1h-1zM368.3,466.0h1v1h-1zM375.5,464.0h1v1h-1zM366.7,466.2h1v1h-1zM378.9,469.1h1v1h-1zM374.8,469.5h1v1h-1zM376.3,460.0h1v1h-1zM378.3,468.3h1v1h-1zM377.0,463.9h1v1h-1zM375.0,467.0h1v1h-1zM368.2,465.4h1v1h-1zM370.5,461.7h1v1h-1zM376.9,469.5h1v1h-1zM376.0,460.0h1v1h-1zM387.8,465.4h1v1h-1zM364.3,463.6h1v1h-1zM372.8,461.4h1v1h-1zM380.6,473.4h1v1h-1zM376.5,458.1h1v1h-1zM379.8,464.4h1v1h-1zM374.3,464.9h1v1h-1zM371.0,464.9h1v1h-1zM377.6,469.3h1v1h-1zM384.7,461.3h1v1h-1zM377.7,460.6h1v1h-1zM376.6,469.1h1v1h-1zM378.8,462.7h1v1h-1zM383.8,468.0h1v1h-1zM381.4,464.4h1v1h-1zM381.8,463.4h1v1h-1zM379.8,464.2h1v1h-1zM376.0,457.2h1v1h-1zM380.3,466.6h1v1h-1zM373.3,464.3h1v1h-1zM378.7,466.8h1v1h-1zM367.0,470.6h1v1h-1zM371.6,472.4h1v1h-1zM381.0,464.7h1v1h-1zM376.9,465.3h1v1h-1zM374.3,470.7h1v1h-1zM373.1,461.7h1v1h-1zM375.0,457.0h1v1h-1zM380.6,458.8h1v1h-1zM382.6,468.2h1v1h-1zM384.9,461.4h1v1h-1zM374.7,462.1h1v1h-1zM379.5,460.1h1v1h-1zM374.6,453.8h1v1h-1zM376.2,465.0h1v1h-1zM384.7,460.3h1v1h-1zM380.3,466.6h1v1h-1zM379.9,459.2h1v1h-1zM360.8,461.9h1v1h-1zM380.3,464.8h1v1h-1zM382.4,473.6h1v1h-1zM373.0,462.2h1v1h-1zM382.8,456.7h1v1h-1zM365.0,465.2h1v1h-1zM377.5,470.7h1v1h-1zM379.3,463.9h1v1h-1zM373.5,455.9h1v1h-1zM378.3,461.3h1v1h-1zM374.3,465.5h1v1h-1zM367.0,463.7h1v1h-1zM373.3,472.9h1v1h-1zM375.5,469.0h1v1h-1zM371.7,457.0h1v1h-1zM379.9,462.5h1v1h-1zM370.1,468.8h1v1h-1zM378.3,456.4h1v1h-1zM375.0,472.9h1v1h-1zM376.5,458.0h1v1h-1zM372.3,470.2h1v1h-1zM382.7,467.1h1v1h-1zM369.4,467.7h1v1h-1zM372.4,461.8h1v1h-1zM373.8,468.9h1v1h-1zM378.3,466.6h1v1h-1zM374.1,461.7h1v1h-1zM380.8,461.3h1v1h-1zM374.8,466.5h1v1h-1zM375.3,468.5h1v1h-1zM378.5,466.9h1v1h-1zM386.3,461.6h1v1h-1zM385.4,458.3h1v1h-1zM372.6,452.8h1v1h-1zM373.1,460.4h1v1h-1zM379.2,469.7h1v1h-1zM386.4,461.7h1v1h-1zM380.8,463.2h1v1h-1zM367.8,445.3h1v1h-1zM374.5,455.3h1v1h-1zM379.9,459.8h1v1h-1zM379.0,461.0h1v1h-1zM378.2,459.7h1v1h-1zM377.8,472.2h1v1h-1zM377.7,457.8h1v1h-1zM372.5,464.6h1v1h-1zM379.6,458.4h1v1h-1zM372.0,456.7h1v1h-1zM383.9,465.3h1v1h-1zM377.5,462.0h1v1h-1zM384.6,466.6h1v1h-1zM375.6,469.5h1v1h-1zM378.7,462.7h1v1h-1zM374.4,464.1h1v1h-1zM382.2,457.6h1v1h-1zM368.6,467.1h1v1h-1zM380.8,470.6h1v1h-1zM378.6,457.2h1v1h-1zM379.7,464.8h1v1h-1zM371.5,456.8h1v1h-1zM369.1,464.3h1v1h-1zM370.3,465.6h1v1h-1zM375.3,466.9h1v1h-1zM379.9,459.9h1v1h-1zM374.4,467.4h1v1h-1zM373.2,468.6h1v1h-1zM378.7,468.1h1v1h-1zM373.4,467.6h1v1h-1zM375.1,465.0h1v1h-1zM378.9,461.5h1v1h-1zM375.8,453.2h1v1h-1zM373.0,466.8h1v1h-1zM371.2,454.4h1v1h-1zM369.7,462.7h1v1h-1zM379.0,466.4h1v1h-1zM369.7,465.9h1v1h-1zM370.6,469.0h1v1h-1zM377.8,461.1h1v1h-1zM374.0,463.7h1v1h-1zM373.5,469.3h1v1h-1zM377.4,461.4h1v1h-1zM378.1,457.7h1v1h-1zM376.7,462.5h1v1h-1zM373.5,463.7h1v1h-1zM377.0,457.3h1v1h-1zM379.6,461.3h1v1h-1zM377.6,471.6h1v1h-1zM371.3,471.6h1v1h-1zM374.5,472.7h1v1h-1zM372.4,468.8h1v1h-1zM373.5,469.7h1v1h-1zM380.0,465.5h1v1h-1zM372.4,468.8h1v1h-1zM377.7,459.0h1v1h-1zM378.5,463.2h1v1h-1zM375.5,459.5h1v1h-1zM377.0,467.9h1v1h-1zM372.3,467.7h1v1h-1zM368.0,464.5h1v1h-1zM377.2,459.6h1v1h-1zM376.7,458.0h1v1h-1zM384.2,465.8h1v1h-1zM380.8,459.7h1v1h-1zM366.2,463.6h1v1h-1zM381.9,463.3h1v1h-1zM381.1,465.8h1v1h-1zM377.5,468.8h1v1h-1zM373.5,462.1h1v1h-1zM380.8,466.1h1v1h-1zM373.7,459.0h1v1h-1zM382.5,449.2h1v1h-1zM380.0,463.3h1v1h-1zM370.4,465.9h1v1h-1zM378.1,474.5h1v1h-1zM377.3,452.4h1v1h-1zM372.0,467.5h1v1h-1zM373.9,463.7h1v1h-1z" fill="#333"/>
<path d="M369.4,469.4h1v1h-1zM372.7,453.6h1v1h-1zM364.8,467.0h1v1h-1zM364.4,461.7h1v1h-1zM373.5,461.7h1v1h-1zM376.5,456.4h1v1h-1zM386.1,457.8h1v1h-1zM363.9,449.6h1v1h-1zM364.4,470.2h1v1h-1zM361.1,473.4h1v1h-1zM373.5,449.4h1v1h-1zM362.0,457.8h1v1h-1zM376.2,453.2h1v1h-1zM375.9,455.6h1v1h-1zM381.0,447.8h1v1h-1zM369.0,445.9h1v1h-1zM367.5,447.6h1v1h-1zM357.8,458.0h1v1h-1zM375.5,433.4h1v1h-1zM359.8,446.5h1v1h-1zM373.0,460.2h1v1h-1zM372.7,453.4h1v1h-1zM363.9,459.8h1v1h-1zM363.1,456.2h1v1h-1zM373.3,452.5h1v1h-1zM379.7,432.6h1v1h-1zM357.3,469.5h1v1h-1zM365.5,453.2h1v1h-1zM365.6,456.9h1v1h-1zM368.8,459.7h1v1h-1zM377.5,470.6h1v1h-1zM353.0,460.6h1v1h-1zM362.9,460.3h1v1h-1zM362.0,459.3h1v1h-1zM372.3,454.9h1v1h-1zM371.9,461.4h1v1h-1zM361.6,458.4h1v1h-1zM378.5,461.7h1v1h-1zM377.9,445.7h1v1h-1zM364.7,466.8h1v1h-1zM370.1,458.7h1v1h-1zM367.2,465.3h1v1h-1zM371.4,446.3h1v1h-1zM373.0,451.8h1v1h-1zM367.9,461.9h1v1h-1zM371.2,450.3h1v1h-1zM360.7,455.0h1v1h-1zM369.0,445.3h1v1h-1zM364.9,458.3h1v1h-1zM360.2,456.3h1v1h-1zM372.0,456.8h1v1h-1zM356.5,460.8h1v1h-1zM362.2,468.6h1v1h-1zM369.2,470.8h1v1h-1zM372.9,444.3h1v1h-1zM377.6,448.9h1v1h-1zM369.2,457.2h1v1h-1zM359.7,470.2h1v1h-1zM371.2,446.1h1v1h-1zM359.1,463.9h1v1h-1zM379.7,456.4h1v1h-1zM372.5,451.3h1v1h-1zM378.8,458.0h1v1h-1zM363.6,452.5h1v1h-1zM352.8,472.4h1v1h-1zM393.9,446.9h1v1h-1zM373.5,461.8h1v1h-1zM361.9,451.0h1v1h-1zM382.9,460.1h1v1h-1zM376.1,453.0h1v1h-1zM369.7,457.5h1v1h-1zM373.4,449.3h1v1h-1zM378.3,469.2h1v1h-1zM365.8,448.7h1v1h-1zM362.4,471.0h1v1h-1zM364.6,450.9h1v1h-1zM378.7,451.5h1v1h-1zM369.7,462.6h1v1h-1zM379.1,455.1h1v1h-1zM382.5,445.6h1v1h-1zM365.9,463.7h1v1h-1zM375.2,438.4h1v1h-1zM367.5,463.2h1v1h-1zM368.8,472.9h1v1h-1zM357.4,462.1h1v1h-1zM363.3,443.7h1v1h-1zM368.2,456.1h1v1h-1zM366.7,451.4h1v1h-1zM376.9,444.2h1v1h-1zM365.1,444.9h1v1h-1zM379.3,439.5h1v1h-1zM383.8,443.0h1v1h-1zM369.6,471.1h1v1h-1zM361.5,471.0h1v1h-1zM359.6,455.3h1v1h-1zM374.5,457.7h1v1h-1zM372.7,458.1h1v1h-1zM382.6,437.1h1v1h-1zM364.5,465.9h1v1h-1zM358.3,453.7h1v1h-1zM389.6,461.8h1v1h-1zM374.1,455.5h1v1h-1zM368.7,448.5h1v1h-1zM363.0,449.4h1v1h-1zM359.8,460.7h1v1h-1zM373.4,446.4h1v1h-1zM371.1,443.6h1v1h-1zM373.0,452.2h1v1h-1zM369.5,458.1h1v1h-1zM380.5,454.5h1v1h-1zM364.8,459.3h1v1h-1zM373.2,460.0h1v1h-1zM378.4,445.8h1v1h-1zM360.4,465.1h1v1h-1zM361.0,463.3h1v1h-1zM391.9,460.2h1v1h-1zM358.3,452.5h1v1h-1zM373.2,452.5h1v1h-1zM375.6,456.5h1v1h-1zM372.7,460.3h1v1h-1zM357.5,470.8h1v1h-1zM358.6,451.9h1v1h-1zM373.3,451.6h1v1h-1zM360.4,439.4h1v1h-1zM374.5,444.1h1v1h-1zM367.1,459.4h1v1h-1zM369.5,460.1h1v1h-1zM383.4,458.2h1v1h-1zM361.9,458.5h1v1h-1zM368.2,448.9h1v1h-1zM375.3,450.9h1v1h-1zM371.9,461.4h1v1h-1zM386.9,444.9h1v1h-1zM375.8,473.9h1v1h-1zM382.9,454.6h1v1h-1zM364.1,459.6h1v1h-1zM365.0,454.0h1v1h-1zM356.1,458.2h1v1h-1zM353.9,470.7h1v1h-1zM374.2,451.0h1v1h-1zM370.3,457.2h1v1h-1zM368.0,459.5h1v1h-1zM368.6,460.8h1v1h-1zM363.5,459.0h1v1h-1zM383.6,444.2h1v1h-1zM363.5,467.0h1v1h-1zM372.6,456.8h1v1h-1zM371.5,452.0h1v1h-1zM365.8,462.3h1v1h-1zM371.5,461.6h1v1h-1zM370.8,468.9h1v1h-1zM378.0,446.6h1v1h-1zM382.9,446.8h1v1h-1zM378.2,446.6h1v1h-1zM373.0,456.7h1v1h-1zM381.6,432.7h1v1h-1zM354.5,470.5h1v1h-1zM376.1,449.6h1v1h-1zM370.8,440.0h1v1h-1zM367.0,451.3h1v1h-1zM377.2,456.2h1v1h-1zM368.8,467.3h1v1h-1zM364.8,465.0h1v1h-1zM368.2,461.1h1v1h-1zM367.7,470.0h1v1h-1zM376.5,446.5h1v1h-1zM366.5,469.8h1v1h-1zM382.0,441.2h1v1h-1zM371.4,461.6h1v1h-1zM389.4,456.0h1v1h-1zM368.4,465.4h1v1h-1zM370.7,448.3h1v1h-1zM369.7,454.5h1v1h-1zM368.3,457.7h1v1h-1zM373.0,448.3h1v1h-1zM375.6,440.1h1v1h-1zM375.5,459.1h1v1h-1zM373.5,441.6h1v1h-1zM366.0,459.7h1v1h-1zM373.9,462.0h1v1h-1zM357.6,460.8h1v1h-1zM378.9,442.8h1v1h-1zM360.2,455.5h1v1h-1zM367.9,454.8h1v1h-1zM380.3,455.6h1v1h-1zM354.6,468.9h1v1h-1zM370.9,464.0h1v1h-1zM369.9,469.2h1v1h-1zM371.3,451.6h1v1h-1zM360.3,468.3h1v1h-1zM369.0,440.9h1v1h-1zM376.9,466.1h1v1h-1zM353.1,467.4h1v1h-1zM375.4,470.5h1v1h-1zM380.0,446.4h1v1h-1zM373.8,462.0h1v1h-1zM358.1,473.8h1v1h-1zM374.1,462.9h1v1h-1zM362.9,466.6h1v1h-1zM369.7,453.9h1v1h-1zM370.4,459.6h1v1h-1zM357.7,460.7h1v1h-1zM373.1,440.8h1v1h-1zM375.6,454.7h1v1h-1zM361.6,449.3h1v1h-1zM360.1,468.0h1v1h-1zM363.0,460.7h1v1h-1zM366.5,466.0h1v1h-1zM380.5,461.5h1v1h-1zM375.5,464.6h1v1h-1zM384.0,444.0h1v1h-1zM372.2,450.0h1v1h-1zM370.5,454.5h1v1h-1zM371.0,462.8h1v1h-1zM359.5,436.4h1v1h-1zM372.3,465.6h1v1h-1zM366.9,471.2h1v1h-1zM388.5,451.1h1v1h-1zM368.3,462.0h1v1h-1zM376.3,440.9h1v1h-1zM374.1,436.5h1v1h-1zM361.4,461.6h1v1h-1zM372.6,444.9h1v1h-1zM370.5,468.3h1v1h-1zM356.7,466.3h1v1h-1zM380.4,440.9h1v1h-1zM379.8,457.5h1v1h-1zM367.5,457.7h1v1h-1zM369.8,457.1h1v1h-1zM368.4,450.5h1v1h-1zM377.5,469.8h1v1h-1zM368.5,470.2h1v1h-1zM363.8,447.1h1v1h-1zM375.3,457.2h1v1h-1zM373.8,446.7h1v1h-1zM366.8,467.1h1v1h-1zM383.1,454.7h1v1h-1zM373.2,431.5h1v1h-1zM364.8,470.5h1v1h-1zM385.6,443.9h1v1h-1zM359.4,456.4h1v1h-1zM365.1,455.0h1v1h-1zM362.2,465.4h1v1h-1zM372.5,443.8h1v1h-1zM374.7,457.1h1v1h-1zM361.6,460.7h1v1h-1zM372.7,449.2h1v1h-1zM371.0,452.2h1v1h-1zM353.3,449.7h1v1h-1zM364.9,453.6h1v1h-1zM373.5,470.8h1v1h-1zM366.5,459.0h1v1h-1zM368.2,441.9h1v1h-1zM369.4,455.1h1v1h-1zM363.2,465.9h1v1h-1zM373.3,452.8h1v1h-1zM362.8,461.9h1v1h-1zM363.4,451.1h1v1h-1zM365.9,466.8h1v1h-1zM367.6,456.1h1v1h-1zM367.2,463.2h1v1h-1zM368.6,464.8h1v1h-1zM368.7,465.0h1v1h-1zM367.5,450.8h1v1h-1zM373.3,453.8h1v1h-1zM366.2,471.3h1v1h-1zM365.9,451.0h1v1h-1zM367.2,471.0h1v1h-1zM359.0,471.2h1v1h-1zM374.1,451.8h1v1h-1zM367.1,451.1h1v1h-1zM353.4,453.8h1v1h-1zM358.5,446.0h1v1h-1zM366.3,463.5h1v1h-1zM362.2,456.4h1v1h-1zM363.6,457.1h1v1h-1zM373.0,467.0h1v1h-1zM374.7,458.7h1v1h-1zM381.0,459.8h1v1h-1zM373.7,460.8h1v1h-1zM376.4,445.2h1v1h-1zM362.6,460.2h1v1h-1zM355.4,459.3h1v1h-1zM367.0,460.8h1v1h-1zM375.3,467.1h1v1h-1zM372.5,469.3h1v1h-1zM364.7,462.5h1v1h-1zM368.5,448.7h1v1h-1zM371.7,465.2h1v1h-1zM366.8,458.8h1v1h-1zM378.5,452.3h1v1h-1zM367.1,460.6h1v1h-1zM373.3,459.5h1v1h-1zM379.7,457.7h1v1h-1zM360.0,445.3h1v1h-1zM368.9,472.7h1v1h-1zM370.0,452.9h1v1h-1zM371.9,461.1h1v1h-1zM379.7,441.9h1v1h-1zM375.8,456.6h1v1h-1zM376.3,464.7h1v1h-1zM351.6,471.5h1v1h-1zM373.6,448.4h1v1h-1zM368.6,467.1h1v1h-1zM357.4,469.2h1v1h-1zM376.0,471.0h1v1h-1zM362.8,453.6h1v1h-1zM377.7,451.7h1v1h-1zM372.9,431.9h1v1h-1zM388.9,433.4h1v1h-1zM356.3,466.1h1v1h-1zM373.6,448.2h1v1h-1zM351.7,468.1h1v1h-1zM371.4,447.9h1v1h-1zM370.6,451.3h1v1h-1zM361.3,466.3h1v1h-1zM369.6,457.4h1v1h-1zM359.5,453.9h1v1h-1zM367.3,452.2h1v1h-1zM372.3,456.4h1v1h-1zM367.7,456.1h1v1h-1zM372.8,465.3h1v1h-1zM360.8,468.8h1v1h-1zM376.8,461.9h1v1h-1zM365.0,460.5h1v1h-1zM386.6,439.0h1v1h-1zM376.3,452.4h1v1h-1zM383.0,453.8h1v1h-1zM376.4,449.0h1v1h-1zM365.5,473.2h1v1h-1zM359.2,455.6h1v1h-1zM367.5,446.2h1v1h-1zM374.6,444.0h1v1h-1zM369.9,454.7h1v1h-1zM351.7,464.4h1v1h-1zM357.0,461.5h1v1h-1zM376.1,457.3h1v1h-1zM378.6,469.0h1v1h-1zM375.5,453.2h1v1h-1zM368.6,463.1h1v1h-1zM359.5,450.8h1v1h-1zM369.4,473.2h1v1h-1zM360.5,462.4h1v1h-1zM363.8,465.6h1v1h-1zM372.4,455.7h1v1h-1zM376.9,452.2h1v1h-1zM368.6,460.2h1v1h-1zM375.9,447.4h1v1h-1zM365.7,451.3h1v1h-1zM374.2,459.2h1v1h-1zM371.1,444.4h1v1h-1zM362.9,445.9h1v1h-1zM358.5,453.9h1v1h-1zM371.9,460.8h1v1h-1zM354.9,467.7h1v1h-1zM372.4,470.7h1v1h-1zM376.4,440.8h1v1h-1zM373.5,457.8h1v1h-1zM372.2,449.3h1v1h-1zM381.1,454.0h1v1h-1zM364.8,441.8h1v1h-1zM367.4,444.9h1v1h-1zM369.0,466.2h1v1h-1zM378.5,460.8h1v1h-1zM366.0,447.3h1v1h-1zM368.2,458.6h1v1h-1zM368.3,454.6h1v1h-1zM370.7,443.2h1v1h-1zM378.1,443.1h1v1h-1zM370.5,448.5h1v1h-1zM380.5,448.1h1v1h-1zM362.0,456.0h1v1h-1zM376.7,443.1h1v1h-1zM359.0,455.6h1v1h-1zM375.7,427.6h1v1h-1zM368.1,466.1h1v1h-1zM368.5,440.0h1v1h-1zM366.0,463.8h1v1h-1zM360.5,457.2h1v1h-1zM364.1,462.4h1v1h-1zM389.7,450.9h1v1h-1zM367.1,453.8h1v1h-1zM373.6,462.7h1v1h-1zM371.3,459.6h1v1h-1zM371.0,445.2h1v1h-1zM375.9,462.9h1v1h-1zM363.1,442.7h1v1h-1zM364.6,460.3h1v1h-1zM381.0,455.1h1v1h-1zM370.0,459.0h1v1h-1zM357.1,457.7h1v1h-1zM370.7,463.0h1v1h-1zM376.2,470.1h1v1h-1zM363.9,454.8h1v1h-1zM365.9,462.8h1v1h-1zM385.9,453.1h1v1h-1zM370.9,447.9h1v1h-1zM368.8,470.4h1v1h-1zM376.3,450.0h1v1h-1zM371.6,447.7h1v1h-1zM374.7,453.8h1v1h-1zM376.0,466.5h1v1h-1zM364.7,466.0h1v1h-1zM373.1,450.8h1v1h-1zM371.8,467.8h1v1h-1zM370.9,465.6h1v1h-1zM372.4,467.8h1v1h-1zM368.5,454.1h1v1h-1zM374.7,433.7h1v1h-1zM365.3,472.7h1v1h-1zM382.8,447.8h1v1h-1zM363.4,462.7h1v1h-1zM377.0,470.8h1v1h-1zM382.1,446.0h1v1h-1zM376.7,449.7h1v1h-1zM378.4,458.3h1v1h-1zM381.4,452.1h1v1h-1zM376.4,442.6h1v1h-1zM361.6,464.3h1v1h-1zM370.5,464.9h1v1h-1zM388.5,444.7h1v1h-1zM359.9,450.2h1v1h-1zM364.5,469.5h1v1h-1zM372.8,453.0h1v1h-1zM375.2,453.4h1v1h-1zM371.8,456.0h1v1h-1zM358.5,468.2h1v1h-1zM370.5,450.9h1v1h-1z" fill="#666"/>
<path d="M389.6,451.9h1v1h-1zM387.1,455.2h1v1h-1zM391.4,450.1h1v1h-1zM386.3,454.8h1v1h-1zM376.1,458.0h1v1h-1zM395.6,465.5h1v1h-1zM391.2,457.6h1v1h-1zM398.6,456.0h1v1h-1zM395.4,442.5h1v1h-1zM373.6,451.8h1v1h-1zM400.8,456.2h1v1h-1zM392.9,448.3h1v1h-1zM406.8,475.1h1v1h-1zM387.7,452.4h1v1h-1zM390.6,456.3h1v1h-1zM382.1,435.4h1v1h-1zM390.2,437.9h1v1h-1zM381.7,444.2h1v1h-1zM411.0,446.6h1v1h-1zM383.0,462.1h1v1h-1zM383.9,460.9h1v1h-1zM398.5,452.6h1v1h-1zM393.7,457.4h1v1h-1zM372.3,461.3h1v1h-1zM375.1,468.3h1v1h-1zM387.7,460.2h1v1h-1zM399.4,450.8h1v1h-1zM378.3,472.0h1v1h-1zM396.1,462.6h1v1h-1zM364.3,458.8h1v1h-1zM376.6,452.9h1v1h-1zM368.5,443.1h1v1h-1zM382.6,462.1h1v1h-1zM381.7,456.8h1v1h-1zM388.6,471.2h1v1h-1zM380.9,459.7h1v1h-1zM397.4,447.3h1v1h-1zM375.2,454.3h1v1h-1zM404.4,453.8h1v1h-1zM372.9,440.8h1v1h-1zM389.7,468.4h1v1h-1zM378.3,454.7h1v1h-1zM374.6,451.6h1v1h-1zM399.9,453.4h1v1h-1zM375.3,464.2h1v1h-1zM390.9,458.0h1v1h-1zM412.2,461.3h1v1h-1zM401.6,446.8h1v1h-1zM387.0,470.4h1v1h-1zM396.7,467.1h1v1h-1zM370.2,455.8h1v1h-1zM407.8,472.2h1v1h-1zM351.0,440.6h1v1h-1zM404.2,466.0h1v1h-1zM403.7,432.1h1v1h-1zM388.9,466.0h1v1h-1zM402.5,449.3h1v1h-1zM400.5,465.9h1v1h-1zM381.6,473.4h1v1h-1zM403.2,466.9h1v1h-1zM382.3,461.1h1v1h-1zM387.5,474.1h1v1h-1zM412.1,462.6h1v1h-1zM379.7,451.6h1v1h-1zM406.5,461.5h1v1h-1zM379.8,456.6h1v1h-1zM383.2,457.2h1v1h-1zM409.8,452.0h1v1h-1zM384.0,429.8h1v1h-1zM394.0,467.3h1v1h-1zM412.9,452.6h1v1h-1zM384.3,454.6h1v1h-1zM372.8,458.4h1v1h-1zM378.4,456.3h1v1h-1zM389.8,465.5h1v1h-1zM392.0,463.3h1v1h-1zM394.3,457.5h1v1h-1zM399.7,459.9h1v1h-1zM371.5,453.4h1v1h-1zM406.0,443.2h1v1h-1zM409.5,459.5h1v1h-1zM391.1,470.1h1v1h-1zM390.7,453.9h1v1h-1zM361.2,452.5h1v1h-1zM373.6,465.0h1v1h-1zM389.2,449.5h1v1h-1zM402.3,466.7h1v1h-1zM372.9,459.3h1v1h-1zM397.3,466.7h1v1h-1zM371.8,462.8h1v1h-1zM396.2,462.1h1v1h-1zM368.0,454.0h1v1h-1zM386.5,456.2h1v1h-1zM399.2,454.7h1v1h-1zM365.4,438.3h1v1h-1zM393.9,450.7h1v1h-1zM387.5,468.7h1v1h-1zM381.6,458.0h1v1h-1zM370.2,447.0h1v1h-1zM395.2,469.2h1v1h-1zM379.9,456.5h1v1h-1zM392.1,454.2h1v1h-1zM388.9,454.5h1v1h-1zM395.4,453.4h1v1h-1zM382.2,445.4h1v1h-1zM378.5,444.3h1v1h-1zM386.3,467.6h1v1h-1zM372.2,450.2h1v1h-1zM378.6,462.6h1v1h-1zM384.3,455.2h1v1h-1zM376.2,455.7h1v1h-1zM383.7,450.7h1v1h-1zM405.4,462.8h1v1h-1zM386.0,461.1h1v1h-1zM381.4,457.9h1v1h-1zM402.1,462.5h1v1h-1zM384.6,459.1h1v1h-1zM374.2,455.2h1v1h-1zM383.0,455.9h1v1h-1zM404.8,458.5h1v1h-1zM402.3,458.1h1v1h-1zM369.5,469.5h1v1h-1zM381.3,457.1h1v1h-1zM401.6,471.2h1v1h-1zM390.0,470.0h1v1h-1zM381.9,464.2h1v1h-1zM376.8,467.3h1v1h-1zM381.1,464.3h1v1h-1zM373.2,471.6h1v1h-1zM408.1,455.7h1v1h-1zM388.8,449.2h1v1h-1zM385.6,444.7h1v1h-1zM396.9,457.5h1v1h-1zM402.4,458.1h1v1h-1zM385.2,450.4h1v1h-1zM395.9,457.0h1v1h-1zM373.3,444.3h1v1h-1zM399.8,457.2h1v1h-1zM387.2,453.0h1v1h-1zM381.5,458.0h1v1h-1zM390.4,447.0h1v1h-1zM364.5,458.7h1v1h-1zM401.9,452.1h1v1h-1zM371.2,463.1h1v1h-1zM380.4,458.1h1v1h-1zM408.4,458.1h1v1h-1zM404.4,450.9h1v1h-1zM365.6,454.5h1v1h-1zM383.2,464.4h1v1h-1zM393.5,439.8h1v1h-1zM374.3,454.0h1v1h-1zM379.1,452.1h1v1h-1zM383.9,459.5h1v1h-1zM369.5,449.5h1v1h-1zM376.8,469.2h1v1h-1zM385.9,444.4h1v1h-1zM394.0,466.7h1v1h-1zM368.2,446.8h1v1h-1zM393.5,458.6h1v1h-1zM395.5,472.9h1v1h-1zM396.2,467.3h1v1h-1zM382.0,471.1h1v1h-1zM379.4,461.2h1v1h-1zM363.2,454.3h1v1h-1zM397.7,449.6h1v1h-1zM382.2,438.1h1v1h-1zM383.8,445.9h1v1h-1zM388.7,453.6h1v1h-1zM379.6,455.0h1v1h-1zM382.9,458.0h1v1h-1zM384.8,468.6h1v1h-1zM401.1,434.9h1v1h-1zM404.5,456.0h1v1h-1zM392.4,449.7h1v1h-1zM395.5,463.3h1v1h-1zM381.1,447.6h1v1h-1zM394.4,462.1h1v1h-1zM376.9,438.3h1v1h-1zM374.4,461.7h1v1h-1zM403.6,449.0h1v1h-1zM381.1,448.0h1v1h-1zM392.4,450.7h1v1h-1zM408.7,463.4h1v1h-1zM385.6,454.3h1v1h-1zM400.5,454.3h1v1h-1zM383.3,459.0h1v1h-1zM401.0,471.1h1v1h-1zM383.8,446.7h1v1h-1zM376.9,456.4h1v1h-1zM395.9,433.8h1v1h-1zM396.0,461.7h1v1h-1zM390.6,444.4h1v1h-1zM389.3,453.2h1v1h-1zM376.6,463.5h1v1h-1zM403.4,459.7h1v1h-1zM395.2,467.1h1v1h-1zM388.6,454.1h1v1h-1zM406.4,452.2h1v1h-1zM384.5,461.0h1v1h-1zM383.1,449.2h1v1h-1zM401.5,457.8h1v1h-1zM379.8,452.6h1v1h-1zM395.4,465.4h1v1h-1zM390.7,468.5h1v1h-1zM388.1,472.5h1v1h-1zM399.3,447.4h1v1h-1zM387.1,460.9h1v1h-1zM388.1,448.9h1v1h-1zM394.0,457.3h1v1h-1zM370.3,446.2h1v1h-1zM383.6,466.4h1v1h-1zM387.9,459.6h1v1h-1zM399.8,455.9h1v1h-1zM388.5,457.2h1v1h-1zM399.3,451.9h1v1h-1zM393.0,451.3h1v1h-1zM389.4,468.0h1v1h-1zM378.9,462.3h1v1h-1zM389.3,460.0h1v1h-1zM394.7,458.6h1v1h-1zM394.4,474.4h1v1h-1zM380.1,448.1h1v1h-1zM397.4,461.5h1v1h-1zM412.3,452.2h1v1h-1zM397.1,452.9h1v1h-1zM382.6,452.5h1v1h-1zM378.7,449.3h1v1h-1zM384.6,456.4h1v1h-1zM389.1,465.3h1v1h-1zM377.7,457.1h1v1h-1zM378.0,465.4h1v1h-1zM377.6,454.7h1v1h-1zM379.1,467.7h1v1h-1zM374.1,447.5h1v1h-1zM383.8,454.7h1v1h-1zM377.5,468.2h1v1h-1zM381.9,438.9h1v1h-1zM386.1,445.9h1v1h-1zM380.7,453.4h1v1h-1zM377.8,454.1h1v1h-1zM383.8,463.5h1v1h-1zM383.0,468.2h1v1h-1zM408.5,465.0h1v1h-1zM389.5,468.7h1v1h-1zM382.1,446.7h1v1h-1zM404.3,449.9h1v1h-1zM376.2,459.2h1v1h-1zM377.5,464.0h1v1h-1zM389.4,456.0h1v1h-1zM381.8,471.2h1v1h-1zM404.7,468.2h1v1h-1zM373.0,472.9h1v1h-1zM389.7,473.4h1v1h-1zM394.7,451.8h1v1h-1zM369.0,451.8h1v1h-1zM402.6,453.8h1v1h-1zM407.8,446.3h1v1h-1zM396.0,456.9h1v1h-1zM372.0,461.4h1v1h-1zM383.7,455.3h1v1h-1zM364.0,448.8h1v1h-1zM380.7,456.6h1v1h-1zM383.6,459.8h1v1h-1zM384.6,469.4h1v1h-1zM395.2,467.0h1v1h-1zM370.4,459.4h1v1h-1zM386.7,463.7h1v1h-1zM380.6,459.2h1v1h-1zM376.8,454.7h1v1h-1zM392.5,453.4h1v1h-1zM378.5,456.7h1v1h-1zM392.2,461.7h1v1h-1zM374.5,454.0h1v1h-1zM374.7,448.8h1v1h-1zM396.6,455.3h1v1h-1zM398.4,472.0h1v1h-1zM402.8,464.5h1v1h-1zM397.3,465.8h1v1h-1zM392.4,461.4h1v1h-1zM383.6,442.5h1v1h-1zM393.9,464.1h1v1h-1zM388.1,464.9h1v1h-1zM386.5,457.2h1v1h-1zM395.6,442.5h1v1h-1zM404.7,454.5h1v1h-1zM394.7,463.5h1v1h-1zM407.0,473.3h1v1h-1zM373.0,449.2h1v1h-1zM390.2,443.1h1v1h-1zM395.5,456.9h1v1h-1zM379.0,465.6h1v1h-1zM377.2,451.2h1v1h-1zM388.0,465.8h1v1h-1zM385.8,454.8h1v1h-1zM390.4,454.6h1v1h-1zM366.3,466.3h1v1h-1zM393.8,468.0h1v1h-1zM389.5,462.3h1v1h-1zM368.4,445.5h1v1h-1zM365.3,468.7h1v1h-1zM379.8,470.1h1v1h-1zM393.1,453.9h1v1h-1zM386.8,450.7h1v1h-1zM382.7,461.0h1v1h-1zM395.9,453.5h1v1h-1zM369.3,468.3h1v1h-1zM374.9,464.5h1v1h-1zM370.0,449.7h1v1h-1zM364.4,463.9h1v1h-1zM409.9,459.2h1v1h-1zM363.6,455.9h1v1h-1zM390.8,461.3h1v1h-1zM389.6,448.8h1v1h-1zM384.1,475.2h1v1h-1zM381.3,454.4h1v1h-1zM373.6,452.3h1v1h-1zM401.9,461.3h1v1h-1zM381.7,454.7h1v1h-1zM397.3,452.8h1v1h-1zM378.3,455.1h1v1h-1zM357.5,468.3h1v1h-1zM378.1,464.8h1v1h-1zM387.5,467.2h1v1h-1zM394.2,456.0h1v1h-1zM391.3,439.1h1v1h-1zM374.2,439.3h1v1h-1zM391.6,444.7h1v1h-1zM369.3,461.4h1v1h-1zM395.1,456.1h1v1h-1zM404.8,460.2h1v1h-1zM411.6,465.6h1v1h-1zM412.1,433.9h1v1h-1zM396.6,465.1h1v1h-1z" fill="#bbb"/>
<rect x="350.0" y="416.0" width="64.89999999999998" height="61.0" fill="none" stroke="#555" stroke-width="1.0"/>
<line x1="374.9" y1="416.0" x2="374.9" y2="477.0" stroke="#777" stroke-width="1.0"/>
<line x1="350.0" y1="456.5" x2="414.9" y2="456.5" stroke="#666" stroke-width="1.0"/>
<text x="360.3" y="427.4" font-size="9.2" font-weight="bold" text-anchor="middle" stroke="#111" stroke-width="0.2">24</text>
<text x="403.8" y="427.4" font-size="9.2" font-weight="bold" text-anchor="middle" stroke="#111" stroke-width="0.2">7</text>
<text x="402.0" y="471.9" font-size="9.2" font-weight="bold" text-anchor="middle" stroke="#111" stroke-width="0.2">28</text>
<text transform="translate(347.8,479.2) rotate(-90)" font-size="4.4" fill="#333" stroke="#333" stroke-width="0.15">10</text>
<text transform="translate(345.4,475.0) rotate(-90)" font-size="3.0" fill="#333" stroke="#333" stroke-width="0.1">0</text>
<text x="349.4" y="483.4" font-size="4.6" text-anchor="middle" fill="#333" stroke="#333" stroke-width="0.15">10</text>
<text x="352.6" y="481.4" font-size="3.2" text-anchor="middle" fill="#333" stroke="#333" stroke-width="0.1">0</text>
<text transform="translate(347.8,463.95) rotate(-90)" font-size="4.4" fill="#333" stroke="#333" stroke-width="0.15">10</text>
<text transform="translate(345.4,459.75) rotate(-90)" font-size="3.0" fill="#333" stroke="#333" stroke-width="0.1">1</text>
<text x="365.625" y="483.4" font-size="4.6" text-anchor="middle" fill="#333" stroke="#333" stroke-width="0.15">10</text>
<text x="368.82500000000005" y="481.4" font-size="3.2" text-anchor="middle" fill="#333" stroke="#333" stroke-width="0.1">1</text>
<text transform="translate(347.8,448.7) rotate(-90)" font-size="4.4" fill="#333" stroke="#333" stroke-width="0.15">10</text>
<text transform="translate(345.4,444.5) rotate(-90)" font-size="3.0" fill="#333" stroke="#333" stroke-width="0.1">2</text>
<text x="381.84999999999997" y="483.4" font-size="4.6" text-anchor="middle" fill="#333" stroke="#333" stroke-width="0.15">10</text>
<text x="385.05" y="481.4" font-size="3.2" text-anchor="middle" fill="#333" stroke="#333" stroke-width="0.1">2</text>
<text transform="translate(347.8,433.45) rotate(-90)" font-size="4.4" fill="#333" stroke="#333" stroke-width="0.15">10</text>
<text transform="translate(345.4,429.25) rotate(-90)" font-size="3.0" fill="#333" stroke="#333" stroke-width="0.1">3</text>
<text x="398.07499999999993" y="483.4" font-size="4.6" text-anchor="middle" fill="#333" stroke="#333" stroke-width="0.15">10</text>
<text x="401.275" y="481.4" font-size="3.2" text-anchor="middle" fill="#333" stroke="#333" stroke-width="0.1">3</text>
<text transform="translate(347.8,418.2) rotate(-90)" font-size="4.4" fill="#333" stroke="#333" stroke-width="0.15">10</text>
<text transform="translate(345.4,414.0) rotate(-90)" font-size="3.0" fill="#333" stroke="#333" stroke-width="0.1">4</text>
<text x="414.29999999999995" y="483.4" font-size="4.6" text-anchor="middle" fill="#333" stroke="#333" stroke-width="0.15">10</text>
<text x="417.5" y="481.4" font-size="3.2" text-anchor="middle" fill="#333" stroke="#333" stroke-width="0.1">4</text>
<path d="M454.2,451.0h1v1h-1zM450.3,453.0h1v1h-1zM449.6,455.7h1v1h-1zM454.6,433.7h1v1h-1zM447.3,442.6h1v1h-1zM446.8,456.5h1v1h-1zM449.5,454.4h1v1h-1zM451.5,452.7h1v1h-1zM447.7,452.4h1v1h-1zM445.1,452.7h1v1h-1zM448.5,455.4h1v1h-1zM443.2,466.6h1v1h-1zM448.6,440.5h1v1h-1zM448.3,457.2h1v1h-1zM449.2,448.6h1v1h-1zM445.7,457.2h1v1h-1zM449.4,453.8h1v1h-1zM447.5,463.0h1v1h-1zM442.4,459.0h1v1h-1zM443.0,443.4h1v1h-1zM449.5,457.9h1v1h-1zM447.8,456.7h1v1h-1zM448.2,461.6h1v1h-1zM446.7,458.5h1v1h-1zM450.0,438.9h1v1h-1zM453.0,443.3h1v1h-1zM444.8,451.4h1v1h-1zM451.9,445.9h1v1h-1zM451.6,442.1h1v1h-1zM449.7,438.0h1v1h-1zM447.8,463.1h1v1h-1zM446.9,455.5h1v1h-1zM442.4,471.7h1v1h-1zM448.0,456.5h1v1h-1zM447.4,445.8h1v1h-1zM447.6,451.0h1v1h-1zM445.1,454.9h1v1h-1zM445.3,452.1h1v1h-1zM438.8,455.4h1v1h-1zM449.9,452.7h1v1h-1zM447.9,456.2h1v1h-1zM454.8,448.4h1v1h-1zM449.2,451.1h1v1h-1zM450.0,455.8h1v1h-1zM452.1,452.2h1v1h-1zM446.6,453.6h1v1h-1zM446.1,465.2h1v1h-1zM446.3,442.5h1v1h-1zM448.0,446.6h1v1h-1zM449.4,452.6h1v1h-1zM445.8,443.7h1v1h-1zM447.6,443.7h1v1h-1zM448.1,454.3h1v1h-1zM447.3,454.9h1v1h-1zM447.3,466.2h1v1h-1zM442.5,450.7h1v1h-1zM452.7,438.8h1v1h-1zM450.9,448.3h1v1h-1zM448.7,441.6h1v1h-1zM447.3,452.7h1v1h-1zM441.2,460.4h1v1h-1zM447.1,436.9h1v1h-1zM449.2,449.0h1v1h-1zM443.4,466.6h1v1h-1zM448.2,444.1h1v1h-1zM445.5,457.8h1v1h-1zM446.7,459.7h1v1h-1zM444.3,458.9h1v1h-1zM450.2,454.5h1v1h-1zM445.8,448.1h1v1h-1zM444.6,457.2h1v1h-1zM447.7,462.3h1v1h-1zM447.5,463.4h1v1h-1zM447.7,460.9h1v1h-1zM452.1,450.7h1v1h-1zM444.2,460.1h1v1h-1zM449.2,449.4h1v1h-1zM447.8,458.3h1v1h-1zM441.4,464.1h1v1h-1zM454.2,441.3h1v1h-1zM452.9,444.3h1v1h-1zM447.6,450.8h1v1h-1zM448.5,446.6h1v1h-1zM446.5,452.8h1v1h-1zM445.4,455.2h1v1h-1zM452.2,442.3h1v1h-1zM449.3,445.9h1v1h-1zM444.6,456.4h1v1h-1zM447.6,460.8h1v1h-1zM451.0,450.4h1v1h-1zM446.3,464.8h1v1h-1zM444.0,451.4h1v1h-1zM451.1,452.6h1v1h-1zM450.8,448.3h1v1h-1zM451.1,458.3h1v1h-1zM441.9,463.3h1v1h-1zM452.0,441.0h1v1h-1zM445.3,458.5h1v1h-1zM450.7,449.8h1v1h-1zM442.9,459.9h1v1h-1zM448.2,449.8h1v1h-1zM452.2,432.6h1v1h-1zM448.9,447.4h1v1h-1zM450.6,447.8h1v1h-1zM454.6,447.3h1v1h-1zM446.7,442.1h1v1h-1zM447.7,452.9h1v1h-1zM454.0,449.2h1v1h-1zM449.2,444.8h1v1h-1zM449.3,444.3h1v1h-1zM443.7,460.7h1v1h-1zM447.0,443.9h1v1h-1zM452.5,457.1h1v1h-1zM450.1,438.3h1v1h-1zM445.7,448.1h1v1h-1zM451.7,448.1h1v1h-1zM445.7,445.0h1v1h-1zM446.1,456.2h1v1h-1zM447.7,456.9h1v1h-1zM450.4,441.8h1v1h-1zM451.5,449.3h1v1h-1zM454.2,445.3h1v1h-1zM447.4,452.6h1v1h-1zM452.9,451.5h1v1h-1zM452.7,455.6h1v1h-1zM449.8,468.2h1v1h-1zM448.3,450.8h1v1h-1zM452.5,439.5h1v1h-1zM449.7,458.4h1v1h-1zM445.5,441.4h1v1h-1zM443.7,465.8h1v1h-1zM457.3,436.4h1v1h-1zM444.1,447.6h1v1h-1zM454.1,452.0h1v1h-1zM451.0,444.3h1v1h-1zM451.0,444.2h1v1h-1zM450.6,444.4h1v1h-1zM444.3,453.4h1v1h-1zM450.1,453.0h1v1h-1zM446.8,460.9h1v1h-1zM443.1,443.4h1v1h-1zM450.7,448.7h1v1h-1zM448.5,448.8h1v1h-1zM450.5,451.8h1v1h-1zM453.5,439.9h1v1h-1zM444.3,455.7h1v1h-1zM447.8,450.7h1v1h-1zM441.2,462.7h1v1h-1zM454.6,448.5h1v1h-1zM453.0,451.9h1v1h-1zM449.6,454.0h1v1h-1zM452.5,451.4h1v1h-1zM451.0,449.2h1v1h-1zM446.1,457.4h1v1h-1zM447.3,457.8h1v1h-1zM441.0,473.4h1v1h-1zM453.3,458.4h1v1h-1zM450.1,442.7h1v1h-1zM447.4,444.8h1v1h-1zM450.2,450.6h1v1h-1zM449.3,437.6h1v1h-1zM443.5,441.2h1v1h-1zM453.7,450.5h1v1h-1zM449.0,449.1h1v1h-1zM442.5,455.8h1v1h-1zM447.3,447.2h1v1h-1zM452.3,433.2h1v1h-1zM449.4,457.3h1v1h-1zM451.6,437.7h1v1h-1zM439.0,472.6h1v1h-1zM453.8,445.4h1v1h-1zM447.9,455.4h1v1h-1zM452.6,448.8h1v1h-1zM447.6,454.8h1v1h-1zM450.2,465.8h1v1h-1zM448.9,444.9h1v1h-1zM455.6,455.9h1v1h-1zM454.0,439.4h1v1h-1zM446.8,443.9h1v1h-1zM448.4,462.2h1v1h-1zM452.2,448.7h1v1h-1zM449.7,454.6h1v1h-1zM448.4,444.5h1v1h-1zM446.4,466.8h1v1h-1zM445.6,446.9h1v1h-1zM450.9,447.2h1v1h-1zM447.7,454.3h1v1h-1zM448.4,440.0h1v1h-1zM452.2,449.9h1v1h-1zM455.0,451.7h1v1h-1zM446.9,450.7h1v1h-1zM446.4,438.0h1v1h-1zM451.5,444.0h1v1h-1zM452.4,449.4h1v1h-1zM448.5,464.4h1v1h-1zM445.6,468.5h1v1h-1zM447.6,469.3h1v1h-1zM453.1,443.6h1v1h-1zM455.2,448.4h1v1h-1zM450.2,447.5h1v1h-1zM448.8,448.9h1v1h-1zM447.8,459.0h1v1h-1zM451.9,458.0h1v1h-1zM453.2,446.7h1v1h-1zM451.6,447.1h1v1h-1zM451.0,454.3h1v1h-1zM450.3,444.4h1v1h-1zM444.8,469.0h1v1h-1zM446.2,450.2h1v1h-1zM450.4,447.5h1v1h-1zM450.5,460.4h1v1h-1zM443.5,458.3h1v1h-1zM451.1,439.1h1v1h-1zM451.6,460.1h1v1h-1zM449.1,455.2h1v1h-1zM448.0,460.3h1v1h-1zM447.2,453.8h1v1h-1zM446.7,449.0h1v1h-1zM453.1,447.1h1v1h-1zM452.2,436.6h1v1h-1zM444.8,449.6h1v1h-1zM455.8,453.3h1v1h-1zM456.9,440.1h1v1h-1zM451.2,452.3h1v1h-1zM448.1,457.3h1v1h-1zM448.9,455.5h1v1h-1zM442.7,450.7h1v1h-1zM445.5,468.1h1v1h-1zM452.2,441.3h1v1h-1zM450.8,445.7h1v1h-1zM445.0,449.2h1v1h-1zM459.6,441.3h1v1h-1zM448.7,461.5h1v1h-1zM450.0,442.5h1v1h-1zM456.7,460.2h1v1h-1zM451.9,442.5h1v1h-1zM448.8,452.9h1v1h-1zM445.1,475.7h1v1h-1zM449.1,447.6h1v1h-1zM448.1,450.4h1v1h-1zM440.1,462.4h1v1h-1zM453.2,449.1h1v1h-1zM450.6,449.6h1v1h-1zM442.9,462.8h1v1h-1zM451.5,441.6h1v1h-1zM445.0,451.7h1v1h-1zM444.4,438.3h1v1h-1zM447.6,448.9h1v1h-1zM449.5,460.3h1v1h-1zM445.8,443.6h1v1h-1zM448.7,457.2h1v1h-1zM454.1,453.4h1v1h-1zM449.5,451.7h1v1h-1zM442.9,463.5h1v1h-1zM451.8,448.3h1v1h-1zM448.0,456.0h1v1h-1zM450.6,454.0h1v1h-1zM450.5,438.9h1v1h-1zM447.1,441.6h1v1h-1zM451.9,468.0h1v1h-1zM446.2,453.8h1v1h-1zM449.9,445.6h1v1h-1zM455.0,447.0h1v1h-1zM456.7,460.7h1v1h-1zM450.8,444.4h1v1h-1zM453.7,444.9h1v1h-1zM446.2,453.3h1v1h-1zM453.0,441.6h1v1h-1zM448.2,459.2h1v1h-1zM448.0,459.5h1v1h-1zM453.4,443.5h1v1h-1zM444.8,447.4h1v1h-1zM453.5,451.2h1v1h-1zM449.3,448.6h1v1h-1zM452.8,444.3h1v1h-1zM458.7,444.0h1v1h-1zM443.3,465.7h1v1h-1zM449.9,450.7h1v1h-1zM448.4,461.4h1v1h-1zM447.3,465.2h1v1h-1zM446.3,461.4h1v1h-1zM443.7,464.6h1v1h-1zM445.6,453.7h1v1h-1zM451.7,443.3h1v1h-1zM450.9,449.8h1v1h-1zM453.6,453.6h1v1h-1zM449.9,449.5h1v1h-1zM445.8,465.6h1v1h-1zM448.2,443.4h1v1h-1zM446.2,440.8h1v1h-1zM445.9,451.8h1v1h-1zM449.9,457.7h1v1h-1zM451.9,435.2h1v1h-1zM447.3,458.0h1v1h-1zM450.2,450.4h1v1h-1zM446.2,460.0h1v1h-1zM448.7,450.3h1v1h-1zM448.6,450.5h1v1h-1zM450.0,458.8h1v1h-1zM449.2,446.8h1v1h-1zM448.6,451.1h1v1h-1zM450.7,455.6h1v1h-1zM454.8,452.2h1v1h-1zM443.0,451.9h1v1h-1zM444.5,458.7h1v1h-1zM457.3,446.4h1v1h-1zM447.0,464.2h1v1h-1zM451.2,443.4h1v1h-1zM445.6,466.3h1v1h-1zM451.7,433.5h1v1h-1zM446.3,458.8h1v1h-1zM444.2,456.8h1v1h-1zM445.8,442.7h1v1h-1zM447.1,449.8h1v1h-1zM449.9,438.0h1v1h-1zM449.9,448.1h1v1h-1zM443.3,466.8h1v1h-1zM447.3,456.6h1v1h-1zM454.5,449.0h1v1h-1zM452.3,449.9h1v1h-1zM446.9,455.4h1v1h-1zM443.3,461.3h1v1h-1zM451.9,451.9h1v1h-1zM446.5,445.5h1v1h-1zM446.3,452.5h1v1h-1zM443.9,471.4h1v1h-1zM446.0,455.8h1v1h-1zM447.2,454.5h1v1h-1zM441.3,452.4h1v1h-1zM448.8,451.6h1v1h-1zM450.3,446.4h1v1h-1zM451.8,450.4h1v1h-1zM448.7,452.2h1v1h-1zM452.7,447.6h1v1h-1zM454.4,446.9h1v1h-1zM449.8,450.9h1v1h-1zM450.0,454.2h1v1h-1zM446.7,460.1h1v1h-1zM458.1,446.1h1v1h-1zM449.3,445.5h1v1h-1zM446.2,448.7h1v1h-1zM449.8,445.8h1v1h-1zM454.6,442.6h1v1h-1zM445.7,448.5h1v1h-1zM448.6,451.2h1v1h-1zM452.2,443.0h1v1h-1zM450.1,457.6h1v1h-1zM447.9,440.1h1v1h-1zM449.7,458.5h1v1h-1zM450.3,450.4h1v1h-1zM442.0,471.1h1v1h-1zM448.2,443.8h1v1h-1zM447.7,454.3h1v1h-1zM449.0,445.0h1v1h-1zM457.5,452.0h1v1h-1zM452.5,452.8h1v1h-1zM447.5,444.7h1v1h-1zM444.3,464.6h1v1h-1zM449.2,463.6h1v1h-1zM440.8,470.2h1v1h-1zM450.5,446.1h1v1h-1zM452.0,443.6h1v1h-1zM447.9,456.8h1v1h-1zM449.4,453.4h1v1h-1zM449.7,458.7h1v1h-1zM445.9,440.3h1v1h-1zM445.6,437.5h1v1h-1zM455.8,439.6h1v1h-1zM448.7,454.5h1v1h-1zM446.1,451.1h1v1h-1zM449.8,450.9h1v1h-1zM451.8,447.0h1v1h-1zM446.5,443.6h1v1h-1zM442.9,460.2h1v1h-1zM450.0,447.7h1v1h-1zM453.2,427.3h1v1h-1zM451.2,440.6h1v1h-1zM447.7,451.4h1v1h-1zM446.2,452.6h1v1h-1zM449.9,468.5h1v1h-1zM448.9,457.2h1v1h-1zM451.8,441.7h1v1h-1zM450.6,447.0h1v1h-1zM452.1,444.2h1v1h-1zM452.7,441.2h1v1h-1zM447.2,459.9h1v1h-1zM452.5,454.4h1v1h-1zM456.0,451.9h1v1h-1zM448.8,458.8h1v1h-1zM445.9,461.0h1v1h-1zM450.3,449.2h1v1h-1zM446.3,462.4h1v1h-1zM441.7,458.2h1v1h-1zM443.8,454.7h1v1h-1zM447.3,447.4h1v1h-1zM446.7,456.3h1v1h-1zM455.9,457.3h1v1h-1zM448.2,449.5h1v1h-1zM451.1,443.3h1v1h-1zM443.6,464.7h1v1h-1zM447.4,464.7h1v1h-1zM450.1,439.8h1v1h-1zM449.9,454.4h1v1h-1zM449.1,441.5h1v1h-1zM443.5,471.4h1v1h-1zM438.9,455.4h1v1h-1zM451.7,462.1h1v1h-1zM451.2,449.2h1v1h-1zM450.2,458.9h1v1h-1zM447.0,463.3h1v1h-1zM449.8,452.5h1v1h-1zM450.4,452.5h1v1h-1zM445.6,466.9h1v1h-1zM447.1,451.7h1v1h-1zM440.5,448.6h1v1h-1zM450.9,449.0h1v1h-1zM448.5,449.5h1v1h-1zM451.1,444.7h1v1h-1zM443.6,445.4h1v1h-1zM446.0,457.3h1v1h-1zM454.0,450.6h1v1h-1zM446.4,444.6h1v1h-1zM451.8,452.5h1v1h-1zM448.7,456.7h1v1h-1zM451.0,453.4h1v1h-1zM453.6,435.4h1v1h-1zM446.5,450.4h1v1h-1zM445.3,470.3h1v1h-1zM450.2,453.6h1v1h-1zM451.7,447.1h1v1h-1zM451.9,447.1h1v1h-1zM451.6,453.2h1v1h-1zM453.5,435.6h1v1h-1zM445.6,449.7h1v1h-1zM445.9,457.9h1v1h-1zM452.3,445.6h1v1h-1zM452.7,454.4h1v1h-1zM446.8,459.0h1v1h-1zM454.0,442.9h1v1h-1zM441.0,464.3h1v1h-1zM449.9,455.4h1v1h-1zM450.7,449.5h1v1h-1zM448.8,445.9h1v1h-1zM455.9,456.0h1v1h-1zM448.4,446.1h1v1h-1zM450.4,462.1h1v1h-1zM449.1,445.6h1v1h-1zM452.3,450.2h1v1h-1zM446.1,453.3h1v1h-1zM449.5,443.0h1v1h-1zM449.9,460.3h1v1h-1zM452.7,457.2h1v1h-1zM451.6,448.4h1v1h-1zM451.1,458.7h1v1h-1zM449.1,455.6h1v1h-1zM446.7,454.4h1v1h-1zM447.2,445.8h1v1h-1zM450.3,466.9h1v1h-1zM442.9,454.7h1v1h-1zM449.6,445.6h1v1h-1zM449.5,457.6h1v1h-1zM443.1,457.3h1v1h-1zM451.0,454.0h1v1h-1zM455.4,446.6h1v1h-1zM453.4,443.0h1v1h-1zM445.7,451.3h1v1h-1zM447.4,460.2h1v1h-1zM451.6,449.2h1v1h-1zM445.8,456.4h1v1h-1zM447.5,450.7h1v1h-1zM442.8,470.2h1v1h-1zM451.0,471.9h1v1h-1zM458.5,442.2h1v1h-1zM456.8,440.5h1v1h-1zM458.9,441.0h1v1h-1zM442.4,458.9h1v1h-1zM451.8,461.7h1v1h-1zM452.4,461.5h1v1h-1zM449.6,439.9h1v1h-1zM449.5,444.8h1v1h-1zM451.9,432.9h1v1h-1zM445.5,447.0h1v1h-1zM449.4,459.3h1v1h-1zM447.9,443.3h1v1h-1zM447.2,452.7h1v1h-1zM453.1,448.5h1v1h-1zM453.9,425.4h1v1h-1zM455.3,461.8h1v1h-1zM447.1,474.2h1v1h-1zM443.4,464.9h1v1h-1zM444.3,452.3h1v1h-1zM450.8,451.8h1v1h-1zM450.0,449.5h1v1h-1zM442.4,446.8h1v1h-1zM445.9,447.7h1v1h-1zM447.3,440.9h1v1h-1zM448.5,456.1h1v1h-1zM447.2,463.9h1v1h-1zM449.7,458.2h1v1h-1zM445.8,456.9h1v1h-1zM443.9,443.1h1v1h-1zM442.7,455.6h1v1h-1zM449.8,467.1h1v1h-1zM450.1,448.0h1v1h-1zM452.7,448.8h1v1h-1zM449.0,452.9h1v1h-1zM452.5,460.4h1v1h-1zM443.9,458.1h1v1h-1zM447.3,453.9h1v1h-1zM457.5,441.2h1v1h-1zM440.2,467.8h1v1h-1zM447.3,446.8h1v1h-1zM456.9,458.7h1v1h-1zM452.6,450.0h1v1h-1zM446.4,465.8h1v1h-1zM448.1,454.7h1v1h-1zM448.3,453.8h1v1h-1zM441.8,450.3h1v1h-1zM444.4,440.4h1v1h-1zM444.8,452.7h1v1h-1zM448.3,452.0h1v1h-1zM447.4,461.5h1v1h-1zM441.5,455.9h1v1h-1zM448.1,446.3h1v1h-1zM453.9,445.8h1v1h-1zM452.9,451.9h1v1h-1zM448.0,460.4h1v1h-1zM443.7,448.3h1v1h-1zM447.5,435.4h1v1h-1zM447.4,452.1h1v1h-1zM442.7,450.7h1v1h-1zM444.3,474.9h1v1h-1zM453.5,451.7h1v1h-1zM449.7,461.2h1v1h-1zM449.3,460.9h1v1h-1zM452.1,464.6h1v1h-1zM452.8,443.6h1v1h-1zM451.2,458.1h1v1h-1zM451.4,466.0h1v1h-1zM450.0,447.7h1v1h-1zM452.2,457.3h1v1h-1zM448.9,455.9h1v1h-1zM449.5,453.4h1v1h-1zM450.3,447.5h1v1h-1zM451.6,451.9h1v1h-1zM455.2,447.6h1v1h-1zM449.4,442.2h1v1h-1zM457.1,441.6h1v1h-1zM447.1,451.8h1v1h-1zM449.0,451.1h1v1h-1zM455.1,441.8h1v1h-1zM448.2,449.4h1v1h-1zM451.2,437.2h1v1h-1zM452.6,445.3h1v1h-1zM443.9,468.5h1v1h-1zM444.2,462.3h1v1h-1zM449.0,446.8h1v1h-1zM443.0,452.9h1v1h-1zM451.7,448.5h1v1h-1zM446.9,461.4h1v1h-1zM449.1,452.3h1v1h-1zM445.9,444.8h1v1h-1zM447.3,455.8h1v1h-1zM447.5,455.8h1v1h-1zM448.1,451.0h1v1h-1zM448.8,454.7h1v1h-1zM440.9,460.3h1v1h-1zM448.3,449.3h1v1h-1zM452.5,456.9h1v1h-1zM453.1,453.0h1v1h-1zM450.6,451.1h1v1h-1zM451.7,444.0h1v1h-1zM448.5,454.7h1v1h-1zM448.4,443.0h1v1h-1zM448.6,449.0h1v1h-1zM446.7,459.0h1v1h-1zM452.8,448.4h1v1h-1zM444.8,454.9h1v1h-1zM448.3,444.6h1v1h-1zM446.8,455.2h1v1h-1zM446.8,457.4h1v1h-1zM444.3,461.7h1v1h-1zM446.4,455.4h1v1h-1zM449.0,447.9h1v1h-1zM452.7,434.4h1v1h-1zM449.7,455.9h1v1h-1zM448.1,452.2h1v1h-1zM444.8,455.8h1v1h-1zM449.5,446.6h1v1h-1zM449.0,449.0h1v1h-1zM445.3,455.1h1v1h-1zM446.1,461.3h1v1h-1zM446.1,465.2h1v1h-1zM448.9,451.6h1v1h-1zM446.3,457.8h1v1h-1zM445.2,444.1h1v1h-1zM450.5,434.4h1v1h-1zM453.0,443.4h1v1h-1zM454.6,447.5h1v1h-1zM454.9,434.5h1v1h-1zM447.3,455.4h1v1h-1zM446.9,454.4h1v1h-1zM448.4,457.3h1v1h-1zM454.1,430.1h1v1h-1zM451.2,440.7h1v1h-1zM454.8,434.4h1v1h-1zM445.9,458.7h1v1h-1zM448.3,457.5h1v1h-1zM450.3,444.5h1v1h-1zM443.0,466.6h1v1h-1zM448.1,451.7h1v1h-1zM447.8,450.9h1v1h-1zM446.3,454.9h1v1h-1zM449.8,441.4h1v1h-1zM443.2,461.9h1v1h-1zM452.1,444.3h1v1h-1zM448.3,448.6h1v1h-1zM450.4,449.6h1v1h-1zM446.9,448.1h1v1h-1zM450.5,452.7h1v1h-1zM447.4,456.3h1v1h-1zM449.6,435.9h1v1h-1zM446.8,455.7h1v1h-1zM453.5,449.7h1v1h-1zM444.4,463.1h1v1h-1zM447.9,458.9h1v1h-1zM443.9,444.9h1v1h-1zM443.1,462.2h1v1h-1zM453.2,448.9h1v1h-1zM449.6,450.2h1v1h-1zM449.6,443.3h1v1h-1zM453.4,452.9h1v1h-1zM452.4,447.3h1v1h-1zM452.0,455.7h1v1h-1zM458.1,450.0h1v1h-1zM446.2,448.6h1v1h-1zM452.1,452.0h1v1h-1zM450.9,449.9h1v1h-1zM446.0,455.9h1v1h-1zM443.6,459.4h1v1h-1zM457.2,448.2h1v1h-1zM445.8,448.5h1v1h-1zM457.7,447.2h1v1h-1zM447.1,458.0h1v1h-1zM447.7,445.1h1v1h-1zM449.5,454.9h1v1h-1zM453.7,437.3h1v1h-1zM454.3,444.1h1v1h-1zM441.7,466.7h1v1h-1zM452.6,451.8h1v1h-1zM452.0,441.8h1v1h-1zM450.8,437.5h1v1h-1zM446.5,473.0h1v1h-1zM455.0,448.1h1v1h-1zM450.8,450.4h1v1h-1zM451.3,450.7h1v1h-1zM445.5,452.7h1v1h-1zM441.9,452.7h1v1h-1zM448.3,455.1h1v1h-1zM457.1,430.9h1v1h-1zM456.7,440.3h1v1h-1zM447.4,452.7h1v1h-1zM457.0,435.1h1v1h-1zM447.6,457.2h1v1h-1zM452.5,450.8h1v1h-1zM449.4,458.5h1v1h-1zM445.4,467.1h1v1h-1zM447.2,456.4h1v1h-1zM445.6,450.7h1v1h-1zM452.6,452.0h1v1h-1zM448.3,458.4h1v1h-1zM460.8,420.9h1v1h-1zM441.4,461.1h1v1h-1zM442.7,465.9h1v1h-1zM445.9,454.9h1v1h-1zM445.9,470.2h1v1h-1zM454.6,433.1h1v1h-1zM451.4,446.8h1v1h-1zM454.4,448.4h1v1h-1zM446.2,451.4h1v1h-1zM449.2,464.1h1v1h-1zM449.3,447.4h1v1h-1zM447.5,459.5h1v1h-1zM447.8,465.9h1v1h-1zM452.2,449.3h1v1h-1zM449.4,448.8h1v1h-1zM440.3,469.7h1v1h-1zM454.5,444.3h1v1h-1zM450.0,440.6h1v1h-1zM448.2,453.8h1v1h-1zM448.7,452.4h1v1h-1zM452.6,453.1h1v1h-1zM451.9,444.3h1v1h-1zM447.1,453.7h1v1h-1zM443.1,447.3h1v1h-1zM450.2,450.5h1v1h-1zM449.3,460.2h1v1h-1zM441.1,463.1h1v1h-1zM448.1,442.9h1v1h-1zM451.4,459.5h1v1h-1zM443.5,457.8h1v1h-1zM452.5,448.2h1v1h-1zM447.3,460.7h1v1h-1zM442.7,458.1h1v1h-1zM446.6,453.7h1v1h-1zM444.3,458.0h1v1h-1zM453.5,450.2h1v1h-1zM444.2,453.0h1v1h-1zM446.2,443.7h1v1h-1zM451.7,452.6h1v1h-1zM448.3,463.4h1v1h-1zM451.6,444.6h1v1h-1zM449.1,450.5h1v1h-1zM448.9,461.5h1v1h-1zM453.7,439.6h1v1h-1zM456.2,432.1h1v1h-1zM448.0,470.8h1v1h-1zM451.5,457.8h1v1h-1zM449.5,455.0h1v1h-1zM446.6,465.2h1v1h-1zM448.2,448.6h1v1h-1zM443.5,473.8h1v1h-1zM443.5,450.0h1v1h-1zM450.8,450.1h1v1h-1zM455.4,449.6h1v1h-1zM450.2,444.6h1v1h-1zM451.0,439.0h1v1h-1zM446.2,465.0h1v1h-1zM450.0,442.1h1v1h-1zM446.7,453.3h1v1h-1zM450.2,452.0h1v1h-1zM452.0,426.5h1v1h-1zM451.7,435.0h1v1h-1zM447.3,454.5h1v1h-1zM452.9,443.1h1v1h-1zM444.1,450.9h1v1h-1zM450.0,468.6h1v1h-1zM444.4,452.8h1v1h-1zM446.4,463.0h1v1h-1zM451.1,448.4h1v1h-1zM450.1,462.3h1v1h-1zM448.0,444.6h1v1h-1zM449.1,442.6h1v1h-1zM449.8,457.4h1v1h-1zM447.7,460.1h1v1h-1zM453.5,460.8h1v1h-1zM447.7,457.5h1v1h-1zM452.0,454.7h1v1h-1zM452.5,451.7h1v1h-1zM451.6,455.9h1v1h-1zM450.8,454.2h1v1h-1zM450.1,450.2h1v1h-1zM442.3,458.4h1v1h-1zM449.2,447.6h1v1h-1zM447.4,462.9h1v1h-1zM448.1,436.1h1v1h-1zM447.1,453.0h1v1h-1zM453.6,449.3h1v1h-1zM450.9,445.8h1v1h-1zM446.9,442.3h1v1h-1zM451.4,449.6h1v1h-1zM446.4,455.1h1v1h-1zM453.1,454.4h1v1h-1zM452.0,457.3h1v1h-1zM449.9,450.9h1v1h-1zM449.0,455.5h1v1h-1zM442.8,460.6h1v1h-1zM449.2,445.2h1v1h-1zM447.0,462.6h1v1h-1zM447.6,452.7h1v1h-1zM454.5,438.9h1v1h-1zM448.9,448.9h1v1h-1zM447.1,452.6h1v1h-1zM451.1,447.7h1v1h-1zM452.5,453.7h1v1h-1zM445.1,456.5h1v1h-1zM448.4,443.0h1v1h-1zM442.5,466.3h1v1h-1zM450.1,459.8h1v1h-1zM454.8,451.5h1v1h-1zM450.4,459.9h1v1h-1zM448.6,449.5h1v1h-1zM452.6,452.9h1v1h-1zM447.2,450.8h1v1h-1zM444.4,472.3h1v1h-1zM447.7,449.7h1v1h-1zM446.9,450.4h1v1h-1zM449.5,451.7h1v1h-1zM451.9,430.4h1v1h-1zM449.5,463.7h1v1h-1zM449.2,447.3h1v1h-1zM456.3,440.3h1v1h-1zM451.5,451.0h1v1h-1zM448.5,445.1h1v1h-1zM449.6,452.7h1v1h-1zM455.7,433.6h1v1h-1zM443.4,462.0h1v1h-1zM443.6,436.8h1v1h-1zM447.8,461.6h1v1h-1zM442.4,447.9h1v1h-1zM454.4,439.6h1v1h-1zM445.8,454.1h1v1h-1zM454.9,444.2h1v1h-1zM451.9,447.6h1v1h-1zM445.1,457.9h1v1h-1zM442.4,466.4h1v1h-1zM443.1,459.1h1v1h-1zM441.2,459.4h1v1h-1zM450.5,444.8h1v1h-1zM456.1,444.3h1v1h-1zM450.6,439.3h1v1h-1zM447.2,455.5h1v1h-1zM451.7,453.3h1v1h-1zM443.9,446.3h1v1h-1zM444.9,464.5h1v1h-1zM442.6,449.5h1v1h-1zM449.4,451.0h1v1h-1zM448.8,446.0h1v1h-1zM450.2,449.7h1v1h-1zM448.3,454.2h1v1h-1zM448.2,451.3h1v1h-1zM453.1,452.7h1v1h-1zM449.3,452.5h1v1h-1zM454.0,436.7h1v1h-1zM442.0,459.5h1v1h-1zM442.7,450.6h1v1h-1zM449.8,452.5h1v1h-1zM447.7,447.6h1v1h-1zM443.7,452.2h1v1h-1zM446.0,454.8h1v1h-1zM452.4,446.1h1v1h-1zM444.9,459.3h1v1h-1zM453.4,449.4h1v1h-1zM447.3,450.7h1v1h-1zM447.8,445.3h1v1h-1zM452.3,446.0h1v1h-1zM456.0,453.3h1v1h-1zM447.2,472.6h1v1h-1zM447.3,447.9h1v1h-1zM442.5,458.7h1v1h-1zM450.4,447.6h1v1h-1zM448.6,455.7h1v1h-1zM446.1,454.5h1v1h-1zM448.0,464.0h1v1h-1zM451.4,448.5h1v1h-1zM445.3,454.7h1v1h-1zM446.1,452.3h1v1h-1zM450.2,456.4h1v1h-1zM452.6,443.7h1v1h-1zM449.7,450.9h1v1h-1zM452.0,464.7h1v1h-1zM452.7,454.6h1v1h-1zM449.9,454.7h1v1h-1zM441.8,461.9h1v1h-1zM448.4,452.1h1v1h-1zM451.6,472.1h1v1h-1zM450.0,442.0h1v1h-1zM447.6,459.4h1v1h-1zM451.5,450.5h1v1h-1zM451.0,444.0h1v1h-1zM454.4,431.0h1v1h-1zM447.7,447.6h1v1h-1zM447.3,455.3h1v1h-1zM449.4,458.6h1v1h-1zM455.9,448.3h1v1h-1zM445.6,455.5h1v1h-1zM446.2,449.1h1v1h-1zM447.5,460.4h1v1h-1zM446.1,457.3h1v1h-1zM446.3,461.2h1v1h-1zM453.2,437.0h1v1h-1zM451.7,442.7h1v1h-1zM450.2,450.0h1v1h-1zM452.1,439.4h1v1h-1zM455.9,447.2h1v1h-1zM446.7,463.6h1v1h-1zM453.9,450.5h1v1h-1zM447.2,448.0h1v1h-1zM445.8,467.1h1v1h-1zM449.2,451.5h1v1h-1zM447.7,462.3h1v1h-1zM447.7,459.6h1v1h-1zM442.6,453.0h1v1h-1zM450.2,443.7h1v1h-1zM455.9,429.6h1v1h-1zM450.4,454.3h1v1h-1zM450.6,449.8h1v1h-1zM450.0,446.4h1v1h-1zM439.3,475.9h1v1h-1zM448.9,465.2h1v1h-1zM448.9,460.1h1v1h-1zM453.9,442.6h1v1h-1zM440.7,469.4h1v1h-1zM455.9,433.6h1v1h-1zM447.2,453.3h1v1h-1zM448.1,457.4h1v1h-1zM448.6,456.7h1v1h-1zM446.1,443.5h1v1h-1zM455.6,446.9h1v1h-1zM450.4,442.0h1v1h-1zM450.6,449.8h1v1h-1zM450.8,451.0h1v1h-1zM452.8,458.2h1v1h-1zM447.7,450.5h1v1h-1zM451.6,438.5h1v1h-1zM446.5,452.0h1v1h-1zM441.5,474.0h1v1h-1zM448.0,451.4h1v1h-1zM444.8,460.4h1v1h-1zM447.4,445.0h1v1h-1zM450.2,461.9h1v1h-1zM443.7,457.4h1v1h-1zM456.8,442.2h1v1h-1zM446.5,466.4h1v1h-1zM449.8,457.9h1v1h-1zM454.9,450.4h1v1h-1zM450.2,464.8h1v1h-1zM443.6,449.4h1v1h-1zM448.2,448.3h1v1h-1zM448.4,438.8h1v1h-1zM443.2,463.4h1v1h-1zM448.3,455.8h1v1h-1zM447.6,453.3h1v1h-1zM443.6,470.7h1v1h-1zM452.8,438.2h1v1h-1zM447.4,456.3h1v1h-1zM447.5,453.2h1v1h-1zM449.8,437.6h1v1h-1zM451.7,452.6h1v1h-1zM445.5,454.3h1v1h-1zM448.7,450.4h1v1h-1zM449.2,440.6h1v1h-1zM449.2,454.8h1v1h-1zM450.4,453.8h1v1h-1zM447.0,455.2h1v1h-1zM452.5,448.9h1v1h-1zM449.8,451.6h1v1h-1zM450.9,440.5h1v1h-1zM448.8,458.4h1v1h-1zM445.8,459.6h1v1h-1zM447.4,450.6h1v1h-1zM445.0,449.6h1v1h-1zM453.2,436.8h1v1h-1zM449.5,441.4h1v1h-1zM456.3,449.5h1v1h-1zM446.1,446.7h1v1h-1zM448.0,455.5h1v1h-1zM455.0,456.3h1v1h-1zM445.5,457.5h1v1h-1zM452.3,443.2h1v1h-1zM447.3,460.6h1v1h-1zM444.0,457.6h1v1h-1zM448.7,450.2h1v1h-1zM449.1,439.9h1v1h-1zM452.0,445.5h1v1h-1zM456.0,459.1h1v1h-1zM447.3,468.0h1v1h-1zM454.1,440.7h1v1h-1zM448.1,461.8h1v1h-1zM446.4,452.2h1v1h-1zM440.0,451.2h1v1h-1zM444.8,451.2h1v1h-1zM446.4,456.7h1v1h-1zM449.9,448.3h1v1h-1zM444.1,459.0h1v1h-1zM451.2,449.3h1v1h-1zM453.9,443.4h1v1h-1zM452.0,450.8h1v1h-1zM453.7,458.9h1v1h-1zM444.8,443.1h1v1h-1zM452.7,450.4h1v1h-1zM450.2,447.4h1v1h-1zM446.3,463.7h1v1h-1zM450.7,446.2h1v1h-1zM449.2,454.0h1v1h-1zM444.3,452.4h1v1h-1zM450.8,451.1h1v1h-1zM444.1,459.6h1v1h-1zM456.1,449.0h1v1h-1zM444.3,453.6h1v1h-1zM446.8,448.7h1v1h-1zM446.0,450.9h1v1h-1zM448.7,443.2h1v1h-1zM452.3,450.9h1v1h-1zM456.0,450.7h1v1h-1zM452.4,452.2h1v1h-1zM448.6,444.6h1v1h-1zM451.4,450.2h1v1h-1zM446.7,457.5h1v1h-1zM450.2,446.0h1v1h-1zM454.2,443.0h1v1h-1zM449.5,459.4h1v1h-1zM447.1,451.7h1v1h-1zM450.6,447.9h1v1h-1zM447.2,445.7h1v1h-1z" fill="#111"/>
<path d="M454.5,452.1h1v1h-1zM458.4,462.6h1v1h-1zM452.9,462.9h1v1h-1zM448.5,472.1h1v1h-1zM449.4,456.5h1v1h-1zM450.6,452.8h1v1h-1zM458.2,453.8h1v1h-1zM447.3,465.3h1v1h-1zM453.3,461.0h1v1h-1zM454.4,451.5h1v1h-1zM441.4,458.6h1v1h-1zM447.3,469.2h1v1h-1zM451.6,469.6h1v1h-1zM467.9,459.8h1v1h-1zM468.4,441.2h1v1h-1zM449.8,448.4h1v1h-1zM444.4,448.7h1v1h-1zM458.8,446.6h1v1h-1zM450.9,462.1h1v1h-1zM450.4,470.8h1v1h-1zM460.7,459.0h1v1h-1zM463.8,456.0h1v1h-1zM454.2,465.2h1v1h-1zM459.8,441.4h1v1h-1zM460.2,461.9h1v1h-1zM454.1,468.0h1v1h-1zM445.5,461.3h1v1h-1zM448.6,450.8h1v1h-1zM454.8,442.8h1v1h-1zM452.9,462.3h1v1h-1zM448.2,448.8h1v1h-1zM456.7,462.6h1v1h-1zM458.9,448.9h1v1h-1zM450.4,469.2h1v1h-1zM458.7,456.5h1v1h-1zM454.5,454.1h1v1h-1zM457.0,460.6h1v1h-1zM453.3,458.4h1v1h-1zM444.1,458.9h1v1h-1zM463.3,453.6h1v1h-1zM444.2,456.0h1v1h-1zM453.6,468.5h1v1h-1zM466.8,449.8h1v1h-1zM452.1,457.8h1v1h-1zM445.9,470.8h1v1h-1zM445.3,465.9h1v1h-1zM450.1,448.5h1v1h-1zM455.2,469.8h1v1h-1zM445.2,461.5h1v1h-1zM448.6,467.5h1v1h-1zM443.6,449.3h1v1h-1zM450.6,446.1h1v1h-1zM459.3,440.5h1v1h-1zM453.4,451.7h1v1h-1zM459.4,448.8h1v1h-1zM451.8,471.5h1v1h-1zM457.2,465.3h1v1h-1zM462.2,456.6h1v1h-1zM455.0,440.8h1v1h-1zM441.9,457.5h1v1h-1zM454.9,465.1h1v1h-1zM448.1,455.6h1v1h-1zM466.4,440.7h1v1h-1zM451.8,455.8h1v1h-1zM448.5,471.2h1v1h-1zM442.8,458.2h1v1h-1zM442.2,454.9h1v1h-1zM463.0,434.4h1v1h-1zM442.2,461.1h1v1h-1zM455.3,448.9h1v1h-1zM455.9,453.3h1v1h-1zM450.5,458.2h1v1h-1zM460.9,442.6h1v1h-1zM458.5,456.3h1v1h-1zM451.7,450.5h1v1h-1zM455.2,462.3h1v1h-1zM447.0,465.3h1v1h-1zM453.2,463.4h1v1h-1zM454.8,453.8h1v1h-1zM454.4,461.3h1v1h-1zM443.7,460.4h1v1h-1zM449.9,457.8h1v1h-1zM459.4,461.5h1v1h-1zM462.2,460.3h1v1h-1zM451.6,449.9h1v1h-1zM469.6,443.1h1v1h-1zM450.7,461.0h1v1h-1zM447.7,459.9h1v1h-1zM454.4,451.0h1v1h-1zM446.4,459.4h1v1h-1zM455.8,446.5h1v1h-1zM453.9,456.8h1v1h-1zM447.3,462.4h1v1h-1zM444.2,468.0h1v1h-1zM448.4,467.1h1v1h-1zM453.7,456.5h1v1h-1zM444.4,466.6h1v1h-1zM455.8,456.8h1v1h-1zM453.2,462.1h1v1h-1zM456.0,458.4h1v1h-1zM458.6,452.5h1v1h-1zM463.4,438.5h1v1h-1zM442.4,465.9h1v1h-1zM452.9,443.2h1v1h-1zM445.3,453.4h1v1h-1zM461.2,458.3h1v1h-1zM442.3,449.2h1v1h-1zM453.9,445.1h1v1h-1zM449.1,452.9h1v1h-1zM453.3,461.2h1v1h-1zM448.5,453.7h1v1h-1zM454.8,469.6h1v1h-1zM455.7,451.9h1v1h-1zM459.0,452.4h1v1h-1zM444.2,465.8h1v1h-1zM463.6,441.9h1v1h-1zM458.0,443.4h1v1h-1zM452.5,455.5h1v1h-1zM450.8,456.2h1v1h-1zM457.4,449.9h1v1h-1zM451.6,454.2h1v1h-1zM454.8,449.8h1v1h-1zM458.1,456.6h1v1h-1zM449.2,446.8h1v1h-1zM451.3,465.8h1v1h-1zM457.1,454.5h1v1h-1zM466.1,464.0h1v1h-1zM456.4,466.9h1v1h-1zM451.4,453.8h1v1h-1zM454.5,439.2h1v1h-1zM453.2,451.7h1v1h-1zM461.7,457.3h1v1h-1zM463.1,447.9h1v1h-1zM462.6,453.3h1v1h-1zM456.4,458.2h1v1h-1zM444.9,467.7h1v1h-1zM450.1,463.0h1v1h-1zM452.7,447.8h1v1h-1zM451.0,459.6h1v1h-1zM451.1,471.8h1v1h-1zM460.8,453.6h1v1h-1zM450.7,469.8h1v1h-1zM453.3,466.2h1v1h-1zM444.3,442.7h1v1h-1zM458.0,462.0h1v1h-1zM452.0,455.2h1v1h-1zM456.0,459.4h1v1h-1zM452.6,456.6h1v1h-1zM454.6,464.9h1v1h-1zM457.6,431.6h1v1h-1zM455.3,452.5h1v1h-1zM460.0,459.4h1v1h-1zM449.7,456.9h1v1h-1zM446.0,460.3h1v1h-1zM448.4,469.0h1v1h-1zM461.4,449.4h1v1h-1zM447.3,470.0h1v1h-1zM444.4,456.9h1v1h-1zM450.6,459.4h1v1h-1zM453.4,448.0h1v1h-1zM458.7,457.0h1v1h-1zM455.2,469.0h1v1h-1zM465.2,453.1h1v1h-1zM450.4,454.9h1v1h-1zM452.3,447.1h1v1h-1zM448.5,453.7h1v1h-1zM456.4,461.1h1v1h-1zM449.1,448.5h1v1h-1zM452.9,440.9h1v1h-1zM451.5,458.5h1v1h-1zM455.6,451.3h1v1h-1zM455.8,461.5h1v1h-1zM450.8,448.0h1v1h-1zM449.7,460.1h1v1h-1zM454.8,440.6h1v1h-1zM443.4,446.3h1v1h-1zM464.7,454.7h1v1h-1zM454.2,445.3h1v1h-1zM457.0,432.9h1v1h-1zM463.4,455.0h1v1h-1zM452.7,458.5h1v1h-1zM458.8,436.2h1v1h-1zM454.9,444.1h1v1h-1zM450.4,455.5h1v1h-1zM450.3,450.8h1v1h-1zM454.1,452.1h1v1h-1zM454.8,461.9h1v1h-1zM447.5,456.8h1v1h-1zM447.5,465.7h1v1h-1zM457.7,463.0h1v1h-1zM459.9,454.2h1v1h-1zM446.6,452.3h1v1h-1zM460.9,453.8h1v1h-1zM458.2,448.8h1v1h-1zM451.6,473.5h1v1h-1zM459.4,439.5h1v1h-1zM448.6,459.3h1v1h-1zM459.8,461.6h1v1h-1zM458.5,464.4h1v1h-1zM457.5,461.6h1v1h-1zM447.4,448.0h1v1h-1zM449.7,468.6h1v1h-1zM461.8,442.9h1v1h-1zM451.2,457.6h1v1h-1zM456.8,457.4h1v1h-1zM462.6,454.2h1v1h-1zM451.6,454.6h1v1h-1zM460.1,450.8h1v1h-1zM456.4,451.0h1v1h-1zM445.5,440.7h1v1h-1zM451.1,450.0h1v1h-1zM458.3,450.5h1v1h-1zM447.0,465.1h1v1h-1zM450.3,475.5h1v1h-1zM450.1,458.0h1v1h-1zM448.0,471.6h1v1h-1zM454.9,453.3h1v1h-1zM452.4,438.2h1v1h-1zM461.1,452.6h1v1h-1zM460.5,445.5h1v1h-1zM462.3,446.3h1v1h-1zM453.2,473.6h1v1h-1zM449.8,457.7h1v1h-1zM452.0,457.5h1v1h-1zM454.0,454.3h1v1h-1zM455.8,451.1h1v1h-1zM461.6,458.3h1v1h-1zM445.7,454.7h1v1h-1zM450.9,465.3h1v1h-1zM440.5,471.2h1v1h-1zM440.4,456.2h1v1h-1zM447.5,455.5h1v1h-1zM458.1,461.9h1v1h-1zM452.3,454.6h1v1h-1zM446.7,469.1h1v1h-1zM442.9,454.7h1v1h-1zM457.5,470.1h1v1h-1zM451.0,460.8h1v1h-1zM449.0,459.7h1v1h-1zM439.4,467.7h1v1h-1zM449.6,461.4h1v1h-1zM452.2,448.0h1v1h-1zM443.0,451.9h1v1h-1zM452.7,462.5h1v1h-1zM460.2,461.4h1v1h-1zM466.3,459.0h1v1h-1zM464.6,458.0h1v1h-1zM455.1,440.2h1v1h-1zM459.3,452.2h1v1h-1zM450.5,445.6h1v1h-1zM461.2,452.5h1v1h-1zM450.2,450.5h1v1h-1zM452.4,460.2h1v1h-1zM456.9,455.4h1v1h-1zM454.4,456.1h1v1h-1zM450.3,467.3h1v1h-1zM452.1,451.5h1v1h-1zM464.1,443.0h1v1h-1zM450.1,458.4h1v1h-1zM451.9,455.9h1v1h-1zM459.2,462.2h1v1h-1zM444.4,476.2h1v1h-1zM445.4,450.5h1v1h-1zM457.4,445.4h1v1h-1zM445.3,466.8h1v1h-1zM456.3,458.0h1v1h-1zM462.1,461.2h1v1h-1zM450.0,453.3h1v1h-1zM455.7,451.3h1v1h-1zM454.7,463.0h1v1h-1zM454.7,443.1h1v1h-1zM463.6,450.9h1v1h-1zM455.3,440.9h1v1h-1zM452.8,445.0h1v1h-1zM463.2,447.5h1v1h-1zM444.1,459.0h1v1h-1zM447.0,459.3h1v1h-1zM446.9,443.8h1v1h-1zM451.8,454.0h1v1h-1zM447.8,464.3h1v1h-1zM458.4,452.9h1v1h-1zM452.5,459.5h1v1h-1zM458.9,455.1h1v1h-1zM445.8,464.8h1v1h-1zM468.4,454.9h1v1h-1zM455.1,450.3h1v1h-1zM443.1,464.9h1v1h-1zM456.7,458.4h1v1h-1zM454.0,466.8h1v1h-1zM452.3,440.1h1v1h-1zM452.1,458.0h1v1h-1zM458.0,458.8h1v1h-1zM457.5,458.1h1v1h-1zM454.9,445.1h1v1h-1zM450.9,465.8h1v1h-1zM463.6,428.3h1v1h-1zM452.1,452.7h1v1h-1zM458.5,436.6h1v1h-1zM449.4,459.3h1v1h-1zM447.8,443.3h1v1h-1zM465.0,448.7h1v1h-1zM453.4,461.3h1v1h-1zM465.3,444.6h1v1h-1zM452.0,453.6h1v1h-1zM459.1,461.6h1v1h-1zM463.2,447.8h1v1h-1zM445.2,454.0h1v1h-1zM440.7,464.5h1v1h-1zM439.7,465.6h1v1h-1zM446.2,462.8h1v1h-1zM462.5,450.9h1v1h-1zM452.1,456.8h1v1h-1zM448.9,460.9h1v1h-1zM451.3,458.2h1v1h-1zM447.7,463.0h1v1h-1zM455.1,447.7h1v1h-1zM452.5,444.2h1v1h-1zM443.8,450.5h1v1h-1zM455.6,451.5h1v1h-1zM452.7,458.6h1v1h-1zM451.1,455.3h1v1h-1zM447.6,463.7h1v1h-1zM451.3,472.5h1v1h-1zM445.5,458.5h1v1h-1zM455.5,450.8h1v1h-1zM466.7,452.3h1v1h-1zM455.6,440.4h1v1h-1zM455.6,444.5h1v1h-1zM456.5,457.8h1v1h-1zM452.1,451.6h1v1h-1zM447.7,452.9h1v1h-1zM462.9,444.7h1v1h-1zM450.9,460.6h1v1h-1zM444.1,456.3h1v1h-1zM460.3,455.1h1v1h-1zM456.5,460.8h1v1h-1zM452.7,435.7h1v1h-1zM457.8,458.9h1v1h-1zM462.1,442.0h1v1h-1zM459.0,466.0h1v1h-1zM452.2,454.1h1v1h-1zM446.4,464.5h1v1h-1zM454.5,460.3h1v1h-1zM452.5,456.7h1v1h-1zM449.0,467.1h1v1h-1zM452.0,467.3h1v1h-1zM458.7,447.2h1v1h-1zM445.7,468.3h1v1h-1zM455.5,451.9h1v1h-1zM459.7,435.6h1v1h-1zM456.6,451.4h1v1h-1zM457.7,449.0h1v1h-1zM449.8,463.4h1v1h-1zM455.3,442.6h1v1h-1zM456.3,460.7h1v1h-1zM442.3,452.5h1v1h-1zM445.5,450.8h1v1h-1zM448.4,474.5h1v1h-1zM446.4,450.7h1v1h-1zM451.2,468.3h1v1h-1zM450.3,465.5h1v1h-1zM459.6,449.6h1v1h-1zM455.5,463.6h1v1h-1zM454.4,469.5h1v1h-1zM455.4,468.8h1v1h-1zM446.4,461.0h1v1h-1zM449.3,454.2h1v1h-1zM451.4,461.2h1v1h-1zM443.5,445.4h1v1h-1zM457.8,456.6h1v1h-1zM459.0,460.7h1v1h-1zM454.9,450.7h1v1h-1zM456.1,446.6h1v1h-1zM444.4,456.9h1v1h-1zM467.3,441.4h1v1h-1zM461.5,450.8h1v1h-1zM464.0,446.9h1v1h-1zM445.2,453.8h1v1h-1zM451.6,461.5h1v1h-1zM448.2,459.9h1v1h-1zM468.1,449.6h1v1h-1zM448.0,458.2h1v1h-1zM450.7,459.4h1v1h-1zM447.7,455.8h1v1h-1zM457.6,454.1h1v1h-1zM440.4,471.5h1v1h-1zM455.3,471.7h1v1h-1zM447.4,461.6h1v1h-1zM447.0,465.5h1v1h-1zM449.2,468.9h1v1h-1zM453.5,436.9h1v1h-1zM445.5,465.1h1v1h-1zM457.7,462.7h1v1h-1zM456.1,450.7h1v1h-1zM453.7,456.2h1v1h-1zM452.9,464.8h1v1h-1zM446.8,456.1h1v1h-1zM461.4,451.2h1v1h-1zM456.4,449.9h1v1h-1zM453.2,467.2h1v1h-1zM463.2,451.9h1v1h-1zM448.7,470.9h1v1h-1zM440.6,459.9h1v1h-1zM457.5,474.6h1v1h-1zM459.6,452.0h1v1h-1zM452.4,455.8h1v1h-1zM446.7,455.2h1v1h-1zM454.9,440.5h1v1h-1zM447.6,432.6h1v1h-1zM458.9,454.4h1v1h-1zM442.1,447.9h1v1h-1zM448.3,472.4h1v1h-1zM455.9,445.0h1v1h-1zM449.5,443.3h1v1h-1zM446.6,443.8h1v1h-1zM464.5,457.1h1v1h-1zM461.2,456.3h1v1h-1zM448.0,466.8h1v1h-1zM455.9,448.5h1v1h-1zM442.1,460.4h1v1h-1zM444.9,457.0h1v1h-1zM439.6,445.9h1v1h-1zM459.0,458.1h1v1h-1zM453.7,453.3h1v1h-1zM454.1,447.2h1v1h-1zM457.8,467.7h1v1h-1zM448.9,444.3h1v1h-1zM452.9,441.0h1v1h-1zM465.7,449.5h1v1h-1zM455.5,456.4h1v1h-1zM449.5,451.0h1v1h-1zM453.3,465.2h1v1h-1zM462.5,449.2h1v1h-1zM449.5,454.0h1v1h-1zM455.2,446.3h1v1h-1zM459.0,451.1h1v1h-1zM447.8,464.3h1v1h-1zM462.1,444.1h1v1h-1zM451.6,455.0h1v1h-1zM456.2,461.4h1v1h-1zM452.0,448.2h1v1h-1zM448.9,465.4h1v1h-1zM464.8,452.3h1v1h-1zM460.3,446.3h1v1h-1zM444.5,451.6h1v1h-1zM472.1,458.5h1v1h-1zM446.3,452.0h1v1h-1zM450.4,445.7h1v1h-1zM456.6,444.7h1v1h-1zM451.2,461.8h1v1h-1zM451.2,465.4h1v1h-1zM449.4,467.8h1v1h-1zM448.5,452.7h1v1h-1zM443.2,463.1h1v1h-1zM457.3,454.1h1v1h-1zM462.2,457.5h1v1h-1zM455.1,440.4h1v1h-1zM451.6,459.6h1v1h-1zM445.0,472.3h1v1h-1zM454.9,468.3h1v1h-1zM444.7,475.4h1v1h-1zM461.8,453.2h1v1h-1zM450.5,471.3h1v1h-1zM446.4,456.9h1v1h-1zM460.2,452.0h1v1h-1zM447.5,448.1h1v1h-1zM449.6,468.6h1v1h-1zM470.8,439.4h1v1h-1zM444.8,465.0h1v1h-1zM451.6,452.7h1v1h-1zM451.8,468.2h1v1h-1zM457.9,447.0h1v1h-1zM456.1,443.6h1v1h-1zM460.2,434.7h1v1h-1zM449.9,465.2h1v1h-1zM464.1,455.6h1v1h-1zM439.8,459.9h1v1h-1zM458.9,459.0h1v1h-1zM455.3,449.8h1v1h-1zM440.1,457.3h1v1h-1zM453.8,449.6h1v1h-1zM447.2,461.8h1v1h-1zM450.6,458.5h1v1h-1zM459.8,446.5h1v1h-1zM459.3,443.0h1v1h-1zM458.6,457.0h1v1h-1zM456.1,461.0h1v1h-1z" fill="#555"/>
<path d="M472.1,436.8h1v1h-1zM488.4,456.0h1v1h-1zM472.0,454.4h1v1h-1zM474.0,451.6h1v1h-1zM454.7,442.3h1v1h-1zM489.4,459.9h1v1h-1zM457.7,469.6h1v1h-1zM472.9,442.9h1v1h-1zM461.0,447.4h1v1h-1zM482.4,461.3h1v1h-1zM466.9,451.5h1v1h-1zM461.8,455.0h1v1h-1zM458.1,462.5h1v1h-1zM468.6,463.2h1v1h-1zM487.2,456.8h1v1h-1zM479.5,423.8h1v1h-1zM459.3,456.3h1v1h-1zM459.9,464.5h1v1h-1zM466.0,452.1h1v1h-1zM446.2,460.6h1v1h-1zM464.1,466.6h1v1h-1zM475.4,453.3h1v1h-1zM479.4,451.2h1v1h-1zM460.6,453.4h1v1h-1zM467.1,464.6h1v1h-1zM462.0,443.3h1v1h-1zM484.8,462.7h1v1h-1zM465.7,455.1h1v1h-1zM451.7,470.2h1v1h-1zM463.7,432.5h1v1h-1zM468.3,458.9h1v1h-1zM477.1,456.3h1v1h-1zM472.5,452.2h1v1h-1zM468.8,451.5h1v1h-1zM497.5,454.6h1v1h-1zM471.4,433.5h1v1h-1zM469.3,459.4h1v1h-1zM477.6,438.5h1v1h-1zM469.0,469.5h1v1h-1zM467.6,451.9h1v1h-1zM476.4,453.0h1v1h-1zM463.8,447.5h1v1h-1zM450.5,455.7h1v1h-1zM476.1,459.8h1v1h-1zM461.3,458.0h1v1h-1zM458.1,437.7h1v1h-1zM476.9,441.3h1v1h-1zM454.2,450.7h1v1h-1zM466.1,469.2h1v1h-1zM481.3,474.6h1v1h-1zM471.8,437.6h1v1h-1zM455.4,456.6h1v1h-1zM454.5,458.2h1v1h-1zM481.4,459.7h1v1h-1zM450.9,464.9h1v1h-1zM489.0,464.1h1v1h-1zM496.2,445.9h1v1h-1zM468.3,462.3h1v1h-1zM481.0,468.7h1v1h-1zM468.1,447.0h1v1h-1zM467.5,446.8h1v1h-1zM470.8,450.5h1v1h-1zM478.4,446.9h1v1h-1zM480.1,446.2h1v1h-1zM483.5,466.0h1v1h-1zM469.5,451.7h1v1h-1zM473.7,458.3h1v1h-1zM458.4,460.9h1v1h-1zM449.1,442.2h1v1h-1zM456.4,455.9h1v1h-1zM460.5,430.4h1v1h-1zM481.9,448.1h1v1h-1zM466.1,457.2h1v1h-1zM473.8,459.7h1v1h-1zM455.4,457.0h1v1h-1zM480.6,461.4h1v1h-1zM486.3,439.4h1v1h-1zM483.3,439.5h1v1h-1zM457.3,455.9h1v1h-1zM496.0,465.8h1v1h-1zM468.3,454.8h1v1h-1zM482.1,441.7h1v1h-1zM465.9,448.0h1v1h-1zM483.2,459.5h1v1h-1zM473.4,466.1h1v1h-1zM467.1,444.8h1v1h-1zM480.0,435.7h1v1h-1zM473.0,453.7h1v1h-1zM451.9,455.8h1v1h-1zM460.2,467.5h1v1h-1zM478.5,462.9h1v1h-1zM480.9,453.9h1v1h-1zM482.3,460.0h1v1h-1zM476.2,464.6h1v1h-1zM492.0,437.2h1v1h-1zM464.8,439.3h1v1h-1zM456.0,460.8h1v1h-1zM459.1,451.9h1v1h-1zM463.6,463.6h1v1h-1zM487.9,455.1h1v1h-1zM462.2,448.2h1v1h-1zM467.8,437.7h1v1h-1zM456.3,455.9h1v1h-1zM472.7,455.7h1v1h-1zM473.7,446.6h1v1h-1zM468.7,443.9h1v1h-1zM472.6,434.0h1v1h-1zM475.8,456.3h1v1h-1zM465.3,455.4h1v1h-1zM481.4,454.6h1v1h-1zM491.4,465.9h1v1h-1zM471.2,452.0h1v1h-1zM456.8,443.3h1v1h-1zM472.2,455.2h1v1h-1zM473.9,470.6h1v1h-1zM474.6,457.9h1v1h-1zM467.4,443.1h1v1h-1zM464.9,453.0h1v1h-1zM477.9,460.8h1v1h-1zM458.7,452.9h1v1h-1zM478.4,439.8h1v1h-1zM467.3,439.5h1v1h-1zM462.3,465.4h1v1h-1zM474.1,475.5h1v1h-1zM458.6,463.0h1v1h-1zM468.2,438.1h1v1h-1zM472.2,456.2h1v1h-1zM467.0,466.0h1v1h-1zM466.6,461.3h1v1h-1zM470.0,448.7h1v1h-1zM474.3,464.5h1v1h-1zM486.0,465.8h1v1h-1zM451.3,440.8h1v1h-1zM467.1,465.8h1v1h-1zM449.1,455.4h1v1h-1zM456.9,461.8h1v1h-1zM481.5,451.3h1v1h-1zM485.1,461.4h1v1h-1zM468.4,468.4h1v1h-1zM493.6,453.2h1v1h-1zM472.9,457.3h1v1h-1zM479.2,450.0h1v1h-1zM467.6,465.8h1v1h-1zM468.8,467.2h1v1h-1zM473.2,471.1h1v1h-1zM486.5,442.6h1v1h-1zM477.8,451.7h1v1h-1zM463.5,462.7h1v1h-1zM481.9,459.3h1v1h-1zM482.4,470.3h1v1h-1zM474.2,460.2h1v1h-1zM475.6,469.1h1v1h-1zM460.6,453.4h1v1h-1zM456.9,448.6h1v1h-1zM474.1,450.6h1v1h-1zM461.9,451.8h1v1h-1zM482.7,474.8h1v1h-1zM471.7,446.9h1v1h-1zM472.4,448.0h1v1h-1zM473.9,461.0h1v1h-1zM491.6,446.7h1v1h-1zM468.8,445.9h1v1h-1zM482.2,444.7h1v1h-1zM484.6,472.1h1v1h-1zM451.5,465.0h1v1h-1zM495.6,455.3h1v1h-1zM469.7,474.3h1v1h-1zM468.0,453.2h1v1h-1zM460.3,460.7h1v1h-1zM484.9,446.5h1v1h-1zM479.5,459.3h1v1h-1zM487.7,453.3h1v1h-1zM461.9,456.5h1v1h-1zM475.4,451.6h1v1h-1zM460.0,460.6h1v1h-1zM452.8,442.8h1v1h-1zM469.1,440.8h1v1h-1zM475.9,438.2h1v1h-1zM468.2,458.4h1v1h-1zM485.3,445.9h1v1h-1zM473.4,466.2h1v1h-1zM461.4,458.0h1v1h-1zM482.8,465.3h1v1h-1zM469.7,457.8h1v1h-1zM462.5,459.7h1v1h-1zM475.1,449.1h1v1h-1zM496.8,460.7h1v1h-1zM461.2,454.6h1v1h-1zM475.8,443.9h1v1h-1zM460.4,461.7h1v1h-1zM469.6,453.7h1v1h-1zM481.9,451.6h1v1h-1zM453.9,443.2h1v1h-1zM468.7,452.4h1v1h-1zM466.1,445.5h1v1h-1zM451.0,451.8h1v1h-1zM475.0,457.0h1v1h-1zM457.4,448.2h1v1h-1zM472.1,430.3h1v1h-1zM478.1,453.3h1v1h-1zM469.2,454.3h1v1h-1zM467.8,447.6h1v1h-1zM482.4,457.6h1v1h-1zM473.9,451.6h1v1h-1zM449.4,449.6h1v1h-1zM445.4,448.0h1v1h-1zM474.3,451.6h1v1h-1zM471.2,470.0h1v1h-1zM476.4,464.2h1v1h-1zM466.7,451.0h1v1h-1zM454.9,469.0h1v1h-1zM482.8,453.5h1v1h-1zM475.4,456.7h1v1h-1zM485.3,459.4h1v1h-1zM469.2,443.7h1v1h-1zM443.2,430.8h1v1h-1zM467.6,466.2h1v1h-1zM462.4,451.8h1v1h-1zM477.1,470.3h1v1h-1zM444.3,452.8h1v1h-1zM464.8,462.4h1v1h-1zM465.9,436.8h1v1h-1zM444.1,437.5h1v1h-1zM465.6,443.5h1v1h-1zM455.0,474.0h1v1h-1zM453.5,451.1h1v1h-1zM483.6,454.1h1v1h-1zM447.7,454.3h1v1h-1zM469.9,467.6h1v1h-1zM461.1,438.8h1v1h-1zM465.7,443.0h1v1h-1zM472.4,460.6h1v1h-1zM469.3,453.6h1v1h-1zM456.5,440.2h1v1h-1zM473.5,468.2h1v1h-1zM459.0,432.8h1v1h-1zM469.5,456.7h1v1h-1zM460.7,435.2h1v1h-1zM485.2,435.1h1v1h-1zM475.7,462.5h1v1h-1zM484.7,453.5h1v1h-1zM480.5,451.6h1v1h-1zM478.3,467.4h1v1h-1zM469.7,436.7h1v1h-1zM474.8,424.0h1v1h-1zM485.6,447.8h1v1h-1zM463.9,464.0h1v1h-1zM479.9,459.0h1v1h-1zM463.6,461.3h1v1h-1zM471.6,450.5h1v1h-1zM461.2,458.8h1v1h-1zM461.6,467.2h1v1h-1zM450.0,444.0h1v1h-1zM472.1,437.0h1v1h-1zM490.8,440.0h1v1h-1zM463.2,449.9h1v1h-1zM472.0,468.0h1v1h-1zM465.2,448.9h1v1h-1zM484.5,453.9h1v1h-1zM478.7,454.5h1v1h-1zM464.3,447.8h1v1h-1zM458.9,446.1h1v1h-1zM472.0,453.5h1v1h-1zM478.8,455.1h1v1h-1zM474.6,445.3h1v1h-1zM451.8,464.2h1v1h-1zM490.0,451.1h1v1h-1zM479.7,445.2h1v1h-1zM459.9,457.9h1v1h-1zM479.6,459.8h1v1h-1zM482.4,454.9h1v1h-1zM468.4,455.0h1v1h-1zM460.1,450.4h1v1h-1zM451.4,442.3h1v1h-1zM478.7,448.5h1v1h-1zM444.5,442.6h1v1h-1zM478.7,453.3h1v1h-1zM469.0,459.9h1v1h-1zM482.9,450.9h1v1h-1zM472.7,474.0h1v1h-1zM476.8,448.6h1v1h-1zM460.7,449.4h1v1h-1zM482.9,433.4h1v1h-1zM477.1,449.7h1v1h-1zM477.1,455.9h1v1h-1zM452.3,449.1h1v1h-1zM447.7,452.5h1v1h-1zM461.4,463.1h1v1h-1zM449.5,456.8h1v1h-1zM459.1,449.0h1v1h-1zM451.0,472.5h1v1h-1zM467.4,454.8h1v1h-1zM495.6,436.6h1v1h-1zM468.9,444.7h1v1h-1zM466.9,449.8h1v1h-1zM475.7,461.5h1v1h-1zM470.7,465.8h1v1h-1zM466.3,441.1h1v1h-1zM450.9,462.5h1v1h-1zM466.0,458.8h1v1h-1zM478.0,444.9h1v1h-1zM484.5,461.4h1v1h-1zM488.4,461.1h1v1h-1zM457.2,459.8h1v1h-1zM471.4,439.6h1v1h-1zM479.8,451.4h1v1h-1zM474.6,470.5h1v1h-1zM484.7,449.9h1v1h-1zM478.2,464.3h1v1h-1zM471.8,464.9h1v1h-1zM476.5,449.6h1v1h-1zM485.7,451.6h1v1h-1zM464.7,450.2h1v1h-1zM450.0,464.7h1v1h-1zM456.5,435.7h1v1h-1zM473.7,432.0h1v1h-1zM466.8,461.5h1v1h-1zM473.9,457.8h1v1h-1zM466.8,444.5h1v1h-1zM473.2,461.8h1v1h-1zM469.3,463.8h1v1h-1zM442.9,444.8h1v1h-1zM440.5,449.7h1v1h-1zM471.8,441.2h1v1h-1zM463.9,453.1h1v1h-1zM460.9,451.7h1v1h-1zM480.8,454.1h1v1h-1zM481.7,458.5h1v1h-1zM464.2,454.8h1v1h-1zM480.3,448.4h1v1h-1zM462.6,466.4h1v1h-1zM479.4,460.5h1v1h-1zM464.1,452.2h1v1h-1zM474.4,458.2h1v1h-1zM479.8,443.0h1v1h-1zM480.0,443.9h1v1h-1zM459.3,449.1h1v1h-1zM464.0,464.5h1v1h-1zM483.5,475.3h1v1h-1zM462.3,455.6h1v1h-1zM484.8,436.7h1v1h-1zM479.0,473.0h1v1h-1zM481.0,446.6h1v1h-1zM469.0,455.5h1v1h-1zM462.4,443.6h1v1h-1zM483.0,445.3h1v1h-1zM481.9,443.2h1v1h-1zM461.2,431.0h1v1h-1zM442.0,472.8h1v1h-1zM462.8,450.1h1v1h-1zM479.6,439.5h1v1h-1zM470.0,465.4h1v1h-1zM479.1,468.9h1v1h-1zM468.5,438.8h1v1h-1zM470.2,459.3h1v1h-1zM458.5,450.9h1v1h-1zM469.7,476.1h1v1h-1zM462.6,446.1h1v1h-1zM467.9,447.6h1v1h-1zM470.6,448.8h1v1h-1zM456.2,447.0h1v1h-1zM448.5,471.0h1v1h-1zM485.5,452.8h1v1h-1zM472.4,460.9h1v1h-1zM473.7,445.0h1v1h-1zM460.2,462.2h1v1h-1zM467.1,458.3h1v1h-1zM465.6,462.9h1v1h-1zM468.4,456.5h1v1h-1zM476.5,433.7h1v1h-1zM480.3,467.4h1v1h-1zM464.7,437.6h1v1h-1zM474.4,445.1h1v1h-1zM458.9,469.7h1v1h-1zM468.8,443.1h1v1h-1zM455.6,457.9h1v1h-1zM473.8,458.0h1v1h-1zM457.3,447.1h1v1h-1zM469.8,450.0h1v1h-1zM470.8,450.6h1v1h-1zM469.5,455.8h1v1h-1zM477.3,467.0h1v1h-1zM469.6,433.5h1v1h-1zM486.1,438.7h1v1h-1zM472.8,466.1h1v1h-1zM477.0,467.4h1v1h-1zM470.2,476.3h1v1h-1zM476.0,437.4h1v1h-1zM478.2,450.8h1v1h-1zM482.2,446.9h1v1h-1zM479.5,441.0h1v1h-1zM466.9,452.9h1v1h-1zM482.8,445.8h1v1h-1zM473.7,465.3h1v1h-1zM449.9,469.7h1v1h-1zM469.0,456.2h1v1h-1zM491.8,453.5h1v1h-1zM478.2,466.7h1v1h-1zM486.5,466.4h1v1h-1zM463.3,457.9h1v1h-1zM454.0,441.6h1v1h-1zM466.7,450.9h1v1h-1zM463.8,446.3h1v1h-1zM489.0,440.7h1v1h-1zM476.0,441.3h1v1h-1zM473.6,445.4h1v1h-1zM451.1,433.6h1v1h-1zM483.1,466.5h1v1h-1zM466.9,452.2h1v1h-1zM473.9,438.3h1v1h-1zM465.0,437.2h1v1h-1zM463.6,454.0h1v1h-1zM466.5,471.6h1v1h-1zM477.1,448.2h1v1h-1zM472.7,449.4h1v1h-1zM461.3,469.5h1v1h-1zM468.1,448.1h1v1h-1zM485.9,451.1h1v1h-1zM481.3,427.2h1v1h-1zM477.8,442.6h1v1h-1zM465.7,463.1h1v1h-1zM489.6,430.7h1v1h-1zM484.9,450.9h1v1h-1zM464.7,464.6h1v1h-1zM468.6,448.2h1v1h-1zM467.6,451.7h1v1h-1zM464.3,465.0h1v1h-1zM488.5,444.8h1v1h-1zM462.7,452.6h1v1h-1zM461.5,454.9h1v1h-1zM471.7,453.9h1v1h-1zM461.9,457.0h1v1h-1zM455.8,450.0h1v1h-1zM468.3,454.4h1v1h-1zM479.3,452.1h1v1h-1zM458.9,458.2h1v1h-1zM468.4,461.9h1v1h-1zM488.4,469.4h1v1h-1zM469.8,443.9h1v1h-1zM472.6,452.0h1v1h-1zM461.7,438.4h1v1h-1zM482.8,444.0h1v1h-1zM481.5,464.8h1v1h-1zM459.6,458.1h1v1h-1zM469.1,439.2h1v1h-1zM463.0,455.3h1v1h-1zM480.6,446.6h1v1h-1zM467.6,464.5h1v1h-1zM465.5,447.0h1v1h-1zM453.0,458.3h1v1h-1zM462.1,444.1h1v1h-1zM464.8,446.3h1v1h-1zM478.5,440.9h1v1h-1zM479.5,457.5h1v1h-1zM459.4,442.8h1v1h-1zM462.0,453.2h1v1h-1zM478.6,453.1h1v1h-1zM461.3,444.0h1v1h-1zM488.0,449.3h1v1h-1zM489.3,452.9h1v1h-1zM465.8,450.1h1v1h-1zM475.5,462.0h1v1h-1zM465.8,459.1h1v1h-1zM455.6,437.2h1v1h-1zM452.2,449.1h1v1h-1zM462.5,461.0h1v1h-1zM466.0,449.5h1v1h-1zM466.5,439.0h1v1h-1zM456.1,473.4h1v1h-1zM476.3,439.2h1v1h-1zM456.3,457.5h1v1h-1zM445.5,430.4h1v1h-1zM464.7,448.0h1v1h-1zM478.5,443.0h1v1h-1zM455.7,458.3h1v1h-1zM459.1,455.3h1v1h-1zM448.9,450.0h1v1h-1zM490.0,439.3h1v1h-1zM469.2,452.6h1v1h-1zM471.3,452.3h1v1h-1zM478.0,447.0h1v1h-1zM459.5,455.8h1v1h-1zM472.4,435.4h1v1h-1zM478.1,450.0h1v1h-1zM480.7,453.9h1v1h-1zM456.1,450.0h1v1h-1zM477.5,464.4h1v1h-1zM467.9,460.4h1v1h-1zM484.5,456.8h1v1h-1zM485.9,460.5h1v1h-1zM459.3,441.2h1v1h-1zM460.8,471.3h1v1h-1zM482.9,444.6h1v1h-1z" fill="#bbb"/>
<rect x="437.9" y="416.5" width="65.10000000000002" height="61.5" fill="none" stroke="#555" stroke-width="1.0"/>
<line x1="461.7" y1="416.5" x2="461.7" y2="478.0" stroke="#777" stroke-width="1.0"/>
<line x1="437.9" y1="457.0" x2="503.0" y2="457.0" stroke="#666" stroke-width="1.0"/>
<text x="449.1" y="427.4" font-size="9.2" font-weight="bold" text-anchor="middle" stroke="#111" stroke-width="0.2">61</text>
<text x="496.3" y="427.4" font-size="9.2" font-weight="bold" text-anchor="middle" stroke="#111" stroke-width="0.2">8</text>
<text x="496.4" y="471.9" font-size="9.2" font-weight="bold" text-anchor="middle" stroke="#111" stroke-width="0.2">7</text>
<text transform="translate(435.7,480.2) rotate(-90)" font-size="4.4" fill="#333" stroke="#333" stroke-width="0.15">10</text>
<text transform="translate(433.29999999999995,476.0) rotate(-90)" font-size="3.0" fill="#333" stroke="#333" stroke-width="0.1">0</text>
<text x="437.29999999999995" y="484.4" font-size="4.6" text-anchor="middle" fill="#333" stroke="#333" stroke-width="0.15">10</text>
<text x="440.5" y="482.4" font-size="3.2" text-anchor="middle" fill="#333" stroke="#333" stroke-width="0.1">0</text>
<text transform="translate(435.7,464.825) rotate(-90)" font-size="4.4" fill="#333" stroke="#333" stroke-width="0.15">10</text>
<text transform="translate(433.29999999999995,460.625) rotate(-90)" font-size="3.0" fill="#333" stroke="#333" stroke-width="0.1">1</text>
<text x="453.57499999999993" y="484.4" font-size="4.6" text-anchor="middle" fill="#333" stroke="#333" stroke-width="0.15">10</text>
<text x="456.775" y="482.4" font-size="3.2" text-anchor="middle" fill="#333" stroke="#333" stroke-width="0.1">1</text>
<text transform="translate(435.7,449.45) rotate(-90)" font-size="4.4" fill="#333" stroke="#333" stroke-width="0.15">10</text>
<text transform="translate(433.29999999999995,445.25) rotate(-90)" font-size="3.0" fill="#333" stroke="#333" stroke-width="0.1">2</text>
<text x="469.84999999999997" y="484.4" font-size="4.6" text-anchor="middle" fill="#333" stroke="#333" stroke-width="0.15">10</text>
<text x="473.05" y="482.4" font-size="3.2" text-anchor="middle" fill="#333" stroke="#333" stroke-width="0.1">2</text>
<text transform="translate(435.7,434.075) rotate(-90)" font-size="4.4" fill="#333" stroke="#333" stroke-width="0.15">10</text>
<text transform="translate(433.29999999999995,429.875) rotate(-90)" font-size="3.0" fill="#333" stroke="#333" stroke-width="0.1">3</text>
<text x="486.125" y="484.4" font-size="4.6" text-anchor="middle" fill="#333" stroke="#333" stroke-width="0.15">10</text>
<text x="489.32500000000005" y="482.4" font-size="3.2" text-anchor="middle" fill="#333" stroke="#333" stroke-width="0.1">3</text>
<text transform="translate(435.7,418.7) rotate(-90)" font-size="4.4" fill="#333" stroke="#333" stroke-width="0.15">10</text>
<text transform="translate(433.29999999999995,414.5) rotate(-90)" font-size="3.0" fill="#333" stroke="#333" stroke-width="0.1">4</text>
<text x="502.4" y="484.4" font-size="4.6" text-anchor="middle" fill="#333" stroke="#333" stroke-width="0.15">10</text>
<text x="505.6" y="482.4" font-size="3.2" text-anchor="middle" fill="#333" stroke="#333" stroke-width="0.1">4</text>
</svg>
</body></html>
